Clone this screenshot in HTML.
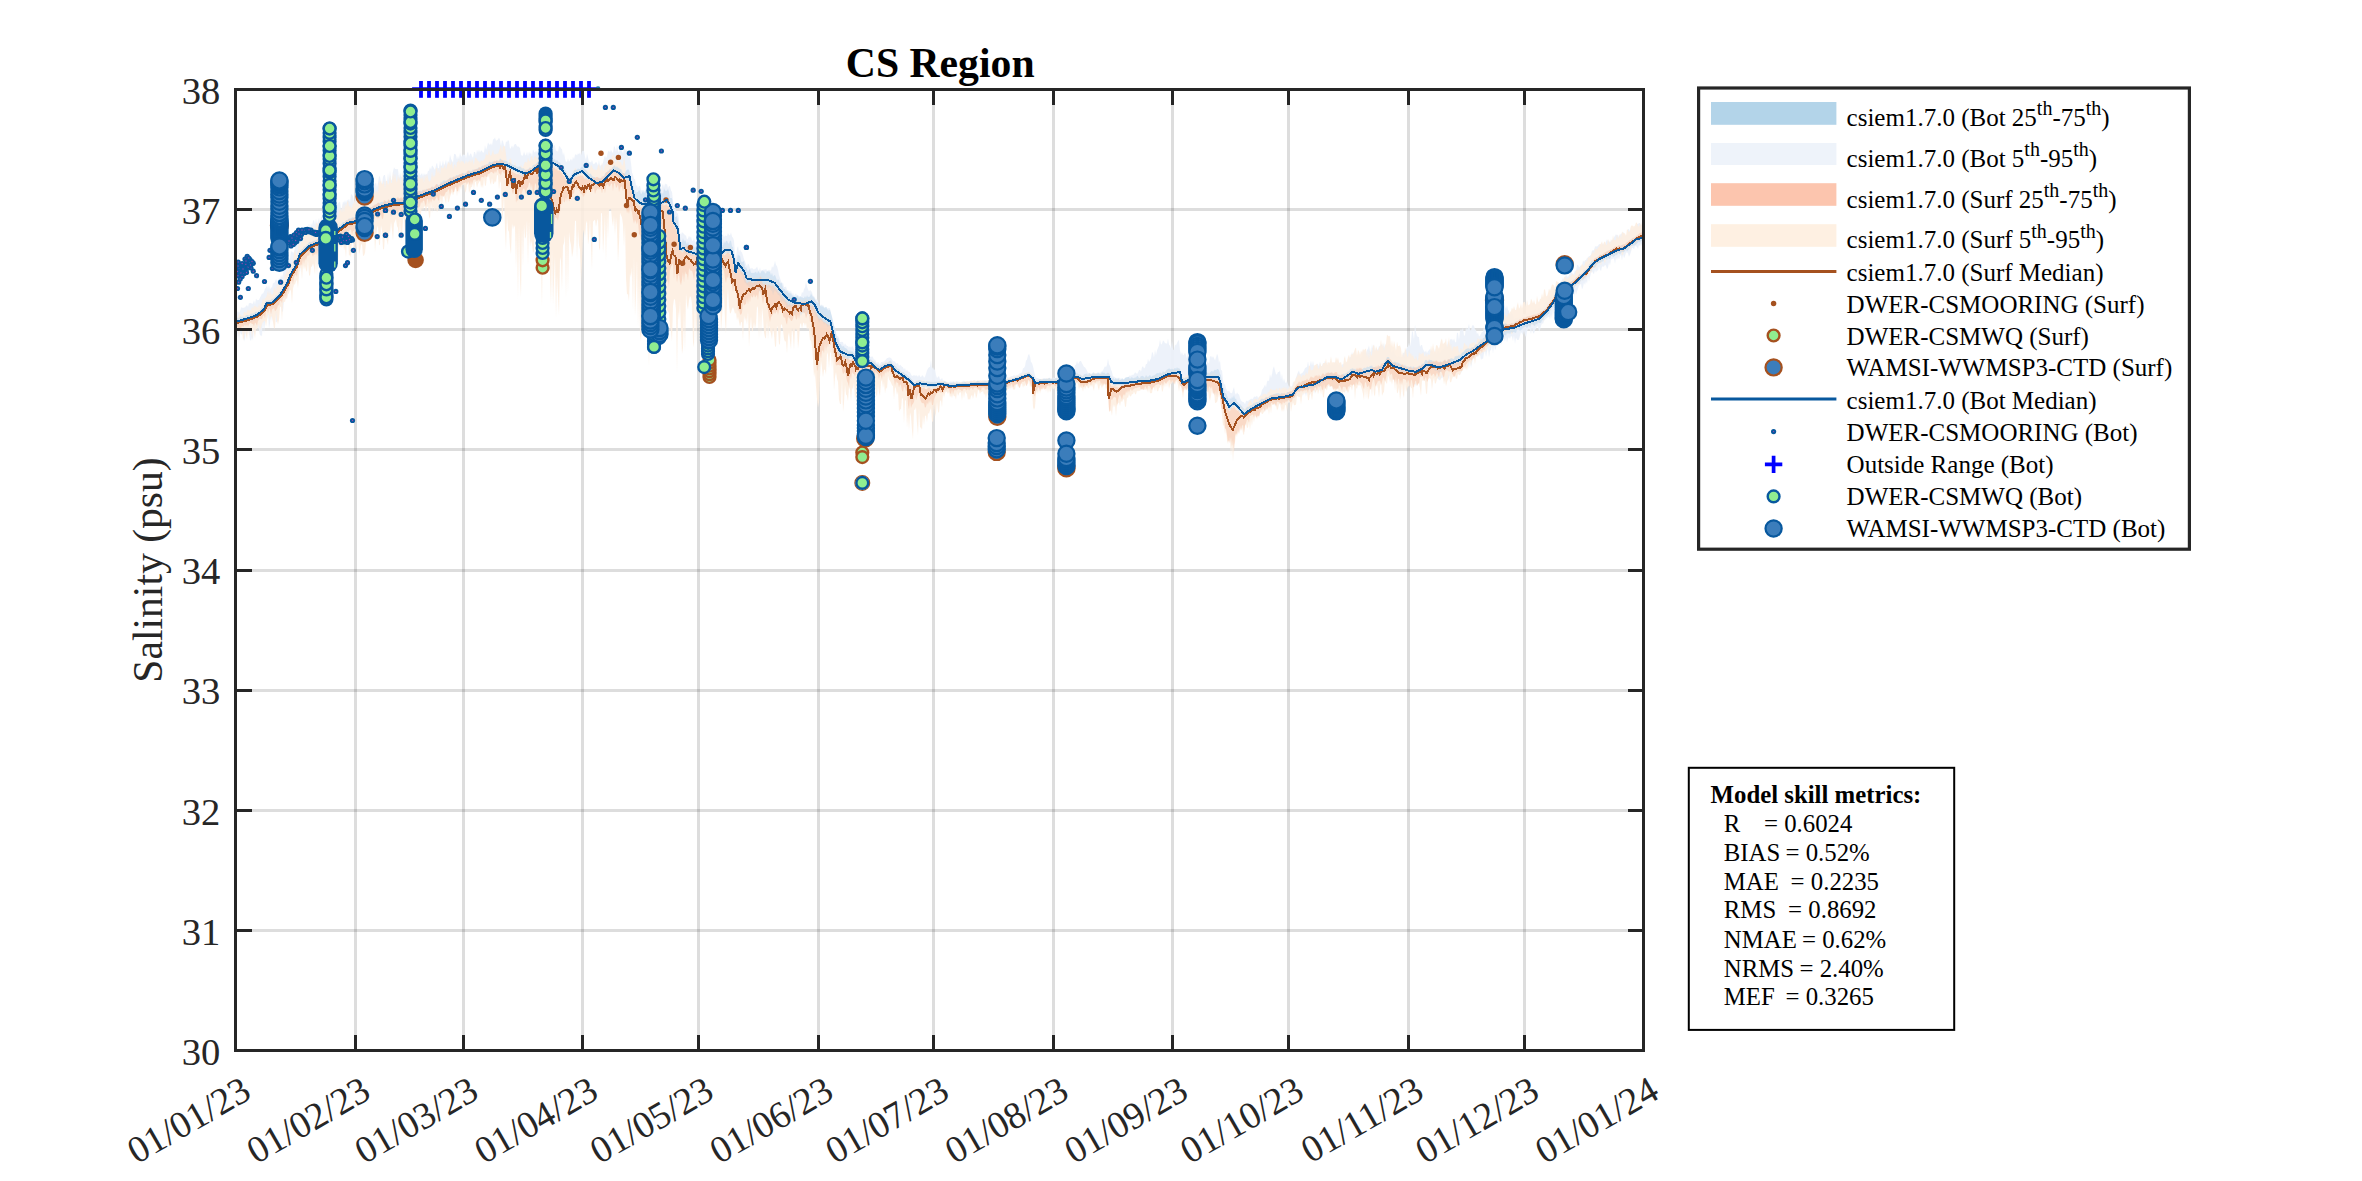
<!DOCTYPE html>
<html><head><meta charset="utf-8"><title>CS Region Salinity</title>
<style>html,body{margin:0;padding:0;background:#fff;}body{width:2362px;height:1181px;overflow:hidden;position:relative;font-family:"Liberation Serif",serif;}</style></head>
<body>
<svg width="2362" height="1181" viewBox="0 0 2362 1181" style="position:absolute;left:0;top:0">
<rect width="2362" height="1181" fill="#ffffff"/>
<g stroke="#262626" stroke-opacity="0.155" stroke-width="3" fill="none" shape-rendering="crispEdges">
<line x1="355.18" y1="89.5" x2="355.18" y2="1050.5"/>
<line x1="463.19" y1="89.5" x2="463.19" y2="1050.5"/>
<line x1="582.78" y1="89.5" x2="582.78" y2="1050.5"/>
<line x1="698.50" y1="89.5" x2="698.50" y2="1050.5"/>
<line x1="818.09" y1="89.5" x2="818.09" y2="1050.5"/>
<line x1="933.81" y1="89.5" x2="933.81" y2="1050.5"/>
<line x1="1053.40" y1="89.5" x2="1053.40" y2="1050.5"/>
<line x1="1172.98" y1="89.5" x2="1172.98" y2="1050.5"/>
<line x1="1288.71" y1="89.5" x2="1288.71" y2="1050.5"/>
<line x1="1408.29" y1="89.5" x2="1408.29" y2="1050.5"/>
<line x1="1524.02" y1="89.5" x2="1524.02" y2="1050.5"/>
<line x1="235.6" y1="930.38" x2="1643.6" y2="930.38"/>
<line x1="235.6" y1="810.25" x2="1643.6" y2="810.25"/>
<line x1="235.6" y1="690.12" x2="1643.6" y2="690.12"/>
<line x1="235.6" y1="570.00" x2="1643.6" y2="570.00"/>
<line x1="235.6" y1="449.88" x2="1643.6" y2="449.88"/>
<line x1="235.6" y1="329.75" x2="1643.6" y2="329.75"/>
<line x1="235.6" y1="209.62" x2="1643.6" y2="209.62"/>
</g>
<g stroke="none">
<path d="M236.0,313.5 L237.0,312.5 L238.0,310.9 L239.0,313.0 L240.0,311.4 L241.0,307.5 L242.0,307.6 L243.0,308.0 L244.0,307.4 L245.0,307.4 L246.0,306.1 L247.0,305.1 L248.0,306.9 L249.0,303.1 L250.0,303.3 L251.0,302.8 L252.0,304.1 L253.0,303.3 L254.0,300.2 L255.0,304.2 L256.0,298.6 L257.0,300.2 L258.0,299.9 L259.0,299.9 L260.0,297.4 L261.0,295.7 L262.0,293.6 L263.0,293.8 L264.0,291.5 L265.0,288.7 L266.0,287.5 L267.0,285.5 L268.0,288.9 L269.0,284.7 L270.0,289.7 L271.0,287.2 L272.0,287.7 L273.0,282.7 L274.0,283.4 L275.0,281.4 L276.0,279.1 L277.0,280.7 L278.0,281.0 L279.0,277.7 L280.0,279.6 L281.0,275.1 L282.0,277.7 L283.0,273.7 L284.0,267.2 L285.0,268.8 L286.0,265.4 L287.0,264.2 L288.0,258.7 L289.0,260.0 L290.0,258.6 L291.0,250.6 L292.0,252.5 L293.0,251.8 L294.0,253.4 L295.0,246.5 L296.0,244.8 L297.0,241.2 L298.0,237.9 L299.0,240.7 L300.0,233.1 L301.0,235.8 L302.0,231.8 L303.0,232.7 L304.0,231.8 L305.0,231.4 L306.0,226.3 L307.0,227.2 L308.0,228.5 L309.0,223.2 L310.0,228.0 L311.0,222.9 L312.0,225.8 L313.0,220.7 L314.0,220.0 L315.0,224.2 L316.0,218.7 L317.0,224.3 L318.0,221.0 L319.0,217.9 L320.0,223.2 L321.0,216.9 L322.0,216.4 L323.0,222.2 L324.0,215.4 L325.0,219.2 L326.0,217.9 L327.0,212.6 L328.0,220.9 L329.0,211.6 L330.0,215.0 L331.0,209.4 L332.0,210.2 L333.0,210.1 L334.0,212.9 L335.0,212.6 L336.0,208.2 L337.0,205.1 L338.0,203.3 L339.0,202.2 L340.0,201.6 L341.0,209.6 L342.0,207.1 L343.0,201.3 L344.0,203.0 L345.0,200.1 L346.0,202.9 L347.0,199.8 L348.0,200.8 L349.0,198.7 L350.0,202.2 L351.0,194.1 L352.0,194.8 L353.0,196.6 L354.0,202.4 L355.0,199.8 L356.0,197.6 L357.0,193.1 L358.0,200.1 L359.0,198.6 L360.0,188.8 L361.0,197.6 L362.0,194.4 L363.0,193.3 L364.0,190.0 L365.0,193.6 L366.0,193.6 L367.0,186.4 L368.0,192.7 L369.0,188.8 L370.0,183.5 L371.0,182.6 L372.0,186.0 L373.0,184.6 L374.0,184.7 L375.0,183.8 L376.0,182.5 L377.0,187.3 L378.0,182.8 L379.0,176.5 L380.0,176.4 L381.0,183.0 L382.0,184.0 L383.0,177.0 L384.0,174.9 L385.0,175.1 L386.0,182.2 L387.0,182.9 L388.0,172.8 L389.0,180.9 L390.0,170.3 L391.0,180.8 L392.0,179.0 L393.0,171.4 L394.0,167.3 L395.0,168.9 L396.0,168.9 L397.0,169.2 L398.0,169.1 L399.0,178.6 L400.0,172.3 L401.0,176.8 L402.0,177.0 L403.0,170.9 L404.0,176.1 L405.0,176.3 L406.0,179.5 L407.0,168.7 L408.0,171.4 L409.0,172.0 L410.0,172.2 L411.0,174.3 L412.0,169.6 L413.0,178.3 L414.0,169.5 L415.0,174.4 L416.0,177.0 L417.0,176.8 L418.0,175.5 L419.0,171.8 L420.0,175.6 L421.0,174.5 L422.0,173.0 L423.0,175.9 L424.0,173.0 L425.0,175.4 L426.0,173.6 L427.0,174.8 L428.0,171.1 L429.0,170.8 L430.0,166.9 L431.0,169.7 L432.0,165.5 L433.0,166.3 L434.0,168.3 L435.0,170.0 L436.0,165.0 L437.0,162.5 L438.0,168.6 L439.0,168.0 L440.0,160.6 L441.0,166.1 L442.0,164.9 L443.0,160.0 L444.0,166.0 L445.0,163.3 L446.0,159.7 L447.0,165.3 L448.0,160.5 L449.0,162.6 L450.0,154.6 L451.0,158.6 L452.0,161.1 L453.0,162.5 L454.0,154.2 L455.0,153.7 L456.0,155.1 L457.0,159.5 L458.0,155.8 L459.0,159.3 L460.0,152.4 L461.0,156.3 L462.0,156.4 L463.0,154.1 L464.0,155.3 L465.0,154.3 L466.0,158.3 L467.0,153.8 L468.0,151.2 L469.0,156.4 L470.0,153.9 L471.0,153.3 L472.0,156.1 L473.0,158.0 L474.0,152.1 L475.0,152.1 L476.0,155.5 L477.0,149.8 L478.0,152.4 L479.0,149.5 L480.0,152.8 L481.0,150.3 L482.0,151.3 L483.0,152.8 L484.0,152.2 L485.0,145.1 L486.0,150.0 L487.0,147.1 L488.0,142.5 L489.0,143.9 L490.0,145.1 L491.0,143.1 L492.0,145.6 L493.0,139.4 L494.0,139.0 L495.0,137.4 L496.0,141.1 L497.0,140.1 L498.0,139.4 L499.0,137.5 L500.0,139.8 L501.0,146.1 L502.0,139.8 L503.0,141.5 L504.0,145.1 L505.0,146.9 L506.0,141.2 L507.0,142.3 L508.0,139.7 L509.0,141.2 L510.0,149.0 L511.0,147.7 L512.0,145.3 L513.0,148.0 L514.0,144.9 L515.0,143.9 L516.0,144.0 L517.0,146.5 L518.0,146.6 L519.0,146.7 L520.0,148.3 L521.0,154.8 L522.0,155.7 L523.0,155.6 L524.0,151.4 L525.0,154.5 L526.0,155.6 L527.0,151.6 L528.0,156.2 L529.0,151.6 L530.0,154.2 L531.0,152.2 L532.0,156.5 L533.0,149.6 L534.0,151.4 L535.0,152.7 L536.0,150.4 L537.0,152.7 L538.0,150.9 L539.0,151.3 L540.0,147.9 L541.0,145.6 L542.0,147.6 L543.0,150.1 L544.0,148.3 L545.0,146.0 L546.0,144.5 L547.0,148.4 L548.0,143.8 L549.0,143.5 L550.0,142.4 L551.0,147.8 L552.0,143.5 L553.0,147.2 L554.0,144.7 L555.0,146.0 L556.0,150.9 L557.0,150.5 L558.0,152.0 L559.0,146.3 L560.0,146.4 L561.0,148.4 L562.0,149.0 L563.0,155.4 L564.0,152.2 L565.0,158.7 L566.0,161.7 L567.0,161.6 L568.0,158.6 L569.0,161.6 L570.0,160.6 L571.0,158.5 L572.0,161.0 L573.0,156.7 L574.0,159.3 L575.0,154.8 L576.0,154.3 L577.0,155.5 L578.0,153.2 L579.0,154.6 L580.0,152.4 L581.0,155.4 L582.0,151.6 L583.0,150.5 L584.0,151.2 L585.0,156.7 L586.0,159.8 L587.0,153.4 L588.0,157.5 L589.0,162.2 L590.0,161.5 L591.0,162.8 L592.0,159.8 L593.0,163.5 L594.0,164.2 L595.0,163.1 L596.0,162.1 L597.0,162.9 L598.0,165.7 L599.0,159.8 L600.0,166.6 L601.0,164.7 L602.0,165.1 L603.0,162.7 L604.0,158.0 L605.0,155.5 L606.0,158.2 L607.0,156.1 L608.0,151.5 L609.0,150.7 L610.0,152.3 L611.0,149.4 L612.0,151.9 L613.0,153.0 L614.0,146.1 L615.0,147.2 L616.0,151.9 L617.0,144.4 L618.0,150.4 L619.0,153.1 L620.0,146.7 L621.0,148.1 L622.0,151.6 L623.0,153.2 L624.0,149.2 L625.0,148.7 L626.0,151.1 L627.0,149.3 L628.0,156.6 L629.0,158.0 L630.0,155.9 L631.0,163.1 L632.0,172.6 L633.0,175.1 L634.0,179.1 L635.0,179.3 L636.0,185.7 L637.0,184.9 L638.0,188.1 L639.0,186.0 L640.0,185.9 L641.0,190.1 L642.0,190.7 L643.0,189.5 L644.0,190.7 L645.0,191.1 L646.0,187.2 L647.0,190.9 L648.0,187.6 L649.0,191.8 L650.0,189.1 L651.0,192.2 L652.0,187.5 L653.0,186.0 L654.0,185.7 L655.0,190.7 L656.0,188.9 L657.0,191.2 L658.0,190.7 L659.0,189.4 L660.0,188.0 L661.0,190.3 L662.0,186.1 L663.0,183.7 L664.0,187.6 L665.0,183.5 L666.0,184.5 L667.0,184.1 L668.0,188.0 L669.0,186.0 L670.0,186.2 L671.0,190.5 L672.0,192.1 L673.0,200.5 L674.0,209.5 L675.0,207.7 L676.0,210.3 L677.0,213.4 L678.0,213.3 L679.0,219.8 L680.0,232.7 L681.0,234.8 L682.0,232.1 L683.0,233.3 L684.0,233.8 L685.0,235.5 L686.0,235.3 L687.0,239.6 L688.0,238.5 L689.0,235.8 L690.0,237.8 L691.0,236.7 L692.0,240.2 L693.0,241.0 L694.0,237.8 L695.0,241.8 L696.0,242.4 L697.0,243.0 L698.0,244.1 L699.0,243.6 L700.0,241.9 L701.0,240.2 L702.0,240.1 L703.0,242.9 L704.0,244.0 L705.0,241.6 L706.0,241.1 L707.0,242.7 L708.0,243.1 L709.0,242.8 L710.0,239.8 L711.0,242.7 L712.0,238.9 L713.0,242.1 L714.0,237.8 L715.0,237.1 L716.0,240.4 L717.0,240.1 L718.0,240.6 L719.0,241.3 L720.0,239.8 L721.0,241.4 L722.0,235.7 L723.0,234.3 L724.0,237.2 L725.0,235.2 L726.0,236.0 L727.0,235.8 L728.0,232.9 L729.0,235.1 L730.0,235.3 L731.0,232.6 L732.0,236.5 L733.0,237.8 L734.0,240.6 L735.0,254.0 L736.0,257.3 L737.0,248.6 L738.0,245.9 L739.0,252.6 L740.0,249.1 L741.0,251.4 L742.0,252.4 L743.0,255.4 L744.0,259.3 L745.0,261.4 L746.0,264.3 L747.0,266.5 L748.0,263.5 L749.0,264.7 L750.0,268.3 L751.0,268.7 L752.0,267.8 L753.0,269.0 L754.0,269.6 L755.0,268.8 L756.0,268.5 L757.0,266.4 L758.0,269.2 L759.0,271.1 L760.0,267.4 L761.0,271.3 L762.0,269.9 L763.0,270.0 L764.0,269.3 L765.0,269.9 L766.0,268.7 L767.0,270.7 L768.0,270.5 L769.0,269.8 L770.0,270.6 L771.0,270.4 L772.0,266.1 L773.0,268.0 L774.0,264.7 L775.0,260.9 L776.0,264.7 L777.0,266.2 L778.0,269.8 L779.0,275.2 L780.0,278.2 L781.0,281.3 L782.0,283.4 L783.0,282.4 L784.0,286.9 L785.0,287.1 L786.0,286.4 L787.0,290.0 L788.0,290.4 L789.0,290.5 L790.0,291.9 L791.0,290.3 L792.0,294.4 L793.0,292.4 L794.0,295.6 L795.0,294.6 L796.0,293.2 L797.0,295.5 L798.0,294.8 L799.0,296.3 L800.0,296.9 L801.0,295.8 L802.0,292.1 L803.0,293.0 L804.0,289.3 L805.0,287.2 L806.0,281.6 L807.0,286.5 L808.0,289.3 L809.0,291.4 L810.0,290.0 L811.0,290.8 L812.0,292.4 L813.0,295.8 L814.0,295.9 L815.0,297.9 L816.0,299.7 L817.0,298.9 L818.0,301.0 L819.0,305.2 L820.0,306.5 L821.0,305.7 L822.0,304.3 L823.0,306.8 L824.0,308.4 L825.0,308.4 L826.0,308.5 L827.0,309.5 L828.0,308.2 L829.0,307.9 L830.0,308.4 L831.0,313.9 L832.0,317.0 L833.0,320.2 L834.0,325.3 L835.0,327.9 L836.0,332.4 L837.0,335.8 L838.0,336.3 L839.0,338.1 L840.0,342.0 L841.0,342.1 L842.0,341.7 L843.0,342.3 L844.0,345.5 L845.0,343.2 L846.0,345.1 L847.0,346.1 L848.0,346.0 L849.0,347.7 L850.0,346.1 L851.0,347.9 L852.0,346.1 L853.0,346.9 L854.0,349.3 L855.0,353.4 L856.0,352.2 L857.0,353.3 L858.0,354.3 L859.0,353.6 L860.0,355.3 L861.0,354.9 L862.0,355.6 L863.0,355.8 L864.0,354.8 L865.0,356.6 L866.0,356.4 L867.0,356.6 L868.0,355.7 L869.0,354.9 L870.0,356.5 L871.0,357.0 L872.0,356.2 L873.0,357.3 L874.0,359.8 L875.0,359.5 L876.0,361.6 L877.0,363.2 L878.0,361.7 L879.0,362.9 L880.0,364.5 L881.0,362.0 L882.0,362.1 L883.0,361.8 L884.0,361.5 L885.0,360.5 L886.0,359.5 L887.0,358.0 L888.0,357.9 L889.0,357.3 L890.0,357.8 L891.0,358.0 L892.0,359.6 L893.0,360.9 L894.0,361.3 L895.0,361.4 L896.0,363.5 L897.0,363.5 L898.0,362.9 L899.0,366.1 L900.0,364.7 L901.0,365.4 L902.0,366.8 L903.0,367.3 L904.0,369.7 L905.0,367.8 L906.0,371.6 L907.0,369.6 L908.0,371.5 L909.0,371.7 L910.0,372.2 L911.0,374.6 L912.0,376.0 L913.0,375.8 L914.0,375.1 L915.0,375.7 L916.0,375.4 L917.0,375.6 L918.0,376.9 L919.0,374.6 L920.0,376.4 L921.0,377.0 L922.0,375.5 L923.0,375.5 L924.0,377.7 L925.0,376.8 L926.0,373.7 L927.0,370.4 L928.0,368.6 L929.0,367.3 L930.0,367.0 L931.0,360.1 L932.0,368.7 L933.0,366.9 L934.0,370.1 L935.0,369.2 L936.0,374.9 L937.0,377.9 L938.0,377.0 L939.0,376.1 L940.0,379.2 L941.0,379.6 L942.0,377.8 L943.0,380.4 L944.0,380.5 L945.0,381.1 L946.0,381.7 L947.0,381.9 L948.0,382.2 L949.0,382.2 L950.0,381.5 L951.0,381.5 L952.0,381.7 L953.0,381.6 L954.0,381.1 L955.0,382.5 L956.0,381.0 L957.0,381.3 L958.0,381.8 L959.0,381.4 L960.0,381.9 L961.0,381.9 L962.0,381.8 L963.0,381.2 L964.0,380.6 L965.0,381.8 L966.0,381.9 L967.0,381.0 L968.0,381.5 L969.0,381.7 L970.0,381.0 L971.0,380.3 L972.0,381.1 L973.0,381.5 L974.0,380.3 L975.0,380.3 L976.0,381.0 L977.0,381.0 L978.0,380.3 L979.0,381.1 L980.0,380.6 L981.0,380.6 L982.0,381.0 L983.0,380.4 L984.0,380.0 L985.0,380.1 L986.0,380.3 L987.0,381.2 L988.0,380.1 L989.0,380.4 L990.0,380.7 L991.0,379.8 L992.0,380.8 L993.0,379.7 L994.0,380.3 L995.0,379.4 L996.0,380.5 L997.0,380.0 L998.0,379.0 L999.0,380.1 L1000.0,379.8 L1001.0,378.7 L1002.0,378.5 L1003.0,379.1 L1004.0,378.6 L1005.0,378.6 L1006.0,378.5 L1007.0,377.3 L1008.0,377.2 L1009.0,377.8 L1010.0,377.6 L1011.0,376.0 L1012.0,376.2 L1013.0,376.1 L1014.0,374.9 L1015.0,375.7 L1016.0,375.5 L1017.0,375.0 L1018.0,375.0 L1019.0,373.9 L1020.0,372.9 L1021.0,373.3 L1022.0,372.2 L1023.0,368.3 L1024.0,368.1 L1025.0,366.0 L1026.0,360.8 L1027.0,359.5 L1028.0,355.6 L1029.0,353.7 L1030.0,356.5 L1031.0,362.1 L1032.0,363.0 L1033.0,366.2 L1034.0,371.1 L1035.0,375.3 L1036.0,377.7 L1037.0,377.9 L1038.0,378.1 L1039.0,378.8 L1040.0,379.0 L1041.0,379.0 L1042.0,378.9 L1043.0,378.6 L1044.0,378.3 L1045.0,378.3 L1046.0,379.0 L1047.0,378.3 L1048.0,378.3 L1049.0,377.8 L1050.0,377.8 L1051.0,378.9 L1052.0,378.8 L1053.0,377.6 L1054.0,377.7 L1055.0,378.4 L1056.0,378.6 L1057.0,377.0 L1058.0,377.1 L1059.0,376.9 L1060.0,376.4 L1061.0,377.0 L1062.0,375.2 L1063.0,375.6 L1064.0,374.7 L1065.0,375.0 L1066.0,375.4 L1067.0,373.8 L1068.0,374.5 L1069.0,374.4 L1070.0,373.5 L1071.0,373.0 L1072.0,373.1 L1073.0,370.1 L1074.0,369.7 L1075.0,365.2 L1076.0,364.7 L1077.0,360.8 L1078.0,364.2 L1079.0,362.3 L1080.0,361.1 L1081.0,361.1 L1082.0,363.2 L1083.0,365.0 L1084.0,367.0 L1085.0,367.2 L1086.0,369.0 L1087.0,370.5 L1088.0,373.0 L1089.0,372.7 L1090.0,373.7 L1091.0,373.2 L1092.0,374.3 L1093.0,374.2 L1094.0,374.0 L1095.0,374.5 L1096.0,373.4 L1097.0,374.4 L1098.0,373.3 L1099.0,372.4 L1100.0,373.0 L1101.0,372.1 L1102.0,371.2 L1103.0,370.6 L1104.0,368.1 L1105.0,366.2 L1106.0,367.2 L1107.0,364.8 L1108.0,358.4 L1109.0,364.3 L1110.0,366.0 L1111.0,369.6 L1112.0,371.9 L1113.0,376.3 L1114.0,376.8 L1115.0,377.6 L1116.0,378.1 L1117.0,379.0 L1118.0,377.6 L1119.0,378.1 L1120.0,377.7 L1121.0,379.2 L1122.0,379.6 L1123.0,379.8 L1124.0,379.2 L1125.0,378.5 L1126.0,377.8 L1127.0,378.4 L1128.0,377.6 L1129.0,376.0 L1130.0,375.2 L1131.0,376.2 L1132.0,374.6 L1133.0,375.2 L1134.0,373.9 L1135.0,372.4 L1136.0,372.7 L1137.0,373.9 L1138.0,372.4 L1139.0,370.2 L1140.0,369.7 L1141.0,371.8 L1142.0,367.2 L1143.0,366.3 L1144.0,368.5 L1145.0,367.5 L1146.0,363.8 L1147.0,364.3 L1148.0,358.7 L1149.0,361.9 L1150.0,360.2 L1151.0,358.2 L1152.0,352.1 L1153.0,353.0 L1154.0,357.8 L1155.0,349.4 L1156.0,355.3 L1157.0,350.2 L1158.0,348.1 L1159.0,345.6 L1160.0,339.3 L1161.0,344.8 L1162.0,343.4 L1163.0,340.4 L1164.0,341.0 L1165.0,343.6 L1166.0,342.9 L1167.0,344.0 L1168.0,338.6 L1169.0,344.6 L1170.0,345.7 L1171.0,348.5 L1172.0,340.7 L1173.0,349.3 L1174.0,350.3 L1175.0,344.4 L1176.0,345.4 L1177.0,343.1 L1178.0,340.9 L1179.0,340.1 L1180.0,350.2 L1181.0,355.0 L1182.0,352.0 L1183.0,355.2 L1184.0,354.6 L1185.0,352.7 L1186.0,355.1 L1187.0,358.2 L1188.0,351.5 L1189.0,362.0 L1190.0,360.2 L1191.0,360.9 L1192.0,356.3 L1193.0,355.2 L1194.0,356.6 L1195.0,362.8 L1196.0,361.7 L1197.0,364.9 L1198.0,361.9 L1199.0,360.9 L1200.0,364.1 L1201.0,364.3 L1202.0,362.9 L1203.0,364.2 L1204.0,363.4 L1205.0,364.5 L1206.0,360.1 L1207.0,361.6 L1208.0,362.5 L1209.0,363.3 L1210.0,356.9 L1211.0,355.8 L1212.0,357.8 L1213.0,356.2 L1214.0,358.0 L1215.0,360.6 L1216.0,357.6 L1217.0,353.7 L1218.0,356.0 L1219.0,362.7 L1220.0,359.9 L1221.0,370.2 L1222.0,370.2 L1223.0,379.6 L1224.0,384.4 L1225.0,384.1 L1226.0,388.2 L1227.0,390.6 L1228.0,391.6 L1229.0,390.2 L1230.0,392.5 L1231.0,392.9 L1232.0,393.3 L1233.0,389.8 L1234.0,387.1 L1235.0,393.1 L1236.0,394.7 L1237.0,392.2 L1238.0,394.1 L1239.0,394.4 L1240.0,398.1 L1241.0,400.5 L1242.0,401.5 L1243.0,402.1 L1244.0,402.3 L1245.0,404.2 L1246.0,401.1 L1247.0,400.7 L1248.0,401.5 L1249.0,399.9 L1250.0,399.8 L1251.0,398.6 L1252.0,398.9 L1253.0,398.8 L1254.0,396.6 L1255.0,396.7 L1256.0,396.8 L1257.0,395.5 L1258.0,398.0 L1259.0,396.9 L1260.0,395.8 L1261.0,394.3 L1262.0,389.7 L1263.0,388.5 L1264.0,386.9 L1265.0,384.6 L1266.0,387.3 L1267.0,381.4 L1268.0,380.6 L1269.0,380.9 L1270.0,374.3 L1271.0,378.0 L1272.0,373.9 L1273.0,368.4 L1274.0,366.3 L1275.0,370.5 L1276.0,374.5 L1277.0,374.2 L1278.0,372.1 L1279.0,372.1 L1280.0,370.4 L1281.0,379.2 L1282.0,373.4 L1283.0,381.8 L1284.0,378.4 L1285.0,382.0 L1286.0,383.2 L1287.0,381.1 L1288.0,384.2 L1289.0,386.8 L1290.0,386.7 L1291.0,386.3 L1292.0,386.5 L1293.0,381.7 L1294.0,383.0 L1295.0,381.9 L1296.0,377.3 L1297.0,375.0 L1298.0,372.0 L1299.0,370.5 L1300.0,374.6 L1301.0,373.6 L1302.0,373.2 L1303.0,372.2 L1304.0,370.4 L1305.0,367.9 L1306.0,367.4 L1307.0,367.1 L1308.0,361.6 L1309.0,367.1 L1310.0,364.9 L1311.0,360.4 L1312.0,365.4 L1313.0,360.8 L1314.0,365.9 L1315.0,367.0 L1316.0,367.6 L1317.0,363.4 L1318.0,364.3 L1319.0,366.6 L1320.0,361.2 L1321.0,365.9 L1322.0,366.1 L1323.0,363.1 L1324.0,363.4 L1325.0,360.7 L1326.0,364.6 L1327.0,361.9 L1328.0,365.9 L1329.0,364.6 L1330.0,363.1 L1331.0,366.8 L1332.0,362.0 L1333.0,365.1 L1334.0,364.1 L1335.0,361.6 L1336.0,362.6 L1337.0,362.8 L1338.0,364.2 L1339.0,365.5 L1340.0,361.8 L1341.0,367.1 L1342.0,364.2 L1343.0,364.5 L1344.0,363.6 L1345.0,363.2 L1346.0,362.1 L1347.0,362.1 L1348.0,361.6 L1349.0,357.8 L1350.0,356.7 L1351.0,357.3 L1352.0,351.9 L1353.0,355.0 L1354.0,353.9 L1355.0,350.6 L1356.0,357.6 L1357.0,355.3 L1358.0,356.7 L1359.0,352.2 L1360.0,358.2 L1361.0,357.1 L1362.0,356.1 L1363.0,349.4 L1364.0,354.0 L1365.0,349.6 L1366.0,353.2 L1367.0,350.3 L1368.0,348.4 L1369.0,345.6 L1370.0,351.6 L1371.0,352.0 L1372.0,344.2 L1373.0,348.7 L1374.0,343.8 L1375.0,351.3 L1376.0,348.4 L1377.0,349.5 L1378.0,350.1 L1379.0,345.8 L1380.0,346.6 L1381.0,344.9 L1382.0,343.7 L1383.0,347.8 L1384.0,342.7 L1385.0,348.2 L1386.0,343.6 L1387.0,346.1 L1388.0,344.4 L1389.0,343.8 L1390.0,343.5 L1391.0,350.8 L1392.0,352.8 L1393.0,348.4 L1394.0,351.1 L1395.0,354.6 L1396.0,354.8 L1397.0,357.6 L1398.0,356.4 L1399.0,355.5 L1400.0,357.6 L1401.0,356.6 L1402.0,357.4 L1403.0,353.0 L1404.0,353.3 L1405.0,350.9 L1406.0,350.0 L1407.0,347.3 L1408.0,346.5 L1409.0,342.8 L1410.0,346.4 L1411.0,341.8 L1412.0,330.7 L1413.0,332.2 L1414.0,340.0 L1415.0,324.4 L1416.0,332.3 L1417.0,336.0 L1418.0,337.0 L1419.0,336.9 L1420.0,347.1 L1421.0,345.1 L1422.0,345.1 L1423.0,349.0 L1424.0,350.9 L1425.0,352.3 L1426.0,350.3 L1427.0,353.2 L1428.0,351.1 L1429.0,350.2 L1430.0,348.8 L1431.0,351.2 L1432.0,350.1 L1433.0,352.1 L1434.0,353.9 L1435.0,348.6 L1436.0,353.7 L1437.0,351.7 L1438.0,350.2 L1439.0,351.6 L1440.0,353.5 L1441.0,350.6 L1442.0,350.0 L1443.0,348.9 L1444.0,348.7 L1445.0,344.3 L1446.0,343.7 L1447.0,347.5 L1448.0,340.6 L1449.0,347.1 L1450.0,339.0 L1451.0,339.7 L1452.0,338.8 L1453.0,341.1 L1454.0,338.5 L1455.0,341.4 L1456.0,342.7 L1457.0,332.7 L1458.0,332.9 L1459.0,340.1 L1460.0,330.7 L1461.0,328.9 L1462.0,330.7 L1463.0,327.2 L1464.0,335.9 L1465.0,335.0 L1466.0,327.1 L1467.0,330.0 L1468.0,327.8 L1469.0,324.1 L1470.0,329.7 L1471.0,330.6 L1472.0,325.6 L1473.0,325.2 L1474.0,325.8 L1475.0,329.5 L1476.0,329.7 L1477.0,334.2 L1478.0,332.4 L1479.0,336.5 L1480.0,335.5 L1481.0,333.7 L1482.0,331.7 L1483.0,331.9 L1484.0,326.4 L1485.0,330.6 L1486.0,323.9 L1487.0,322.3 L1488.0,322.0 L1489.0,319.8 L1490.0,321.5 L1491.0,313.9 L1492.0,316.9 L1493.0,311.4 L1494.0,308.0 L1495.0,307.7 L1496.0,310.1 L1497.0,308.4 L1498.0,311.5 L1499.0,300.5 L1500.0,307.9 L1501.0,306.6 L1502.0,307.4 L1503.0,303.9 L1504.0,301.6 L1505.0,306.5 L1506.0,308.8 L1507.0,305.3 L1508.0,310.1 L1509.0,310.9 L1510.0,316.0 L1511.0,311.9 L1512.0,313.1 L1513.0,314.6 L1514.0,319.2 L1515.0,318.0 L1516.0,317.8 L1517.0,318.2 L1518.0,316.7 L1519.0,318.2 L1520.0,315.2 L1521.0,318.2 L1522.0,315.3 L1523.0,313.8 L1524.0,314.1 L1525.0,314.3 L1526.0,312.4 L1527.0,314.6 L1528.0,311.3 L1529.0,314.6 L1530.0,311.5 L1531.0,311.2 L1532.0,310.4 L1533.0,310.5 L1534.0,310.0 L1535.0,309.0 L1536.0,308.4 L1537.0,311.2 L1538.0,307.1 L1539.0,308.7 L1540.0,307.3 L1541.0,307.2 L1542.0,307.9 L1543.0,306.5 L1544.0,303.7 L1545.0,302.1 L1546.0,302.2 L1547.0,300.5 L1548.0,296.8 L1549.0,295.8 L1550.0,296.7 L1551.0,295.5 L1552.0,292.2 L1553.0,290.3 L1554.0,290.0 L1555.0,286.3 L1556.0,288.5 L1557.0,284.2 L1558.0,282.5 L1559.0,282.6 L1560.0,283.9 L1561.0,280.9 L1562.0,280.5 L1563.0,277.2 L1564.0,280.5 L1565.0,277.2 L1566.0,274.8 L1567.0,276.2 L1568.0,277.1 L1569.0,275.0 L1570.0,272.4 L1571.0,270.6 L1572.0,273.1 L1573.0,274.0 L1574.0,273.3 L1575.0,269.9 L1576.0,271.3 L1577.0,265.3 L1578.0,264.8 L1579.0,267.3 L1580.0,266.5 L1581.0,265.1 L1582.0,265.9 L1583.0,260.2 L1584.0,262.1 L1585.0,259.9 L1586.0,260.2 L1587.0,257.8 L1588.0,257.7 L1589.0,256.0 L1590.0,255.9 L1591.0,254.8 L1592.0,250.5 L1593.0,250.5 L1594.0,250.1 L1595.0,246.5 L1596.0,246.2 L1597.0,246.4 L1598.0,245.8 L1599.0,244.3 L1600.0,243.9 L1601.0,244.6 L1602.0,245.0 L1603.0,242.9 L1604.0,244.8 L1605.0,244.7 L1606.0,242.1 L1607.0,239.1 L1608.0,242.5 L1609.0,240.5 L1610.0,242.6 L1611.0,241.0 L1612.0,240.0 L1613.0,239.6 L1614.0,237.6 L1615.0,235.8 L1616.0,234.2 L1617.0,235.4 L1618.0,234.8 L1619.0,237.8 L1620.0,234.6 L1621.0,234.3 L1622.0,233.2 L1623.0,231.8 L1624.0,233.2 L1625.0,236.0 L1626.0,235.0 L1627.0,235.3 L1628.0,229.5 L1629.0,229.1 L1630.0,232.3 L1631.0,227.0 L1632.0,229.7 L1633.0,228.3 L1634.0,228.6 L1635.0,225.5 L1636.0,227.6 L1637.0,223.9 L1638.0,224.1 L1639.0,223.1 L1640.0,222.9 L1641.0,225.2 L1642.0,224.7 L1643.0,222.0 L1643.0,242.8 L1642.0,246.0 L1641.0,243.2 L1640.0,246.2 L1639.0,244.8 L1638.0,249.1 L1637.0,247.0 L1636.0,246.3 L1635.0,245.9 L1634.0,249.3 L1633.0,247.9 L1632.0,248.0 L1631.0,251.5 L1630.0,254.4 L1629.0,256.7 L1628.0,253.3 L1627.0,252.2 L1626.0,252.8 L1625.0,255.9 L1624.0,258.2 L1623.0,254.2 L1622.0,260.4 L1621.0,254.9 L1620.0,256.1 L1619.0,259.8 L1618.0,257.1 L1617.0,260.3 L1616.0,257.7 L1615.0,263.8 L1614.0,258.6 L1613.0,258.8 L1612.0,259.1 L1611.0,259.8 L1610.0,265.6 L1609.0,262.3 L1608.0,267.5 L1607.0,269.2 L1606.0,265.8 L1605.0,264.8 L1604.0,266.7 L1603.0,266.5 L1602.0,266.6 L1601.0,271.3 L1600.0,269.4 L1599.0,266.3 L1598.0,271.0 L1597.0,270.1 L1596.0,272.7 L1595.0,269.3 L1594.0,274.2 L1593.0,273.1 L1592.0,271.2 L1591.0,273.1 L1590.0,277.1 L1589.0,281.7 L1588.0,276.5 L1587.0,283.7 L1586.0,280.9 L1585.0,284.9 L1584.0,282.4 L1583.0,287.3 L1582.0,289.5 L1581.0,283.7 L1580.0,284.8 L1579.0,285.8 L1578.0,289.1 L1577.0,291.2 L1576.0,294.7 L1575.0,290.6 L1574.0,297.6 L1573.0,290.7 L1572.0,298.9 L1571.0,292.4 L1570.0,300.9 L1569.0,294.7 L1568.0,295.9 L1567.0,296.8 L1566.0,295.9 L1565.0,298.3 L1564.0,299.4 L1563.0,298.8 L1562.0,302.4 L1561.0,300.6 L1560.0,303.1 L1559.0,305.8 L1558.0,303.3 L1557.0,303.9 L1556.0,305.1 L1555.0,307.2 L1554.0,315.1 L1553.0,309.0 L1552.0,318.8 L1551.0,314.1 L1550.0,319.2 L1549.0,316.4 L1548.0,317.3 L1547.0,317.8 L1546.0,318.7 L1545.0,319.8 L1544.0,320.8 L1543.0,324.1 L1542.0,323.1 L1541.0,325.9 L1540.0,330.0 L1539.0,331.6 L1538.0,326.5 L1537.0,326.6 L1536.0,328.8 L1535.0,329.9 L1534.0,333.6 L1533.0,333.0 L1532.0,327.8 L1531.0,334.2 L1530.0,329.4 L1529.0,329.1 L1528.0,329.3 L1527.0,331.8 L1526.0,337.3 L1525.0,334.9 L1524.0,330.8 L1523.0,334.9 L1522.0,333.2 L1521.0,332.3 L1520.0,335.6 L1519.0,339.4 L1518.0,340.0 L1517.0,339.7 L1516.0,337.6 L1515.0,344.0 L1514.0,335.5 L1513.0,341.1 L1512.0,336.9 L1511.0,335.8 L1510.0,338.9 L1509.0,337.0 L1508.0,338.8 L1507.0,342.3 L1506.0,337.1 L1505.0,341.5 L1504.0,339.2 L1503.0,339.2 L1502.0,342.1 L1501.0,344.9 L1500.0,341.0 L1499.0,340.6 L1498.0,346.7 L1497.0,342.3 L1496.0,348.5 L1495.0,350.0 L1494.0,345.5 L1493.0,353.4 L1492.0,345.8 L1491.0,350.3 L1490.0,350.4 L1489.0,357.6 L1488.0,348.2 L1487.0,351.4 L1486.0,357.1 L1485.0,350.2 L1484.0,353.6 L1483.0,359.1 L1482.0,358.5 L1481.0,359.9 L1480.0,354.8 L1479.0,355.4 L1478.0,356.9 L1477.0,356.2 L1476.0,357.2 L1475.0,358.7 L1474.0,358.9 L1473.0,358.4 L1472.0,363.1 L1471.0,367.9 L1470.0,360.5 L1469.0,369.1 L1468.0,363.4 L1467.0,361.4 L1466.0,362.8 L1465.0,363.7 L1464.0,364.7 L1463.0,366.5 L1462.0,371.2 L1461.0,372.9 L1460.0,374.2 L1459.0,369.0 L1458.0,373.4 L1457.0,373.7 L1456.0,369.4 L1455.0,369.1 L1454.0,374.2 L1453.0,370.0 L1452.0,372.7 L1451.0,371.5 L1450.0,371.7 L1449.0,377.0 L1448.0,380.4 L1447.0,372.4 L1446.0,380.7 L1445.0,373.1 L1444.0,379.5 L1443.0,376.6 L1442.0,378.7 L1441.0,377.4 L1440.0,380.6 L1439.0,379.7 L1438.0,379.1 L1437.0,376.6 L1436.0,380.2 L1435.0,373.4 L1434.0,373.4 L1433.0,374.4 L1432.0,373.9 L1431.0,376.7 L1430.0,373.4 L1429.0,371.7 L1428.0,373.4 L1427.0,371.7 L1426.0,375.0 L1425.0,372.8 L1424.0,374.0 L1423.0,377.3 L1422.0,381.8 L1421.0,377.0 L1420.0,379.0 L1419.0,377.7 L1418.0,383.8 L1417.0,381.8 L1416.0,386.6 L1415.0,383.5 L1414.0,384.7 L1413.0,378.9 L1412.0,377.9 L1411.0,385.9 L1410.0,380.5 L1409.0,380.4 L1408.0,377.4 L1407.0,377.7 L1406.0,378.6 L1405.0,376.3 L1404.0,381.4 L1403.0,375.6 L1402.0,377.2 L1401.0,378.1 L1400.0,375.0 L1399.0,375.4 L1398.0,377.4 L1397.0,375.4 L1396.0,376.5 L1395.0,373.2 L1394.0,372.7 L1393.0,379.5 L1392.0,373.0 L1391.0,371.0 L1390.0,370.8 L1389.0,368.6 L1388.0,371.7 L1387.0,370.7 L1386.0,370.1 L1385.0,372.1 L1384.0,373.4 L1383.0,381.6 L1382.0,377.5 L1381.0,376.1 L1380.0,379.4 L1379.0,378.2 L1378.0,381.4 L1377.0,377.5 L1376.0,378.0 L1375.0,378.3 L1374.0,381.5 L1373.0,383.6 L1372.0,377.2 L1371.0,376.5 L1370.0,376.4 L1369.0,377.6 L1368.0,377.3 L1367.0,377.6 L1366.0,378.4 L1365.0,377.6 L1364.0,380.8 L1363.0,379.7 L1362.0,381.2 L1361.0,380.8 L1360.0,382.4 L1359.0,379.4 L1358.0,379.9 L1357.0,384.4 L1356.0,378.5 L1355.0,378.3 L1354.0,378.3 L1353.0,382.8 L1352.0,377.8 L1351.0,379.3 L1350.0,379.6 L1349.0,381.0 L1348.0,381.0 L1347.0,382.9 L1346.0,387.9 L1345.0,388.7 L1344.0,388.3 L1343.0,384.1 L1342.0,387.8 L1341.0,391.4 L1340.0,385.1 L1339.0,384.0 L1338.0,385.6 L1337.0,385.3 L1336.0,382.8 L1335.0,387.4 L1334.0,389.0 L1333.0,386.2 L1332.0,382.7 L1331.0,383.3 L1330.0,387.8 L1329.0,381.7 L1328.0,386.7 L1327.0,386.2 L1326.0,389.5 L1325.0,383.6 L1324.0,384.1 L1323.0,389.2 L1322.0,385.3 L1321.0,391.3 L1320.0,388.4 L1319.0,391.3 L1318.0,388.4 L1317.0,389.8 L1316.0,390.6 L1315.0,394.1 L1314.0,389.7 L1313.0,390.9 L1312.0,389.8 L1311.0,390.8 L1310.0,395.2 L1309.0,394.7 L1308.0,390.7 L1307.0,392.0 L1306.0,396.4 L1305.0,392.8 L1304.0,391.6 L1303.0,395.9 L1302.0,391.5 L1301.0,395.3 L1300.0,393.0 L1299.0,397.2 L1298.0,393.0 L1297.0,393.3 L1296.0,394.6 L1295.0,400.1 L1294.0,403.2 L1293.0,398.6 L1292.0,402.5 L1291.0,403.0 L1290.0,401.9 L1289.0,402.5 L1288.0,402.6 L1287.0,404.3 L1286.0,403.3 L1285.0,403.7 L1284.0,401.4 L1283.0,401.6 L1282.0,402.6 L1281.0,401.7 L1280.0,405.3 L1279.0,402.6 L1278.0,403.5 L1277.0,402.0 L1276.0,404.1 L1275.0,405.7 L1274.0,404.1 L1273.0,402.8 L1272.0,403.8 L1271.0,402.9 L1270.0,407.6 L1269.0,407.8 L1268.0,404.3 L1267.0,405.1 L1266.0,410.5 L1265.0,410.0 L1264.0,408.2 L1263.0,407.2 L1262.0,408.7 L1261.0,409.4 L1260.0,409.1 L1259.0,411.5 L1258.0,414.5 L1257.0,409.8 L1256.0,412.5 L1255.0,411.0 L1254.0,414.8 L1253.0,414.3 L1252.0,414.3 L1251.0,413.4 L1250.0,416.9 L1249.0,419.2 L1248.0,420.1 L1247.0,420.8 L1246.0,416.9 L1245.0,417.7 L1244.0,419.6 L1243.0,418.2 L1242.0,418.2 L1241.0,415.8 L1240.0,413.6 L1239.0,414.7 L1238.0,414.6 L1237.0,414.6 L1236.0,408.9 L1235.0,407.7 L1234.0,407.1 L1233.0,407.4 L1232.0,412.1 L1231.0,412.5 L1230.0,412.3 L1229.0,414.6 L1228.0,411.5 L1227.0,410.8 L1226.0,408.7 L1225.0,405.7 L1224.0,401.8 L1223.0,400.9 L1222.0,396.8 L1221.0,391.4 L1220.0,385.3 L1219.0,386.0 L1218.0,383.9 L1217.0,381.8 L1216.0,380.4 L1215.0,380.6 L1214.0,380.4 L1213.0,381.8 L1212.0,383.8 L1211.0,383.6 L1210.0,383.9 L1209.0,380.6 L1208.0,382.3 L1207.0,380.6 L1206.0,383.6 L1205.0,383.9 L1204.0,384.1 L1203.0,382.6 L1202.0,380.9 L1201.0,384.2 L1200.0,381.0 L1199.0,381.2 L1198.0,381.5 L1197.0,383.2 L1196.0,381.6 L1195.0,384.2 L1194.0,384.6 L1193.0,382.9 L1192.0,382.4 L1191.0,382.6 L1190.0,385.3 L1189.0,383.1 L1188.0,387.2 L1187.0,384.5 L1186.0,385.9 L1185.0,387.6 L1184.0,385.5 L1183.0,388.3 L1182.0,385.0 L1181.0,380.2 L1180.0,379.3 L1179.0,376.1 L1178.0,376.0 L1177.0,376.0 L1176.0,378.9 L1175.0,375.8 L1174.0,377.1 L1173.0,378.7 L1172.0,378.6 L1171.0,379.5 L1170.0,377.9 L1169.0,379.4 L1168.0,380.0 L1167.0,378.0 L1166.0,378.1 L1165.0,379.0 L1164.0,380.6 L1163.0,379.6 L1162.0,381.4 L1161.0,384.1 L1160.0,381.1 L1159.0,383.8 L1158.0,382.8 L1157.0,382.8 L1156.0,384.5 L1155.0,384.3 L1154.0,384.9 L1153.0,383.3 L1152.0,386.3 L1151.0,383.7 L1150.0,385.2 L1149.0,384.9 L1148.0,385.5 L1147.0,384.2 L1146.0,386.6 L1145.0,386.2 L1144.0,385.7 L1143.0,384.7 L1142.0,388.0 L1141.0,386.9 L1140.0,387.3 L1139.0,385.7 L1138.0,388.0 L1137.0,385.7 L1136.0,385.4 L1135.0,384.6 L1134.0,385.0 L1133.0,385.4 L1132.0,387.6 L1131.0,386.1 L1130.0,387.1 L1129.0,387.5 L1128.0,387.2 L1127.0,386.1 L1126.0,385.7 L1125.0,387.6 L1124.0,388.9 L1123.0,388.2 L1122.0,388.5 L1121.0,386.1 L1120.0,386.2 L1119.0,387.3 L1118.0,389.0 L1117.0,388.9 L1116.0,387.4 L1115.0,385.6 L1114.0,387.9 L1113.0,385.6 L1112.0,385.3 L1111.0,384.3 L1110.0,381.9 L1109.0,381.5 L1108.0,380.9 L1107.0,379.7 L1106.0,379.7 L1105.0,380.1 L1104.0,380.2 L1103.0,379.8 L1102.0,380.8 L1101.0,380.7 L1100.0,381.3 L1099.0,380.2 L1098.0,379.9 L1097.0,380.6 L1096.0,381.6 L1095.0,381.5 L1094.0,381.1 L1093.0,383.3 L1092.0,380.1 L1091.0,381.4 L1090.0,380.4 L1089.0,380.7 L1088.0,381.4 L1087.0,380.9 L1086.0,381.3 L1085.0,381.3 L1084.0,382.2 L1083.0,382.4 L1082.0,383.0 L1081.0,382.0 L1080.0,384.0 L1079.0,381.5 L1078.0,379.8 L1077.0,379.9 L1076.0,380.0 L1075.0,381.5 L1074.0,379.9 L1073.0,382.3 L1072.0,380.8 L1071.0,382.3 L1070.0,381.4 L1069.0,384.0 L1068.0,381.6 L1067.0,384.2 L1066.0,383.8 L1065.0,383.7 L1064.0,383.1 L1063.0,382.7 L1062.0,383.1 L1061.0,384.2 L1060.0,383.5 L1059.0,385.8 L1058.0,385.9 L1057.0,384.4 L1056.0,385.1 L1055.0,386.0 L1054.0,384.3 L1053.0,384.6 L1052.0,384.3 L1051.0,387.0 L1050.0,385.4 L1049.0,385.9 L1048.0,386.5 L1047.0,385.1 L1046.0,384.5 L1045.0,384.4 L1044.0,387.1 L1043.0,387.0 L1042.0,384.7 L1041.0,386.9 L1040.0,387.4 L1039.0,388.3 L1038.0,386.8 L1037.0,385.9 L1036.0,386.1 L1035.0,384.8 L1034.0,383.4 L1033.0,383.5 L1032.0,380.5 L1031.0,381.6 L1030.0,378.5 L1029.0,379.6 L1028.0,379.5 L1027.0,378.2 L1026.0,378.8 L1025.0,379.0 L1024.0,379.4 L1023.0,379.8 L1022.0,379.8 L1021.0,380.2 L1020.0,381.7 L1019.0,381.3 L1018.0,383.9 L1017.0,383.0 L1016.0,384.6 L1015.0,385.0 L1014.0,382.6 L1013.0,382.6 L1012.0,382.9 L1011.0,385.8 L1010.0,386.4 L1009.0,383.7 L1008.0,383.9 L1007.0,385.9 L1006.0,386.4 L1005.0,385.1 L1004.0,385.4 L1003.0,384.6 L1002.0,385.0 L1001.0,384.9 L1000.0,385.0 L999.0,387.4 L998.0,385.3 L997.0,385.7 L996.0,388.2 L995.0,385.6 L994.0,386.2 L993.0,386.3 L992.0,386.0 L991.0,386.5 L990.0,388.4 L989.0,389.0 L988.0,386.3 L987.0,388.3 L986.0,389.4 L985.0,388.4 L984.0,386.5 L983.0,388.0 L982.0,386.8 L981.0,387.0 L980.0,386.8 L979.0,388.3 L978.0,388.1 L977.0,387.6 L976.0,386.7 L975.0,386.8 L974.0,387.1 L973.0,388.5 L972.0,387.4 L971.0,388.0 L970.0,387.2 L969.0,387.2 L968.0,387.3 L967.0,388.5 L966.0,387.5 L965.0,387.8 L964.0,388.3 L963.0,389.4 L962.0,388.1 L961.0,388.5 L960.0,389.6 L959.0,387.9 L958.0,388.7 L957.0,389.1 L956.0,388.7 L955.0,389.7 L954.0,388.2 L953.0,389.2 L952.0,388.4 L951.0,389.3 L950.0,389.3 L949.0,388.2 L948.0,391.1 L947.0,391.0 L946.0,388.9 L945.0,387.7 L944.0,388.0 L943.0,388.6 L942.0,389.6 L941.0,388.6 L940.0,387.7 L939.0,387.6 L938.0,387.3 L937.0,388.0 L936.0,390.7 L935.0,387.4 L934.0,387.4 L933.0,388.8 L932.0,390.5 L931.0,388.5 L930.0,387.6 L929.0,388.1 L928.0,389.2 L927.0,388.4 L926.0,387.3 L925.0,387.0 L924.0,386.7 L923.0,386.8 L922.0,387.5 L921.0,386.6 L920.0,386.7 L919.0,386.8 L918.0,387.4 L917.0,387.3 L916.0,387.9 L915.0,388.0 L914.0,387.6 L913.0,386.9 L912.0,385.6 L911.0,386.4 L910.0,383.6 L909.0,383.1 L908.0,385.7 L907.0,381.9 L906.0,380.6 L905.0,379.9 L904.0,380.6 L903.0,378.5 L902.0,379.3 L901.0,377.1 L900.0,377.2 L899.0,379.1 L898.0,375.0 L897.0,376.2 L896.0,373.5 L895.0,374.8 L894.0,374.9 L893.0,372.2 L892.0,370.1 L891.0,367.6 L890.0,369.0 L889.0,368.2 L888.0,368.8 L887.0,369.2 L886.0,371.4 L885.0,370.1 L884.0,371.5 L883.0,372.6 L882.0,374.6 L881.0,371.8 L880.0,374.1 L879.0,375.5 L878.0,374.3 L877.0,371.6 L876.0,372.0 L875.0,370.1 L874.0,369.2 L873.0,368.8 L872.0,366.9 L871.0,366.3 L870.0,365.8 L869.0,366.7 L868.0,368.8 L867.0,365.4 L866.0,366.3 L865.0,366.1 L864.0,365.1 L863.0,365.6 L862.0,365.3 L861.0,366.5 L860.0,365.5 L859.0,364.7 L858.0,365.8 L857.0,365.0 L856.0,364.0 L855.0,364.2 L854.0,361.2 L853.0,362.0 L852.0,359.4 L851.0,361.3 L850.0,359.2 L849.0,357.9 L848.0,360.4 L847.0,358.4 L846.0,359.9 L845.0,357.5 L844.0,357.2 L843.0,357.0 L842.0,355.7 L841.0,354.9 L840.0,358.3 L839.0,356.6 L838.0,350.7 L837.0,351.6 L836.0,347.6 L835.0,346.3 L834.0,339.2 L833.0,336.7 L832.0,332.3 L831.0,329.3 L830.0,325.9 L829.0,323.9 L828.0,323.4 L827.0,323.3 L826.0,321.9 L825.0,323.2 L824.0,320.9 L823.0,320.5 L822.0,319.1 L821.0,321.2 L820.0,318.4 L819.0,316.7 L818.0,315.7 L817.0,312.9 L816.0,313.4 L815.0,311.6 L814.0,307.6 L813.0,306.0 L812.0,307.0 L811.0,308.1 L810.0,305.6 L809.0,306.6 L808.0,309.2 L807.0,306.4 L806.0,308.4 L805.0,307.3 L804.0,309.9 L803.0,307.0 L802.0,308.1 L801.0,310.3 L800.0,308.3 L799.0,307.2 L798.0,309.8 L797.0,307.1 L796.0,309.2 L795.0,307.0 L794.0,305.9 L793.0,309.6 L792.0,305.7 L791.0,306.5 L790.0,304.0 L789.0,305.4 L788.0,303.8 L787.0,302.4 L786.0,300.7 L785.0,299.4 L784.0,298.2 L783.0,298.6 L782.0,295.9 L781.0,298.2 L780.0,294.0 L779.0,292.2 L778.0,291.7 L777.0,292.7 L776.0,290.7 L775.0,290.8 L774.0,286.0 L773.0,286.1 L772.0,285.4 L771.0,285.6 L770.0,284.7 L769.0,287.9 L768.0,284.6 L767.0,285.0 L766.0,284.4 L765.0,287.5 L764.0,287.7 L763.0,284.1 L762.0,288.7 L761.0,287.5 L760.0,286.9 L759.0,284.8 L758.0,285.9 L757.0,285.4 L756.0,287.9 L755.0,285.1 L754.0,288.8 L753.0,285.9 L752.0,286.3 L751.0,283.4 L750.0,288.1 L749.0,286.6 L748.0,287.3 L747.0,284.4 L746.0,281.2 L745.0,279.1 L744.0,276.8 L743.0,274.6 L742.0,272.3 L741.0,272.5 L740.0,275.1 L739.0,272.6 L738.0,267.8 L737.0,272.4 L736.0,275.2 L735.0,272.3 L734.0,267.8 L733.0,260.4 L732.0,261.9 L731.0,254.9 L730.0,256.2 L729.0,256.1 L728.0,256.1 L727.0,257.4 L726.0,254.0 L725.0,257.2 L724.0,260.6 L723.0,256.7 L722.0,263.2 L721.0,257.7 L720.0,262.5 L719.0,257.8 L718.0,257.9 L717.0,263.7 L716.0,258.1 L715.0,259.8 L714.0,258.2 L713.0,262.4 L712.0,258.6 L711.0,258.5 L710.0,261.1 L709.0,264.6 L708.0,263.7 L707.0,264.3 L706.0,258.7 L705.0,259.1 L704.0,259.2 L703.0,264.5 L702.0,258.8 L701.0,261.3 L700.0,262.3 L699.0,258.8 L698.0,259.1 L697.0,264.7 L696.0,258.5 L695.0,259.1 L694.0,263.3 L693.0,258.0 L692.0,261.4 L691.0,257.1 L690.0,256.8 L689.0,261.8 L688.0,257.5 L687.0,258.2 L686.0,260.0 L685.0,254.4 L684.0,254.7 L683.0,252.8 L682.0,258.1 L681.0,257.5 L680.0,252.2 L679.0,242.1 L678.0,235.8 L677.0,233.0 L676.0,231.2 L675.0,234.3 L674.0,227.2 L673.0,221.4 L672.0,216.3 L671.0,216.7 L670.0,210.5 L669.0,211.7 L668.0,205.8 L667.0,204.9 L666.0,208.4 L665.0,208.6 L664.0,205.8 L663.0,209.9 L662.0,209.1 L661.0,207.8 L660.0,207.3 L659.0,210.6 L658.0,207.8 L657.0,209.0 L656.0,208.2 L655.0,207.7 L654.0,207.9 L653.0,211.3 L652.0,209.1 L651.0,208.2 L650.0,208.1 L649.0,209.5 L648.0,208.0 L647.0,208.3 L646.0,211.3 L645.0,209.1 L644.0,211.7 L643.0,209.2 L642.0,208.6 L641.0,207.4 L640.0,210.5 L639.0,210.6 L638.0,207.8 L637.0,204.0 L636.0,203.6 L635.0,202.7 L634.0,202.2 L633.0,196.5 L632.0,194.4 L631.0,188.9 L630.0,182.6 L629.0,180.0 L628.0,184.4 L627.0,184.5 L626.0,181.6 L625.0,182.2 L624.0,185.2 L623.0,181.6 L622.0,183.9 L621.0,183.3 L620.0,180.2 L619.0,176.9 L618.0,176.0 L617.0,176.0 L616.0,175.5 L615.0,176.1 L614.0,174.8 L613.0,175.6 L612.0,176.8 L611.0,176.7 L610.0,178.5 L609.0,178.6 L608.0,180.7 L607.0,180.1 L606.0,182.5 L605.0,185.2 L604.0,184.7 L603.0,186.8 L602.0,185.8 L601.0,188.7 L600.0,189.5 L599.0,185.8 L598.0,185.9 L597.0,186.2 L596.0,188.4 L595.0,187.7 L594.0,185.7 L593.0,187.6 L592.0,183.0 L591.0,184.0 L590.0,181.6 L589.0,182.6 L588.0,180.2 L587.0,179.2 L586.0,178.8 L585.0,177.7 L584.0,178.4 L583.0,176.0 L582.0,177.5 L581.0,177.7 L580.0,175.2 L579.0,178.1 L578.0,176.1 L577.0,176.6 L576.0,177.6 L575.0,179.0 L574.0,178.4 L573.0,180.6 L572.0,181.2 L571.0,182.9 L570.0,184.9 L569.0,186.1 L568.0,182.3 L567.0,182.5 L566.0,179.6 L565.0,180.4 L564.0,175.8 L563.0,175.7 L562.0,172.6 L561.0,174.6 L560.0,171.3 L559.0,169.8 L558.0,170.8 L557.0,168.4 L556.0,167.8 L555.0,167.2 L554.0,170.6 L553.0,166.6 L552.0,168.2 L551.0,166.8 L550.0,166.8 L549.0,167.3 L548.0,166.6 L547.0,166.2 L546.0,166.7 L545.0,166.7 L544.0,167.0 L543.0,171.2 L542.0,168.3 L541.0,168.1 L540.0,169.1 L539.0,168.8 L538.0,170.2 L537.0,170.0 L536.0,170.9 L535.0,171.6 L534.0,172.4 L533.0,173.1 L532.0,173.9 L531.0,174.6 L530.0,176.0 L529.0,175.8 L528.0,179.1 L527.0,176.8 L526.0,177.4 L525.0,178.4 L524.0,177.4 L523.0,176.9 L522.0,175.6 L521.0,175.1 L520.0,175.7 L519.0,175.1 L518.0,177.5 L517.0,174.0 L516.0,175.2 L515.0,174.0 L514.0,172.1 L513.0,174.7 L512.0,174.6 L511.0,170.5 L510.0,170.5 L509.0,171.1 L508.0,169.0 L507.0,172.3 L506.0,169.0 L505.0,169.0 L504.0,168.8 L503.0,168.3 L502.0,168.2 L501.0,169.4 L500.0,168.9 L499.0,167.9 L498.0,167.5 L497.0,171.4 L496.0,169.1 L495.0,168.5 L494.0,171.5 L493.0,168.4 L492.0,169.0 L491.0,170.6 L490.0,169.9 L489.0,170.4 L488.0,173.1 L487.0,173.6 L486.0,171.9 L485.0,174.5 L484.0,172.8 L483.0,173.6 L482.0,176.8 L481.0,176.8 L480.0,175.3 L479.0,175.5 L478.0,175.5 L477.0,175.6 L476.0,176.5 L475.0,176.8 L474.0,177.8 L473.0,179.0 L472.0,177.3 L471.0,178.4 L470.0,179.1 L469.0,180.3 L468.0,178.5 L467.0,178.8 L466.0,182.5 L465.0,181.3 L464.0,180.1 L463.0,182.4 L462.0,181.4 L461.0,181.3 L460.0,183.6 L459.0,184.5 L458.0,185.2 L457.0,184.8 L456.0,185.8 L455.0,184.4 L454.0,184.2 L453.0,187.9 L452.0,186.9 L451.0,185.5 L450.0,186.6 L449.0,187.8 L448.0,187.8 L447.0,187.7 L446.0,189.5 L445.0,188.6 L444.0,191.5 L443.0,189.1 L442.0,190.3 L441.0,193.2 L440.0,194.0 L439.0,193.1 L438.0,191.8 L437.0,192.3 L436.0,196.4 L435.0,195.2 L434.0,193.8 L433.0,197.9 L432.0,195.1 L431.0,196.9 L430.0,196.4 L429.0,198.4 L428.0,197.3 L427.0,200.3 L426.0,199.0 L425.0,197.4 L424.0,197.8 L423.0,197.6 L422.0,198.2 L421.0,201.3 L420.0,200.7 L419.0,202.8 L418.0,199.7 L417.0,201.3 L416.0,200.6 L415.0,203.0 L414.0,202.4 L413.0,204.1 L412.0,202.3 L411.0,204.4 L410.0,204.2 L409.0,206.0 L408.0,204.2 L407.0,205.2 L406.0,206.1 L405.0,206.2 L404.0,206.5 L403.0,206.5 L402.0,207.5 L401.0,206.2 L400.0,209.0 L399.0,206.7 L398.0,210.1 L397.0,206.5 L396.0,207.7 L395.0,206.7 L394.0,208.4 L393.0,210.2 L392.0,210.5 L391.0,210.8 L390.0,207.9 L389.0,208.1 L388.0,208.4 L387.0,208.7 L386.0,210.7 L385.0,210.9 L384.0,211.8 L383.0,214.0 L382.0,213.7 L381.0,211.8 L380.0,214.5 L379.0,212.3 L378.0,216.3 L377.0,213.4 L376.0,215.6 L375.0,213.7 L374.0,216.6 L373.0,217.3 L372.0,215.9 L371.0,218.1 L370.0,217.3 L369.0,219.4 L368.0,218.0 L367.0,219.4 L366.0,221.1 L365.0,220.5 L364.0,221.4 L363.0,223.9 L362.0,222.6 L361.0,224.3 L360.0,228.2 L359.0,224.0 L358.0,224.8 L357.0,225.4 L356.0,227.7 L355.0,228.6 L354.0,227.4 L353.0,232.5 L352.0,227.4 L351.0,232.4 L350.0,232.5 L349.0,233.1 L348.0,228.7 L347.0,233.2 L346.0,235.0 L345.0,231.1 L344.0,237.8 L343.0,234.0 L342.0,233.4 L341.0,237.9 L340.0,237.0 L339.0,241.7 L338.0,239.9 L337.0,236.9 L336.0,238.4 L335.0,238.6 L334.0,240.4 L333.0,242.6 L332.0,247.1 L331.0,242.4 L330.0,250.6 L329.0,252.2 L328.0,252.3 L327.0,245.3 L326.0,247.0 L325.0,247.6 L324.0,247.2 L323.0,247.8 L322.0,248.6 L321.0,251.8 L320.0,249.2 L319.0,255.5 L318.0,249.8 L317.0,250.0 L316.0,252.3 L315.0,254.8 L314.0,251.5 L313.0,253.6 L312.0,253.2 L311.0,252.7 L310.0,254.9 L309.0,254.4 L308.0,255.2 L307.0,261.1 L306.0,256.5 L305.0,258.9 L304.0,262.0 L303.0,260.3 L302.0,261.3 L301.0,263.5 L300.0,272.1 L299.0,264.3 L298.0,273.2 L297.0,271.8 L296.0,276.0 L295.0,275.5 L294.0,281.5 L293.0,282.8 L292.0,280.8 L291.0,285.8 L290.0,285.4 L289.0,293.5 L288.0,293.4 L287.0,297.2 L286.0,298.8 L285.0,299.6 L284.0,299.9 L283.0,311.7 L282.0,311.5 L281.0,303.9 L280.0,307.0 L279.0,305.9 L278.0,307.1 L277.0,321.8 L276.0,322.6 L275.0,311.9 L274.0,311.5 L273.0,312.6 L272.0,321.9 L271.0,314.0 L270.0,323.3 L269.0,328.5 L268.0,314.3 L267.0,319.2 L266.0,316.0 L265.0,322.5 L264.0,333.7 L263.0,321.3 L262.0,336.2 L261.0,335.3 L260.0,335.5 L259.0,329.4 L258.0,327.4 L257.0,327.4 L256.0,329.2 L255.0,327.5 L254.0,327.3 L253.0,340.4 L252.0,337.3 L251.0,340.7 L250.0,339.9 L249.0,332.2 L248.0,329.3 L247.0,334.8 L246.0,330.0 L245.0,338.3 L244.0,341.5 L243.0,331.1 L242.0,334.3 L241.0,334.5 L240.0,332.3 L239.0,342.1 L238.0,332.1 L237.0,337.7 L236.0,336.9Z" fill="#ebf1fa" fill-opacity="0.92"/>
<path d="M236.0,318.1 L237.0,317.2 L238.0,318.0 L239.0,314.2 L240.0,314.3 L241.0,314.8 L242.0,315.9 L243.0,315.3 L244.0,312.0 L245.0,311.6 L246.0,313.5 L247.0,310.9 L248.0,309.6 L249.0,310.4 L250.0,310.4 L251.0,310.0 L252.0,307.0 L253.0,308.6 L254.0,306.0 L255.0,305.6 L256.0,307.3 L257.0,306.2 L258.0,308.3 L259.0,303.3 L260.0,307.1 L261.0,304.6 L262.0,302.4 L263.0,297.9 L264.0,300.8 L265.0,298.0 L266.0,297.4 L267.0,295.2 L268.0,290.3 L269.0,296.0 L270.0,290.7 L271.0,294.2 L272.0,294.3 L273.0,295.1 L274.0,287.6 L275.0,287.7 L276.0,292.0 L277.0,283.5 L278.0,286.7 L279.0,283.9 L280.0,285.4 L281.0,283.0 L282.0,282.1 L283.0,280.6 L284.0,281.2 L285.0,273.0 L286.0,275.4 L287.0,267.5 L288.0,272.4 L289.0,271.2 L290.0,262.7 L291.0,265.7 L292.0,262.1 L293.0,261.5 L294.0,253.8 L295.0,250.1 L296.0,255.2 L297.0,255.1 L298.0,250.0 L299.0,241.4 L300.0,245.9 L301.0,242.4 L302.0,241.5 L303.0,241.3 L304.0,232.8 L305.0,231.2 L306.0,231.1 L307.0,231.2 L308.0,233.2 L309.0,235.0 L310.0,227.3 L311.0,232.2 L312.0,227.1 L313.0,226.5 L314.0,227.6 L315.0,231.0 L316.0,223.5 L317.0,222.9 L318.0,225.5 L319.0,222.6 L320.0,221.4 L321.0,230.3 L322.0,223.8 L323.0,222.1 L324.0,227.1 L325.0,219.2 L326.0,219.1 L327.0,219.3 L328.0,218.1 L329.0,217.4 L330.0,218.8 L331.0,215.5 L332.0,219.2 L333.0,223.2 L334.0,216.1 L335.0,212.2 L336.0,219.3 L337.0,211.5 L338.0,219.0 L339.0,209.0 L340.0,211.3 L341.0,207.7 L342.0,213.1 L343.0,203.9 L344.0,212.7 L345.0,203.0 L346.0,207.3 L347.0,202.5 L348.0,200.6 L349.0,207.1 L350.0,205.4 L351.0,208.2 L352.0,207.8 L353.0,203.7 L354.0,202.9 L355.0,200.6 L356.0,205.1 L357.0,202.3 L358.0,201.6 L359.0,203.8 L360.0,201.7 L361.0,193.3 L362.0,196.3 L363.0,200.1 L364.0,197.5 L365.0,198.7 L366.0,192.0 L367.0,195.6 L368.0,190.8 L369.0,191.4 L370.0,198.1 L371.0,188.1 L372.0,186.2 L373.0,189.7 L374.0,188.4 L375.0,190.5 L376.0,193.0 L377.0,190.6 L378.0,194.1 L379.0,181.4 L380.0,182.9 L381.0,180.1 L382.0,184.4 L383.0,183.8 L384.0,180.6 L385.0,189.1 L386.0,180.6 L387.0,180.9 L388.0,184.9 L389.0,182.9 L390.0,175.0 L391.0,183.3 L392.0,182.5 L393.0,171.7 L394.0,180.5 L395.0,173.5 L396.0,179.6 L397.0,182.9 L398.0,175.1 L399.0,180.6 L400.0,176.9 L401.0,185.7 L402.0,172.1 L403.0,178.2 L404.0,186.0 L405.0,184.4 L406.0,174.9 L407.0,185.2 L408.0,183.0 L409.0,184.7 L410.0,177.8 L411.0,174.2 L412.0,179.7 L413.0,184.9 L414.0,182.1 L415.0,185.0 L416.0,182.2 L417.0,177.4 L418.0,177.9 L419.0,175.4 L420.0,178.9 L421.0,177.3 L422.0,179.6 L423.0,175.7 L424.0,183.2 L425.0,174.5 L426.0,179.0 L427.0,173.7 L428.0,178.2 L429.0,181.6 L430.0,181.3 L431.0,179.4 L432.0,171.6 L433.0,177.7 L434.0,174.7 L435.0,177.3 L436.0,167.9 L437.0,168.1 L438.0,173.4 L439.0,167.9 L440.0,175.3 L441.0,165.8 L442.0,168.2 L443.0,168.1 L444.0,167.2 L445.0,164.0 L446.0,169.7 L447.0,165.6 L448.0,163.0 L449.0,162.1 L450.0,164.5 L451.0,164.8 L452.0,160.4 L453.0,170.0 L454.0,165.3 L455.0,164.0 L456.0,167.9 L457.0,161.6 L458.0,162.2 L459.0,159.2 L460.0,163.7 L461.0,160.1 L462.0,162.1 L463.0,160.8 L464.0,163.0 L465.0,163.9 L466.0,160.0 L467.0,164.0 L468.0,160.9 L469.0,162.5 L470.0,159.3 L471.0,163.3 L472.0,158.8 L473.0,161.7 L474.0,165.2 L475.0,157.3 L476.0,158.3 L477.0,159.0 L478.0,161.2 L479.0,161.3 L480.0,162.9 L481.0,160.2 L482.0,161.0 L483.0,160.9 L484.0,159.6 L485.0,158.5 L486.0,153.8 L487.0,154.7 L488.0,155.6 L489.0,148.8 L490.0,155.3 L491.0,155.9 L492.0,153.6 L493.0,149.6 L494.0,154.9 L495.0,153.6 L496.0,154.8 L497.0,153.1 L498.0,154.2 L499.0,151.1 L500.0,148.2 L501.0,144.8 L502.0,152.6 L503.0,145.9 L504.0,146.0 L505.0,147.0 L506.0,154.8 L507.0,163.0 L508.0,163.5 L509.0,160.3 L510.0,158.8 L511.0,158.4 L512.0,165.7 L513.0,165.8 L514.0,165.7 L515.0,161.5 L516.0,167.1 L517.0,166.5 L518.0,168.0 L519.0,167.2 L520.0,168.3 L521.0,164.4 L522.0,167.4 L523.0,167.0 L524.0,164.1 L525.0,162.2 L526.0,161.5 L527.0,163.2 L528.0,157.8 L529.0,160.7 L530.0,161.6 L531.0,156.8 L532.0,156.2 L533.0,161.6 L534.0,157.5 L535.0,155.7 L536.0,157.1 L537.0,158.5 L538.0,157.3 L539.0,156.3 L540.0,155.7 L541.0,158.9 L542.0,158.3 L543.0,156.3 L544.0,161.1 L545.0,160.3 L546.0,159.3 L547.0,160.1 L548.0,159.4 L549.0,159.3 L550.0,159.9 L551.0,161.1 L552.0,159.7 L553.0,159.6 L554.0,160.3 L555.0,161.4 L556.0,161.7 L557.0,162.8 L558.0,163.3 L559.0,162.7 L560.0,164.5 L561.0,165.8 L562.0,165.8 L563.0,168.8 L564.0,170.4 L565.0,170.4 L566.0,172.2 L567.0,173.3 L568.0,173.5 L569.0,175.4 L570.0,178.4 L571.0,176.1 L572.0,175.6 L573.0,170.3 L574.0,170.4 L575.0,167.9 L576.0,168.8 L577.0,171.1 L578.0,170.3 L579.0,169.9 L580.0,169.7 L581.0,169.4 L582.0,168.8 L583.0,168.9 L584.0,170.4 L585.0,169.3 L586.0,170.7 L587.0,169.4 L588.0,170.2 L589.0,169.3 L590.0,168.7 L591.0,164.8 L592.0,166.6 L593.0,168.7 L594.0,169.7 L595.0,169.5 L596.0,170.3 L597.0,169.6 L598.0,166.1 L599.0,164.1 L600.0,169.3 L601.0,170.7 L602.0,162.3 L603.0,171.1 L604.0,170.3 L605.0,163.8 L606.0,166.0 L607.0,163.6 L608.0,162.2 L609.0,163.2 L610.0,157.5 L611.0,164.9 L612.0,154.4 L613.0,156.8 L614.0,153.7 L615.0,160.2 L616.0,164.5 L617.0,156.5 L618.0,160.0 L619.0,161.2 L620.0,162.2 L621.0,162.1 L622.0,166.0 L623.0,164.5 L624.0,156.8 L625.0,162.3 L626.0,173.9 L627.0,174.1 L628.0,174.3 L629.0,172.7 L630.0,175.0 L631.0,180.4 L632.0,184.3 L633.0,188.7 L634.0,193.2 L635.0,196.4 L636.0,196.2 L637.0,197.7 L638.0,198.2 L639.0,199.3 L640.0,200.0 L641.0,201.1 L642.0,201.5 L643.0,200.4 L644.0,200.7 L645.0,201.7 L646.0,201.5 L647.0,201.0 L648.0,200.2 L649.0,200.5 L650.0,200.3 L651.0,201.3 L652.0,200.6 L653.0,200.3 L654.0,200.5 L655.0,200.4 L656.0,200.2 L657.0,201.2 L658.0,199.5 L659.0,200.8 L660.0,199.3 L661.0,199.1 L662.0,199.4 L663.0,199.9 L664.0,198.6 L665.0,197.7 L666.0,196.8 L667.0,197.1 L668.0,199.5 L669.0,199.4 L670.0,202.9 L671.0,204.8 L672.0,206.8 L673.0,211.8 L674.0,219.4 L675.0,221.7 L676.0,222.2 L677.0,224.1 L678.0,227.4 L679.0,235.0 L680.0,243.4 L681.0,245.2 L682.0,244.9 L683.0,244.9 L684.0,245.0 L685.0,245.9 L686.0,248.2 L687.0,248.6 L688.0,247.6 L689.0,248.0 L690.0,248.8 L691.0,249.0 L692.0,250.5 L693.0,249.8 L694.0,250.6 L695.0,249.9 L696.0,250.3 L697.0,247.7 L698.0,250.0 L699.0,248.8 L700.0,251.0 L701.0,249.4 L702.0,250.6 L703.0,250.0 L704.0,249.7 L705.0,248.4 L706.0,251.5 L707.0,249.7 L708.0,248.3 L709.0,250.7 L710.0,251.6 L711.0,248.7 L712.0,249.6 L713.0,248.5 L714.0,251.3 L715.0,250.9 L716.0,251.0 L717.0,250.5 L718.0,251.0 L719.0,250.5 L720.0,249.6 L721.0,250.4 L722.0,249.7 L723.0,248.4 L724.0,248.4 L725.0,246.7 L726.0,246.0 L727.0,246.8 L728.0,246.2 L729.0,247.4 L730.0,247.1 L731.0,248.1 L732.0,250.3 L733.0,253.6 L734.0,256.5 L735.0,265.3 L736.0,267.7 L737.0,264.7 L738.0,260.2 L739.0,261.0 L740.0,261.9 L741.0,263.4 L742.0,265.2 L743.0,266.0 L744.0,268.5 L745.0,270.3 L746.0,273.9 L747.0,275.7 L748.0,275.9 L749.0,276.0 L750.0,275.7 L751.0,275.6 L752.0,276.9 L753.0,277.5 L754.0,277.7 L755.0,277.1 L756.0,277.9 L757.0,276.5 L758.0,276.8 L759.0,276.7 L760.0,278.0 L761.0,277.1 L762.0,276.3 L763.0,277.8 L764.0,276.6 L765.0,277.0 L766.0,276.5 L767.0,276.9 L768.0,276.8 L769.0,276.8 L770.0,278.8 L771.0,278.8 L772.0,279.5 L773.0,279.2 L774.0,280.1 L775.0,281.0 L776.0,282.0 L777.0,283.6 L778.0,283.8 L779.0,285.7 L780.0,287.5 L781.0,288.1 L782.0,289.6 L783.0,290.3 L784.0,291.7 L785.0,292.3 L786.0,294.5 L787.0,295.0 L788.0,296.8 L789.0,296.6 L790.0,297.9 L791.0,298.3 L792.0,298.9 L793.0,298.9 L794.0,298.7 L795.0,300.2 L796.0,299.8 L797.0,300.0 L798.0,299.6 L799.0,299.8 L800.0,299.7 L801.0,298.5 L802.0,300.5 L803.0,300.3 L804.0,298.9 L805.0,299.6 L806.0,297.8 L807.0,299.2 L808.0,300.3 L809.0,299.6 L810.0,298.8 L811.0,298.6 L812.0,298.5 L813.0,300.6 L814.0,301.3 L815.0,303.0 L816.0,304.9 L817.0,306.2 L818.0,308.9 L819.0,311.0 L820.0,311.4 L821.0,312.8 L822.0,313.6 L823.0,314.3 L824.0,315.2 L825.0,314.5 L826.0,315.1 L827.0,315.8 L828.0,317.1 L829.0,317.8 L830.0,317.9 L831.0,321.6 L832.0,324.6 L833.0,329.8 L834.0,333.8 L835.0,338.0 L836.0,339.5 L837.0,342.0 L838.0,344.3 L839.0,347.3 L840.0,348.3 L841.0,348.6 L842.0,349.0 L843.0,350.6 L844.0,349.8 L845.0,350.0 L846.0,350.6 L847.0,352.3 L848.0,350.9 L849.0,351.4 L850.0,352.2 L851.0,352.1 L852.0,352.4 L853.0,353.3 L854.0,354.7 L855.0,356.8 L856.0,357.8 L857.0,358.2 L858.0,358.5 L859.0,358.4 L860.0,358.0 L861.0,359.1 L862.0,358.9 L863.0,359.7 L864.0,358.8 L865.0,360.0 L866.0,360.0 L867.0,360.0 L868.0,359.5 L869.0,359.2 L870.0,360.3 L871.0,360.4 L872.0,360.2 L873.0,360.7 L874.0,360.7 L875.0,363.0 L876.0,364.0 L877.0,364.4 L878.0,366.0 L879.0,365.0 L880.0,365.4 L881.0,365.3 L882.0,365.0 L883.0,363.6 L884.0,363.8 L885.0,362.5 L886.0,361.7 L887.0,362.3 L888.0,362.7 L889.0,360.9 L890.0,361.1 L891.0,361.4 L892.0,362.9 L893.0,363.9 L894.0,365.3 L895.0,366.1 L896.0,367.8 L897.0,369.0 L898.0,368.6 L899.0,369.3 L900.0,369.7 L901.0,371.7 L902.0,371.8 L903.0,372.1 L904.0,372.8 L905.0,374.3 L906.0,374.3 L907.0,376.3 L908.0,376.8 L909.0,377.3 L910.0,378.4 L911.0,379.7 L912.0,379.4 L913.0,380.6 L914.0,382.6 L915.0,381.5 L916.0,380.6 L917.0,380.4 L918.0,380.6 L919.0,380.8 L920.0,380.5 L921.0,380.0 L922.0,380.2 L923.0,380.4 L924.0,380.4 L925.0,381.5 L926.0,381.1 L927.0,381.7 L928.0,382.2 L929.0,382.6 L930.0,381.4 L931.0,382.4 L932.0,381.7 L933.0,382.4 L934.0,382.6 L935.0,382.4 L936.0,382.4 L937.0,382.1 L938.0,382.2 L939.0,381.6 L940.0,381.0 L941.0,381.3 L942.0,381.1 L943.0,381.9 L944.0,380.7 L945.0,381.6 L946.0,382.9 L947.0,381.6 L948.0,382.2 L949.0,383.2 L950.0,383.6 L951.0,383.3 L952.0,382.7 L953.0,383.4 L954.0,382.2 L955.0,382.7 L956.0,382.0 L957.0,382.4 L958.0,383.1 L959.0,382.0 L960.0,381.9 L961.0,382.4 L962.0,381.7 L963.0,382.5 L964.0,382.2 L965.0,381.0 L966.0,382.1 L967.0,381.1 L968.0,381.8 L969.0,381.2 L970.0,381.0 L971.0,381.1 L972.0,381.3 L973.0,380.5 L974.0,380.5 L975.0,381.1 L976.0,381.2 L977.0,380.6 L978.0,380.6 L979.0,381.0 L980.0,380.1 L981.0,381.1 L982.0,380.2 L983.0,380.5 L984.0,381.0 L985.0,381.4 L986.0,380.3 L987.0,380.8 L988.0,380.0 L989.0,380.1 L990.0,381.3 L991.0,381.3 L992.0,380.8 L993.0,380.0 L994.0,380.2 L995.0,379.2 L996.0,379.1 L997.0,380.7 L998.0,380.0 L999.0,380.3 L1000.0,378.8 L1001.0,379.7 L1002.0,380.0 L1003.0,379.0 L1004.0,378.9 L1005.0,378.5 L1006.0,379.3 L1007.0,378.3 L1008.0,378.7 L1009.0,378.4 L1010.0,377.1 L1011.0,377.8 L1012.0,377.4 L1013.0,378.0 L1014.0,376.9 L1015.0,376.9 L1016.0,375.9 L1017.0,375.7 L1018.0,375.6 L1019.0,375.1 L1020.0,375.4 L1021.0,374.0 L1022.0,373.8 L1023.0,374.1 L1024.0,372.8 L1025.0,372.9 L1026.0,373.1 L1027.0,371.9 L1028.0,371.6 L1029.0,372.3 L1030.0,372.4 L1031.0,373.7 L1032.0,373.9 L1033.0,376.1 L1034.0,377.5 L1035.0,380.2 L1036.0,380.2 L1037.0,380.6 L1038.0,379.6 L1039.0,380.1 L1040.0,378.7 L1041.0,379.3 L1042.0,378.5 L1043.0,379.2 L1044.0,379.4 L1045.0,379.1 L1046.0,378.9 L1047.0,378.2 L1048.0,379.1 L1049.0,378.0 L1050.0,379.4 L1051.0,379.1 L1052.0,377.9 L1053.0,379.1 L1054.0,379.4 L1055.0,378.5 L1056.0,378.2 L1057.0,378.5 L1058.0,379.1 L1059.0,378.5 L1060.0,377.1 L1061.0,376.9 L1062.0,376.7 L1063.0,376.6 L1064.0,376.5 L1065.0,376.8 L1066.0,376.2 L1067.0,375.2 L1068.0,374.9 L1069.0,375.0 L1070.0,375.1 L1071.0,375.8 L1072.0,374.4 L1073.0,375.2 L1074.0,374.6 L1075.0,374.4 L1076.0,373.8 L1077.0,374.3 L1078.0,373.9 L1079.0,375.1 L1080.0,375.0 L1081.0,374.7 L1082.0,376.6 L1083.0,376.2 L1084.0,375.1 L1085.0,376.1 L1086.0,375.3 L1087.0,375.2 L1088.0,375.0 L1089.0,374.0 L1090.0,374.5 L1091.0,374.5 L1092.0,374.0 L1093.0,373.5 L1094.0,373.8 L1095.0,373.3 L1096.0,373.3 L1097.0,374.0 L1098.0,374.9 L1099.0,374.3 L1100.0,373.1 L1101.0,373.9 L1102.0,373.9 L1103.0,372.8 L1104.0,374.1 L1105.0,374.7 L1106.0,374.5 L1107.0,374.4 L1108.0,372.6 L1109.0,372.9 L1110.0,376.3 L1111.0,378.9 L1112.0,378.9 L1113.0,380.0 L1114.0,380.4 L1115.0,379.6 L1116.0,380.5 L1117.0,380.3 L1118.0,379.4 L1119.0,379.6 L1120.0,379.4 L1121.0,380.5 L1122.0,379.7 L1123.0,380.1 L1124.0,380.7 L1125.0,380.4 L1126.0,379.3 L1127.0,380.1 L1128.0,378.8 L1129.0,379.3 L1130.0,378.9 L1131.0,379.7 L1132.0,379.7 L1133.0,379.2 L1134.0,379.2 L1135.0,378.1 L1136.0,378.8 L1137.0,379.3 L1138.0,378.7 L1139.0,377.7 L1140.0,378.5 L1141.0,377.6 L1142.0,377.7 L1143.0,379.0 L1144.0,378.9 L1145.0,378.5 L1146.0,376.8 L1147.0,376.7 L1148.0,378.3 L1149.0,376.9 L1150.0,377.4 L1151.0,378.1 L1152.0,377.7 L1153.0,376.1 L1154.0,376.7 L1155.0,375.4 L1156.0,374.4 L1157.0,375.0 L1158.0,376.1 L1159.0,375.4 L1160.0,374.0 L1161.0,372.3 L1162.0,373.8 L1163.0,372.0 L1164.0,372.9 L1165.0,371.1 L1166.0,370.8 L1167.0,370.7 L1168.0,369.0 L1169.0,370.6 L1170.0,369.2 L1171.0,371.1 L1172.0,370.1 L1173.0,369.7 L1174.0,368.5 L1175.0,370.2 L1176.0,369.9 L1177.0,369.4 L1178.0,368.6 L1179.0,369.8 L1180.0,369.2 L1181.0,373.4 L1182.0,377.2 L1183.0,377.2 L1184.0,376.9 L1185.0,377.1 L1186.0,375.6 L1187.0,375.0 L1188.0,375.0 L1189.0,376.5 L1190.0,372.5 L1191.0,372.3 L1192.0,373.3 L1193.0,373.8 L1194.0,373.7 L1195.0,372.6 L1196.0,373.4 L1197.0,374.1 L1198.0,370.6 L1199.0,372.0 L1200.0,372.6 L1201.0,371.7 L1202.0,373.3 L1203.0,373.8 L1204.0,372.8 L1205.0,372.0 L1206.0,371.5 L1207.0,374.7 L1208.0,374.8 L1209.0,371.0 L1210.0,373.8 L1211.0,374.4 L1212.0,371.9 L1213.0,374.2 L1214.0,371.1 L1215.0,373.9 L1216.0,374.5 L1217.0,373.4 L1218.0,374.1 L1219.0,376.5 L1220.0,377.9 L1221.0,381.8 L1222.0,386.8 L1223.0,393.4 L1224.0,394.7 L1225.0,397.3 L1226.0,397.6 L1227.0,400.4 L1228.0,402.1 L1229.0,403.5 L1230.0,403.4 L1231.0,402.4 L1232.0,401.5 L1233.0,400.4 L1234.0,400.4 L1235.0,399.9 L1236.0,402.3 L1237.0,402.6 L1238.0,404.9 L1239.0,405.7 L1240.0,406.6 L1241.0,408.0 L1242.0,406.1 L1243.0,408.0 L1244.0,408.8 L1245.0,410.0 L1246.0,406.1 L1247.0,407.7 L1248.0,404.2 L1249.0,402.1 L1250.0,401.2 L1251.0,400.3 L1252.0,404.1 L1253.0,402.9 L1254.0,399.5 L1255.0,399.3 L1256.0,398.7 L1257.0,399.5 L1258.0,399.9 L1259.0,397.1 L1260.0,396.8 L1261.0,395.6 L1262.0,396.4 L1263.0,393.5 L1264.0,394.4 L1265.0,393.4 L1266.0,394.1 L1267.0,395.0 L1268.0,391.4 L1269.0,392.8 L1270.0,389.3 L1271.0,388.8 L1272.0,389.7 L1273.0,390.4 L1274.0,389.8 L1275.0,390.6 L1276.0,389.0 L1277.0,388.0 L1278.0,391.5 L1279.0,388.3 L1280.0,387.7 L1281.0,390.3 L1282.0,387.6 L1283.0,388.7 L1284.0,386.4 L1285.0,389.4 L1286.0,386.8 L1287.0,390.2 L1288.0,388.3 L1289.0,388.4 L1290.0,385.0 L1291.0,389.5 L1292.0,387.3 L1293.0,385.8 L1294.0,380.5 L1295.0,382.0 L1296.0,377.4 L1297.0,377.6 L1298.0,373.1 L1299.0,376.2 L1300.0,373.5 L1301.0,377.4 L1302.0,376.2 L1303.0,374.8 L1304.0,375.1 L1305.0,375.9 L1306.0,371.5 L1307.0,374.5 L1308.0,372.4 L1309.0,365.9 L1310.0,365.4 L1311.0,370.4 L1312.0,370.1 L1313.0,369.8 L1314.0,366.1 L1315.0,364.7 L1316.0,364.7 L1317.0,363.6 L1318.0,368.3 L1319.0,369.1 L1320.0,363.1 L1321.0,365.6 L1322.0,367.0 L1323.0,363.5 L1324.0,363.0 L1325.0,362.9 L1326.0,358.3 L1327.0,365.2 L1328.0,361.7 L1329.0,363.0 L1330.0,361.9 L1331.0,356.3 L1332.0,362.8 L1333.0,361.9 L1334.0,362.4 L1335.0,362.5 L1336.0,356.8 L1337.0,360.8 L1338.0,357.2 L1339.0,362.5 L1340.0,362.9 L1341.0,361.7 L1342.0,366.7 L1343.0,367.5 L1344.0,358.7 L1345.0,355.9 L1346.0,362.7 L1347.0,360.9 L1348.0,357.1 L1349.0,354.7 L1350.0,359.4 L1351.0,353.6 L1352.0,355.0 L1353.0,353.8 L1354.0,352.1 L1355.0,348.8 L1356.0,347.6 L1357.0,355.5 L1358.0,350.0 L1359.0,351.5 L1360.0,355.0 L1361.0,350.5 L1362.0,352.7 L1363.0,348.6 L1364.0,350.4 L1365.0,349.0 L1366.0,348.6 L1367.0,358.1 L1368.0,350.0 L1369.0,360.0 L1370.0,347.8 L1371.0,355.9 L1372.0,354.6 L1373.0,345.7 L1374.0,344.9 L1375.0,351.7 L1376.0,346.0 L1377.0,348.8 L1378.0,351.5 L1379.0,347.6 L1380.0,346.8 L1381.0,339.2 L1382.0,348.0 L1383.0,342.1 L1384.0,350.9 L1385.0,346.1 L1386.0,343.4 L1387.0,334.4 L1388.0,335.7 L1389.0,336.4 L1390.0,335.4 L1391.0,346.3 L1392.0,339.9 L1393.0,347.4 L1394.0,340.8 L1395.0,345.2 L1396.0,350.8 L1397.0,341.4 L1398.0,346.1 L1399.0,346.1 L1400.0,345.2 L1401.0,348.4 L1402.0,357.2 L1403.0,351.2 L1404.0,358.0 L1405.0,347.5 L1406.0,350.2 L1407.0,355.7 L1408.0,357.5 L1409.0,349.4 L1410.0,354.6 L1411.0,352.9 L1412.0,356.7 L1413.0,354.6 L1414.0,358.5 L1415.0,359.3 L1416.0,356.0 L1417.0,359.5 L1418.0,361.0 L1419.0,352.1 L1420.0,355.0 L1421.0,353.2 L1422.0,354.2 L1423.0,351.9 L1424.0,354.9 L1425.0,357.1 L1426.0,353.0 L1427.0,357.5 L1428.0,353.5 L1429.0,355.2 L1430.0,354.2 L1431.0,345.4 L1432.0,350.7 L1433.0,343.0 L1434.0,350.1 L1435.0,352.3 L1436.0,345.4 L1437.0,344.9 L1438.0,346.7 L1439.0,348.9 L1440.0,344.6 L1441.0,339.9 L1442.0,338.4 L1443.0,344.6 L1444.0,342.7 L1445.0,342.5 L1446.0,338.1 L1447.0,347.7 L1448.0,343.5 L1449.0,337.1 L1450.0,347.4 L1451.0,343.3 L1452.0,351.4 L1453.0,347.1 L1454.0,346.3 L1455.0,346.9 L1456.0,346.4 L1457.0,346.2 L1458.0,346.0 L1459.0,353.8 L1460.0,350.7 L1461.0,348.0 L1462.0,350.2 L1463.0,349.0 L1464.0,343.1 L1465.0,343.4 L1466.0,346.2 L1467.0,344.5 L1468.0,348.7 L1469.0,346.0 L1470.0,343.4 L1471.0,344.1 L1472.0,342.5 L1473.0,343.2 L1474.0,341.5 L1475.0,343.1 L1476.0,344.5 L1477.0,340.3 L1478.0,338.0 L1479.0,340.0 L1480.0,338.8 L1481.0,338.3 L1482.0,339.8 L1483.0,339.5 L1484.0,337.7 L1485.0,335.1 L1486.0,336.2 L1487.0,333.2 L1488.0,335.4 L1489.0,333.1 L1490.0,332.2 L1491.0,327.9 L1492.0,330.7 L1493.0,325.5 L1494.0,328.3 L1495.0,326.4 L1496.0,324.5 L1497.0,325.3 L1498.0,320.6 L1499.0,322.3 L1500.0,319.1 L1501.0,322.0 L1502.0,317.7 L1503.0,319.4 L1504.0,312.6 L1505.0,314.9 L1506.0,315.5 L1507.0,318.0 L1508.0,313.3 L1509.0,313.9 L1510.0,312.3 L1511.0,310.8 L1512.0,307.5 L1513.0,309.8 L1514.0,306.0 L1515.0,309.6 L1516.0,310.3 L1517.0,305.3 L1518.0,302.2 L1519.0,308.7 L1520.0,307.2 L1521.0,303.2 L1522.0,308.7 L1523.0,303.1 L1524.0,301.8 L1525.0,301.9 L1526.0,307.1 L1527.0,299.6 L1528.0,305.5 L1529.0,304.4 L1530.0,304.2 L1531.0,298.6 L1532.0,300.5 L1533.0,303.5 L1534.0,299.4 L1535.0,303.5 L1536.0,304.6 L1537.0,295.7 L1538.0,301.1 L1539.0,302.4 L1540.0,298.6 L1541.0,298.9 L1542.0,292.9 L1543.0,297.9 L1544.0,289.8 L1545.0,289.2 L1546.0,295.6 L1547.0,296.6 L1548.0,293.2 L1549.0,288.6 L1550.0,291.1 L1551.0,287.6 L1552.0,284.4 L1553.0,284.5 L1554.0,285.7 L1555.0,289.3 L1556.0,281.3 L1557.0,281.2 L1558.0,282.2 L1559.0,283.7 L1560.0,282.9 L1561.0,285.1 L1562.0,280.3 L1563.0,281.6 L1564.0,277.4 L1565.0,276.2 L1566.0,278.3 L1567.0,278.9 L1568.0,278.0 L1569.0,277.8 L1570.0,275.4 L1571.0,276.0 L1572.0,273.6 L1573.0,274.5 L1574.0,274.9 L1575.0,274.5 L1576.0,270.2 L1577.0,270.3 L1578.0,269.8 L1579.0,270.6 L1580.0,268.1 L1581.0,266.6 L1582.0,263.8 L1583.0,265.1 L1584.0,266.7 L1585.0,263.5 L1586.0,260.3 L1587.0,262.3 L1588.0,257.2 L1589.0,257.4 L1590.0,257.5 L1591.0,255.2 L1592.0,253.3 L1593.0,250.9 L1594.0,254.3 L1595.0,248.5 L1596.0,249.0 L1597.0,249.7 L1598.0,247.3 L1599.0,247.3 L1600.0,244.6 L1601.0,243.4 L1602.0,241.3 L1603.0,245.8 L1604.0,242.1 L1605.0,241.4 L1606.0,244.6 L1607.0,245.0 L1608.0,238.7 L1609.0,242.3 L1610.0,243.9 L1611.0,238.7 L1612.0,241.9 L1613.0,235.2 L1614.0,240.3 L1615.0,239.8 L1616.0,239.9 L1617.0,234.3 L1618.0,239.0 L1619.0,236.5 L1620.0,234.1 L1621.0,238.8 L1622.0,231.2 L1623.0,233.1 L1624.0,233.2 L1625.0,233.3 L1626.0,235.9 L1627.0,229.3 L1628.0,230.1 L1629.0,232.6 L1630.0,230.2 L1631.0,225.8 L1632.0,225.6 L1633.0,225.8 L1634.0,226.8 L1635.0,225.6 L1636.0,222.6 L1637.0,222.7 L1638.0,226.5 L1639.0,226.2 L1640.0,223.5 L1641.0,225.9 L1642.0,222.0 L1643.0,219.2 L1643.0,242.5 L1642.0,241.0 L1641.0,239.1 L1640.0,239.6 L1639.0,240.4 L1638.0,240.7 L1637.0,242.0 L1636.0,245.3 L1635.0,243.0 L1634.0,243.4 L1633.0,246.0 L1632.0,246.0 L1631.0,247.5 L1630.0,250.8 L1629.0,247.0 L1628.0,248.0 L1627.0,249.8 L1626.0,249.3 L1625.0,250.9 L1624.0,251.0 L1623.0,254.5 L1622.0,255.3 L1621.0,251.0 L1620.0,252.1 L1619.0,252.1 L1618.0,253.9 L1617.0,253.7 L1616.0,254.9 L1615.0,252.9 L1614.0,253.3 L1613.0,255.1 L1612.0,255.9 L1611.0,255.1 L1610.0,257.8 L1609.0,257.9 L1608.0,257.1 L1607.0,257.5 L1606.0,258.0 L1605.0,263.4 L1604.0,260.9 L1603.0,259.4 L1602.0,261.0 L1601.0,265.2 L1600.0,262.6 L1599.0,261.4 L1598.0,263.4 L1597.0,266.6 L1596.0,269.0 L1595.0,266.8 L1594.0,267.8 L1593.0,268.8 L1592.0,269.8 L1591.0,273.3 L1590.0,271.2 L1589.0,272.6 L1588.0,274.8 L1587.0,275.4 L1586.0,275.9 L1585.0,276.9 L1584.0,280.7 L1583.0,278.1 L1582.0,280.8 L1581.0,279.8 L1580.0,282.2 L1579.0,283.9 L1578.0,284.0 L1577.0,286.3 L1576.0,286.3 L1575.0,285.3 L1574.0,287.5 L1573.0,289.9 L1572.0,289.9 L1571.0,287.9 L1570.0,288.5 L1569.0,293.8 L1568.0,292.7 L1567.0,291.7 L1566.0,292.0 L1565.0,296.8 L1564.0,296.7 L1563.0,293.7 L1562.0,294.7 L1561.0,295.5 L1560.0,299.5 L1559.0,301.3 L1558.0,302.7 L1557.0,302.8 L1556.0,300.4 L1555.0,302.2 L1554.0,303.6 L1553.0,307.4 L1552.0,306.3 L1551.0,311.1 L1550.0,309.4 L1549.0,310.2 L1548.0,311.3 L1547.0,314.5 L1546.0,314.2 L1545.0,314.7 L1544.0,320.4 L1543.0,320.2 L1542.0,317.0 L1541.0,319.2 L1540.0,322.3 L1539.0,321.5 L1538.0,320.0 L1537.0,325.1 L1536.0,320.6 L1535.0,322.1 L1534.0,327.1 L1533.0,321.9 L1532.0,326.0 L1531.0,322.6 L1530.0,326.9 L1529.0,325.1 L1528.0,323.0 L1527.0,326.7 L1526.0,323.1 L1525.0,326.8 L1524.0,328.7 L1523.0,324.2 L1522.0,325.4 L1521.0,326.1 L1520.0,325.9 L1519.0,326.7 L1518.0,327.1 L1517.0,329.6 L1516.0,327.8 L1515.0,329.1 L1514.0,330.4 L1513.0,331.7 L1512.0,334.3 L1511.0,333.2 L1510.0,330.2 L1509.0,330.0 L1508.0,330.5 L1507.0,330.6 L1506.0,332.3 L1505.0,331.5 L1504.0,332.0 L1503.0,332.6 L1502.0,332.9 L1501.0,337.1 L1500.0,338.0 L1499.0,341.8 L1498.0,340.4 L1497.0,336.9 L1496.0,342.9 L1495.0,340.1 L1494.0,341.4 L1493.0,346.2 L1492.0,343.9 L1491.0,346.2 L1490.0,347.7 L1489.0,347.3 L1488.0,345.5 L1487.0,349.1 L1486.0,350.4 L1485.0,351.4 L1484.0,351.7 L1483.0,352.4 L1482.0,351.7 L1481.0,354.7 L1480.0,353.1 L1479.0,355.3 L1478.0,355.4 L1477.0,355.9 L1476.0,357.0 L1475.0,364.3 L1474.0,357.9 L1473.0,359.1 L1472.0,359.6 L1471.0,365.8 L1470.0,361.7 L1469.0,362.5 L1468.0,365.7 L1467.0,370.4 L1466.0,367.6 L1465.0,369.8 L1464.0,366.9 L1463.0,370.6 L1462.0,370.4 L1461.0,372.3 L1460.0,375.2 L1459.0,374.9 L1458.0,373.7 L1457.0,378.9 L1456.0,378.6 L1455.0,375.6 L1454.0,376.7 L1453.0,376.5 L1452.0,379.2 L1451.0,382.4 L1450.0,382.1 L1449.0,372.4 L1448.0,379.3 L1447.0,382.0 L1446.0,386.2 L1445.0,379.7 L1444.0,384.6 L1443.0,377.7 L1442.0,374.6 L1441.0,377.5 L1440.0,379.9 L1439.0,375.5 L1438.0,377.7 L1437.0,379.0 L1436.0,382.8 L1435.0,384.0 L1434.0,377.7 L1433.0,381.3 L1432.0,389.9 L1431.0,379.7 L1430.0,378.0 L1429.0,378.5 L1428.0,379.6 L1427.0,394.2 L1426.0,393.3 L1425.0,381.6 L1424.0,380.2 L1423.0,380.4 L1422.0,380.6 L1421.0,396.0 L1420.0,388.6 L1419.0,382.7 L1418.0,384.5 L1417.0,385.9 L1416.0,383.2 L1415.0,384.5 L1414.0,384.3 L1413.0,398.8 L1412.0,388.4 L1411.0,387.8 L1410.0,385.1 L1409.0,386.2 L1408.0,386.4 L1407.0,388.9 L1406.0,392.3 L1405.0,383.0 L1404.0,397.7 L1403.0,394.4 L1402.0,383.5 L1401.0,393.0 L1400.0,400.2 L1399.0,387.0 L1398.0,392.3 L1397.0,393.6 L1396.0,380.1 L1395.0,390.5 L1394.0,378.5 L1393.0,378.5 L1392.0,384.7 L1391.0,379.2 L1390.0,382.5 L1389.0,377.6 L1388.0,375.5 L1387.0,384.1 L1386.0,382.6 L1385.0,380.8 L1384.0,391.7 L1383.0,393.4 L1382.0,395.7 L1381.0,381.3 L1380.0,387.3 L1379.0,397.7 L1378.0,388.9 L1377.0,384.2 L1376.0,382.4 L1375.0,396.6 L1374.0,394.4 L1373.0,384.6 L1372.0,397.0 L1371.0,386.5 L1370.0,389.9 L1369.0,397.0 L1368.0,400.0 L1367.0,387.7 L1366.0,399.2 L1365.0,386.2 L1364.0,400.2 L1363.0,394.2 L1362.0,389.7 L1361.0,386.6 L1360.0,384.4 L1359.0,386.0 L1358.0,384.7 L1357.0,389.1 L1356.0,387.6 L1355.0,400.0 L1354.0,384.1 L1353.0,384.3 L1352.0,390.8 L1351.0,387.1 L1350.0,387.3 L1349.0,391.1 L1348.0,393.3 L1347.0,391.0 L1346.0,388.8 L1345.0,392.4 L1344.0,392.5 L1343.0,391.4 L1342.0,394.7 L1341.0,389.5 L1340.0,402.7 L1339.0,393.0 L1338.0,388.1 L1337.0,388.3 L1336.0,391.0 L1335.0,396.7 L1334.0,386.5 L1333.0,387.7 L1332.0,385.8 L1331.0,385.7 L1330.0,387.1 L1329.0,385.8 L1328.0,385.4 L1327.0,390.4 L1326.0,388.9 L1325.0,386.6 L1324.0,397.2 L1323.0,397.5 L1322.0,388.8 L1321.0,394.7 L1320.0,388.2 L1319.0,390.3 L1318.0,394.6 L1317.0,388.6 L1316.0,392.5 L1315.0,391.8 L1314.0,389.0 L1313.0,393.5 L1312.0,400.4 L1311.0,394.5 L1310.0,392.7 L1309.0,400.2 L1308.0,400.1 L1307.0,392.3 L1306.0,393.6 L1305.0,392.1 L1304.0,394.4 L1303.0,392.5 L1302.0,396.8 L1301.0,404.8 L1300.0,396.2 L1299.0,397.6 L1298.0,395.7 L1297.0,396.3 L1296.0,404.6 L1295.0,405.3 L1294.0,405.2 L1293.0,402.1 L1292.0,406.0 L1291.0,411.9 L1290.0,402.3 L1289.0,402.2 L1288.0,402.7 L1287.0,411.2 L1286.0,405.5 L1285.0,404.9 L1284.0,411.8 L1283.0,408.5 L1282.0,412.1 L1281.0,408.0 L1280.0,403.4 L1279.0,404.2 L1278.0,408.8 L1277.0,410.4 L1276.0,405.1 L1275.0,404.2 L1274.0,404.3 L1273.0,404.5 L1272.0,404.9 L1271.0,413.5 L1270.0,405.7 L1269.0,414.9 L1268.0,406.6 L1267.0,409.1 L1266.0,409.6 L1265.0,408.7 L1264.0,411.8 L1263.0,413.6 L1262.0,414.3 L1261.0,411.7 L1260.0,412.9 L1259.0,418.1 L1258.0,415.3 L1257.0,419.8 L1256.0,415.6 L1255.0,415.5 L1254.0,422.4 L1253.0,416.9 L1252.0,426.0 L1251.0,419.8 L1250.0,430.0 L1249.0,421.7 L1248.0,427.4 L1247.0,428.0 L1246.0,423.5 L1245.0,425.7 L1244.0,435.3 L1243.0,433.6 L1242.0,427.6 L1241.0,431.3 L1240.0,428.1 L1239.0,433.6 L1238.0,429.6 L1237.0,437.2 L1236.0,433.8 L1235.0,441.9 L1234.0,444.8 L1233.0,460.9 L1232.0,444.1 L1231.0,455.5 L1230.0,438.5 L1229.0,437.4 L1228.0,444.2 L1227.0,440.3 L1226.0,428.1 L1225.0,434.2 L1224.0,424.2 L1223.0,426.5 L1222.0,414.7 L1221.0,402.4 L1220.0,397.8 L1219.0,394.3 L1218.0,398.6 L1217.0,402.3 L1216.0,402.4 L1215.0,403.2 L1214.0,389.8 L1213.0,393.5 L1212.0,388.7 L1211.0,395.7 L1210.0,400.7 L1209.0,397.4 L1208.0,390.9 L1207.0,392.6 L1206.0,393.7 L1205.0,388.5 L1204.0,389.9 L1203.0,394.1 L1202.0,386.0 L1201.0,388.5 L1200.0,385.5 L1199.0,394.7 L1198.0,385.3 L1197.0,395.4 L1196.0,389.7 L1195.0,393.3 L1194.0,386.0 L1193.0,392.8 L1192.0,389.8 L1191.0,386.6 L1190.0,392.5 L1189.0,391.4 L1188.0,389.0 L1187.0,387.7 L1186.0,390.3 L1185.0,389.4 L1184.0,390.4 L1183.0,398.8 L1182.0,391.4 L1181.0,386.7 L1180.0,385.1 L1179.0,391.7 L1178.0,384.9 L1177.0,381.6 L1176.0,381.5 L1175.0,384.9 L1174.0,382.9 L1173.0,381.0 L1172.0,383.4 L1171.0,383.4 L1170.0,384.8 L1169.0,389.1 L1168.0,381.5 L1167.0,387.0 L1166.0,381.8 L1165.0,387.8 L1164.0,383.7 L1163.0,390.6 L1162.0,392.1 L1161.0,384.3 L1160.0,387.2 L1159.0,388.2 L1158.0,391.4 L1157.0,391.0 L1156.0,386.3 L1155.0,391.5 L1154.0,387.6 L1153.0,386.6 L1152.0,393.2 L1151.0,393.0 L1150.0,393.6 L1149.0,387.5 L1148.0,392.9 L1147.0,388.1 L1146.0,389.1 L1145.0,390.2 L1144.0,388.9 L1143.0,387.8 L1142.0,389.0 L1141.0,388.8 L1140.0,391.1 L1139.0,390.4 L1138.0,391.4 L1137.0,390.6 L1136.0,394.6 L1135.0,394.1 L1134.0,391.6 L1133.0,394.3 L1132.0,394.1 L1131.0,396.2 L1130.0,396.5 L1129.0,394.1 L1128.0,398.2 L1127.0,397.2 L1126.0,406.8 L1125.0,406.8 L1124.0,398.9 L1123.0,399.7 L1122.0,402.2 L1121.0,400.7 L1120.0,406.0 L1119.0,402.3 L1118.0,403.6 L1117.0,404.7 L1116.0,416.3 L1115.0,404.7 L1114.0,407.4 L1113.0,404.3 L1112.0,416.0 L1111.0,410.7 L1110.0,410.7 L1109.0,411.9 L1108.0,390.1 L1107.0,387.7 L1106.0,389.4 L1105.0,383.7 L1104.0,384.8 L1103.0,384.1 L1102.0,388.7 L1101.0,385.7 L1100.0,384.9 L1099.0,390.4 L1098.0,387.7 L1097.0,382.6 L1096.0,384.9 L1095.0,382.9 L1094.0,390.9 L1093.0,387.6 L1092.0,384.8 L1091.0,386.9 L1090.0,384.8 L1089.0,388.2 L1088.0,388.2 L1087.0,386.1 L1086.0,386.8 L1085.0,389.7 L1084.0,386.0 L1083.0,391.8 L1082.0,387.8 L1081.0,388.3 L1080.0,386.0 L1079.0,389.4 L1078.0,384.3 L1077.0,382.5 L1076.0,383.3 L1075.0,385.0 L1074.0,382.8 L1073.0,385.8 L1072.0,383.7 L1071.0,386.1 L1070.0,386.7 L1069.0,384.7 L1068.0,384.3 L1067.0,384.9 L1066.0,387.2 L1065.0,385.4 L1064.0,385.1 L1063.0,391.1 L1062.0,392.6 L1061.0,387.0 L1060.0,391.8 L1059.0,386.4 L1058.0,386.7 L1057.0,392.0 L1056.0,390.2 L1055.0,388.1 L1054.0,388.7 L1053.0,389.3 L1052.0,387.2 L1051.0,390.2 L1050.0,392.5 L1049.0,387.6 L1048.0,392.9 L1047.0,387.0 L1046.0,391.8 L1045.0,386.9 L1044.0,387.5 L1043.0,388.5 L1042.0,388.8 L1041.0,389.3 L1040.0,394.1 L1039.0,387.4 L1038.0,394.6 L1037.0,390.4 L1036.0,393.8 L1035.0,407.3 L1034.0,409.9 L1033.0,406.9 L1032.0,388.0 L1031.0,385.4 L1030.0,387.0 L1029.0,380.1 L1028.0,383.9 L1027.0,383.7 L1026.0,381.3 L1025.0,386.7 L1024.0,385.1 L1023.0,387.8 L1022.0,383.4 L1021.0,384.4 L1020.0,382.6 L1019.0,383.3 L1018.0,387.4 L1017.0,383.5 L1016.0,384.2 L1015.0,389.6 L1014.0,389.5 L1013.0,389.5 L1012.0,386.0 L1011.0,388.9 L1010.0,387.3 L1009.0,389.3 L1008.0,388.7 L1007.0,390.7 L1006.0,392.4 L1005.0,387.1 L1004.0,388.8 L1003.0,387.4 L1002.0,389.8 L1001.0,387.7 L1000.0,388.2 L999.0,389.8 L998.0,395.8 L997.0,388.2 L996.0,388.2 L995.0,390.8 L994.0,389.1 L993.0,390.8 L992.0,394.3 L991.0,393.3 L990.0,395.0 L989.0,391.6 L988.0,394.9 L987.0,392.7 L986.0,398.3 L985.0,393.6 L984.0,394.9 L983.0,390.7 L982.0,392.1 L981.0,392.0 L980.0,394.1 L979.0,390.8 L978.0,389.7 L977.0,395.8 L976.0,398.5 L975.0,391.6 L974.0,394.4 L973.0,398.9 L972.0,394.7 L971.0,396.3 L970.0,399.9 L969.0,398.5 L968.0,400.0 L967.0,394.0 L966.0,393.1 L965.0,391.0 L964.0,398.6 L963.0,391.2 L962.0,400.7 L961.0,392.8 L960.0,391.9 L959.0,393.5 L958.0,396.1 L957.0,391.8 L956.0,399.7 L955.0,396.1 L954.0,396.5 L953.0,393.9 L952.0,398.2 L951.0,394.9 L950.0,397.5 L949.0,391.8 L948.0,394.1 L947.0,392.0 L946.0,391.5 L945.0,393.4 L944.0,397.7 L943.0,393.5 L942.0,407.6 L941.0,400.0 L940.0,401.5 L939.0,413.1 L938.0,411.4 L937.0,401.8 L936.0,412.9 L935.0,416.8 L934.0,404.2 L933.0,422.2 L932.0,420.9 L931.0,408.0 L930.0,410.5 L929.0,413.7 L928.0,412.9 L927.0,422.3 L926.0,415.6 L925.0,416.0 L924.0,425.6 L923.0,415.5 L922.0,429.7 L921.0,427.4 L920.0,427.4 L919.0,408.0 L918.0,435.5 L917.0,423.6 L916.0,406.9 L915.0,410.0 L914.0,409.5 L913.0,439.5 L912.0,430.1 L911.0,416.6 L910.0,412.3 L909.0,430.2 L908.0,414.0 L907.0,428.1 L906.0,401.0 L905.0,399.8 L904.0,423.7 L903.0,399.5 L902.0,397.2 L901.0,409.3 L900.0,409.3 L899.0,411.4 L898.0,391.2 L897.0,395.0 L896.0,388.7 L895.0,386.8 L894.0,399.8 L893.0,385.9 L892.0,385.3 L891.0,382.7 L890.0,380.8 L889.0,379.5 L888.0,375.6 L887.0,389.1 L886.0,387.2 L885.0,393.6 L884.0,381.7 L883.0,387.9 L882.0,379.6 L881.0,382.1 L880.0,395.8 L879.0,392.6 L878.0,384.1 L877.0,396.7 L876.0,394.2 L875.0,382.8 L874.0,378.3 L873.0,393.5 L872.0,384.2 L871.0,379.0 L870.0,389.6 L869.0,378.2 L868.0,378.5 L867.0,379.4 L866.0,386.0 L865.0,384.2 L864.0,394.8 L863.0,392.1 L862.0,380.3 L861.0,393.8 L860.0,381.6 L859.0,400.3 L858.0,384.9 L857.0,406.9 L856.0,394.6 L855.0,400.3 L854.0,382.0 L853.0,389.6 L852.0,387.6 L851.0,401.3 L850.0,389.4 L849.0,387.1 L848.0,401.6 L847.0,395.6 L846.0,394.4 L845.0,384.6 L844.0,403.0 L843.0,412.0 L842.0,377.7 L841.0,404.0 L840.0,404.1 L839.0,399.6 L838.0,381.8 L837.0,378.7 L836.0,371.9 L835.0,377.0 L834.0,391.1 L833.0,355.2 L832.0,368.3 L831.0,351.2 L830.0,353.9 L829.0,368.5 L828.0,355.0 L827.0,352.1 L826.0,374.7 L825.0,369.8 L824.0,369.8 L823.0,377.5 L822.0,368.3 L821.0,360.6 L820.0,377.0 L819.0,402.5 L818.0,407.7 L817.0,398.9 L816.0,387.1 L815.0,371.8 L814.0,377.2 L813.0,359.8 L812.0,346.3 L811.0,340.2 L810.0,340.4 L809.0,330.2 L808.0,327.1 L807.0,330.0 L806.0,322.6 L805.0,326.5 L804.0,322.5 L803.0,323.6 L802.0,328.8 L801.0,322.9 L800.0,324.6 L799.0,340.8 L798.0,348.8 L797.0,328.8 L796.0,330.8 L795.0,328.2 L794.0,350.2 L793.0,335.4 L792.0,327.4 L791.0,349.5 L790.0,340.7 L789.0,332.2 L788.0,337.0 L787.0,353.5 L786.0,340.9 L785.0,341.8 L784.0,338.7 L783.0,330.2 L782.0,325.2 L781.0,324.1 L780.0,343.6 L779.0,345.1 L778.0,329.0 L777.0,325.4 L776.0,347.2 L775.0,345.9 L774.0,334.3 L773.0,327.5 L772.0,339.6 L771.0,333.6 L770.0,330.3 L769.0,325.3 L768.0,339.7 L767.0,319.9 L766.0,338.6 L765.0,337.6 L764.0,332.4 L763.0,316.0 L762.0,306.7 L761.0,337.6 L760.0,309.5 L759.0,339.1 L758.0,308.0 L757.0,306.0 L756.0,323.4 L755.0,329.3 L754.0,322.1 L753.0,330.0 L752.0,332.1 L751.0,316.2 L750.0,328.8 L749.0,347.1 L748.0,311.3 L747.0,324.7 L746.0,317.6 L745.0,320.9 L744.0,315.2 L743.0,340.3 L742.0,322.1 L741.0,322.3 L740.0,326.6 L739.0,321.8 L738.0,316.7 L737.0,320.7 L736.0,312.4 L735.0,314.0 L734.0,309.9 L733.0,307.1 L732.0,308.8 L731.0,312.5 L730.0,313.7 L729.0,306.0 L728.0,287.7 L727.0,300.9 L726.0,333.7 L725.0,320.7 L724.0,291.3 L723.0,301.3 L722.0,317.6 L721.0,332.3 L720.0,298.9 L719.0,302.4 L718.0,289.7 L717.0,303.5 L716.0,317.3 L715.0,288.3 L714.0,320.6 L713.0,340.0 L712.0,290.4 L711.0,295.0 L710.0,302.0 L709.0,308.7 L708.0,288.6 L707.0,292.8 L706.0,326.3 L705.0,322.7 L704.0,293.3 L703.0,289.5 L702.0,289.4 L701.0,289.4 L700.0,334.9 L699.0,311.3 L698.0,306.7 L697.0,318.1 L696.0,343.9 L695.0,295.5 L694.0,347.6 L693.0,342.2 L692.0,303.9 L691.0,297.6 L690.0,296.1 L689.0,300.4 L688.0,309.4 L687.0,305.0 L686.0,293.3 L685.0,351.5 L684.0,310.0 L683.0,347.8 L682.0,354.0 L681.0,331.5 L680.0,300.8 L679.0,320.0 L678.0,310.7 L677.0,373.1 L676.0,309.4 L675.0,299.8 L674.0,298.9 L673.0,306.1 L672.0,341.4 L671.0,330.9 L670.0,326.6 L669.0,312.9 L668.0,311.3 L667.0,310.1 L666.0,297.8 L665.0,290.2 L664.0,325.7 L663.0,266.5 L662.0,269.4 L661.0,333.9 L660.0,267.7 L659.0,333.6 L658.0,276.1 L657.0,358.9 L656.0,271.2 L655.0,272.3 L654.0,276.1 L653.0,325.0 L652.0,332.3 L651.0,297.5 L650.0,326.8 L649.0,365.5 L648.0,332.7 L647.0,317.7 L646.0,325.8 L645.0,289.5 L644.0,282.9 L643.0,294.8 L642.0,318.7 L641.0,341.6 L640.0,334.5 L639.0,277.3 L638.0,327.5 L637.0,259.5 L636.0,293.5 L635.0,315.9 L634.0,255.7 L633.0,310.8 L632.0,266.6 L631.0,277.2 L630.0,273.1 L629.0,301.5 L628.0,293.7 L627.0,294.8 L626.0,277.8 L625.0,223.9 L624.0,247.1 L623.0,225.0 L622.0,217.4 L621.0,215.2 L620.0,212.8 L619.0,243.2 L618.0,262.4 L617.0,229.2 L616.0,216.8 L615.0,235.4 L614.0,215.3 L613.0,226.5 L612.0,219.5 L611.0,208.8 L610.0,209.5 L609.0,209.5 L608.0,239.4 L607.0,213.2 L606.0,262.6 L605.0,213.9 L604.0,235.4 L603.0,253.6 L602.0,213.0 L601.0,213.6 L600.0,250.4 L599.0,247.8 L598.0,218.8 L597.0,221.2 L596.0,227.1 L595.0,219.8 L594.0,220.4 L593.0,221.7 L592.0,270.0 L591.0,244.5 L590.0,219.3 L589.0,238.3 L588.0,244.5 L587.0,220.8 L586.0,223.6 L585.0,238.1 L584.0,229.6 L583.0,233.8 L582.0,261.7 L581.0,284.0 L580.0,249.9 L579.0,244.9 L578.0,228.5 L577.0,260.2 L576.0,220.7 L575.0,221.1 L574.0,243.7 L573.0,252.2 L572.0,257.2 L571.0,245.0 L570.0,240.5 L569.0,231.9 L568.0,294.1 L567.0,232.1 L566.0,299.1 L565.0,235.1 L564.0,242.9 L563.0,245.6 L562.0,291.5 L561.0,261.0 L560.0,256.9 L559.0,315.8 L558.0,295.7 L557.0,274.5 L556.0,318.9 L555.0,255.5 L554.0,279.8 L553.0,304.8 L552.0,248.3 L551.0,303.9 L550.0,272.4 L549.0,238.5 L548.0,265.5 L547.0,230.6 L546.0,229.2 L545.0,237.8 L544.0,251.1 L543.0,229.0 L542.0,306.9 L541.0,262.5 L540.0,221.8 L539.0,227.0 L538.0,224.2 L537.0,217.5 L536.0,275.3 L535.0,218.6 L534.0,250.9 L533.0,253.0 L532.0,244.4 L531.0,240.3 L530.0,247.0 L529.0,221.2 L528.0,265.7 L527.0,220.0 L526.0,236.7 L525.0,238.7 L524.0,224.2 L523.0,267.3 L522.0,226.6 L521.0,297.3 L520.0,279.6 L519.0,223.0 L518.0,300.2 L517.0,231.6 L516.0,268.7 L515.0,227.6 L514.0,224.9 L513.0,229.5 L512.0,223.3 L511.0,254.5 L510.0,247.3 L509.0,231.8 L508.0,229.9 L507.0,214.8 L506.0,250.2 L505.0,229.9 L504.0,195.6 L503.0,212.5 L502.0,221.9 L501.0,183.2 L500.0,181.1 L499.0,189.9 L498.0,175.8 L497.0,174.7 L496.0,182.5 L495.0,181.1 L494.0,183.4 L493.0,184.3 L492.0,178.0 L491.0,185.0 L490.0,182.1 L489.0,175.2 L488.0,177.7 L487.0,176.1 L486.0,185.0 L485.0,186.3 L484.0,177.5 L483.0,188.4 L482.0,184.6 L481.0,187.9 L480.0,179.9 L479.0,182.3 L478.0,184.0 L477.0,187.8 L476.0,182.2 L475.0,181.6 L474.0,189.6 L473.0,181.7 L472.0,187.1 L471.0,187.2 L470.0,190.4 L469.0,192.9 L468.0,183.0 L467.0,185.0 L466.0,191.0 L465.0,192.8 L464.0,184.8 L463.0,185.0 L462.0,185.5 L461.0,190.1 L460.0,186.3 L459.0,194.1 L458.0,187.3 L457.0,196.5 L456.0,188.0 L455.0,189.2 L454.0,192.4 L453.0,195.5 L452.0,191.7 L451.0,194.1 L450.0,197.3 L449.0,201.6 L448.0,202.5 L447.0,194.5 L446.0,204.1 L445.0,200.0 L444.0,195.7 L443.0,195.4 L442.0,207.4 L441.0,198.0 L440.0,202.9 L439.0,203.1 L438.0,209.4 L437.0,212.6 L436.0,207.6 L435.0,211.2 L434.0,209.4 L433.0,206.5 L432.0,213.2 L431.0,202.9 L430.0,218.7 L429.0,216.7 L428.0,207.1 L427.0,206.4 L426.0,213.3 L425.0,206.6 L424.0,206.4 L423.0,210.8 L422.0,207.3 L421.0,213.2 L420.0,217.2 L419.0,218.6 L418.0,227.1 L417.0,220.4 L416.0,226.4 L415.0,231.2 L414.0,211.7 L413.0,212.0 L412.0,213.1 L411.0,214.7 L410.0,220.4 L409.0,228.3 L408.0,235.3 L407.0,216.9 L406.0,230.2 L405.0,236.9 L404.0,218.6 L403.0,219.5 L402.0,237.8 L401.0,240.7 L400.0,218.5 L399.0,240.5 L398.0,227.8 L397.0,225.9 L396.0,218.7 L395.0,221.0 L394.0,223.4 L393.0,240.7 L392.0,230.3 L391.0,221.6 L390.0,234.0 L389.0,230.8 L388.0,245.2 L387.0,241.0 L386.0,237.8 L385.0,234.6 L384.0,249.8 L383.0,248.8 L382.0,231.0 L381.0,225.1 L380.0,244.3 L379.0,245.6 L378.0,225.6 L377.0,228.6 L376.0,238.7 L375.0,252.0 L374.0,227.3 L373.0,231.2 L372.0,232.1 L371.0,229.6 L370.0,229.9 L369.0,230.3 L368.0,234.1 L367.0,231.5 L366.0,242.0 L365.0,252.9 L364.0,255.5 L363.0,256.1 L362.0,243.9 L361.0,245.0 L360.0,250.8 L359.0,254.8 L358.0,236.3 L357.0,250.3 L356.0,245.1 L355.0,237.4 L354.0,258.9 L353.0,240.6 L352.0,238.3 L351.0,257.6 L350.0,254.3 L349.0,256.0 L348.0,239.2 L347.0,238.8 L346.0,257.9 L345.0,246.7 L344.0,250.4 L343.0,241.8 L342.0,248.1 L341.0,245.4 L340.0,247.3 L339.0,244.6 L338.0,262.0 L337.0,252.4 L336.0,249.8 L335.0,256.1 L334.0,253.7 L333.0,248.9 L332.0,256.0 L331.0,264.1 L330.0,253.6 L329.0,252.7 L328.0,259.1 L327.0,266.4 L326.0,253.3 L325.0,253.3 L324.0,253.7 L323.0,273.0 L322.0,261.5 L321.0,255.4 L320.0,264.8 L319.0,255.9 L318.0,255.9 L317.0,275.8 L316.0,256.6 L315.0,274.7 L314.0,267.0 L313.0,263.3 L312.0,266.3 L311.0,267.0 L310.0,276.0 L309.0,274.9 L308.0,260.5 L307.0,272.1 L306.0,270.3 L305.0,265.8 L304.0,269.7 L303.0,264.4 L302.0,279.7 L301.0,266.9 L300.0,268.6 L299.0,275.1 L298.0,288.3 L297.0,279.8 L296.0,281.5 L295.0,284.3 L294.0,284.8 L293.0,288.5 L292.0,303.3 L291.0,291.1 L290.0,289.6 L289.0,292.5 L288.0,294.4 L287.0,299.3 L286.0,297.9 L285.0,301.9 L284.0,301.7 L283.0,302.9 L282.0,321.2 L281.0,306.2 L280.0,307.5 L279.0,319.7 L278.0,324.5 L277.0,320.4 L276.0,312.2 L275.0,327.9 L274.0,328.6 L273.0,322.0 L272.0,317.3 L271.0,315.7 L270.0,320.5 L269.0,314.9 L268.0,314.3 L267.0,320.1 L266.0,326.5 L265.0,320.6 L264.0,321.2 L263.0,321.9 L262.0,324.1 L261.0,327.7 L260.0,330.3 L259.0,324.6 L258.0,327.0 L257.0,328.9 L256.0,329.0 L255.0,338.4 L254.0,332.2 L253.0,328.7 L252.0,339.7 L251.0,328.0 L250.0,328.7 L249.0,335.5 L248.0,328.6 L247.0,339.5 L246.0,334.4 L245.0,329.2 L244.0,337.8 L243.0,340.4 L242.0,329.0 L241.0,329.9 L240.0,329.6 L239.0,336.7 L238.0,330.9 L237.0,329.4 L236.0,329.1Z" fill="#fdeee0" fill-opacity="0.88"/>
<path d="M236.0,318.3 L237.0,317.7 L238.0,317.5 L239.0,318.6 L240.0,316.6 L241.0,316.4 L242.0,316.9 L243.0,316.5 L244.0,317.2 L245.0,316.5 L246.0,315.3 L247.0,315.0 L248.0,315.0 L249.0,315.7 L250.0,315.0 L251.0,313.2 L252.0,314.1 L253.0,313.3 L254.0,313.5 L255.0,312.2 L256.0,311.5 L257.0,312.1 L258.0,311.7 L259.0,310.5 L260.0,310.2 L261.0,308.7 L262.0,307.0 L263.0,307.0 L264.0,305.4 L265.0,302.6 L266.0,300.7 L267.0,301.0 L268.0,300.2 L269.0,300.7 L270.0,300.3 L271.0,300.1 L272.0,298.5 L273.0,298.9 L274.0,297.5 L275.0,297.3 L276.0,295.0 L277.0,295.5 L278.0,294.3 L279.0,292.3 L280.0,291.8 L281.0,290.3 L282.0,289.0 L283.0,287.7 L284.0,284.8 L285.0,284.1 L286.0,280.7 L287.0,280.1 L288.0,277.6 L289.0,275.0 L290.0,273.0 L291.0,271.3 L292.0,268.0 L293.0,266.5 L294.0,265.1 L295.0,264.4 L296.0,262.6 L297.0,259.3 L298.0,254.9 L299.0,251.9 L300.0,251.1 L301.0,250.1 L302.0,249.3 L303.0,248.4 L304.0,246.3 L305.0,246.4 L306.0,246.3 L307.0,244.0 L308.0,244.0 L309.0,242.3 L310.0,241.8 L311.0,242.1 L312.0,241.8 L313.0,240.4 L314.0,241.0 L315.0,239.8 L316.0,240.7 L317.0,239.8 L318.0,239.0 L319.0,238.1 L320.0,238.3 L321.0,237.1 L322.0,237.4 L323.0,235.9 L324.0,235.2 L325.0,235.7 L326.0,236.0 L327.0,234.0 L328.0,234.0 L329.0,233.1 L330.0,232.2 L331.0,231.6 L332.0,230.9 L333.0,230.1 L334.0,230.6 L335.0,228.9 L336.0,228.6 L337.0,226.8 L338.0,226.4 L339.0,226.5 L340.0,225.1 L341.0,224.6 L342.0,223.2 L343.0,222.1 L344.0,222.1 L345.0,221.9 L346.0,220.4 L347.0,220.1 L348.0,219.4 L349.0,218.6 L350.0,218.6 L351.0,218.3 L352.0,217.5 L353.0,217.3 L354.0,218.1 L355.0,217.4 L356.0,216.1 L357.0,216.2 L358.0,214.9 L359.0,216.0 L360.0,214.2 L361.0,213.5 L362.0,213.5 L363.0,213.1 L364.0,210.8 L365.0,210.2 L366.0,210.4 L367.0,208.8 L368.0,209.5 L369.0,207.6 L370.0,208.5 L371.0,208.3 L372.0,206.9 L373.0,205.5 L374.0,206.6 L375.0,205.6 L376.0,204.1 L377.0,204.8 L378.0,202.8 L379.0,203.2 L380.0,202.7 L381.0,202.1 L382.0,201.7 L383.0,201.9 L384.0,202.2 L385.0,201.5 L386.0,200.6 L387.0,202.0 L388.0,200.8 L389.0,199.5 L390.0,201.3 L391.0,200.1 L392.0,199.2 L393.0,199.5 L394.0,199.7 L395.0,198.5 L396.0,199.7 L397.0,200.2 L398.0,198.6 L399.0,199.5 L400.0,197.9 L401.0,198.9 L402.0,198.8 L403.0,199.5 L404.0,197.9 L405.0,199.0 L406.0,197.1 L407.0,198.5 L408.0,195.7 L409.0,195.9 L410.0,195.1 L411.0,195.1 L412.0,194.5 L413.0,195.0 L414.0,194.9 L415.0,193.8 L416.0,192.9 L417.0,193.7 L418.0,193.3 L419.0,191.6 L420.0,190.6 L421.0,191.3 L422.0,190.5 L423.0,189.4 L424.0,191.1 L425.0,190.5 L426.0,189.3 L427.0,188.9 L428.0,189.2 L429.0,188.9 L430.0,187.9 L431.0,188.2 L432.0,186.7 L433.0,186.4 L434.0,187.4 L435.0,186.9 L436.0,185.2 L437.0,184.0 L438.0,184.8 L439.0,185.0 L440.0,184.5 L441.0,181.8 L442.0,183.1 L443.0,180.8 L444.0,180.6 L445.0,180.6 L446.0,181.1 L447.0,179.8 L448.0,179.9 L449.0,178.4 L450.0,178.0 L451.0,177.5 L452.0,177.7 L453.0,176.9 L454.0,178.0 L455.0,177.3 L456.0,175.3 L457.0,175.1 L458.0,175.4 L459.0,174.6 L460.0,174.6 L461.0,174.9 L462.0,174.0 L463.0,172.4 L464.0,173.4 L465.0,173.2 L466.0,172.7 L467.0,172.7 L468.0,171.6 L469.0,170.5 L470.0,170.7 L471.0,171.3 L472.0,170.5 L473.0,169.2 L474.0,170.1 L475.0,169.7 L476.0,169.0 L477.0,168.8 L478.0,168.2 L479.0,167.2 L480.0,168.3 L481.0,166.7 L482.0,166.2 L483.0,165.0 L484.0,166.7 L485.0,165.3 L486.0,164.5 L487.0,164.1 L488.0,164.6 L489.0,162.1 L490.0,161.6 L491.0,162.7 L492.0,161.8 L493.0,161.8 L494.0,161.5 L495.0,161.9 L496.0,161.3 L497.0,160.5 L498.0,161.0 L499.0,160.7 L500.0,158.5 L501.0,158.9 L502.0,161.2 L503.0,160.3 L504.0,160.8 L505.0,160.2 L506.0,161.5 L507.0,160.5 L508.0,162.7 L509.0,163.3 L510.0,162.0 L511.0,164.2 L512.0,164.4 L513.0,164.5 L514.0,165.4 L515.0,164.9 L516.0,166.6 L517.0,166.6 L518.0,166.9 L519.0,166.5 L520.0,166.6 L521.0,167.3 L522.0,168.4 L523.0,168.3 L524.0,168.5 L525.0,170.0 L526.0,169.6 L527.0,170.0 L528.0,169.1 L529.0,168.6 L530.0,167.0 L531.0,168.4 L532.0,167.5 L533.0,165.0 L534.0,164.8 L535.0,164.5 L536.0,164.0 L537.0,162.6 L538.0,161.5 L539.0,161.6 L540.0,160.8 L541.0,159.8 L542.0,161.4 L543.0,159.1 L544.0,159.9 L545.0,158.7 L546.0,158.9 L547.0,158.8 L548.0,158.4 L549.0,160.3 L550.0,160.4 L551.0,159.3 L552.0,159.6 L553.0,160.0 L554.0,159.3 L555.0,159.4 L556.0,161.0 L557.0,160.1 L558.0,161.0 L559.0,162.7 L560.0,162.3 L561.0,165.0 L562.0,166.4 L563.0,166.1 L564.0,167.9 L565.0,169.7 L566.0,171.5 L567.0,173.7 L568.0,175.0 L569.0,177.4 L570.0,176.9 L571.0,175.6 L572.0,173.9 L573.0,172.7 L574.0,170.4 L575.0,169.8 L576.0,169.7 L577.0,169.7 L578.0,168.5 L579.0,169.0 L580.0,169.0 L581.0,167.4 L582.0,166.6 L583.0,167.0 L584.0,168.5 L585.0,169.4 L586.0,169.9 L587.0,171.5 L588.0,172.4 L589.0,174.4 L590.0,173.5 L591.0,174.0 L592.0,176.1 L593.0,176.8 L594.0,176.9 L595.0,177.0 L596.0,178.9 L597.0,178.5 L598.0,178.2 L599.0,177.6 L600.0,178.8 L601.0,177.8 L602.0,178.4 L603.0,175.8 L604.0,176.6 L605.0,173.5 L606.0,172.7 L607.0,172.5 L608.0,170.3 L609.0,171.1 L610.0,168.3 L611.0,170.0 L612.0,167.4 L613.0,166.9 L614.0,165.4 L615.0,165.5 L616.0,167.8 L617.0,165.9 L618.0,167.9 L619.0,167.6 L620.0,169.8 L621.0,168.8 L622.0,172.1 L623.0,172.9 L624.0,173.4 L625.0,173.2 L626.0,170.7 L627.0,170.1 L628.0,169.3 L629.0,170.0 L630.0,174.0 L631.0,178.6 L632.0,181.7 L633.0,183.9 L634.0,190.1 L635.0,190.3 L636.0,192.9 L637.0,192.1 L638.0,192.0 L639.0,189.8 L640.0,191.3 L641.0,194.3 L642.0,193.0 L643.0,191.1 L644.0,193.3 L645.0,192.1 L646.0,190.1 L647.0,193.7 L648.0,189.8 L649.0,195.5 L650.0,194.3 L651.0,195.5 L652.0,195.3 L653.0,189.3 L654.0,193.3 L655.0,195.2 L656.0,190.3 L657.0,190.5 L658.0,195.4 L659.0,192.4 L660.0,191.9 L661.0,193.7 L662.0,192.2 L663.0,194.2 L664.0,188.2 L665.0,190.5 L666.0,190.7 L667.0,190.5 L668.0,189.0 L669.0,192.0 L670.0,197.9 L671.0,198.1 L672.0,198.3 L673.0,206.6 L674.0,211.8 L675.0,216.9 L676.0,217.1 L677.0,215.7 L678.0,221.7 L679.0,228.9 L680.0,236.6 L681.0,242.0 L682.0,242.3 L683.0,238.0 L684.0,241.8 L685.0,239.9 L686.0,242.2 L687.0,244.5 L688.0,241.7 L689.0,245.6 L690.0,245.7 L691.0,245.6 L692.0,247.0 L693.0,244.0 L694.0,248.1 L695.0,246.2 L696.0,247.7 L697.0,247.3 L698.0,248.8 L699.0,248.8 L700.0,247.2 L701.0,248.1 L702.0,249.8 L703.0,248.2 L704.0,247.4 L705.0,249.4 L706.0,249.4 L707.0,248.2 L708.0,248.3 L709.0,246.9 L710.0,247.9 L711.0,246.4 L712.0,245.3 L713.0,247.8 L714.0,245.1 L715.0,246.9 L716.0,246.5 L717.0,244.7 L718.0,246.1 L719.0,247.7 L720.0,246.0 L721.0,247.1 L722.0,247.7 L723.0,245.4 L724.0,241.6 L725.0,243.6 L726.0,241.1 L727.0,240.8 L728.0,242.9 L729.0,243.7 L730.0,240.8 L731.0,240.8 L732.0,246.6 L733.0,247.0 L734.0,254.1 L735.0,258.1 L736.0,261.2 L737.0,258.9 L738.0,254.5 L739.0,255.8 L740.0,255.5 L741.0,261.0 L742.0,262.2 L743.0,261.7 L744.0,260.9 L745.0,267.8 L746.0,267.0 L747.0,269.3 L748.0,271.7 L749.0,269.7 L750.0,269.2 L751.0,273.0 L752.0,272.7 L753.0,273.2 L754.0,272.8 L755.0,272.5 L756.0,271.4 L757.0,273.8 L758.0,271.2 L759.0,271.7 L760.0,273.8 L761.0,272.2 L762.0,270.3 L763.0,271.5 L764.0,271.0 L765.0,273.3 L766.0,273.5 L767.0,270.7 L768.0,272.0 L769.0,271.0 L770.0,272.2 L771.0,275.6 L772.0,272.8 L773.0,276.7 L774.0,275.6 L775.0,275.0 L776.0,277.8 L777.0,280.5 L778.0,279.2 L779.0,280.0 L780.0,283.7 L781.0,282.3 L782.0,283.8 L783.0,288.3 L784.0,289.1 L785.0,288.9 L786.0,292.0 L787.0,290.0 L788.0,293.1 L789.0,292.5 L790.0,294.0 L791.0,292.8 L792.0,295.4 L793.0,295.6 L794.0,296.6 L795.0,296.7 L796.0,297.3 L797.0,295.5 L798.0,296.0 L799.0,298.6 L800.0,295.8 L801.0,297.6 L802.0,297.0 L803.0,298.1 L804.0,298.1 L805.0,296.1 L806.0,298.1 L807.0,295.3 L808.0,297.3 L809.0,296.7 L810.0,296.4 L811.0,293.6 L812.0,295.6 L813.0,297.0 L814.0,297.4 L815.0,299.5 L816.0,301.2 L817.0,302.3 L818.0,302.9 L819.0,303.1 L820.0,306.8 L821.0,304.4 L822.0,307.5 L823.0,305.1 L824.0,307.5 L825.0,307.6 L826.0,306.8 L827.0,307.8 L828.0,310.8 L829.0,309.8 L830.0,310.0 L831.0,313.1 L832.0,317.0 L833.0,323.0 L834.0,325.9 L835.0,330.0 L836.0,334.8 L837.0,339.3 L838.0,337.8 L839.0,343.5 L840.0,343.7 L841.0,344.5 L842.0,346.7 L843.0,346.0 L844.0,346.5 L845.0,348.3 L846.0,348.1 L847.0,349.3 L848.0,350.3 L849.0,351.7 L850.0,350.2 L851.0,352.3 L852.0,350.7 L853.0,352.5 L854.0,353.2 L855.0,355.4 L856.0,355.9 L857.0,356.6 L858.0,356.8 L859.0,356.5 L860.0,358.6 L861.0,356.6 L862.0,359.0 L863.0,359.1 L864.0,359.3 L865.0,359.6 L866.0,359.0 L867.0,359.0 L868.0,357.8 L869.0,358.6 L870.0,359.4 L871.0,359.5 L872.0,360.4 L873.0,360.9 L874.0,362.0 L875.0,362.6 L876.0,363.8 L877.0,364.6 L878.0,364.6 L879.0,366.1 L880.0,366.2 L881.0,364.8 L882.0,365.3 L883.0,363.3 L884.0,364.3 L885.0,363.1 L886.0,362.7 L887.0,362.7 L888.0,362.6 L889.0,361.5 L890.0,360.8 L891.0,360.4 L892.0,363.0 L893.0,364.7 L894.0,364.8 L895.0,366.0 L896.0,366.5 L897.0,368.0 L898.0,368.9 L899.0,368.8 L900.0,370.6 L901.0,371.8 L902.0,372.2 L903.0,372.1 L904.0,372.6 L905.0,374.2 L906.0,374.1 L907.0,375.0 L908.0,376.1 L909.0,376.6 L910.0,377.4 L911.0,378.7 L912.0,379.8 L913.0,381.1 L914.0,382.5 L915.0,382.1 L916.0,382.1 L917.0,380.3 L918.0,381.6 L919.0,379.8 L920.0,380.6 L921.0,380.2 L922.0,381.4 L923.0,381.2 L924.0,381.1 L925.0,382.0 L926.0,381.7 L927.0,381.0 L928.0,382.0 L929.0,381.3 L930.0,382.1 L931.0,381.8 L932.0,382.1 L933.0,382.0 L934.0,382.2 L935.0,381.6 L936.0,382.3 L937.0,381.3 L938.0,382.3 L939.0,380.9 L940.0,382.2 L941.0,381.8 L942.0,382.2 L943.0,382.2 L944.0,381.5 L945.0,381.5 L946.0,382.1 L947.0,383.0 L948.0,383.0 L949.0,383.5 L950.0,383.3 L951.0,382.5 L952.0,383.3 L953.0,382.3 L954.0,382.7 L955.0,383.1 L956.0,383.5 L957.0,382.2 L958.0,383.2 L959.0,382.9 L960.0,382.8 L961.0,383.4 L962.0,382.4 L963.0,382.6 L964.0,382.5 L965.0,382.0 L966.0,382.6 L967.0,382.8 L968.0,382.9 L969.0,382.5 L970.0,382.8 L971.0,381.4 L972.0,382.4 L973.0,382.6 L974.0,382.3 L975.0,382.0 L976.0,382.3 L977.0,381.0 L978.0,381.0 L979.0,381.2 L980.0,382.1 L981.0,382.2 L982.0,381.4 L983.0,382.3 L984.0,381.2 L985.0,381.4 L986.0,381.2 L987.0,381.9 L988.0,382.0 L989.0,381.9 L990.0,382.0 L991.0,381.7 L992.0,380.7 L993.0,380.8 L994.0,381.0 L995.0,381.1 L996.0,380.7 L997.0,380.4 L998.0,381.1 L999.0,380.5 L1000.0,381.1 L1001.0,380.7 L1002.0,380.0 L1003.0,380.3 L1004.0,380.3 L1005.0,380.3 L1006.0,379.4 L1007.0,379.5 L1008.0,379.1 L1009.0,379.6 L1010.0,378.8 L1011.0,379.0 L1012.0,378.4 L1013.0,377.9 L1014.0,377.9 L1015.0,377.2 L1016.0,377.4 L1017.0,376.9 L1018.0,376.3 L1019.0,376.2 L1020.0,376.1 L1021.0,374.7 L1022.0,374.9 L1023.0,375.2 L1024.0,374.6 L1025.0,373.1 L1026.0,373.5 L1027.0,372.7 L1028.0,372.9 L1029.0,372.0 L1030.0,373.7 L1031.0,374.2 L1032.0,374.7 L1033.0,376.0 L1034.0,377.4 L1035.0,379.5 L1036.0,380.1 L1037.0,380.3 L1038.0,380.1 L1039.0,379.6 L1040.0,378.9 L1041.0,379.2 L1042.0,379.8 L1043.0,379.1 L1044.0,378.7 L1045.0,379.1 L1046.0,378.6 L1047.0,379.0 L1048.0,379.0 L1049.0,378.0 L1050.0,378.5 L1051.0,379.5 L1052.0,378.5 L1053.0,378.2 L1054.0,379.3 L1055.0,378.4 L1056.0,377.7 L1057.0,377.9 L1058.0,378.5 L1059.0,377.2 L1060.0,378.1 L1061.0,377.4 L1062.0,376.9 L1063.0,376.5 L1064.0,376.6 L1065.0,376.0 L1066.0,376.9 L1067.0,376.1 L1068.0,376.4 L1069.0,374.3 L1070.0,375.3 L1071.0,375.2 L1072.0,374.2 L1073.0,374.1 L1074.0,374.3 L1075.0,374.6 L1076.0,374.0 L1077.0,372.6 L1078.0,373.9 L1079.0,374.5 L1080.0,374.6 L1081.0,375.0 L1082.0,376.2 L1083.0,376.1 L1084.0,374.5 L1085.0,374.1 L1086.0,373.7 L1087.0,373.6 L1088.0,375.4 L1089.0,373.1 L1090.0,373.4 L1091.0,374.9 L1092.0,373.7 L1093.0,372.6 L1094.0,372.4 L1095.0,373.9 L1096.0,373.5 L1097.0,373.4 L1098.0,372.3 L1099.0,373.7 L1100.0,373.8 L1101.0,374.1 L1102.0,371.9 L1103.0,373.0 L1104.0,372.6 L1105.0,373.3 L1106.0,374.0 L1107.0,373.1 L1108.0,372.4 L1109.0,373.4 L1110.0,375.0 L1111.0,376.3 L1112.0,379.4 L1113.0,377.4 L1114.0,379.0 L1115.0,379.7 L1116.0,377.5 L1117.0,379.8 L1118.0,377.9 L1119.0,379.5 L1120.0,380.0 L1121.0,379.7 L1122.0,378.0 L1123.0,379.0 L1124.0,379.7 L1125.0,377.7 L1126.0,377.5 L1127.0,377.1 L1128.0,377.1 L1129.0,376.9 L1130.0,379.1 L1131.0,377.4 L1132.0,377.2 L1133.0,377.9 L1134.0,378.2 L1135.0,377.2 L1136.0,377.7 L1137.0,375.7 L1138.0,376.2 L1139.0,378.1 L1140.0,377.8 L1141.0,376.0 L1142.0,376.2 L1143.0,375.8 L1144.0,377.2 L1145.0,377.4 L1146.0,374.9 L1147.0,376.5 L1148.0,376.7 L1149.0,376.0 L1150.0,374.7 L1151.0,376.9 L1152.0,376.2 L1153.0,375.6 L1154.0,375.5 L1155.0,374.7 L1156.0,374.0 L1157.0,373.0 L1158.0,373.2 L1159.0,373.2 L1160.0,372.2 L1161.0,373.5 L1162.0,373.2 L1163.0,371.2 L1164.0,372.0 L1165.0,372.2 L1166.0,370.8 L1167.0,369.5 L1168.0,369.2 L1169.0,368.2 L1170.0,369.1 L1171.0,369.6 L1172.0,368.5 L1173.0,369.5 L1174.0,369.0 L1175.0,367.8 L1176.0,369.0 L1177.0,367.2 L1178.0,368.4 L1179.0,368.0 L1180.0,369.3 L1181.0,372.7 L1182.0,376.9 L1183.0,377.5 L1184.0,378.1 L1185.0,378.0 L1186.0,376.9 L1187.0,377.8 L1188.0,376.5 L1189.0,376.1 L1190.0,375.9 L1191.0,376.7 L1192.0,376.0 L1193.0,374.9 L1194.0,374.8 L1195.0,375.9 L1196.0,375.6 L1197.0,374.5 L1198.0,375.8 L1199.0,374.3 L1200.0,373.9 L1201.0,374.1 L1202.0,374.1 L1203.0,374.6 L1204.0,373.5 L1205.0,373.2 L1206.0,372.8 L1207.0,373.2 L1208.0,372.2 L1209.0,373.8 L1210.0,372.6 L1211.0,371.4 L1212.0,370.7 L1213.0,371.9 L1214.0,370.6 L1215.0,369.5 L1216.0,370.6 L1217.0,369.0 L1218.0,369.0 L1219.0,370.3 L1220.0,373.8 L1221.0,375.6 L1222.0,383.4 L1223.0,387.3 L1224.0,388.6 L1225.0,393.0 L1226.0,393.2 L1227.0,395.8 L1228.0,397.8 L1229.0,400.7 L1230.0,397.7 L1231.0,399.6 L1232.0,396.4 L1233.0,398.4 L1234.0,395.0 L1235.0,398.9 L1236.0,398.6 L1237.0,402.1 L1238.0,402.6 L1239.0,404.5 L1240.0,403.9 L1241.0,405.5 L1242.0,406.2 L1243.0,407.9 L1244.0,408.7 L1245.0,410.4 L1246.0,408.0 L1247.0,407.2 L1248.0,406.6 L1249.0,407.0 L1250.0,405.4 L1251.0,405.4 L1252.0,405.0 L1253.0,404.2 L1254.0,402.5 L1255.0,403.8 L1256.0,402.0 L1257.0,402.1 L1258.0,402.0 L1259.0,401.6 L1260.0,400.3 L1261.0,399.0 L1262.0,398.4 L1263.0,399.2 L1264.0,398.8 L1265.0,398.2 L1266.0,396.4 L1267.0,397.6 L1268.0,397.2 L1269.0,396.4 L1270.0,395.2 L1271.0,395.5 L1272.0,395.3 L1273.0,394.6 L1274.0,394.3 L1275.0,393.7 L1276.0,393.5 L1277.0,393.3 L1278.0,393.2 L1279.0,393.2 L1280.0,393.9 L1281.0,393.4 L1282.0,393.0 L1283.0,393.8 L1284.0,393.8 L1285.0,393.4 L1286.0,393.9 L1287.0,391.9 L1288.0,392.1 L1289.0,392.1 L1290.0,391.5 L1291.0,391.8 L1292.0,391.5 L1293.0,391.2 L1294.0,389.5 L1295.0,387.2 L1296.0,386.0 L1297.0,386.3 L1298.0,384.1 L1299.0,384.9 L1300.0,384.6 L1301.0,384.6 L1302.0,384.2 L1303.0,383.2 L1304.0,382.5 L1305.0,382.2 L1306.0,382.3 L1307.0,382.7 L1308.0,382.6 L1309.0,382.3 L1310.0,381.8 L1311.0,382.4 L1312.0,381.2 L1313.0,382.0 L1314.0,381.4 L1315.0,380.2 L1316.0,380.8 L1317.0,379.8 L1318.0,379.4 L1319.0,378.3 L1320.0,377.2 L1321.0,377.6 L1322.0,376.7 L1323.0,376.1 L1324.0,376.2 L1325.0,374.4 L1326.0,374.8 L1327.0,373.6 L1328.0,373.6 L1329.0,373.4 L1330.0,372.5 L1331.0,373.2 L1332.0,373.0 L1333.0,373.9 L1334.0,374.1 L1335.0,374.0 L1336.0,374.0 L1337.0,374.9 L1338.0,375.6 L1339.0,374.5 L1340.0,376.0 L1341.0,374.8 L1342.0,375.3 L1343.0,374.0 L1344.0,373.6 L1345.0,374.5 L1346.0,372.7 L1347.0,373.3 L1348.0,370.9 L1349.0,372.0 L1350.0,369.2 L1351.0,369.0 L1352.0,368.4 L1353.0,368.3 L1354.0,369.4 L1355.0,368.6 L1356.0,370.1 L1357.0,369.3 L1358.0,370.1 L1359.0,369.5 L1360.0,369.2 L1361.0,369.4 L1362.0,369.2 L1363.0,368.8 L1364.0,367.8 L1365.0,367.8 L1366.0,368.2 L1367.0,366.6 L1368.0,367.1 L1369.0,367.1 L1370.0,366.0 L1371.0,365.7 L1372.0,365.6 L1373.0,367.5 L1374.0,367.1 L1375.0,366.9 L1376.0,367.4 L1377.0,367.9 L1378.0,367.1 L1379.0,366.8 L1380.0,366.1 L1381.0,365.8 L1382.0,366.2 L1383.0,364.6 L1384.0,362.7 L1385.0,361.0 L1386.0,359.4 L1387.0,357.1 L1388.0,357.1 L1389.0,357.0 L1390.0,359.7 L1391.0,360.2 L1392.0,362.1 L1393.0,362.9 L1394.0,362.1 L1395.0,361.6 L1396.0,362.5 L1397.0,362.6 L1398.0,362.6 L1399.0,363.3 L1400.0,363.6 L1401.0,364.7 L1402.0,365.0 L1403.0,366.1 L1404.0,365.7 L1405.0,364.6 L1406.0,366.8 L1407.0,366.5 L1408.0,366.5 L1409.0,366.7 L1410.0,367.1 L1411.0,365.9 L1412.0,368.1 L1413.0,366.5 L1414.0,366.7 L1415.0,368.3 L1416.0,368.3 L1417.0,366.5 L1418.0,367.1 L1419.0,365.4 L1420.0,365.7 L1421.0,365.9 L1422.0,363.5 L1423.0,364.5 L1424.0,362.9 L1425.0,360.6 L1426.0,359.7 L1427.0,360.4 L1428.0,361.4 L1429.0,359.6 L1430.0,359.9 L1431.0,360.0 L1432.0,360.3 L1433.0,362.0 L1434.0,360.5 L1435.0,363.2 L1436.0,361.1 L1437.0,362.7 L1438.0,362.7 L1439.0,362.9 L1440.0,361.6 L1441.0,361.8 L1442.0,362.9 L1443.0,362.4 L1444.0,360.4 L1445.0,360.4 L1446.0,361.2 L1447.0,361.4 L1448.0,359.6 L1449.0,359.5 L1450.0,359.0 L1451.0,358.2 L1452.0,358.4 L1453.0,358.8 L1454.0,359.0 L1455.0,356.1 L1456.0,356.8 L1457.0,355.6 L1458.0,356.4 L1459.0,354.5 L1460.0,356.3 L1461.0,354.1 L1462.0,353.1 L1463.0,352.0 L1464.0,351.6 L1465.0,349.8 L1466.0,349.3 L1467.0,348.6 L1468.0,348.6 L1469.0,348.3 L1470.0,348.9 L1471.0,347.9 L1472.0,347.2 L1473.0,347.5 L1474.0,346.8 L1475.0,345.0 L1476.0,344.2 L1477.0,344.6 L1478.0,343.9 L1479.0,341.2 L1480.0,341.9 L1481.0,339.0 L1482.0,340.7 L1483.0,337.9 L1484.0,337.8 L1485.0,337.2 L1486.0,336.9 L1487.0,336.2 L1488.0,334.0 L1489.0,334.7 L1490.0,333.9 L1491.0,332.7 L1492.0,333.4 L1493.0,331.8 L1494.0,331.5 L1495.0,330.4 L1496.0,329.9 L1497.0,329.1 L1498.0,328.2 L1499.0,327.2 L1500.0,326.5 L1501.0,326.0 L1502.0,325.8 L1503.0,326.6 L1504.0,324.6 L1505.0,323.4 L1506.0,323.3 L1507.0,324.9 L1508.0,324.9 L1509.0,324.6 L1510.0,324.6 L1511.0,324.2 L1512.0,323.0 L1513.0,324.4 L1514.0,322.9 L1515.0,322.6 L1516.0,321.3 L1517.0,322.3 L1518.0,321.5 L1519.0,320.6 L1520.0,319.9 L1521.0,319.6 L1522.0,320.3 L1523.0,319.0 L1524.0,318.0 L1525.0,318.6 L1526.0,317.5 L1527.0,317.4 L1528.0,317.7 L1529.0,317.6 L1530.0,316.4 L1531.0,318.2 L1532.0,316.7 L1533.0,316.5 L1534.0,316.7 L1535.0,315.4 L1536.0,316.1 L1537.0,314.7 L1538.0,314.8 L1539.0,314.6 L1540.0,312.7 L1541.0,312.1 L1542.0,312.2 L1543.0,310.1 L1544.0,310.3 L1545.0,308.4 L1546.0,308.7 L1547.0,306.4 L1548.0,304.4 L1549.0,304.2 L1550.0,303.6 L1551.0,300.0 L1552.0,300.8 L1553.0,299.6 L1554.0,297.2 L1555.0,294.6 L1556.0,294.5 L1557.0,293.7 L1558.0,292.8 L1559.0,291.4 L1560.0,289.2 L1561.0,290.4 L1562.0,289.1 L1563.0,288.2 L1564.0,285.7 L1565.0,286.9 L1566.0,284.7 L1567.0,285.0 L1568.0,284.9 L1569.0,282.3 L1570.0,282.5 L1571.0,281.2 L1572.0,281.3 L1573.0,280.8 L1574.0,279.2 L1575.0,279.8 L1576.0,277.0 L1577.0,277.2 L1578.0,276.7 L1579.0,274.3 L1580.0,273.4 L1581.0,274.5 L1582.0,272.9 L1583.0,272.5 L1584.0,269.7 L1585.0,270.5 L1586.0,269.4 L1587.0,268.2 L1588.0,267.5 L1589.0,264.5 L1590.0,263.8 L1591.0,261.8 L1592.0,260.3 L1593.0,260.9 L1594.0,260.4 L1595.0,259.1 L1596.0,258.4 L1597.0,257.2 L1598.0,256.5 L1599.0,256.5 L1600.0,255.2 L1601.0,255.1 L1602.0,254.9 L1603.0,254.3 L1604.0,253.9 L1605.0,253.7 L1606.0,252.2 L1607.0,252.6 L1608.0,251.7 L1609.0,251.0 L1610.0,249.8 L1611.0,249.8 L1612.0,249.4 L1613.0,248.5 L1614.0,247.6 L1615.0,247.7 L1616.0,247.9 L1617.0,247.8 L1618.0,246.8 L1619.0,245.6 L1620.0,246.8 L1621.0,245.7 L1622.0,244.9 L1623.0,245.8 L1624.0,245.7 L1625.0,244.6 L1626.0,244.6 L1627.0,243.0 L1628.0,241.8 L1629.0,241.6 L1630.0,241.3 L1631.0,239.5 L1632.0,239.3 L1633.0,239.6 L1634.0,237.5 L1635.0,237.4 L1636.0,237.4 L1637.0,235.7 L1638.0,235.9 L1639.0,235.0 L1640.0,236.0 L1641.0,234.5 L1642.0,234.8 L1643.0,234.8 L1643.0,241.9 L1642.0,241.1 L1641.0,240.8 L1640.0,242.5 L1639.0,241.3 L1638.0,242.4 L1637.0,243.5 L1636.0,244.4 L1635.0,245.1 L1634.0,245.8 L1633.0,245.3 L1632.0,246.1 L1631.0,246.1 L1630.0,247.1 L1629.0,249.2 L1628.0,250.2 L1627.0,251.3 L1626.0,249.7 L1625.0,250.5 L1624.0,252.3 L1623.0,252.2 L1622.0,251.8 L1621.0,253.0 L1620.0,254.2 L1619.0,253.6 L1618.0,252.9 L1617.0,255.6 L1616.0,254.4 L1615.0,255.8 L1614.0,256.5 L1613.0,257.0 L1612.0,255.5 L1611.0,256.3 L1610.0,258.8 L1609.0,259.0 L1608.0,257.6 L1607.0,260.3 L1606.0,258.6 L1605.0,259.3 L1604.0,259.8 L1603.0,261.8 L1602.0,261.3 L1601.0,262.2 L1600.0,263.0 L1599.0,263.0 L1598.0,263.4 L1597.0,263.8 L1596.0,266.0 L1595.0,267.5 L1594.0,267.7 L1593.0,268.1 L1592.0,268.4 L1591.0,271.4 L1590.0,270.3 L1589.0,271.6 L1588.0,273.6 L1587.0,274.3 L1586.0,275.5 L1585.0,279.1 L1584.0,277.3 L1583.0,280.8 L1582.0,279.2 L1581.0,280.6 L1580.0,281.7 L1579.0,283.4 L1578.0,284.0 L1577.0,283.8 L1576.0,285.5 L1575.0,285.9 L1574.0,288.1 L1573.0,287.2 L1572.0,289.8 L1571.0,289.1 L1570.0,289.4 L1569.0,290.5 L1568.0,291.3 L1567.0,292.0 L1566.0,293.2 L1565.0,293.3 L1564.0,294.9 L1563.0,297.3 L1562.0,296.6 L1561.0,299.2 L1560.0,297.5 L1559.0,299.3 L1558.0,299.7 L1557.0,300.2 L1556.0,301.4 L1555.0,302.7 L1554.0,306.4 L1553.0,307.4 L1552.0,307.2 L1551.0,308.9 L1550.0,311.1 L1549.0,314.0 L1548.0,314.0 L1547.0,315.7 L1546.0,315.6 L1545.0,316.7 L1544.0,317.5 L1543.0,320.2 L1542.0,320.3 L1541.0,322.8 L1540.0,322.9 L1539.0,322.9 L1538.0,322.3 L1537.0,324.5 L1536.0,323.4 L1535.0,326.1 L1534.0,325.6 L1533.0,324.4 L1532.0,324.3 L1531.0,324.6 L1530.0,327.8 L1529.0,325.4 L1528.0,326.7 L1527.0,328.3 L1526.0,326.9 L1525.0,326.6 L1524.0,327.6 L1523.0,327.4 L1522.0,329.5 L1521.0,329.7 L1520.0,330.9 L1519.0,329.7 L1518.0,329.3 L1517.0,329.8 L1516.0,332.8 L1515.0,332.8 L1514.0,332.0 L1513.0,332.3 L1512.0,333.0 L1511.0,331.7 L1510.0,334.6 L1509.0,332.2 L1508.0,334.2 L1507.0,332.2 L1506.0,335.7 L1505.0,335.0 L1504.0,334.8 L1503.0,333.4 L1502.0,334.9 L1501.0,334.8 L1500.0,335.8 L1499.0,336.7 L1498.0,336.9 L1497.0,337.9 L1496.0,339.7 L1495.0,339.1 L1494.0,342.6 L1493.0,340.0 L1492.0,341.2 L1491.0,341.7 L1490.0,342.2 L1489.0,345.2 L1488.0,345.2 L1487.0,345.6 L1486.0,345.3 L1485.0,345.8 L1484.0,349.4 L1483.0,347.4 L1482.0,347.9 L1481.0,348.7 L1480.0,349.6 L1479.0,352.2 L1478.0,350.8 L1477.0,352.3 L1476.0,352.9 L1475.0,352.8 L1474.0,356.3 L1473.0,357.4 L1472.0,354.6 L1471.0,355.2 L1470.0,356.2 L1469.0,356.3 L1468.0,357.0 L1467.0,357.1 L1466.0,358.1 L1465.0,361.9 L1464.0,359.6 L1463.0,361.5 L1462.0,361.6 L1461.0,362.6 L1460.0,365.3 L1459.0,366.6 L1458.0,364.4 L1457.0,365.6 L1456.0,366.3 L1455.0,366.6 L1454.0,365.4 L1453.0,366.4 L1452.0,366.2 L1451.0,367.7 L1450.0,369.0 L1449.0,367.4 L1448.0,368.1 L1447.0,369.5 L1446.0,368.4 L1445.0,371.1 L1444.0,369.2 L1443.0,369.4 L1442.0,370.4 L1441.0,371.5 L1440.0,372.1 L1439.0,373.0 L1438.0,371.7 L1437.0,370.8 L1436.0,371.0 L1435.0,370.7 L1434.0,369.9 L1433.0,369.0 L1432.0,369.2 L1431.0,369.2 L1430.0,371.1 L1429.0,368.9 L1428.0,367.9 L1427.0,370.6 L1426.0,368.6 L1425.0,369.9 L1424.0,370.1 L1423.0,371.2 L1422.0,374.9 L1421.0,375.1 L1420.0,375.9 L1419.0,373.5 L1418.0,374.2 L1417.0,376.3 L1416.0,374.7 L1415.0,376.7 L1414.0,376.2 L1413.0,375.1 L1412.0,374.3 L1411.0,375.7 L1410.0,373.9 L1409.0,374.1 L1408.0,374.7 L1407.0,374.8 L1406.0,372.8 L1405.0,372.6 L1404.0,372.8 L1403.0,372.1 L1402.0,374.4 L1401.0,371.3 L1400.0,372.7 L1399.0,372.4 L1398.0,370.9 L1397.0,370.4 L1396.0,370.0 L1395.0,372.3 L1394.0,369.4 L1393.0,368.9 L1392.0,368.7 L1391.0,367.0 L1390.0,366.1 L1389.0,366.8 L1388.0,363.8 L1387.0,367.7 L1386.0,365.7 L1385.0,367.3 L1384.0,371.2 L1383.0,372.9 L1382.0,373.9 L1381.0,374.0 L1380.0,373.4 L1379.0,376.3 L1378.0,374.0 L1377.0,374.9 L1376.0,377.2 L1375.0,375.0 L1374.0,373.9 L1373.0,375.2 L1372.0,373.2 L1371.0,373.2 L1370.0,374.5 L1369.0,374.4 L1368.0,374.2 L1367.0,374.0 L1366.0,376.6 L1365.0,376.5 L1364.0,374.9 L1363.0,377.9 L1362.0,375.7 L1361.0,376.2 L1360.0,376.6 L1359.0,378.2 L1358.0,376.5 L1357.0,376.5 L1356.0,375.6 L1355.0,377.8 L1354.0,377.5 L1353.0,374.5 L1352.0,377.4 L1351.0,376.2 L1350.0,378.2 L1349.0,378.6 L1348.0,379.2 L1347.0,381.4 L1346.0,379.3 L1345.0,380.4 L1344.0,381.8 L1343.0,382.2 L1342.0,382.2 L1341.0,381.9 L1340.0,383.1 L1339.0,381.4 L1338.0,380.7 L1337.0,382.9 L1336.0,380.0 L1335.0,380.2 L1334.0,380.7 L1333.0,381.7 L1332.0,379.4 L1331.0,380.1 L1330.0,379.6 L1329.0,380.2 L1328.0,379.7 L1327.0,380.5 L1326.0,380.4 L1325.0,382.0 L1324.0,382.0 L1323.0,382.7 L1322.0,382.7 L1321.0,384.0 L1320.0,384.7 L1319.0,386.4 L1318.0,384.9 L1317.0,385.5 L1316.0,386.4 L1315.0,387.7 L1314.0,387.5 L1313.0,387.6 L1312.0,387.5 L1311.0,388.4 L1310.0,387.7 L1309.0,389.6 L1308.0,390.3 L1307.0,388.5 L1306.0,388.5 L1305.0,389.9 L1304.0,389.8 L1303.0,388.9 L1302.0,389.2 L1301.0,390.9 L1300.0,389.7 L1299.0,389.9 L1298.0,391.0 L1297.0,391.4 L1296.0,392.4 L1295.0,396.4 L1294.0,397.4 L1293.0,397.5 L1292.0,398.1 L1291.0,399.7 L1290.0,398.2 L1289.0,400.5 L1288.0,399.4 L1287.0,400.8 L1286.0,399.2 L1285.0,399.7 L1284.0,399.5 L1283.0,399.3 L1282.0,400.8 L1281.0,400.0 L1280.0,399.9 L1279.0,400.3 L1278.0,400.4 L1277.0,400.1 L1276.0,402.3 L1275.0,400.3 L1274.0,400.4 L1273.0,400.3 L1272.0,400.5 L1271.0,401.1 L1270.0,402.1 L1269.0,402.0 L1268.0,402.5 L1267.0,403.3 L1266.0,404.6 L1265.0,405.6 L1264.0,406.8 L1263.0,404.8 L1262.0,405.5 L1261.0,405.9 L1260.0,406.9 L1259.0,407.1 L1258.0,408.4 L1257.0,409.2 L1256.0,409.0 L1255.0,409.3 L1254.0,412.1 L1253.0,410.4 L1252.0,413.0 L1251.0,411.7 L1250.0,413.4 L1249.0,412.9 L1248.0,414.8 L1247.0,415.2 L1246.0,415.0 L1245.0,417.6 L1244.0,415.9 L1243.0,415.6 L1242.0,414.6 L1241.0,413.4 L1240.0,411.9 L1239.0,411.3 L1238.0,410.0 L1237.0,408.5 L1236.0,407.0 L1235.0,405.9 L1234.0,405.9 L1233.0,406.8 L1232.0,407.6 L1231.0,408.9 L1230.0,409.6 L1229.0,410.7 L1228.0,409.1 L1227.0,405.0 L1226.0,404.5 L1225.0,403.8 L1224.0,400.2 L1223.0,397.9 L1222.0,392.5 L1221.0,387.3 L1220.0,384.6 L1219.0,381.3 L1218.0,379.6 L1217.0,379.1 L1216.0,380.7 L1215.0,379.1 L1214.0,379.5 L1213.0,380.4 L1212.0,379.4 L1211.0,379.8 L1210.0,380.3 L1209.0,379.4 L1208.0,379.7 L1207.0,379.6 L1206.0,380.4 L1205.0,380.1 L1204.0,381.5 L1203.0,380.3 L1202.0,379.9 L1201.0,380.2 L1200.0,380.0 L1199.0,380.7 L1198.0,380.8 L1197.0,380.2 L1196.0,381.3 L1195.0,381.8 L1194.0,381.0 L1193.0,382.2 L1192.0,381.2 L1191.0,382.5 L1190.0,381.6 L1189.0,382.6 L1188.0,383.4 L1187.0,384.7 L1186.0,383.9 L1185.0,383.9 L1184.0,384.3 L1183.0,386.3 L1182.0,384.7 L1181.0,379.6 L1180.0,374.3 L1179.0,374.5 L1178.0,375.1 L1177.0,375.4 L1176.0,374.8 L1175.0,374.8 L1174.0,375.5 L1173.0,376.3 L1172.0,376.2 L1171.0,377.1 L1170.0,376.6 L1169.0,376.1 L1168.0,376.4 L1167.0,378.3 L1166.0,377.4 L1165.0,378.4 L1164.0,378.0 L1163.0,378.7 L1162.0,378.9 L1161.0,379.8 L1160.0,381.0 L1159.0,381.1 L1158.0,382.7 L1157.0,381.5 L1156.0,381.7 L1155.0,382.0 L1154.0,382.4 L1153.0,382.1 L1152.0,382.9 L1151.0,382.7 L1150.0,384.2 L1149.0,382.6 L1148.0,383.9 L1147.0,383.0 L1146.0,384.6 L1145.0,382.8 L1144.0,383.0 L1143.0,383.3 L1142.0,383.5 L1141.0,384.2 L1140.0,383.2 L1139.0,384.7 L1138.0,385.0 L1137.0,384.0 L1136.0,383.7 L1135.0,383.8 L1134.0,383.7 L1133.0,384.0 L1132.0,383.9 L1131.0,385.6 L1130.0,384.3 L1129.0,385.3 L1128.0,385.7 L1127.0,384.7 L1126.0,384.8 L1125.0,385.2 L1124.0,386.6 L1123.0,386.1 L1122.0,386.5 L1121.0,385.3 L1120.0,385.3 L1119.0,384.8 L1118.0,385.3 L1117.0,384.9 L1116.0,385.3 L1115.0,385.9 L1114.0,385.2 L1113.0,384.8 L1112.0,384.1 L1111.0,383.4 L1110.0,380.8 L1109.0,378.7 L1108.0,378.7 L1107.0,378.5 L1106.0,378.6 L1105.0,378.6 L1104.0,379.1 L1103.0,379.5 L1102.0,379.4 L1101.0,378.8 L1100.0,379.0 L1099.0,379.8 L1098.0,379.2 L1097.0,379.0 L1096.0,379.3 L1095.0,378.8 L1094.0,379.4 L1093.0,378.9 L1092.0,380.4 L1091.0,379.2 L1090.0,380.4 L1089.0,380.3 L1088.0,379.7 L1087.0,380.0 L1086.0,379.9 L1085.0,380.2 L1084.0,380.7 L1083.0,380.7 L1082.0,381.6 L1081.0,380.2 L1080.0,379.7 L1079.0,379.8 L1078.0,378.7 L1077.0,379.6 L1076.0,378.4 L1075.0,378.5 L1074.0,379.0 L1073.0,379.2 L1072.0,380.6 L1071.0,380.2 L1070.0,380.8 L1069.0,380.1 L1068.0,380.3 L1067.0,380.9 L1066.0,382.3 L1065.0,381.6 L1064.0,381.7 L1063.0,383.1 L1062.0,383.0 L1061.0,382.8 L1060.0,383.3 L1059.0,383.5 L1058.0,384.2 L1057.0,383.1 L1056.0,384.1 L1055.0,383.9 L1054.0,383.5 L1053.0,384.3 L1052.0,383.6 L1051.0,384.1 L1050.0,384.6 L1049.0,383.4 L1048.0,383.7 L1047.0,384.6 L1046.0,384.2 L1045.0,383.7 L1044.0,383.5 L1043.0,383.5 L1042.0,384.2 L1041.0,384.4 L1040.0,384.6 L1039.0,384.6 L1038.0,384.6 L1037.0,384.8 L1036.0,384.9 L1035.0,383.7 L1034.0,383.2 L1033.0,380.4 L1032.0,379.7 L1031.0,378.1 L1030.0,377.6 L1029.0,376.8 L1028.0,376.5 L1027.0,376.8 L1026.0,377.8 L1025.0,377.5 L1024.0,378.1 L1023.0,378.4 L1022.0,378.8 L1021.0,379.0 L1020.0,379.4 L1019.0,380.2 L1018.0,380.2 L1017.0,381.0 L1016.0,380.8 L1015.0,381.6 L1014.0,381.6 L1013.0,382.4 L1012.0,382.0 L1011.0,382.7 L1010.0,382.6 L1009.0,382.5 L1008.0,383.4 L1007.0,384.0 L1006.0,383.8 L1005.0,383.6 L1004.0,384.4 L1003.0,384.1 L1002.0,383.9 L1001.0,383.6 L1000.0,383.8 L999.0,383.9 L998.0,384.0 L997.0,384.2 L996.0,385.2 L995.0,384.5 L994.0,384.6 L993.0,385.4 L992.0,385.0 L991.0,385.0 L990.0,385.0 L989.0,385.4 L988.0,385.2 L987.0,385.7 L986.0,385.7 L985.0,386.1 L984.0,386.4 L983.0,385.4 L982.0,385.7 L981.0,385.3 L980.0,385.4 L979.0,385.4 L978.0,386.4 L977.0,386.2 L976.0,385.5 L975.0,385.7 L974.0,387.2 L973.0,385.8 L972.0,386.2 L971.0,386.9 L970.0,386.1 L969.0,386.6 L968.0,386.6 L967.0,387.7 L966.0,387.0 L965.0,386.6 L964.0,387.9 L963.0,387.2 L962.0,386.8 L961.0,387.9 L960.0,387.0 L959.0,387.6 L958.0,387.7 L957.0,387.4 L956.0,387.5 L955.0,387.4 L954.0,388.3 L953.0,387.4 L952.0,388.8 L951.0,389.1 L950.0,388.6 L949.0,388.7 L948.0,387.8 L947.0,387.3 L946.0,388.0 L945.0,387.8 L944.0,386.8 L943.0,386.3 L942.0,386.3 L941.0,386.8 L940.0,386.8 L939.0,386.2 L938.0,387.4 L937.0,386.3 L936.0,386.8 L935.0,387.2 L934.0,386.8 L933.0,388.2 L932.0,386.7 L931.0,387.1 L930.0,387.7 L929.0,387.3 L928.0,387.0 L927.0,386.9 L926.0,386.4 L925.0,386.2 L924.0,387.5 L923.0,386.8 L922.0,387.2 L921.0,385.9 L920.0,385.4 L919.0,385.6 L918.0,386.2 L917.0,386.4 L916.0,386.7 L915.0,386.9 L914.0,387.8 L913.0,386.3 L912.0,384.9 L911.0,384.4 L910.0,382.9 L909.0,384.0 L908.0,381.4 L907.0,380.7 L906.0,380.1 L905.0,380.9 L904.0,378.8 L903.0,377.7 L902.0,378.0 L901.0,377.0 L900.0,377.2 L899.0,375.1 L898.0,374.7 L897.0,373.6 L896.0,373.7 L895.0,372.6 L894.0,371.5 L893.0,370.3 L892.0,367.9 L891.0,367.0 L890.0,367.4 L889.0,369.5 L888.0,367.5 L887.0,368.1 L886.0,368.0 L885.0,368.6 L884.0,370.1 L883.0,370.2 L882.0,371.2 L881.0,372.6 L880.0,371.9 L879.0,372.0 L878.0,372.7 L877.0,372.0 L876.0,370.9 L875.0,371.6 L874.0,369.9 L873.0,369.3 L872.0,367.9 L871.0,365.4 L870.0,365.8 L869.0,365.3 L868.0,367.1 L867.0,365.0 L866.0,366.2 L865.0,365.2 L864.0,364.7 L863.0,364.8 L862.0,364.5 L861.0,364.1 L860.0,366.0 L859.0,364.7 L858.0,365.0 L857.0,365.4 L856.0,365.0 L855.0,362.2 L854.0,361.4 L853.0,359.8 L852.0,358.3 L851.0,358.1 L850.0,358.1 L849.0,358.2 L848.0,359.4 L847.0,359.6 L846.0,357.7 L845.0,357.2 L844.0,357.4 L843.0,357.3 L842.0,355.7 L841.0,355.5 L840.0,355.5 L839.0,356.0 L838.0,354.1 L837.0,349.2 L836.0,347.9 L835.0,344.1 L834.0,342.6 L833.0,336.0 L832.0,332.2 L831.0,329.7 L830.0,326.6 L829.0,325.4 L828.0,327.6 L827.0,325.9 L826.0,323.7 L825.0,322.7 L824.0,325.0 L823.0,321.6 L822.0,321.6 L821.0,320.1 L820.0,319.9 L819.0,323.2 L818.0,318.4 L817.0,316.9 L816.0,316.1 L815.0,313.7 L814.0,310.3 L813.0,310.4 L812.0,310.2 L811.0,311.8 L810.0,308.9 L809.0,308.3 L808.0,315.0 L807.0,312.5 L806.0,309.8 L805.0,312.4 L804.0,311.5 L803.0,313.8 L802.0,311.7 L801.0,316.0 L800.0,311.5 L799.0,309.9 L798.0,311.8 L797.0,310.5 L796.0,312.5 L795.0,315.6 L794.0,309.5 L793.0,315.5 L792.0,308.7 L791.0,309.8 L790.0,307.2 L789.0,306.8 L788.0,306.2 L787.0,311.4 L786.0,305.6 L785.0,303.1 L784.0,301.3 L783.0,301.3 L782.0,300.7 L781.0,302.2 L780.0,296.7 L779.0,295.2 L778.0,295.0 L777.0,292.5 L776.0,291.9 L775.0,290.3 L774.0,291.9 L773.0,295.4 L772.0,290.7 L771.0,290.7 L770.0,288.3 L769.0,287.2 L768.0,289.7 L767.0,287.2 L766.0,287.6 L765.0,286.7 L764.0,291.7 L763.0,287.9 L762.0,288.9 L761.0,288.7 L760.0,287.2 L759.0,292.7 L758.0,288.1 L757.0,288.4 L756.0,286.9 L755.0,289.4 L754.0,286.7 L753.0,286.4 L752.0,292.6 L751.0,286.3 L750.0,287.3 L749.0,287.4 L748.0,285.3 L747.0,285.5 L746.0,283.3 L745.0,283.3 L744.0,280.7 L743.0,278.3 L742.0,274.0 L741.0,275.2 L740.0,270.9 L739.0,269.5 L738.0,270.1 L737.0,271.7 L736.0,275.1 L735.0,272.6 L734.0,263.3 L733.0,260.4 L732.0,255.8 L731.0,253.3 L730.0,253.3 L729.0,252.8 L728.0,253.5 L727.0,253.3 L726.0,252.3 L725.0,254.1 L724.0,253.6 L723.0,254.5 L722.0,255.4 L721.0,256.0 L720.0,256.4 L719.0,256.0 L718.0,257.5 L717.0,256.0 L716.0,256.3 L715.0,257.4 L714.0,256.0 L713.0,256.2 L712.0,258.7 L711.0,258.5 L710.0,257.1 L709.0,258.5 L708.0,256.9 L707.0,256.3 L706.0,256.7 L705.0,257.0 L704.0,257.9 L703.0,257.0 L702.0,257.8 L701.0,257.6 L700.0,256.4 L699.0,257.1 L698.0,257.2 L697.0,258.6 L696.0,256.6 L695.0,256.1 L694.0,255.4 L693.0,256.3 L692.0,255.5 L691.0,256.0 L690.0,255.6 L689.0,254.3 L688.0,253.5 L687.0,255.2 L686.0,252.7 L685.0,253.8 L684.0,250.6 L683.0,252.3 L682.0,251.1 L681.0,251.5 L680.0,248.3 L679.0,239.9 L678.0,232.5 L677.0,229.7 L676.0,230.2 L675.0,227.8 L674.0,226.6 L673.0,219.9 L672.0,214.0 L671.0,211.3 L670.0,208.5 L669.0,205.0 L668.0,204.6 L667.0,203.2 L666.0,203.7 L665.0,203.0 L664.0,204.6 L663.0,204.3 L662.0,205.0 L661.0,206.8 L660.0,204.8 L659.0,205.3 L658.0,205.3 L657.0,205.6 L656.0,205.5 L655.0,205.9 L654.0,207.7 L653.0,206.6 L652.0,206.5 L651.0,206.1 L650.0,206.9 L649.0,206.4 L648.0,206.6 L647.0,206.2 L646.0,206.7 L645.0,207.0 L644.0,206.2 L643.0,207.6 L642.0,205.8 L641.0,205.3 L640.0,205.8 L639.0,203.9 L638.0,204.9 L637.0,203.1 L636.0,202.0 L635.0,200.7 L634.0,198.0 L633.0,194.9 L632.0,190.3 L631.0,185.2 L630.0,180.4 L629.0,180.0 L628.0,180.3 L627.0,179.7 L626.0,180.3 L625.0,180.4 L624.0,180.3 L623.0,179.1 L622.0,178.2 L621.0,177.5 L620.0,177.0 L619.0,176.7 L618.0,175.7 L617.0,175.6 L616.0,173.8 L615.0,173.8 L614.0,173.1 L613.0,172.7 L612.0,174.8 L611.0,175.1 L610.0,176.0 L609.0,177.4 L608.0,177.8 L607.0,178.9 L606.0,179.7 L605.0,181.8 L604.0,182.0 L603.0,182.5 L602.0,184.1 L601.0,185.3 L600.0,184.2 L599.0,184.3 L598.0,184.6 L597.0,185.1 L596.0,184.3 L595.0,184.3 L594.0,184.4 L593.0,182.2 L592.0,181.5 L591.0,181.3 L590.0,180.2 L589.0,179.9 L588.0,179.4 L587.0,179.0 L586.0,178.1 L585.0,176.5 L584.0,174.7 L583.0,173.8 L582.0,173.0 L581.0,174.3 L580.0,174.0 L579.0,174.2 L578.0,175.1 L577.0,175.7 L576.0,176.7 L575.0,176.8 L574.0,178.5 L573.0,180.0 L572.0,180.5 L571.0,181.1 L570.0,182.2 L569.0,182.6 L568.0,181.4 L567.0,179.1 L566.0,178.7 L565.0,177.3 L564.0,174.5 L563.0,172.8 L562.0,172.1 L561.0,169.6 L560.0,169.3 L559.0,168.3 L558.0,168.3 L557.0,168.3 L556.0,166.5 L555.0,165.9 L554.0,165.5 L553.0,165.3 L552.0,165.2 L551.0,166.5 L550.0,165.6 L549.0,166.8 L548.0,165.2 L547.0,164.8 L546.0,166.6 L545.0,166.8 L544.0,165.9 L543.0,166.3 L542.0,166.5 L541.0,167.9 L540.0,167.4 L539.0,167.5 L538.0,167.9 L537.0,169.9 L536.0,169.4 L535.0,170.4 L534.0,171.0 L533.0,173.4 L532.0,172.6 L531.0,173.0 L530.0,174.1 L529.0,173.9 L528.0,175.2 L527.0,174.8 L526.0,175.2 L525.0,176.6 L524.0,175.8 L523.0,176.3 L522.0,175.4 L521.0,174.4 L520.0,174.2 L519.0,173.6 L518.0,172.7 L517.0,172.2 L516.0,171.8 L515.0,171.2 L514.0,170.7 L513.0,170.8 L512.0,169.7 L511.0,169.2 L510.0,168.9 L509.0,169.4 L508.0,167.9 L507.0,167.3 L506.0,167.3 L505.0,168.3 L504.0,167.2 L503.0,166.8 L502.0,166.5 L501.0,165.7 L500.0,166.1 L499.0,166.2 L498.0,166.1 L497.0,166.7 L496.0,166.9 L495.0,168.6 L494.0,166.9 L493.0,167.5 L492.0,167.5 L491.0,168.0 L490.0,168.5 L489.0,169.5 L488.0,169.5 L487.0,170.2 L486.0,172.5 L485.0,171.0 L484.0,172.8 L483.0,172.0 L482.0,172.9 L481.0,174.9 L480.0,173.5 L479.0,174.8 L478.0,174.2 L477.0,174.6 L476.0,176.7 L475.0,175.0 L474.0,175.3 L473.0,175.7 L472.0,176.9 L471.0,177.2 L470.0,178.5 L469.0,177.9 L468.0,179.1 L467.0,179.4 L466.0,178.5 L465.0,178.6 L464.0,179.0 L463.0,179.3 L462.0,179.9 L461.0,180.1 L460.0,180.5 L459.0,181.3 L458.0,183.0 L457.0,181.7 L456.0,182.6 L455.0,182.6 L454.0,183.0 L453.0,183.8 L452.0,184.6 L451.0,184.9 L450.0,185.1 L449.0,186.1 L448.0,185.6 L447.0,186.3 L446.0,186.7 L445.0,187.2 L444.0,187.4 L443.0,188.9 L442.0,188.4 L441.0,189.9 L440.0,189.5 L439.0,191.1 L438.0,191.8 L437.0,191.4 L436.0,191.5 L435.0,191.9 L434.0,193.4 L433.0,193.8 L432.0,193.3 L431.0,193.9 L430.0,194.0 L429.0,195.6 L428.0,195.3 L427.0,195.9 L426.0,197.2 L425.0,196.6 L424.0,197.2 L423.0,196.8 L422.0,197.3 L421.0,197.4 L420.0,197.6 L419.0,199.1 L418.0,198.3 L417.0,199.1 L416.0,199.2 L415.0,199.7 L414.0,201.0 L413.0,202.5 L412.0,201.1 L411.0,203.6 L410.0,202.1 L409.0,202.5 L408.0,205.2 L407.0,204.6 L406.0,204.9 L405.0,205.9 L404.0,204.7 L403.0,205.6 L402.0,205.1 L401.0,205.6 L400.0,205.1 L399.0,206.5 L398.0,205.6 L397.0,206.9 L396.0,206.9 L395.0,205.5 L394.0,205.8 L393.0,207.5 L392.0,206.7 L391.0,206.7 L390.0,207.6 L389.0,207.2 L388.0,208.7 L387.0,207.1 L386.0,208.0 L385.0,207.8 L384.0,208.4 L383.0,208.2 L382.0,208.5 L381.0,208.7 L380.0,210.0 L379.0,210.0 L378.0,210.1 L377.0,210.4 L376.0,210.8 L375.0,213.2 L374.0,212.2 L373.0,213.7 L372.0,213.0 L371.0,214.3 L370.0,214.6 L369.0,215.2 L368.0,215.5 L367.0,216.5 L366.0,216.7 L365.0,219.2 L364.0,218.2 L363.0,218.7 L362.0,219.6 L361.0,221.7 L360.0,220.5 L359.0,221.8 L358.0,221.7 L357.0,222.7 L356.0,225.3 L355.0,224.3 L354.0,223.8 L353.0,225.0 L352.0,224.6 L351.0,226.6 L350.0,224.8 L349.0,224.8 L348.0,225.0 L347.0,226.8 L346.0,226.3 L345.0,227.0 L344.0,229.4 L343.0,229.1 L342.0,229.4 L341.0,229.8 L340.0,230.7 L339.0,231.4 L338.0,232.3 L337.0,233.0 L336.0,234.9 L335.0,235.6 L334.0,235.5 L333.0,237.5 L332.0,238.5 L331.0,238.3 L330.0,239.5 L329.0,239.5 L328.0,241.5 L327.0,241.3 L326.0,242.9 L325.0,242.3 L324.0,244.3 L323.0,243.6 L322.0,244.7 L321.0,245.1 L320.0,244.8 L319.0,245.8 L318.0,246.3 L317.0,246.2 L316.0,246.2 L315.0,246.7 L314.0,248.5 L313.0,247.9 L312.0,247.7 L311.0,248.8 L310.0,249.4 L309.0,249.8 L308.0,251.0 L307.0,252.3 L306.0,251.4 L305.0,252.4 L304.0,254.0 L303.0,256.3 L302.0,254.8 L301.0,256.0 L300.0,258.1 L299.0,259.1 L298.0,263.4 L297.0,265.1 L296.0,269.4 L295.0,269.8 L294.0,272.6 L293.0,275.0 L292.0,274.4 L291.0,276.7 L290.0,279.9 L289.0,281.0 L288.0,285.2 L287.0,285.7 L286.0,288.1 L285.0,289.1 L284.0,293.4 L283.0,292.6 L282.0,294.4 L281.0,296.3 L280.0,299.4 L279.0,300.3 L278.0,299.5 L277.0,302.5 L276.0,303.1 L275.0,303.6 L274.0,304.7 L273.0,304.5 L272.0,307.2 L271.0,306.6 L270.0,307.6 L269.0,305.4 L268.0,306.4 L267.0,307.3 L266.0,308.6 L265.0,309.1 L264.0,311.4 L263.0,312.9 L262.0,313.7 L261.0,314.2 L260.0,316.0 L259.0,316.7 L258.0,316.6 L257.0,317.5 L256.0,318.0 L255.0,320.6 L254.0,320.9 L253.0,320.1 L252.0,321.7 L251.0,321.6 L250.0,320.1 L249.0,322.3 L248.0,320.7 L247.0,321.1 L246.0,321.4 L245.0,323.8 L244.0,322.0 L243.0,323.0 L242.0,322.5 L241.0,322.7 L240.0,324.0 L239.0,323.8 L238.0,325.7 L237.0,326.1 L236.0,325.4Z" fill="#c3dbee" fill-opacity="0.6"/>
<path d="M236.0,320.7 L237.0,321.0 L238.0,321.4 L239.0,320.5 L240.0,320.3 L241.0,320.1 L242.0,319.3 L243.0,319.2 L244.0,319.4 L245.0,318.2 L246.0,317.9 L247.0,317.6 L248.0,318.3 L249.0,316.9 L250.0,317.6 L251.0,316.4 L252.0,315.5 L253.0,316.3 L254.0,315.6 L255.0,314.4 L256.0,314.4 L257.0,313.7 L258.0,314.5 L259.0,312.7 L260.0,311.8 L261.0,310.4 L262.0,310.8 L263.0,309.6 L264.0,308.4 L265.0,307.7 L266.0,304.5 L267.0,302.0 L268.0,302.2 L269.0,301.5 L270.0,301.7 L271.0,302.0 L272.0,302.0 L273.0,300.5 L274.0,299.1 L275.0,298.1 L276.0,297.6 L277.0,297.0 L278.0,295.3 L279.0,294.9 L280.0,294.0 L281.0,292.3 L282.0,291.5 L283.0,290.4 L284.0,288.7 L285.0,286.5 L286.0,284.5 L287.0,283.2 L288.0,280.0 L289.0,279.0 L290.0,275.6 L291.0,273.2 L292.0,270.5 L293.0,269.2 L294.0,266.8 L295.0,265.8 L296.0,264.6 L297.0,261.7 L298.0,259.8 L299.0,256.4 L300.0,254.3 L301.0,252.7 L302.0,251.1 L303.0,249.0 L304.0,249.6 L305.0,247.7 L306.0,246.4 L307.0,246.2 L308.0,246.3 L309.0,245.3 L310.0,243.3 L311.0,242.6 L312.0,243.5 L313.0,242.2 L314.0,241.3 L315.0,242.2 L316.0,241.9 L317.0,239.3 L318.0,238.9 L319.0,239.0 L320.0,240.0 L321.0,237.5 L322.0,237.4 L323.0,238.3 L324.0,238.4 L325.0,235.5 L326.0,235.1 L327.0,234.9 L328.0,234.1 L329.0,233.7 L330.0,235.2 L331.0,232.8 L332.0,233.7 L333.0,231.9 L334.0,229.3 L335.0,228.6 L336.0,229.5 L337.0,227.6 L338.0,227.3 L339.0,226.6 L340.0,227.0 L341.0,226.3 L342.0,225.2 L343.0,224.4 L344.0,222.9 L345.0,222.6 L346.0,219.7 L347.0,221.1 L348.0,220.3 L349.0,218.5 L350.0,220.1 L351.0,219.3 L352.0,219.0 L353.0,218.3 L354.0,217.6 L355.0,217.1 L356.0,217.3 L357.0,218.2 L358.0,216.9 L359.0,217.3 L360.0,216.4 L361.0,215.7 L362.0,215.3 L363.0,212.3 L364.0,212.3 L365.0,212.5 L366.0,210.4 L367.0,211.6 L368.0,211.1 L369.0,207.6 L370.0,207.2 L371.0,207.3 L372.0,206.8 L373.0,206.8 L374.0,204.8 L375.0,204.4 L376.0,204.7 L377.0,203.6 L378.0,202.5 L379.0,203.1 L380.0,204.6 L381.0,204.4 L382.0,203.7 L383.0,203.6 L384.0,200.2 L385.0,200.3 L386.0,202.4 L387.0,202.4 L388.0,199.5 L389.0,200.1 L390.0,201.4 L391.0,201.0 L392.0,200.0 L393.0,199.1 L394.0,199.2 L395.0,200.4 L396.0,200.1 L397.0,197.8 L398.0,197.2 L399.0,198.6 L400.0,198.3 L401.0,197.2 L402.0,197.8 L403.0,198.5 L404.0,196.9 L405.0,196.8 L406.0,196.6 L407.0,198.3 L408.0,197.4 L409.0,197.0 L410.0,196.7 L411.0,195.1 L412.0,193.6 L413.0,195.1 L414.0,192.7 L415.0,193.7 L416.0,193.2 L417.0,192.9 L418.0,190.7 L419.0,191.6 L420.0,191.0 L421.0,192.7 L422.0,192.2 L423.0,189.8 L424.0,190.2 L425.0,189.2 L426.0,190.9 L427.0,188.6 L428.0,189.3 L429.0,187.7 L430.0,189.2 L431.0,187.3 L432.0,186.6 L433.0,188.4 L434.0,186.9 L435.0,186.0 L436.0,184.2 L437.0,183.9 L438.0,186.5 L439.0,185.9 L440.0,183.9 L441.0,184.1 L442.0,183.2 L443.0,183.7 L444.0,182.3 L445.0,182.5 L446.0,181.0 L447.0,182.1 L448.0,178.9 L449.0,179.8 L450.0,177.6 L451.0,178.2 L452.0,179.8 L453.0,177.3 L454.0,175.9 L455.0,177.3 L456.0,176.6 L457.0,176.1 L458.0,176.0 L459.0,174.7 L460.0,174.2 L461.0,174.2 L462.0,173.0 L463.0,173.7 L464.0,174.9 L465.0,173.9 L466.0,173.7 L467.0,171.5 L468.0,170.6 L469.0,170.8 L470.0,172.5 L471.0,171.4 L472.0,171.6 L473.0,171.2 L474.0,169.8 L475.0,169.2 L476.0,169.6 L477.0,168.7 L478.0,169.5 L479.0,167.0 L480.0,167.7 L481.0,168.6 L482.0,166.0 L483.0,167.2 L484.0,164.9 L485.0,164.7 L486.0,166.1 L487.0,165.5 L488.0,164.5 L489.0,165.2 L490.0,163.4 L491.0,163.7 L492.0,163.2 L493.0,162.4 L494.0,160.7 L495.0,160.7 L496.0,161.2 L497.0,159.8 L498.0,162.2 L499.0,160.4 L500.0,161.2 L501.0,160.1 L502.0,159.7 L503.0,160.4 L504.0,162.8 L505.0,162.0 L506.0,168.2 L507.0,168.4 L508.0,168.7 L509.0,169.9 L510.0,168.1 L511.0,171.3 L512.0,172.1 L513.0,171.6 L514.0,173.2 L515.0,172.7 L516.0,174.0 L517.0,174.6 L518.0,174.0 L519.0,174.5 L520.0,175.3 L521.0,175.0 L522.0,176.3 L523.0,175.3 L524.0,171.9 L525.0,171.2 L526.0,170.1 L527.0,169.8 L528.0,169.8 L529.0,169.2 L530.0,167.8 L531.0,168.4 L532.0,168.5 L533.0,167.8 L534.0,168.1 L535.0,165.6 L536.0,164.7 L537.0,163.3 L538.0,163.3 L539.0,164.6 L540.0,165.2 L541.0,165.9 L542.0,167.4 L543.0,167.7 L544.0,168.1 L545.0,168.5 L546.0,166.4 L547.0,166.7 L548.0,167.4 L549.0,166.4 L550.0,166.9 L551.0,168.0 L552.0,166.3 L553.0,167.8 L554.0,167.4 L555.0,167.9 L556.0,169.8 L557.0,168.2 L558.0,171.0 L559.0,170.2 L560.0,170.8 L561.0,172.2 L562.0,172.7 L563.0,175.2 L564.0,175.9 L565.0,178.3 L566.0,180.2 L567.0,180.3 L568.0,183.4 L569.0,183.6 L570.0,184.9 L571.0,184.3 L572.0,182.0 L573.0,180.1 L574.0,178.9 L575.0,176.9 L576.0,177.2 L577.0,176.9 L578.0,175.8 L579.0,176.5 L580.0,175.3 L581.0,175.8 L582.0,175.4 L583.0,175.8 L584.0,177.9 L585.0,179.1 L586.0,178.3 L587.0,179.5 L588.0,179.5 L589.0,179.1 L590.0,179.5 L591.0,177.5 L592.0,178.7 L593.0,178.1 L594.0,177.8 L595.0,178.5 L596.0,177.0 L597.0,177.0 L598.0,177.0 L599.0,179.1 L600.0,177.7 L601.0,178.7 L602.0,175.6 L603.0,178.2 L604.0,176.2 L605.0,175.6 L606.0,172.3 L607.0,172.0 L608.0,171.8 L609.0,171.2 L610.0,169.5 L611.0,169.4 L612.0,170.3 L613.0,172.3 L614.0,172.2 L615.0,170.6 L616.0,168.8 L617.0,171.4 L618.0,170.0 L619.0,171.4 L620.0,172.2 L621.0,173.7 L622.0,173.8 L623.0,173.0 L624.0,173.4 L625.0,175.5 L626.0,180.3 L627.0,179.8 L628.0,180.4 L629.0,179.7 L630.0,182.8 L631.0,187.6 L632.0,192.1 L633.0,195.3 L634.0,198.9 L635.0,202.3 L636.0,202.5 L637.0,203.9 L638.0,205.5 L639.0,205.0 L640.0,206.2 L641.0,208.0 L642.0,206.5 L643.0,208.7 L644.0,206.9 L645.0,208.6 L646.0,208.7 L647.0,207.3 L648.0,206.9 L649.0,208.4 L650.0,207.4 L651.0,207.7 L652.0,207.4 L653.0,208.3 L654.0,206.9 L655.0,207.4 L656.0,206.4 L657.0,207.5 L658.0,207.3 L659.0,206.4 L660.0,206.4 L661.0,205.3 L662.0,202.6 L663.0,205.7 L664.0,204.8 L665.0,205.8 L666.0,203.7 L667.0,205.1 L668.0,206.5 L669.0,205.9 L670.0,208.2 L671.0,211.5 L672.0,212.9 L673.0,220.7 L674.0,227.5 L675.0,227.6 L676.0,229.2 L677.0,231.9 L678.0,234.8 L679.0,240.4 L680.0,250.3 L681.0,250.8 L682.0,252.7 L683.0,252.1 L684.0,250.9 L685.0,247.8 L686.0,246.6 L687.0,245.2 L688.0,248.4 L689.0,247.5 L690.0,248.6 L691.0,254.5 L692.0,255.2 L693.0,253.2 L694.0,256.3 L695.0,255.0 L696.0,252.0 L697.0,248.5 L698.0,247.8 L699.0,249.8 L700.0,247.5 L701.0,250.1 L702.0,251.6 L703.0,249.1 L704.0,251.0 L705.0,248.8 L706.0,251.4 L707.0,251.7 L708.0,250.6 L709.0,252.3 L710.0,249.0 L711.0,252.3 L712.0,251.3 L713.0,249.8 L714.0,253.2 L715.0,253.3 L716.0,253.2 L717.0,250.5 L718.0,252.0 L719.0,252.8 L720.0,253.5 L721.0,254.1 L722.0,254.2 L723.0,253.3 L724.0,255.4 L725.0,254.9 L726.0,254.1 L727.0,252.7 L728.0,253.1 L729.0,253.0 L730.0,254.4 L731.0,255.2 L732.0,257.7 L733.0,261.1 L734.0,262.5 L735.0,270.8 L736.0,274.2 L737.0,271.3 L738.0,267.0 L739.0,268.6 L740.0,270.4 L741.0,271.8 L742.0,271.9 L743.0,273.8 L744.0,274.4 L745.0,278.2 L746.0,281.3 L747.0,283.2 L748.0,282.2 L749.0,281.6 L750.0,282.0 L751.0,280.9 L752.0,282.5 L753.0,282.8 L754.0,282.7 L755.0,279.8 L756.0,282.4 L757.0,280.9 L758.0,278.6 L759.0,280.5 L760.0,276.6 L761.0,276.8 L762.0,281.3 L763.0,283.9 L764.0,284.3 L765.0,283.5 L766.0,283.8 L767.0,285.2 L768.0,285.2 L769.0,284.3 L770.0,285.4 L771.0,285.6 L772.0,286.4 L773.0,284.9 L774.0,287.5 L775.0,288.1 L776.0,289.0 L777.0,289.2 L778.0,292.5 L779.0,292.4 L780.0,293.7 L781.0,294.8 L782.0,297.3 L783.0,296.7 L784.0,299.6 L785.0,299.1 L786.0,302.3 L787.0,301.7 L788.0,304.8 L789.0,304.9 L790.0,303.5 L791.0,305.8 L792.0,304.8 L793.0,304.8 L794.0,303.0 L795.0,302.3 L796.0,303.2 L797.0,304.5 L798.0,305.5 L799.0,304.6 L800.0,303.8 L801.0,302.1 L802.0,302.1 L803.0,302.3 L804.0,301.7 L805.0,301.7 L806.0,301.2 L807.0,301.8 L808.0,302.1 L809.0,304.2 L810.0,305.5 L811.0,305.7 L812.0,305.9 L813.0,306.3 L814.0,307.7 L815.0,310.4 L816.0,312.3 L817.0,314.6 L818.0,316.7 L819.0,318.6 L820.0,319.3 L821.0,318.2 L822.0,319.2 L823.0,321.3 L824.0,321.9 L825.0,322.6 L826.0,323.0 L827.0,324.2 L828.0,324.2 L829.0,325.4 L830.0,324.8 L831.0,326.9 L832.0,328.8 L833.0,335.4 L834.0,340.1 L835.0,344.2 L836.0,346.4 L837.0,349.6 L838.0,351.5 L839.0,353.8 L840.0,354.4 L841.0,354.8 L842.0,356.9 L843.0,356.8 L844.0,357.1 L845.0,356.5 L846.0,359.2 L847.0,357.5 L848.0,358.7 L849.0,359.3 L850.0,360.2 L851.0,360.1 L852.0,358.9 L853.0,358.8 L854.0,359.1 L855.0,362.0 L856.0,363.3 L857.0,363.3 L858.0,362.7 L859.0,362.9 L860.0,364.1 L861.0,363.7 L862.0,363.3 L863.0,363.7 L864.0,364.1 L865.0,364.1 L866.0,363.6 L867.0,363.7 L868.0,362.9 L869.0,362.9 L870.0,363.8 L871.0,362.7 L872.0,363.2 L873.0,364.1 L874.0,364.6 L875.0,365.3 L876.0,366.7 L877.0,366.5 L878.0,368.2 L879.0,368.5 L880.0,367.8 L881.0,367.7 L882.0,367.1 L883.0,365.8 L884.0,365.9 L885.0,364.4 L886.0,364.8 L887.0,364.3 L888.0,363.8 L889.0,364.5 L890.0,363.6 L891.0,363.9 L892.0,367.2 L893.0,371.1 L894.0,371.9 L895.0,372.5 L896.0,373.5 L897.0,373.8 L898.0,375.1 L899.0,374.7 L900.0,375.6 L901.0,376.1 L902.0,375.5 L903.0,375.9 L904.0,377.3 L905.0,378.6 L906.0,378.6 L907.0,379.8 L908.0,382.5 L909.0,383.3 L910.0,384.9 L911.0,385.5 L912.0,386.4 L913.0,388.7 L914.0,386.2 L915.0,384.7 L916.0,384.5 L917.0,384.2 L918.0,383.9 L919.0,383.1 L920.0,386.3 L921.0,387.9 L922.0,387.6 L923.0,388.4 L924.0,387.1 L925.0,388.9 L926.0,389.0 L927.0,389.6 L928.0,387.5 L929.0,388.1 L930.0,388.0 L931.0,389.8 L932.0,388.5 L933.0,389.2 L934.0,388.1 L935.0,387.5 L936.0,387.7 L937.0,387.3 L938.0,386.1 L939.0,385.9 L940.0,385.2 L941.0,384.4 L942.0,384.0 L943.0,384.6 L944.0,384.0 L945.0,383.2 L946.0,382.9 L947.0,383.7 L948.0,384.3 L949.0,384.8 L950.0,384.9 L951.0,384.9 L952.0,384.7 L953.0,385.1 L954.0,384.9 L955.0,384.3 L956.0,384.8 L957.0,384.4 L958.0,384.6 L959.0,384.3 L960.0,384.0 L961.0,384.2 L962.0,383.8 L963.0,383.5 L964.0,384.0 L965.0,383.8 L966.0,383.3 L967.0,383.7 L968.0,383.4 L969.0,383.3 L970.0,383.6 L971.0,383.2 L972.0,383.1 L973.0,383.4 L974.0,383.5 L975.0,383.1 L976.0,382.6 L977.0,382.6 L978.0,382.6 L979.0,382.6 L980.0,382.5 L981.0,382.8 L982.0,383.2 L983.0,382.6 L984.0,382.8 L985.0,383.2 L986.0,383.2 L987.0,382.5 L988.0,383.3 L989.0,382.4 L990.0,382.8 L991.0,382.2 L992.0,382.1 L993.0,382.1 L994.0,381.9 L995.0,381.9 L996.0,381.6 L997.0,382.1 L998.0,381.9 L999.0,381.7 L1000.0,381.5 L1001.0,381.5 L1002.0,381.1 L1003.0,381.5 L1004.0,381.1 L1005.0,381.0 L1006.0,380.9 L1007.0,380.4 L1008.0,380.2 L1009.0,380.3 L1010.0,379.8 L1011.0,380.2 L1012.0,379.1 L1013.0,379.7 L1014.0,378.6 L1015.0,378.5 L1016.0,378.6 L1017.0,378.6 L1018.0,377.8 L1019.0,377.4 L1020.0,376.7 L1021.0,376.9 L1022.0,376.5 L1023.0,376.4 L1024.0,375.4 L1025.0,375.3 L1026.0,375.1 L1027.0,374.2 L1028.0,374.0 L1029.0,374.1 L1030.0,375.1 L1031.0,375.6 L1032.0,376.8 L1033.0,383.4 L1034.0,383.4 L1035.0,383.2 L1036.0,381.9 L1037.0,381.9 L1038.0,381.6 L1039.0,381.4 L1040.0,381.1 L1041.0,381.4 L1042.0,381.1 L1043.0,381.4 L1044.0,381.3 L1045.0,381.1 L1046.0,380.5 L1047.0,380.9 L1048.0,381.0 L1049.0,380.4 L1050.0,380.3 L1051.0,381.1 L1052.0,380.5 L1053.0,381.1 L1054.0,380.7 L1055.0,380.5 L1056.0,380.2 L1057.0,380.3 L1058.0,380.2 L1059.0,380.4 L1060.0,379.5 L1061.0,380.1 L1062.0,379.8 L1063.0,379.3 L1064.0,379.0 L1065.0,378.8 L1066.0,378.3 L1067.0,378.3 L1068.0,378.4 L1069.0,377.6 L1070.0,377.1 L1071.0,377.1 L1072.0,377.4 L1073.0,376.6 L1074.0,376.7 L1075.0,376.1 L1076.0,375.6 L1077.0,375.9 L1078.0,376.5 L1079.0,377.9 L1080.0,378.9 L1081.0,380.4 L1082.0,380.4 L1083.0,380.1 L1084.0,380.1 L1085.0,379.8 L1086.0,380.0 L1087.0,379.6 L1088.0,379.9 L1089.0,379.5 L1090.0,378.5 L1091.0,378.5 L1092.0,378.3 L1093.0,377.6 L1094.0,376.8 L1095.0,376.9 L1096.0,376.4 L1097.0,375.9 L1098.0,376.5 L1099.0,376.6 L1100.0,376.6 L1101.0,376.2 L1102.0,376.5 L1103.0,376.3 L1104.0,376.0 L1105.0,376.0 L1106.0,376.7 L1107.0,376.7 L1108.0,376.4 L1109.0,380.1 L1110.0,383.2 L1111.0,385.5 L1112.0,386.5 L1113.0,385.4 L1114.0,387.0 L1115.0,385.8 L1116.0,387.5 L1117.0,386.3 L1118.0,387.9 L1119.0,387.0 L1120.0,386.9 L1121.0,385.7 L1122.0,385.2 L1123.0,384.7 L1124.0,384.8 L1125.0,384.2 L1126.0,383.7 L1127.0,384.4 L1128.0,383.5 L1129.0,383.8 L1130.0,382.9 L1131.0,383.4 L1132.0,383.3 L1133.0,382.5 L1134.0,382.9 L1135.0,382.7 L1136.0,382.8 L1137.0,382.0 L1138.0,381.6 L1139.0,382.6 L1140.0,381.6 L1141.0,382.1 L1142.0,381.9 L1143.0,381.7 L1144.0,381.4 L1145.0,381.1 L1146.0,381.2 L1147.0,380.8 L1148.0,381.3 L1149.0,380.6 L1150.0,380.7 L1151.0,380.6 L1152.0,379.7 L1153.0,379.5 L1154.0,380.1 L1155.0,379.6 L1156.0,378.9 L1157.0,378.9 L1158.0,379.4 L1159.0,378.7 L1160.0,378.2 L1161.0,377.4 L1162.0,377.1 L1163.0,376.5 L1164.0,376.0 L1165.0,375.0 L1166.0,375.3 L1167.0,374.9 L1168.0,374.9 L1169.0,374.6 L1170.0,374.4 L1171.0,374.0 L1172.0,373.4 L1173.0,374.3 L1174.0,373.6 L1175.0,373.6 L1176.0,374.6 L1177.0,374.1 L1178.0,374.9 L1179.0,375.2 L1180.0,375.9 L1181.0,379.4 L1182.0,380.5 L1183.0,382.2 L1184.0,382.9 L1185.0,382.0 L1186.0,381.2 L1187.0,380.3 L1188.0,379.8 L1189.0,378.7 L1190.0,378.7 L1191.0,378.3 L1192.0,379.2 L1193.0,378.5 L1194.0,377.7 L1195.0,378.4 L1196.0,377.6 L1197.0,377.5 L1198.0,377.0 L1199.0,377.7 L1200.0,378.2 L1201.0,377.8 L1202.0,377.6 L1203.0,377.1 L1204.0,377.8 L1205.0,377.6 L1206.0,377.4 L1207.0,377.9 L1208.0,377.4 L1209.0,378.2 L1210.0,378.5 L1211.0,378.0 L1212.0,378.4 L1213.0,378.4 L1214.0,377.9 L1215.0,378.5 L1216.0,379.1 L1217.0,380.0 L1218.0,379.8 L1219.0,381.0 L1220.0,384.7 L1221.0,388.3 L1222.0,394.0 L1223.0,398.5 L1224.0,402.0 L1225.0,402.9 L1226.0,406.0 L1227.0,407.3 L1228.0,408.8 L1229.0,411.1 L1230.0,411.2 L1231.0,408.5 L1232.0,407.8 L1233.0,408.1 L1234.0,406.2 L1235.0,408.1 L1236.0,409.7 L1237.0,410.5 L1238.0,410.8 L1239.0,411.8 L1240.0,413.5 L1241.0,412.9 L1242.0,413.6 L1243.0,412.9 L1244.0,413.5 L1245.0,413.0 L1246.0,411.3 L1247.0,411.4 L1248.0,409.9 L1249.0,409.2 L1250.0,409.0 L1251.0,408.3 L1252.0,407.1 L1253.0,407.4 L1254.0,405.5 L1255.0,404.5 L1256.0,404.7 L1257.0,404.2 L1258.0,403.5 L1259.0,403.4 L1260.0,403.8 L1261.0,401.6 L1262.0,401.2 L1263.0,400.4 L1264.0,399.2 L1265.0,399.3 L1266.0,397.8 L1267.0,397.4 L1268.0,398.0 L1269.0,397.5 L1270.0,396.6 L1271.0,395.3 L1272.0,394.6 L1273.0,395.5 L1274.0,394.1 L1275.0,395.8 L1276.0,393.9 L1277.0,394.6 L1278.0,394.9 L1279.0,395.1 L1280.0,395.4 L1281.0,394.1 L1282.0,393.5 L1283.0,394.0 L1284.0,392.8 L1285.0,393.7 L1286.0,394.0 L1287.0,394.1 L1288.0,392.2 L1289.0,392.2 L1290.0,391.2 L1291.0,390.9 L1292.0,390.8 L1293.0,389.7 L1294.0,387.9 L1295.0,387.2 L1296.0,385.3 L1297.0,384.2 L1298.0,383.3 L1299.0,381.3 L1300.0,382.7 L1301.0,382.4 L1302.0,381.2 L1303.0,380.7 L1304.0,380.9 L1305.0,379.9 L1306.0,380.6 L1307.0,378.5 L1308.0,380.2 L1309.0,379.7 L1310.0,378.0 L1311.0,376.2 L1312.0,377.6 L1313.0,377.3 L1314.0,378.1 L1315.0,375.6 L1316.0,375.9 L1317.0,375.0 L1318.0,377.0 L1319.0,374.6 L1320.0,376.6 L1321.0,376.2 L1322.0,374.4 L1323.0,372.9 L1324.0,374.5 L1325.0,375.1 L1326.0,372.5 L1327.0,373.6 L1328.0,372.0 L1329.0,373.1 L1330.0,373.3 L1331.0,372.6 L1332.0,371.9 L1333.0,373.7 L1334.0,373.1 L1335.0,372.4 L1336.0,372.1 L1337.0,372.5 L1338.0,375.0 L1339.0,374.4 L1340.0,375.9 L1341.0,375.1 L1342.0,374.1 L1343.0,374.8 L1344.0,375.3 L1345.0,376.3 L1346.0,375.6 L1347.0,373.1 L1348.0,372.5 L1349.0,374.5 L1350.0,371.3 L1351.0,371.8 L1352.0,369.7 L1353.0,369.4 L1354.0,370.1 L1355.0,370.5 L1356.0,370.2 L1357.0,367.4 L1358.0,369.7 L1359.0,367.6 L1360.0,368.4 L1361.0,367.6 L1362.0,369.6 L1363.0,370.1 L1364.0,371.3 L1365.0,370.7 L1366.0,369.0 L1367.0,372.4 L1368.0,370.2 L1369.0,371.3 L1370.0,370.9 L1371.0,369.4 L1372.0,367.3 L1373.0,368.0 L1374.0,366.7 L1375.0,368.3 L1376.0,365.4 L1377.0,367.5 L1378.0,365.0 L1379.0,365.9 L1380.0,366.8 L1381.0,363.8 L1382.0,363.7 L1383.0,363.4 L1384.0,362.8 L1385.0,363.8 L1386.0,359.4 L1387.0,359.3 L1388.0,357.8 L1389.0,359.6 L1390.0,359.3 L1391.0,359.6 L1392.0,362.2 L1393.0,362.6 L1394.0,363.5 L1395.0,362.8 L1396.0,363.1 L1397.0,366.0 L1398.0,363.9 L1399.0,364.2 L1400.0,366.9 L1401.0,364.7 L1402.0,364.6 L1403.0,364.6 L1404.0,366.2 L1405.0,367.7 L1406.0,365.4 L1407.0,368.2 L1408.0,368.8 L1409.0,367.3 L1410.0,367.4 L1411.0,366.9 L1412.0,368.7 L1413.0,368.6 L1414.0,368.1 L1415.0,367.3 L1416.0,367.4 L1417.0,367.8 L1418.0,368.1 L1419.0,365.9 L1420.0,366.5 L1421.0,366.3 L1422.0,364.4 L1423.0,365.7 L1424.0,363.7 L1425.0,365.0 L1426.0,367.4 L1427.0,364.9 L1428.0,362.1 L1429.0,361.0 L1430.0,361.8 L1431.0,362.6 L1432.0,361.2 L1433.0,361.9 L1434.0,361.3 L1435.0,361.7 L1436.0,360.6 L1437.0,360.8 L1438.0,362.1 L1439.0,361.7 L1440.0,362.7 L1441.0,361.6 L1442.0,362.2 L1443.0,361.5 L1444.0,360.8 L1445.0,359.4 L1446.0,361.3 L1447.0,361.7 L1448.0,358.9 L1449.0,359.8 L1450.0,359.2 L1451.0,363.2 L1452.0,364.0 L1453.0,363.6 L1454.0,362.8 L1455.0,362.5 L1456.0,362.1 L1457.0,361.4 L1458.0,363.4 L1459.0,361.3 L1460.0,362.3 L1461.0,360.8 L1462.0,360.0 L1463.0,358.4 L1464.0,356.0 L1465.0,355.6 L1466.0,352.8 L1467.0,351.8 L1468.0,350.9 L1469.0,350.5 L1470.0,351.6 L1471.0,349.9 L1472.0,348.8 L1473.0,347.9 L1474.0,348.5 L1475.0,348.0 L1476.0,346.3 L1477.0,345.6 L1478.0,345.7 L1479.0,345.3 L1480.0,345.3 L1481.0,342.5 L1482.0,341.5 L1483.0,342.2 L1484.0,341.9 L1485.0,339.2 L1486.0,339.2 L1487.0,338.9 L1488.0,338.1 L1489.0,336.9 L1490.0,335.6 L1491.0,334.2 L1492.0,333.1 L1493.0,333.7 L1494.0,332.7 L1495.0,331.3 L1496.0,330.7 L1497.0,329.3 L1498.0,329.9 L1499.0,328.2 L1500.0,327.6 L1501.0,326.9 L1502.0,326.2 L1503.0,326.1 L1504.0,324.6 L1505.0,325.3 L1506.0,324.1 L1507.0,323.9 L1508.0,324.8 L1509.0,324.1 L1510.0,324.0 L1511.0,323.4 L1512.0,323.2 L1513.0,323.7 L1514.0,323.3 L1515.0,322.4 L1516.0,322.4 L1517.0,320.8 L1518.0,320.9 L1519.0,319.9 L1520.0,319.1 L1521.0,319.9 L1522.0,319.2 L1523.0,317.9 L1524.0,317.5 L1525.0,317.8 L1526.0,317.6 L1527.0,316.6 L1528.0,316.5 L1529.0,316.2 L1530.0,315.8 L1531.0,316.1 L1532.0,315.3 L1533.0,315.1 L1534.0,314.6 L1535.0,314.7 L1536.0,314.4 L1537.0,314.6 L1538.0,312.9 L1539.0,314.0 L1540.0,312.6 L1541.0,311.3 L1542.0,311.3 L1543.0,311.1 L1544.0,310.2 L1545.0,309.0 L1546.0,308.6 L1547.0,306.7 L1548.0,305.9 L1549.0,304.6 L1550.0,301.8 L1551.0,300.5 L1552.0,300.1 L1553.0,298.1 L1554.0,296.3 L1555.0,295.1 L1556.0,294.2 L1557.0,293.0 L1558.0,292.7 L1559.0,292.4 L1560.0,291.5 L1561.0,290.5 L1562.0,289.3 L1563.0,287.3 L1564.0,287.7 L1565.0,286.0 L1566.0,285.6 L1567.0,285.0 L1568.0,284.2 L1569.0,282.8 L1570.0,282.1 L1571.0,282.2 L1572.0,281.0 L1573.0,280.2 L1574.0,280.8 L1575.0,279.3 L1576.0,277.9 L1577.0,277.6 L1578.0,276.1 L1579.0,275.5 L1580.0,274.0 L1581.0,274.2 L1582.0,273.9 L1583.0,273.2 L1584.0,271.2 L1585.0,271.1 L1586.0,270.8 L1587.0,268.8 L1588.0,268.0 L1589.0,266.5 L1590.0,264.8 L1591.0,263.8 L1592.0,263.1 L1593.0,262.0 L1594.0,259.0 L1595.0,258.3 L1596.0,257.5 L1597.0,257.8 L1598.0,257.2 L1599.0,256.0 L1600.0,254.6 L1601.0,255.1 L1602.0,254.8 L1603.0,253.7 L1604.0,253.3 L1605.0,252.2 L1606.0,252.1 L1607.0,250.9 L1608.0,250.7 L1609.0,250.3 L1610.0,250.4 L1611.0,248.9 L1612.0,249.4 L1613.0,247.8 L1614.0,248.2 L1615.0,246.3 L1616.0,246.8 L1617.0,246.2 L1618.0,246.3 L1619.0,244.8 L1620.0,246.0 L1621.0,245.4 L1622.0,245.5 L1623.0,244.3 L1624.0,244.4 L1625.0,243.9 L1626.0,243.3 L1627.0,241.8 L1628.0,241.9 L1629.0,240.4 L1630.0,239.9 L1631.0,239.7 L1632.0,238.4 L1633.0,237.6 L1634.0,238.2 L1635.0,237.4 L1636.0,236.0 L1637.0,235.5 L1638.0,234.8 L1639.0,233.8 L1640.0,233.0 L1641.0,232.7 L1642.0,232.2 L1643.0,233.2 L1643.0,237.3 L1642.0,239.1 L1641.0,238.7 L1640.0,238.3 L1639.0,239.6 L1638.0,241.3 L1637.0,239.9 L1636.0,242.7 L1635.0,242.3 L1634.0,242.3 L1633.0,243.0 L1632.0,244.8 L1631.0,244.2 L1630.0,245.5 L1629.0,246.8 L1628.0,246.6 L1627.0,247.1 L1626.0,248.3 L1625.0,249.8 L1624.0,249.7 L1623.0,251.4 L1622.0,249.9 L1621.0,250.9 L1620.0,250.0 L1619.0,250.1 L1618.0,252.7 L1617.0,251.3 L1616.0,252.5 L1615.0,252.1 L1614.0,253.8 L1613.0,253.3 L1612.0,255.0 L1611.0,254.0 L1610.0,254.4 L1609.0,256.0 L1608.0,255.7 L1607.0,256.1 L1606.0,257.1 L1605.0,257.3 L1604.0,259.3 L1603.0,258.1 L1602.0,259.6 L1601.0,259.3 L1600.0,259.6 L1599.0,260.3 L1598.0,262.4 L1597.0,262.4 L1596.0,264.0 L1595.0,263.7 L1594.0,264.3 L1593.0,265.7 L1592.0,267.4 L1591.0,269.2 L1590.0,269.9 L1589.0,271.8 L1588.0,272.7 L1587.0,275.8 L1586.0,277.0 L1585.0,275.4 L1584.0,278.0 L1583.0,278.9 L1582.0,277.6 L1581.0,278.9 L1580.0,279.1 L1579.0,280.0 L1578.0,282.6 L1577.0,283.3 L1576.0,283.7 L1575.0,284.3 L1574.0,284.6 L1573.0,286.5 L1572.0,286.4 L1571.0,286.9 L1570.0,287.5 L1569.0,288.1 L1568.0,290.7 L1567.0,290.4 L1566.0,291.4 L1565.0,291.6 L1564.0,291.8 L1563.0,292.7 L1562.0,295.9 L1561.0,295.0 L1560.0,295.4 L1559.0,296.6 L1558.0,297.5 L1557.0,298.6 L1556.0,299.4 L1555.0,300.7 L1554.0,303.8 L1553.0,305.2 L1552.0,304.6 L1551.0,307.2 L1550.0,307.4 L1549.0,308.9 L1548.0,310.0 L1547.0,311.8 L1546.0,312.5 L1545.0,314.4 L1544.0,316.4 L1543.0,316.8 L1542.0,315.8 L1541.0,316.7 L1540.0,318.4 L1539.0,320.5 L1538.0,318.4 L1537.0,318.9 L1536.0,320.7 L1535.0,319.5 L1534.0,320.0 L1533.0,320.2 L1532.0,320.9 L1531.0,323.4 L1530.0,320.9 L1529.0,321.4 L1528.0,321.2 L1527.0,321.8 L1526.0,322.3 L1525.0,323.5 L1524.0,323.7 L1523.0,323.4 L1522.0,323.8 L1521.0,325.3 L1520.0,324.9 L1519.0,324.8 L1518.0,325.7 L1517.0,328.2 L1516.0,328.4 L1515.0,326.7 L1514.0,327.4 L1513.0,328.6 L1512.0,329.4 L1511.0,328.9 L1510.0,328.5 L1509.0,330.8 L1508.0,329.9 L1507.0,330.6 L1506.0,331.1 L1505.0,331.1 L1504.0,332.3 L1503.0,330.6 L1502.0,331.4 L1501.0,333.3 L1500.0,332.8 L1499.0,333.8 L1498.0,335.0 L1497.0,335.8 L1496.0,336.5 L1495.0,336.7 L1494.0,337.7 L1493.0,339.4 L1492.0,342.7 L1491.0,342.0 L1490.0,344.0 L1489.0,342.8 L1488.0,344.2 L1487.0,346.5 L1486.0,346.3 L1485.0,347.5 L1484.0,350.5 L1483.0,348.8 L1482.0,353.2 L1481.0,350.4 L1480.0,351.2 L1479.0,353.3 L1478.0,354.3 L1477.0,355.7 L1476.0,354.8 L1475.0,355.2 L1474.0,358.3 L1473.0,356.9 L1472.0,360.4 L1471.0,360.1 L1470.0,359.0 L1469.0,361.5 L1468.0,361.2 L1467.0,363.3 L1466.0,364.2 L1465.0,367.2 L1464.0,364.4 L1463.0,368.4 L1462.0,371.0 L1461.0,370.8 L1460.0,371.1 L1459.0,371.3 L1458.0,371.5 L1457.0,372.1 L1456.0,372.7 L1455.0,375.5 L1454.0,377.4 L1453.0,374.7 L1452.0,373.7 L1451.0,371.3 L1450.0,371.6 L1449.0,371.4 L1448.0,371.0 L1447.0,369.9 L1446.0,370.7 L1445.0,372.0 L1444.0,377.3 L1443.0,376.2 L1442.0,372.9 L1441.0,371.5 L1440.0,371.7 L1439.0,377.4 L1438.0,375.1 L1437.0,372.5 L1436.0,375.1 L1435.0,377.3 L1434.0,373.7 L1433.0,374.0 L1432.0,375.8 L1431.0,375.4 L1430.0,372.5 L1429.0,374.5 L1428.0,379.9 L1427.0,381.9 L1426.0,376.8 L1425.0,378.5 L1424.0,381.3 L1423.0,377.0 L1422.0,377.0 L1421.0,376.7 L1420.0,377.2 L1419.0,383.3 L1418.0,383.6 L1417.0,385.8 L1416.0,380.6 L1415.0,381.6 L1414.0,387.5 L1413.0,386.3 L1412.0,380.8 L1411.0,379.4 L1410.0,387.9 L1409.0,381.8 L1408.0,379.6 L1407.0,383.2 L1406.0,379.8 L1405.0,379.5 L1404.0,378.9 L1403.0,379.1 L1402.0,384.8 L1401.0,379.9 L1400.0,385.2 L1399.0,378.7 L1398.0,378.7 L1397.0,385.5 L1396.0,376.2 L1395.0,382.8 L1394.0,378.9 L1393.0,380.2 L1392.0,373.5 L1391.0,374.3 L1390.0,374.7 L1389.0,371.0 L1388.0,370.6 L1387.0,372.4 L1386.0,377.7 L1385.0,381.6 L1384.0,378.6 L1383.0,376.9 L1382.0,382.3 L1381.0,384.9 L1380.0,380.6 L1379.0,381.3 L1378.0,380.8 L1377.0,383.3 L1376.0,386.7 L1375.0,385.0 L1374.0,379.0 L1373.0,379.8 L1372.0,383.5 L1371.0,388.8 L1370.0,389.7 L1369.0,385.0 L1368.0,386.8 L1367.0,386.8 L1366.0,382.5 L1365.0,382.3 L1364.0,389.1 L1363.0,386.9 L1362.0,383.9 L1361.0,382.8 L1360.0,382.0 L1359.0,380.3 L1358.0,383.6 L1357.0,385.3 L1356.0,381.5 L1355.0,386.8 L1354.0,384.0 L1353.0,385.2 L1352.0,385.5 L1351.0,384.3 L1350.0,385.0 L1349.0,386.9 L1348.0,385.9 L1347.0,391.6 L1346.0,388.0 L1345.0,386.6 L1344.0,387.1 L1343.0,386.6 L1342.0,390.8 L1341.0,387.9 L1340.0,385.9 L1339.0,385.1 L1338.0,389.7 L1337.0,388.3 L1336.0,389.7 L1335.0,387.9 L1334.0,389.4 L1333.0,389.5 L1332.0,385.7 L1331.0,386.8 L1330.0,385.8 L1329.0,383.8 L1328.0,384.5 L1327.0,385.2 L1326.0,387.6 L1325.0,389.2 L1324.0,384.0 L1323.0,390.2 L1322.0,389.3 L1321.0,385.7 L1320.0,386.6 L1319.0,387.6 L1318.0,385.3 L1317.0,390.6 L1316.0,387.9 L1315.0,386.8 L1314.0,390.4 L1313.0,389.9 L1312.0,392.3 L1311.0,391.8 L1310.0,388.3 L1309.0,387.5 L1308.0,393.1 L1307.0,389.7 L1306.0,390.4 L1305.0,390.3 L1304.0,390.4 L1303.0,391.2 L1302.0,391.6 L1301.0,390.2 L1300.0,391.7 L1299.0,391.9 L1298.0,391.1 L1297.0,392.2 L1296.0,394.0 L1295.0,396.5 L1294.0,398.0 L1293.0,398.3 L1292.0,401.0 L1291.0,402.3 L1290.0,402.0 L1289.0,399.8 L1288.0,400.2 L1287.0,402.0 L1286.0,401.1 L1285.0,402.6 L1284.0,403.4 L1283.0,401.6 L1282.0,404.9 L1281.0,403.2 L1280.0,402.9 L1279.0,402.2 L1278.0,401.7 L1277.0,401.9 L1276.0,406.8 L1275.0,403.5 L1274.0,403.4 L1273.0,405.1 L1272.0,402.6 L1271.0,403.3 L1270.0,407.7 L1269.0,404.2 L1268.0,407.7 L1267.0,410.5 L1266.0,406.0 L1265.0,411.9 L1264.0,409.6 L1263.0,407.5 L1262.0,410.7 L1261.0,409.5 L1260.0,413.1 L1259.0,416.3 L1258.0,415.2 L1257.0,416.6 L1256.0,417.7 L1255.0,413.8 L1254.0,417.6 L1253.0,414.4 L1252.0,414.8 L1251.0,415.4 L1250.0,416.1 L1249.0,422.6 L1248.0,419.8 L1247.0,419.5 L1246.0,422.9 L1245.0,425.7 L1244.0,432.6 L1243.0,424.8 L1242.0,425.8 L1241.0,430.0 L1240.0,425.2 L1239.0,434.2 L1238.0,429.3 L1237.0,434.7 L1236.0,432.8 L1235.0,436.2 L1234.0,452.3 L1233.0,439.6 L1232.0,446.6 L1231.0,436.8 L1230.0,443.3 L1229.0,440.0 L1228.0,442.1 L1227.0,435.2 L1226.0,429.0 L1225.0,428.2 L1224.0,413.4 L1223.0,409.2 L1222.0,409.2 L1221.0,406.8 L1220.0,394.6 L1219.0,391.5 L1218.0,389.3 L1217.0,397.2 L1216.0,389.9 L1215.0,395.7 L1214.0,392.6 L1213.0,394.4 L1212.0,386.2 L1211.0,388.7 L1210.0,387.2 L1209.0,385.9 L1208.0,392.6 L1207.0,385.8 L1206.0,387.7 L1205.0,388.9 L1204.0,384.3 L1203.0,384.8 L1202.0,385.3 L1201.0,387.2 L1200.0,388.6 L1199.0,384.3 L1198.0,384.4 L1197.0,383.5 L1196.0,384.4 L1195.0,383.8 L1194.0,386.3 L1193.0,385.6 L1192.0,386.0 L1191.0,384.6 L1190.0,386.8 L1189.0,386.6 L1188.0,385.3 L1187.0,390.5 L1186.0,389.1 L1185.0,387.8 L1184.0,388.6 L1183.0,392.7 L1182.0,388.3 L1181.0,385.7 L1180.0,385.8 L1179.0,382.8 L1178.0,380.0 L1177.0,379.8 L1176.0,379.9 L1175.0,381.4 L1174.0,383.9 L1173.0,381.6 L1172.0,380.1 L1171.0,383.1 L1170.0,379.5 L1169.0,380.2 L1168.0,380.9 L1167.0,382.0 L1166.0,384.0 L1165.0,382.5 L1164.0,381.2 L1163.0,386.2 L1162.0,382.7 L1161.0,385.0 L1160.0,384.9 L1159.0,384.2 L1158.0,384.0 L1157.0,384.5 L1156.0,385.1 L1155.0,385.4 L1154.0,387.0 L1153.0,387.7 L1152.0,389.9 L1151.0,388.7 L1150.0,386.3 L1149.0,385.9 L1148.0,385.8 L1147.0,390.7 L1146.0,387.0 L1145.0,386.2 L1144.0,389.6 L1143.0,390.1 L1142.0,388.8 L1141.0,390.1 L1140.0,386.8 L1139.0,387.2 L1138.0,387.3 L1137.0,387.9 L1136.0,388.3 L1135.0,388.1 L1134.0,389.0 L1133.0,389.5 L1132.0,390.9 L1131.0,389.3 L1130.0,389.6 L1129.0,392.6 L1128.0,389.9 L1127.0,393.3 L1126.0,390.9 L1125.0,395.7 L1124.0,394.0 L1123.0,395.8 L1122.0,399.8 L1121.0,397.0 L1120.0,394.4 L1119.0,395.9 L1118.0,399.6 L1117.0,406.1 L1116.0,397.7 L1115.0,397.3 L1114.0,396.8 L1113.0,398.2 L1112.0,400.2 L1111.0,399.0 L1110.0,412.0 L1109.0,409.0 L1108.0,389.1 L1107.0,384.8 L1106.0,384.0 L1105.0,384.8 L1104.0,382.5 L1103.0,386.7 L1102.0,382.2 L1101.0,384.8 L1100.0,380.8 L1099.0,380.4 L1098.0,381.7 L1097.0,380.7 L1096.0,381.8 L1095.0,383.2 L1094.0,381.4 L1093.0,382.6 L1092.0,382.2 L1091.0,385.5 L1090.0,382.8 L1089.0,383.1 L1088.0,384.3 L1087.0,385.7 L1086.0,384.8 L1085.0,384.5 L1084.0,387.2 L1083.0,386.6 L1082.0,384.0 L1081.0,387.3 L1080.0,383.3 L1079.0,382.0 L1078.0,381.8 L1077.0,382.5 L1076.0,382.1 L1075.0,380.9 L1074.0,380.6 L1073.0,381.1 L1072.0,382.3 L1071.0,381.6 L1070.0,381.5 L1069.0,381.9 L1068.0,382.1 L1067.0,382.5 L1066.0,382.7 L1065.0,386.0 L1064.0,385.4 L1063.0,383.4 L1062.0,384.7 L1061.0,383.9 L1060.0,383.9 L1059.0,384.1 L1058.0,385.2 L1057.0,384.5 L1056.0,386.1 L1055.0,386.2 L1054.0,384.9 L1053.0,385.0 L1052.0,384.7 L1051.0,384.8 L1050.0,387.2 L1049.0,385.1 L1048.0,385.9 L1047.0,385.7 L1046.0,389.0 L1045.0,388.6 L1044.0,389.9 L1043.0,386.2 L1042.0,390.5 L1041.0,387.2 L1040.0,391.2 L1039.0,387.3 L1038.0,387.5 L1037.0,389.9 L1036.0,390.6 L1035.0,396.2 L1034.0,395.2 L1033.0,392.6 L1032.0,387.4 L1031.0,385.3 L1030.0,381.5 L1029.0,380.3 L1028.0,380.0 L1027.0,386.0 L1026.0,385.3 L1025.0,380.8 L1024.0,381.6 L1023.0,382.1 L1022.0,381.8 L1021.0,383.7 L1020.0,387.6 L1019.0,387.7 L1018.0,383.7 L1017.0,383.6 L1016.0,385.0 L1015.0,384.0 L1014.0,386.0 L1013.0,387.6 L1012.0,384.5 L1011.0,384.3 L1010.0,386.5 L1009.0,385.0 L1008.0,387.2 L1007.0,386.9 L1006.0,386.1 L1005.0,385.8 L1004.0,385.5 L1003.0,386.4 L1002.0,385.7 L1001.0,387.7 L1000.0,388.8 L999.0,386.1 L998.0,387.1 L997.0,386.7 L996.0,386.3 L995.0,386.4 L994.0,386.2 L993.0,389.7 L992.0,388.7 L991.0,386.6 L990.0,386.7 L989.0,386.8 L988.0,388.7 L987.0,389.2 L986.0,389.8 L985.0,389.4 L984.0,387.0 L983.0,388.2 L982.0,387.1 L981.0,390.3 L980.0,390.4 L979.0,389.3 L978.0,389.6 L977.0,387.8 L976.0,387.5 L975.0,387.6 L974.0,387.4 L973.0,390.1 L972.0,388.2 L971.0,387.7 L970.0,389.2 L969.0,390.4 L968.0,388.4 L967.0,390.3 L966.0,389.9 L965.0,388.7 L964.0,388.9 L963.0,389.6 L962.0,391.6 L961.0,389.8 L960.0,390.1 L959.0,389.1 L958.0,389.0 L957.0,389.9 L956.0,390.4 L955.0,389.6 L954.0,390.7 L953.0,393.9 L952.0,389.5 L951.0,393.9 L950.0,393.1 L949.0,389.3 L948.0,388.8 L947.0,388.8 L946.0,390.5 L945.0,388.5 L944.0,392.1 L943.0,392.9 L942.0,391.7 L941.0,393.2 L940.0,391.8 L939.0,392.1 L938.0,392.8 L937.0,393.5 L936.0,394.7 L935.0,396.4 L934.0,399.3 L933.0,405.0 L932.0,404.9 L931.0,398.4 L930.0,403.2 L929.0,400.0 L928.0,404.7 L927.0,402.3 L926.0,406.7 L925.0,407.7 L924.0,403.6 L923.0,402.9 L922.0,403.3 L921.0,401.5 L920.0,398.4 L919.0,392.7 L918.0,394.2 L917.0,397.6 L916.0,400.3 L915.0,394.3 L914.0,402.0 L913.0,403.7 L912.0,405.1 L911.0,408.1 L910.0,398.9 L909.0,409.2 L908.0,404.6 L907.0,390.8 L906.0,390.7 L905.0,387.8 L904.0,386.5 L903.0,391.7 L902.0,390.5 L901.0,385.7 L900.0,383.9 L899.0,387.5 L898.0,382.5 L897.0,383.1 L896.0,380.9 L895.0,386.0 L894.0,379.8 L893.0,377.8 L892.0,373.1 L891.0,374.8 L890.0,370.2 L889.0,371.0 L888.0,372.8 L887.0,370.5 L886.0,373.8 L885.0,371.3 L884.0,377.3 L883.0,372.5 L882.0,379.1 L881.0,376.3 L880.0,374.5 L879.0,379.1 L878.0,374.6 L877.0,373.5 L876.0,372.8 L875.0,372.2 L874.0,376.5 L873.0,374.1 L872.0,374.7 L871.0,370.9 L870.0,370.7 L869.0,377.0 L868.0,373.0 L867.0,377.6 L866.0,374.7 L865.0,371.1 L864.0,377.8 L863.0,372.4 L862.0,373.5 L861.0,371.7 L860.0,378.0 L859.0,373.4 L858.0,371.7 L857.0,372.4 L856.0,372.2 L855.0,376.6 L854.0,373.9 L853.0,373.7 L852.0,371.7 L851.0,379.6 L850.0,375.5 L849.0,386.9 L848.0,383.0 L847.0,380.9 L846.0,375.7 L845.0,371.4 L844.0,373.0 L843.0,374.1 L842.0,369.5 L841.0,364.9 L840.0,365.7 L839.0,365.0 L838.0,365.0 L837.0,365.2 L836.0,365.5 L835.0,361.7 L834.0,351.6 L833.0,354.2 L832.0,338.7 L831.0,345.2 L830.0,344.2 L829.0,342.3 L828.0,347.5 L827.0,343.5 L826.0,351.6 L825.0,343.3 L824.0,353.6 L823.0,349.9 L822.0,351.3 L821.0,358.4 L820.0,353.6 L819.0,356.9 L818.0,369.2 L817.0,371.1 L816.0,360.4 L815.0,359.2 L814.0,343.4 L813.0,337.4 L812.0,336.5 L811.0,321.4 L810.0,322.1 L809.0,314.6 L808.0,311.6 L807.0,315.6 L806.0,318.4 L805.0,313.7 L804.0,312.6 L803.0,312.3 L802.0,312.5 L801.0,311.4 L800.0,313.5 L799.0,319.7 L798.0,314.1 L797.0,319.2 L796.0,319.4 L795.0,314.7 L794.0,315.8 L793.0,318.8 L792.0,321.1 L791.0,320.7 L790.0,318.9 L789.0,317.8 L788.0,317.0 L787.0,324.7 L786.0,322.3 L785.0,317.1 L784.0,318.1 L783.0,315.8 L782.0,311.1 L781.0,310.2 L780.0,309.7 L779.0,309.9 L778.0,314.8 L777.0,310.7 L776.0,312.3 L775.0,314.1 L774.0,311.3 L773.0,314.2 L772.0,315.6 L771.0,317.3 L770.0,322.1 L769.0,317.4 L768.0,310.5 L767.0,306.1 L766.0,302.4 L765.0,297.1 L764.0,298.6 L763.0,304.3 L762.0,297.7 L761.0,294.2 L760.0,290.6 L759.0,291.2 L758.0,299.9 L757.0,294.6 L756.0,296.2 L755.0,297.5 L754.0,294.0 L753.0,296.9 L752.0,297.5 L751.0,295.2 L750.0,302.6 L749.0,295.9 L748.0,304.6 L747.0,298.1 L746.0,304.0 L745.0,304.6 L744.0,305.4 L743.0,301.8 L742.0,312.8 L741.0,314.7 L740.0,314.2 L739.0,309.1 L738.0,311.6 L737.0,299.2 L736.0,292.6 L735.0,287.8 L734.0,285.9 L733.0,292.0 L732.0,284.4 L731.0,282.5 L730.0,280.3 L729.0,274.2 L728.0,278.6 L727.0,276.5 L726.0,283.2 L725.0,278.8 L724.0,270.4 L723.0,269.2 L722.0,266.9 L721.0,266.7 L720.0,272.9 L719.0,274.3 L718.0,272.4 L717.0,268.1 L716.0,275.6 L715.0,267.0 L714.0,275.2 L713.0,268.1 L712.0,269.8 L711.0,266.3 L710.0,274.5 L709.0,266.1 L708.0,267.1 L707.0,266.9 L706.0,273.2 L705.0,266.2 L704.0,268.7 L703.0,275.0 L702.0,266.1 L701.0,267.1 L700.0,266.9 L699.0,267.6 L698.0,269.0 L697.0,267.1 L696.0,270.1 L695.0,272.3 L694.0,280.1 L693.0,274.0 L692.0,270.8 L691.0,270.8 L690.0,269.9 L689.0,267.7 L688.0,280.4 L687.0,273.6 L686.0,274.6 L685.0,271.1 L684.0,282.8 L683.0,272.0 L682.0,280.0 L681.0,285.3 L680.0,281.9 L679.0,273.4 L678.0,276.2 L677.0,282.7 L676.0,274.5 L675.0,266.1 L674.0,279.1 L673.0,263.4 L672.0,264.4 L671.0,266.8 L670.0,269.9 L669.0,286.7 L668.0,279.5 L667.0,282.2 L666.0,263.4 L665.0,247.3 L664.0,242.1 L663.0,243.3 L662.0,228.4 L661.0,223.5 L660.0,241.0 L659.0,231.2 L658.0,224.5 L657.0,226.5 L656.0,227.6 L655.0,237.0 L654.0,239.7 L653.0,239.5 L652.0,243.7 L651.0,246.5 L650.0,231.8 L649.0,249.9 L648.0,241.0 L647.0,234.6 L646.0,241.6 L645.0,244.7 L644.0,248.0 L643.0,233.0 L642.0,238.4 L641.0,240.3 L640.0,234.4 L639.0,234.4 L638.0,219.8 L637.0,224.6 L636.0,221.9 L635.0,219.6 L634.0,223.7 L633.0,219.6 L632.0,212.7 L631.0,208.6 L630.0,206.7 L629.0,214.0 L628.0,210.0 L627.0,213.2 L626.0,207.0 L625.0,193.0 L624.0,185.8 L623.0,191.5 L622.0,187.1 L621.0,186.3 L620.0,188.5 L619.0,191.9 L618.0,184.6 L617.0,186.7 L616.0,188.1 L615.0,182.8 L614.0,183.8 L613.0,191.0 L612.0,183.4 L611.0,183.7 L610.0,186.2 L609.0,186.5 L608.0,184.0 L607.0,184.8 L606.0,185.9 L605.0,193.6 L604.0,186.9 L603.0,188.6 L602.0,193.4 L601.0,189.0 L600.0,188.2 L599.0,190.1 L598.0,187.9 L597.0,189.6 L596.0,190.8 L595.0,194.3 L594.0,188.3 L593.0,188.9 L592.0,192.0 L591.0,191.5 L590.0,190.0 L589.0,189.2 L588.0,189.2 L587.0,190.2 L586.0,193.5 L585.0,193.6 L584.0,196.5 L583.0,196.5 L582.0,193.3 L581.0,194.5 L580.0,191.5 L579.0,189.6 L578.0,188.3 L577.0,189.9 L576.0,188.8 L575.0,187.6 L574.0,193.6 L573.0,193.5 L572.0,195.3 L571.0,197.6 L570.0,200.1 L569.0,201.4 L568.0,194.8 L567.0,201.7 L566.0,197.4 L565.0,201.5 L564.0,202.5 L563.0,197.1 L562.0,205.1 L561.0,202.6 L560.0,212.0 L559.0,215.5 L558.0,220.6 L557.0,218.6 L556.0,217.6 L555.0,217.3 L554.0,226.7 L553.0,216.2 L552.0,208.5 L551.0,204.5 L550.0,200.5 L549.0,206.9 L548.0,195.2 L547.0,202.0 L546.0,194.0 L545.0,194.2 L544.0,188.7 L543.0,186.5 L542.0,187.5 L541.0,180.3 L540.0,179.2 L539.0,190.6 L538.0,179.0 L537.0,192.1 L536.0,184.8 L535.0,183.0 L534.0,191.8 L533.0,195.7 L532.0,183.5 L531.0,188.7 L530.0,182.7 L529.0,182.7 L528.0,187.5 L527.0,187.7 L526.0,194.4 L525.0,191.0 L524.0,188.2 L523.0,189.3 L522.0,192.4 L521.0,195.3 L520.0,193.4 L519.0,190.2 L518.0,201.1 L517.0,199.5 L516.0,202.8 L515.0,187.8 L514.0,190.4 L513.0,194.2 L512.0,191.3 L511.0,185.8 L510.0,184.3 L509.0,185.3 L508.0,187.0 L507.0,184.5 L506.0,179.0 L505.0,173.0 L504.0,173.7 L503.0,171.7 L502.0,170.9 L501.0,175.5 L500.0,173.4 L499.0,173.8 L498.0,169.6 L497.0,170.2 L496.0,173.3 L495.0,170.8 L494.0,173.7 L493.0,173.1 L492.0,172.0 L491.0,172.0 L490.0,172.7 L489.0,174.2 L488.0,173.5 L487.0,176.7 L486.0,177.1 L485.0,175.2 L484.0,177.4 L483.0,176.9 L482.0,177.1 L481.0,177.4 L480.0,181.7 L479.0,179.1 L478.0,180.5 L477.0,180.6 L476.0,180.7 L475.0,179.0 L474.0,180.0 L473.0,180.5 L472.0,185.3 L471.0,180.4 L470.0,185.4 L469.0,183.1 L468.0,181.5 L467.0,184.7 L466.0,182.0 L465.0,183.0 L464.0,182.9 L463.0,183.5 L462.0,185.3 L461.0,184.1 L460.0,187.4 L459.0,185.0 L458.0,191.6 L457.0,190.9 L456.0,187.0 L455.0,187.1 L454.0,192.0 L453.0,191.7 L452.0,188.1 L451.0,190.0 L450.0,195.1 L449.0,189.3 L448.0,189.8 L447.0,192.1 L446.0,191.7 L445.0,194.1 L444.0,196.2 L443.0,196.8 L442.0,195.2 L441.0,196.6 L440.0,193.7 L439.0,200.8 L438.0,199.9 L437.0,195.7 L436.0,198.3 L435.0,199.8 L434.0,201.1 L433.0,199.6 L432.0,198.9 L431.0,202.8 L430.0,198.4 L429.0,204.3 L428.0,199.0 L427.0,199.3 L426.0,206.2 L425.0,204.1 L424.0,200.4 L423.0,200.8 L422.0,203.6 L421.0,201.5 L420.0,206.2 L419.0,207.4 L418.0,207.6 L417.0,204.0 L416.0,207.8 L415.0,210.4 L414.0,209.4 L413.0,205.1 L412.0,205.5 L411.0,210.1 L410.0,206.5 L409.0,206.9 L408.0,212.6 L407.0,208.0 L406.0,209.1 L405.0,214.1 L404.0,209.0 L403.0,214.0 L402.0,213.7 L401.0,211.1 L400.0,210.8 L399.0,209.3 L398.0,214.0 L397.0,211.8 L396.0,210.9 L395.0,215.2 L394.0,210.1 L393.0,212.6 L392.0,212.5 L391.0,217.1 L390.0,211.7 L389.0,211.3 L388.0,211.0 L387.0,211.2 L386.0,211.5 L385.0,211.7 L384.0,213.3 L383.0,218.4 L382.0,219.1 L381.0,214.0 L380.0,216.0 L379.0,218.2 L378.0,217.9 L377.0,218.6 L376.0,215.5 L375.0,215.8 L374.0,220.4 L373.0,216.9 L372.0,217.9 L371.0,221.7 L370.0,222.6 L369.0,219.2 L368.0,219.9 L367.0,223.6 L366.0,226.4 L365.0,223.3 L364.0,228.5 L363.0,223.3 L362.0,225.7 L361.0,225.3 L360.0,228.6 L359.0,229.7 L358.0,226.3 L357.0,229.7 L356.0,234.3 L355.0,228.7 L354.0,230.9 L353.0,231.2 L352.0,235.4 L351.0,229.9 L350.0,229.4 L349.0,231.2 L348.0,231.4 L347.0,230.4 L346.0,231.7 L345.0,233.5 L344.0,232.4 L343.0,235.1 L342.0,234.1 L341.0,236.4 L340.0,237.1 L339.0,236.0 L338.0,238.3 L337.0,237.6 L336.0,238.4 L335.0,242.7 L334.0,244.2 L333.0,240.8 L332.0,241.8 L331.0,244.5 L330.0,248.0 L329.0,244.0 L328.0,245.8 L327.0,245.5 L326.0,245.4 L325.0,246.4 L324.0,250.9 L323.0,250.4 L322.0,248.6 L321.0,249.0 L320.0,254.4 L319.0,253.0 L318.0,250.4 L317.0,255.2 L316.0,252.4 L315.0,255.1 L314.0,254.0 L313.0,256.7 L312.0,254.3 L311.0,251.8 L310.0,252.5 L309.0,256.0 L308.0,255.0 L307.0,256.5 L306.0,260.5 L305.0,257.9 L304.0,264.0 L303.0,258.5 L302.0,265.8 L301.0,264.1 L300.0,266.1 L299.0,264.8 L298.0,267.8 L297.0,277.0 L296.0,274.4 L295.0,275.1 L294.0,277.0 L293.0,284.2 L292.0,280.1 L291.0,281.7 L290.0,283.7 L289.0,287.9 L288.0,291.3 L287.0,291.6 L286.0,297.9 L285.0,294.3 L284.0,297.9 L283.0,297.3 L282.0,303.0 L281.0,300.8 L280.0,301.3 L279.0,305.5 L278.0,304.9 L277.0,308.6 L276.0,310.2 L275.0,311.2 L274.0,307.5 L273.0,309.0 L272.0,309.3 L271.0,314.4 L270.0,309.3 L269.0,309.1 L268.0,313.6 L267.0,309.2 L266.0,311.6 L265.0,318.3 L264.0,315.1 L263.0,316.0 L262.0,319.2 L261.0,319.1 L260.0,318.4 L259.0,319.7 L258.0,320.7 L257.0,325.8 L256.0,323.5 L255.0,322.6 L254.0,326.2 L253.0,324.1 L252.0,324.0 L251.0,322.9 L250.0,323.0 L249.0,324.2 L248.0,326.8 L247.0,324.3 L246.0,326.4 L245.0,324.6 L244.0,326.0 L243.0,327.0 L242.0,325.8 L241.0,328.4 L240.0,328.3 L239.0,328.5 L238.0,328.0 L237.0,326.4 L236.0,329.4Z" fill="#f9cdb4" fill-opacity="0.62"/>
</g>
<polyline points="236.8,323.1 238.1,322.8 238.4,322.7 239.4,322.4 240.7,322.1 242.0,321.7 243.3,321.4 244.6,321.1 245.9,320.7 247.2,320.4 247.8,320.2 248.5,319.9 249.8,319.5 251.1,319.0 252.4,318.5 253.7,318.1 255.0,317.6 256.3,317.1 257.6,316.7 257.8,316.6 258.9,315.7 260.2,314.5 261.5,313.4 262.8,312.3 264.1,311.2 264.8,310.6 265.4,309.2 266.7,306.2 267.2,305.0 268.0,304.9 269.3,304.7 270.6,304.5 271.9,304.3 273.1,304.1 273.2,304.0 274.5,302.7 275.8,301.4 277.1,300.1 278.4,298.8 279.7,297.5 281.0,296.2 281.6,295.6 282.3,294.4 283.6,292.1 284.9,289.9 286.2,287.6 287.5,285.4 288.4,283.8 288.8,282.7 290.1,279.0 290.8,277.0 291.4,276.0 292.7,273.8 294.0,271.6 295.3,269.4 296.6,267.2 296.8,266.9 297.9,263.6 299.2,259.6 300.2,256.6 300.5,256.3 301.8,255.0 303.1,253.8 303.6,253.3 304.4,252.6 305.7,251.5 307.0,250.3 308.3,249.2 309.6,248.1 310.4,247.4 310.9,247.2 312.2,246.7 313.5,246.1 314.8,245.6 316.1,245.1 317.4,244.6 318.7,244.0 318.8,244.0 320.0,243.5 321.3,242.9 322.6,242.3 323.9,241.8 325.2,241.2 326.5,240.6 327.8,240.0 328.8,239.6 329.1,239.4 330.4,238.3 331.7,237.3 333.0,236.2 334.3,235.2 335.6,234.1 336.9,233.1 338.2,232.0 339.1,231.3 339.5,231.0 340.8,230.0 342.1,228.9 343.4,227.9 344.7,226.9 346.0,225.9 347.3,224.8 347.6,224.6 348.6,224.4 349.9,224.1 351.2,223.9 352.5,223.6 353.8,223.4 355.1,223.1 356.1,222.9 356.4,222.7 357.7,221.9 359.0,221.0 360.3,220.2 361.6,219.3 362.9,218.5 364.2,217.6 365.5,216.8 365.8,216.6 366.8,216.0 368.1,215.2 369.4,214.3 370.7,213.5 372.0,212.7 373.3,211.9 374.6,211.1 374.7,211.0 375.9,210.5 377.2,210.0 378.5,209.5 379.8,209.0 381.1,208.4 382.4,207.9 383.2,207.6 383.7,207.5 385.0,207.2 386.3,206.8 387.6,206.5 388.9,206.2 390.2,205.9 391.5,205.5 392.8,205.2 393.3,205.1 394.1,205.0 395.4,204.9 396.7,204.8 398.0,204.7 399.3,204.6 400.6,204.5 401.9,204.4 403.2,204.4 404.5,204.3 405.2,204.2 405.8,203.9 407.1,203.3 408.4,202.7 409.7,202.1 411.0,201.5 412.3,200.8 412.8,200.6 413.6,200.2 414.9,199.6 416.2,199.0 417.5,198.5 418.8,197.9 419.6,197.5 420.1,197.3 421.4,196.9 422.7,196.4 424.0,195.9 425.3,195.5 426.6,195.0 427.9,194.6 429.2,194.1 430.5,193.6 431.8,193.2 433.1,192.7 434.0,192.4 434.4,192.2 435.7,191.5 437.0,190.9 438.3,190.2 439.6,189.6 440.9,188.9 442.2,188.3 443.5,187.6 444.8,187.0 445.8,186.5 446.1,186.4 447.4,185.8 448.7,185.3 450.0,184.7 451.3,184.1 452.6,183.6 453.9,183.0 455.2,182.5 456.5,181.9 457.7,181.4 457.8,181.4 459.1,180.8 460.4,180.3 461.7,179.7 463.0,179.2 464.3,178.7 465.6,178.1 466.9,177.6 467.8,177.2 468.2,177.1 469.5,176.7 470.8,176.3 472.1,175.8 473.4,175.4 474.7,175.0 476.0,174.6 477.3,174.2 478.6,173.8 479.9,173.4 481.2,173.0 481.4,172.9 482.5,172.3 483.8,171.7 485.1,171.0 486.4,170.4 487.7,169.7 489.0,169.1 490.3,168.4 491.6,167.8 492.9,167.1 493.2,167.0 494.2,166.7 495.5,166.4 496.8,166.0 498.1,165.7 499.4,165.6 500.0,168.3 500.7,165.8 502.0,166.1 503.3,168.7 504.6,166.6 505.0,167.6 505.9,172.0 507.2,185.5 507.6,183.1 508.5,177.7 509.8,173.5 510.2,172.5 511.1,178.4 512.4,187.0 512.7,188.4 513.7,184.4 515.0,178.5 515.2,184.5 516.1,193.5 516.3,190.1 517.6,183.7 518.6,180.8 518.9,181.0 520.2,186.4 521.5,181.4 522.0,185.2 522.8,182.9 524.1,177.8 525.4,175.3 525.4,174.4 526.7,179.2 528.0,173.6 529.3,172.9 530.6,173.7 531.9,174.2 532.2,173.4 533.2,172.4 534.5,170.8 535.8,169.4 537.1,173.8 538.0,168.6 538.4,168.1 539.7,173.5 541.0,171.5 542.3,171.4 543.6,173.8 544.9,173.4 546.0,175.3 546.2,176.2 547.5,181.3 548.8,189.9 550.1,194.7 551.4,197.1 552.0,205.4 552.7,202.3 554.0,210.4 554.2,209.3 555.3,213.2 556.6,209.7 557.9,212.3 558.4,212.2 559.2,206.1 560.1,199.0 560.5,197.3 561.8,192.0 563.1,189.9 563.5,187.0 564.4,187.8 565.7,187.0 567.0,187.2 567.7,188.0 568.3,189.9 569.6,193.7 570.3,198.6 570.9,193.9 572.2,186.5 572.8,185.4 573.5,186.4 574.8,183.0 576.1,181.9 576.2,182.2 577.4,182.9 578.7,186.5 580.0,187.5 581.3,189.6 582.6,187.1 583.9,191.2 585.2,186.3 586.5,188.5 587.8,185.7 588.0,186.2 589.1,184.7 590.4,189.1 591.7,184.7 593.0,184.9 594.3,183.8 594.8,183.5 595.6,183.4 596.9,183.0 598.2,184.7 599.5,185.9 600.8,183.1 601.6,184.2 602.1,183.1 603.4,186.2 604.7,182.2 606.0,180.9 607.3,179.5 608.3,181.1 608.6,180.8 609.9,179.1 611.2,178.1 612.5,179.9 613.8,179.8 615.1,176.6 615.1,176.8 616.4,177.9 617.7,180.0 619.0,180.3 620.2,183.0 620.3,179.8 621.6,180.4 622.9,181.4 624.2,180.2 624.4,179.2 625.5,188.8 626.1,195.4 626.8,202.2 627.0,206.2 628.1,201.2 628.7,199.0 629.4,197.7 630.7,198.2 632.0,200.0 633.3,201.7 633.7,201.5 634.6,206.5 635.4,210.3 635.9,209.2 637.2,209.7 638.5,214.0 638.8,210.1 639.8,217.4 640.5,218.8 641.1,223.9 642.4,223.9 643.7,223.7 645.0,227.1 645.0,226.9 646.3,224.5 647.6,228.0 648.9,221.7 650.2,220.6 651.5,220.5 652.8,217.3 654.1,217.9 655.0,214.4 655.4,214.8 656.7,213.9 658.0,212.9 659.3,210.8 660.6,210.5 661.9,210.6 662.5,211.1 663.2,216.1 664.5,229.3 665.1,235.9 665.8,245.8 666.8,258.9 667.1,257.8 668.4,261.9 669.3,261.5 669.7,262.6 671.0,256.3 672.3,252.0 672.7,250.8 673.6,255.4 674.9,255.7 676.1,258.7 676.2,259.3 676.9,271.0 677.5,273.4 678.8,262.1 679.4,259.2 680.1,262.8 681.4,262.9 682.0,264.5 682.7,263.5 684.0,260.2 685.3,257.3 686.2,256.5 686.6,256.4 687.9,257.9 689.2,258.9 690.5,259.7 691.3,260.9 691.8,261.5 693.1,262.9 693.8,264.6 694.4,264.4 695.7,263.9 697.0,259.1 697.2,259.5 698.3,259.3 699.6,258.3 700.9,258.5 702.2,258.4 703.5,258.2 704.8,257.3 706.1,258.9 707.4,258.2 708.7,258.4 710.0,257.7 710.0,260.4 711.3,258.8 712.6,258.8 713.9,258.8 715.2,257.9 716.5,258.0 717.8,260.0 719.1,259.1 720.4,258.6 721.7,261.5 722.0,259.5 723.0,261.8 724.3,264.1 725.4,265.8 725.6,265.3 726.9,262.7 727.9,262.8 728.2,262.1 729.5,269.2 730.8,274.0 731.3,276.1 732.1,281.9 733.4,280.5 734.7,280.4 734.7,280.6 736.0,289.7 737.3,291.7 738.1,296.5 738.6,298.3 739.8,308.8 739.9,305.5 741.2,300.9 742.5,296.6 743.2,294.6 743.8,293.8 745.1,294.0 746.4,292.0 747.7,290.7 749.0,290.0 749.1,288.6 750.3,291.4 751.6,289.7 752.9,287.8 754.2,289.0 755.5,287.0 755.9,286.6 756.8,285.9 758.1,286.1 759.4,285.6 760.7,286.4 760.9,286.6 762.0,287.6 763.3,293.8 763.5,293.5 764.6,290.2 765.2,288.7 765.9,292.8 767.2,302.2 767.7,303.3 768.5,304.6 769.8,308.9 771.1,311.0 771.1,310.1 772.4,307.8 773.7,306.4 775.0,304.2 775.3,303.1 776.3,307.4 777.6,303.2 778.9,302.3 779.6,303.3 780.2,303.6 781.5,305.7 782.8,310.4 784.1,308.5 784.6,309.9 785.4,309.0 786.7,309.9 788.0,311.5 789.3,311.9 789.7,313.2 790.6,312.3 791.9,314.0 793.2,308.2 794.5,306.6 794.8,306.9 795.8,306.3 797.1,309.0 798.2,310.3 798.4,309.1 799.7,307.8 801.0,309.6 801.6,304.2 802.3,304.6 803.6,304.8 804.9,304.2 806.2,305.0 807.5,306.0 808.3,304.7 808.8,306.3 810.1,312.7 811.4,315.1 811.7,317.9 812.7,322.8 814.0,329.8 814.3,332.5 815.3,345.8 816.0,352.2 816.6,361.0 817.1,364.7 817.9,358.3 819.2,345.8 819.3,346.4 820.5,343.6 821.8,340.5 822.7,338.8 823.1,338.1 824.4,338.7 825.7,335.8 827.0,335.5 827.0,334.7 828.3,337.0 829.6,340.9 830.4,338.9 830.9,335.9 832.0,331.7 832.2,337.3 833.5,341.5 834.6,348.7 834.8,349.5 836.1,355.0 837.1,360.0 837.4,359.8 838.7,358.1 840.0,358.0 840.5,356.5 841.3,358.7 842.6,365.2 843.9,365.7 843.9,366.1 845.2,362.0 845.6,363.4 846.5,366.9 847.8,374.4 848.1,376.2 849.1,370.2 849.8,366.1 850.4,364.6 851.7,366.0 853.0,361.0 853.2,362.1 854.3,364.7 855.6,366.9 855.7,369.5 856.9,367.6 858.2,368.8 859.5,366.2 860.8,366.8 862.1,365.6 863.0,368.2 863.4,365.7 864.7,365.9 866.0,366.6 867.3,365.7 868.6,366.0 869.9,366.0 871.0,365.7 871.2,367.7 872.5,366.0 873.8,366.8 874.4,367.7 875.1,368.3 876.4,368.5 877.7,370.0 879.0,370.6 879.4,371.8 880.3,370.8 881.6,371.0 882.9,369.2 884.2,367.4 885.5,367.6 886.2,367.2 886.8,366.5 888.1,366.9 889.4,366.4 890.7,365.8 891.3,366.1 892.0,370.1 893.0,372.9 893.3,373.2 894.6,376.8 895.9,377.4 897.2,376.2 898.0,377.1 898.5,377.3 899.8,379.0 901.1,377.5 902.4,378.3 903.1,378.4 903.7,381.7 905.0,381.6 906.3,382.3 907.4,382.9 907.6,386.3 908.2,396.2 908.9,393.8 909.9,389.2 910.2,390.8 911.5,398.5 911.6,399.0 912.8,393.1 914.1,388.0 914.2,388.2 915.4,386.3 916.7,386.4 918.0,386.4 919.2,385.8 919.3,386.0 920.6,393.4 920.9,394.6 921.9,395.1 923.2,396.4 924.3,396.6 924.5,397.5 925.8,398.5 927.1,395.6 927.7,394.6 928.4,393.6 929.7,394.8 931.0,392.5 932.3,393.1 933.6,390.8 933.6,390.6 934.9,389.8 936.2,391.5 937.5,388.9 938.8,389.6 940.1,386.9 940.4,386.3 941.4,386.8 942.7,389.8 944.0,386.9 945.3,385.0 945.5,385.3 946.6,385.3 947.9,386.2 949.2,387.4 950.5,386.6 950.6,387.1 951.8,386.5 953.1,386.4 954.4,386.8 955.7,386.6 957.0,386.2 958.3,386.1 959.6,385.9 960.9,386.2 962.2,385.9 963.5,385.7 964.1,385.8 964.8,385.7 966.1,385.5 967.4,385.5 968.7,386.3 970.0,385.4 971.3,385.1 972.6,385.1 973.9,384.9 975.2,384.8 976.5,384.5 977.6,384.4 977.8,385.5 979.1,384.7 980.4,384.9 981.7,384.6 983.0,384.5 984.3,384.5 985.6,384.5 986.9,384.6 987.8,384.5 988.2,384.6 989.5,384.3 990.8,384.2 992.1,384.7 993.4,383.8 994.7,384.0 996.0,383.9 997.3,383.6 998.6,383.7 999.9,383.1 1001.2,383.4 1002.5,382.8 1003.8,382.8 1005.1,382.4 1006.4,382.8 1007.4,382.5 1007.7,382.3 1009.0,381.8 1010.3,381.5 1011.6,381.1 1012.9,380.9 1014.2,380.4 1015.5,380.1 1016.8,379.7 1017.6,380.7 1018.1,379.8 1019.4,379.0 1020.7,378.5 1022.0,378.4 1023.3,377.5 1024.6,377.0 1025.9,376.4 1027.2,375.9 1028.5,375.3 1028.6,376.3 1029.8,376.4 1031.1,377.4 1032.4,378.6 1032.8,378.8 1033.1,393.7 1033.7,390.0 1035.0,384.6 1035.3,383.4 1036.3,383.3 1037.6,383.0 1038.9,384.0 1040.2,382.9 1041.5,382.9 1042.8,382.5 1044.1,382.7 1044.6,383.5 1045.4,382.5 1046.7,382.9 1048.0,382.3 1049.3,382.4 1050.6,382.5 1051.9,382.3 1053.2,382.7 1054.5,382.3 1055.8,382.9 1057.1,382.2 1057.3,382.9 1058.4,382.0 1059.7,381.8 1061.0,381.4 1062.3,381.0 1063.6,380.9 1064.9,380.6 1066.2,380.1 1067.0,380.1 1067.5,379.9 1068.8,379.7 1070.1,379.2 1071.4,379.0 1072.7,378.7 1074.0,378.1 1075.3,378.2 1076.6,377.6 1076.8,377.8 1077.9,378.7 1079.2,380.1 1080.5,381.3 1081.0,381.7 1081.8,381.7 1083.1,381.7 1084.4,382.0 1085.7,381.6 1087.0,381.7 1087.0,381.5 1088.3,381.4 1089.6,381.0 1090.9,379.9 1092.2,379.5 1093.5,379.0 1094.8,378.6 1095.4,378.4 1096.1,378.5 1097.4,378.3 1098.7,378.1 1100.0,378.1 1101.3,378.4 1102.6,378.1 1103.9,378.2 1105.2,378.0 1106.5,378.1 1107.8,378.4 1108.0,378.0 1108.6,399.2 1109.1,397.4 1110.4,392.6 1111.5,388.5 1111.7,388.5 1113.0,389.3 1114.3,390.3 1115.6,391.0 1116.6,391.6 1116.9,391.6 1118.2,390.7 1119.5,389.2 1120.8,388.3 1122.1,387.2 1122.5,386.7 1123.4,387.2 1124.7,386.3 1126.0,386.0 1127.3,385.8 1128.6,386.1 1129.9,385.7 1131.0,385.1 1131.2,385.1 1132.5,384.8 1133.8,384.7 1135.1,384.4 1136.4,384.3 1137.7,384.1 1139.0,384.6 1140.3,383.9 1141.6,383.4 1142.9,383.5 1144.2,383.0 1145.5,382.9 1146.8,382.9 1148.1,382.7 1149.4,382.4 1149.6,382.8 1150.7,382.5 1152.0,381.9 1153.3,381.7 1154.6,381.5 1155.9,381.3 1157.2,380.8 1158.1,380.7 1158.5,380.4 1159.8,379.9 1161.1,379.2 1162.4,378.5 1163.7,378.0 1165.0,377.6 1166.3,376.5 1166.5,376.6 1167.6,376.4 1168.9,376.5 1170.2,376.0 1171.5,375.8 1172.8,375.8 1173.3,376.1 1174.1,376.2 1175.4,376.5 1176.7,376.3 1178.0,376.9 1178.4,376.8 1179.3,378.3 1180.1,379.9 1180.6,380.6 1181.9,382.6 1183.2,384.5 1183.5,385.0 1184.5,384.3 1185.8,383.0 1187.1,382.1 1187.7,381.7 1188.4,381.7 1189.7,381.2 1191.0,380.8 1192.3,380.6 1193.6,380.3 1194.9,380.2 1196.2,379.6 1197.0,379.5 1197.5,380.1 1198.8,379.7 1200.1,379.6 1201.4,380.1 1202.7,379.8 1204.0,380.6 1205.3,380.1 1206.6,379.9 1207.2,380.0 1207.9,380.4 1209.2,380.2 1210.5,380.3 1211.8,380.4 1213.1,380.8 1213.9,380.6 1214.4,381.1 1215.7,381.7 1217.0,382.2 1218.3,383.0 1219.0,383.4 1219.6,386.4 1220.9,392.2 1222.2,397.8 1222.4,398.6 1223.5,403.8 1224.8,410.1 1225.8,413.8 1226.1,414.6 1227.4,418.5 1228.7,422.7 1229.2,423.9 1230.0,425.3 1231.3,427.8 1232.6,430.2 1232.6,430.4 1233.9,427.3 1235.2,424.5 1236.5,421.3 1236.8,420.6 1237.8,419.3 1239.1,417.9 1240.4,416.3 1241.0,415.6 1241.7,415.7 1243.0,416.5 1244.3,416.7 1244.3,416.8 1245.6,415.6 1246.9,413.8 1247.8,413.0 1248.2,412.5 1249.5,412.3 1250.8,411.2 1252.1,410.5 1253.4,409.6 1254.6,409.8 1254.7,408.8 1256.0,408.2 1257.3,407.9 1258.6,407.6 1259.9,406.9 1260.0,407.0 1261.2,405.2 1262.0,404.4 1262.5,403.8 1263.8,403.5 1265.1,402.9 1266.4,402.1 1267.7,401.3 1269.0,400.5 1270.3,400.2 1271.6,399.2 1272.2,398.9 1272.9,399.0 1274.2,399.0 1275.5,398.7 1276.8,398.5 1278.1,398.4 1279.4,398.7 1280.7,398.2 1282.0,398.3 1282.3,398.2 1283.3,397.9 1284.6,397.7 1285.9,397.3 1287.2,397.2 1288.5,396.7 1289.8,397.4 1291.1,396.1 1292.4,395.7 1292.5,395.5 1293.7,393.4 1295.0,391.4 1296.3,389.1 1297.6,386.7 1297.6,386.8 1298.9,386.7 1300.2,387.2 1301.5,386.3 1302.8,386.7 1304.1,385.8 1304.3,386.6 1305.4,385.3 1306.7,384.4 1308.0,384.0 1309.3,383.0 1310.6,383.4 1311.0,382.4 1311.9,381.9 1313.2,382.6 1314.5,381.5 1315.8,381.5 1317.1,381.6 1318.4,380.9 1319.7,380.3 1321.0,380.2 1321.0,380.3 1322.3,379.6 1323.6,379.6 1324.9,379.0 1326.2,378.4 1327.5,378.1 1328.0,377.9 1328.8,377.5 1330.1,377.8 1331.4,377.8 1332.7,378.6 1334.0,377.7 1334.8,378.2 1335.3,378.6 1336.6,379.2 1337.9,380.8 1339.2,382.2 1340.0,381.1 1340.5,381.3 1341.8,381.4 1343.1,381.2 1344.4,380.4 1345.0,381.2 1345.7,380.0 1347.0,380.2 1348.3,379.9 1349.6,379.1 1350.0,378.9 1350.9,377.3 1352.0,376.2 1352.2,375.3 1353.5,375.4 1354.8,374.9 1356.1,375.8 1357.4,377.2 1358.5,375.6 1358.7,375.2 1360.0,377.3 1361.3,376.0 1362.6,376.2 1363.9,376.9 1365.2,376.9 1365.3,376.9 1366.5,377.6 1367.8,377.6 1369.1,379.6 1369.5,378.1 1370.4,377.0 1371.7,375.2 1373.0,374.1 1373.7,375.6 1374.3,373.1 1375.6,373.3 1376.9,373.8 1378.2,372.8 1379.5,372.3 1380.0,373.9 1380.8,372.0 1382.1,371.1 1383.4,371.0 1383.9,371.2 1384.7,370.5 1386.0,367.6 1387.3,366.4 1388.1,364.4 1388.6,366.5 1389.9,365.6 1391.2,368.4 1392.5,367.8 1393.8,368.2 1394.0,368.5 1395.1,369.5 1396.4,370.4 1397.7,371.8 1399.0,372.7 1399.1,372.7 1400.3,373.0 1401.6,373.1 1402.9,373.4 1404.2,374.0 1405.5,373.8 1406.8,373.0 1408.1,373.2 1409.3,373.8 1409.4,373.6 1410.7,373.9 1412.0,373.7 1413.3,374.8 1414.4,374.3 1414.6,375.2 1415.9,374.3 1417.2,373.4 1418.5,372.4 1419.8,372.1 1421.1,371.7 1422.0,373.4 1422.4,371.1 1423.7,371.2 1425.0,371.4 1426.2,372.4 1426.3,374.2 1427.6,371.1 1428.9,369.3 1430.2,368.2 1430.5,366.7 1431.5,367.0 1432.8,367.4 1434.1,367.1 1435.4,367.2 1436.7,367.5 1438.0,367.7 1438.1,368.4 1439.3,367.5 1440.6,367.9 1441.9,366.8 1443.2,366.8 1444.5,368.5 1445.8,365.8 1447.1,365.7 1448.4,365.6 1449.7,365.1 1450.0,365.1 1451.0,366.8 1452.3,369.5 1452.5,370.3 1453.6,369.3 1454.9,369.0 1456.2,368.9 1457.5,368.1 1458.8,367.7 1460.1,368.1 1460.1,366.9 1461.4,367.3 1462.7,362.5 1464.0,361.1 1465.2,359.9 1465.3,359.0 1466.6,357.8 1467.9,357.5 1469.2,357.2 1470.5,355.3 1471.8,354.3 1473.1,353.8 1473.6,353.2 1474.4,353.6 1475.7,353.0 1477.0,350.9 1478.3,349.5 1479.6,348.9 1480.4,348.0 1480.9,347.6 1482.2,346.5 1483.5,345.5 1484.8,344.3 1486.1,343.2 1486.3,342.9 1487.4,341.8 1488.7,340.5 1490.0,339.4 1491.3,337.8 1492.6,336.5 1493.9,335.5 1494.0,335.0 1495.2,334.1 1496.5,333.4 1497.8,332.3 1499.1,331.4 1500.4,330.3 1501.7,329.4 1503.0,328.7 1504.1,328.1 1504.3,327.7 1505.6,327.5 1506.9,327.1 1508.2,326.8 1509.5,326.6 1510.8,326.1 1512.1,325.8 1513.4,325.8 1514.3,325.2 1514.7,325.7 1516.0,324.3 1517.3,323.9 1518.6,323.4 1519.9,322.4 1521.2,321.9 1522.5,321.2 1523.8,320.4 1524.4,320.1 1525.1,320.0 1526.4,319.8 1527.7,319.7 1529.0,319.1 1530.3,319.1 1531.6,319.0 1532.9,318.4 1532.9,318.5 1534.2,318.0 1535.5,317.2 1536.8,316.8 1538.1,316.6 1539.4,315.8 1540.0,315.6 1540.7,315.0 1542.0,313.9 1543.3,312.8 1544.6,311.7 1545.9,310.9 1546.7,310.0 1547.2,309.4 1548.5,307.6 1549.8,305.9 1551.1,303.8 1552.4,302.0 1552.6,301.7 1553.7,300.2 1555.0,298.4 1556.0,297.1 1556.3,297.1 1557.6,296.0 1558.9,294.4 1560.2,293.3 1561.5,292.2 1562.8,291.0 1564.1,290.0 1565.0,288.9 1565.4,289.4 1566.7,287.9 1568.0,287.0 1569.3,286.1 1570.6,285.2 1571.9,284.5 1573.2,284.2 1573.7,283.1 1574.5,282.9 1575.8,281.3 1577.1,280.1 1578.4,278.8 1579.7,277.7 1580.5,277.0 1581.0,276.7 1582.3,275.6 1583.6,274.7 1584.9,273.9 1586.2,273.6 1587.3,272.2 1587.5,271.9 1588.8,270.3 1590.1,268.2 1591.4,266.4 1592.7,264.5 1594.0,262.6 1594.0,262.7 1595.3,262.0 1596.6,260.6 1597.9,259.5 1599.1,258.5 1599.2,258.4 1600.5,257.8 1601.8,257.1 1603.1,256.7 1604.4,255.8 1605.7,255.2 1607.0,254.5 1607.6,254.8 1608.3,254.5 1609.6,252.9 1610.9,252.2 1612.2,251.4 1613.5,250.6 1614.8,250.0 1616.1,249.0 1616.1,249.1 1617.4,249.3 1618.7,248.5 1620.0,248.4 1621.3,248.9 1622.6,248.6 1623.9,248.3 1624.5,247.4 1625.2,247.1 1626.5,246.1 1627.8,245.0 1629.1,244.1 1630.4,242.9 1631.3,243.1 1631.7,241.9 1633.0,241.3 1634.3,240.2 1635.6,239.5 1636.4,238.5 1636.9,238.7 1638.2,237.8 1639.5,236.9 1640.8,236.4 1641.5,235.9 1642.1,235.7 1643.0,235.7" fill="none" stroke="#a5511f" stroke-width="2.0" stroke-linejoin="miter" shape-rendering="crispEdges"/>
<circle cx="601.0" cy="153.2" r="2.7" fill="#a5511f"/>
<circle cx="610.6" cy="162.3" r="2.7" fill="#a5511f"/>
<circle cx="618.4" cy="157.4" r="2.7" fill="#a5511f"/>
<circle cx="626.5" cy="205.5" r="2.7" fill="#a5511f"/>
<circle cx="634.3" cy="234.7" r="2.7" fill="#a5511f"/>
<circle cx="674.1" cy="244.2" r="2.7" fill="#a5511f"/>
<circle cx="690.4" cy="247.4" r="2.7" fill="#a5511f"/>
<circle cx="682.6" cy="263.3" r="2.7" fill="#a5511f"/>
<circle cx="666.0" cy="200.0" r="2.7" fill="#a5511f"/>
<polyline points="236.0,321.5 237.6,321.1 247.0,318.6 257.0,315.0 264.0,309.0 266.4,303.4 272.3,302.5 280.8,294.0 287.6,282.2 290.0,275.4 296.0,265.3 299.4,255.0 302.8,251.7 309.6,245.8 318.0,242.4 328.0,238.0 338.3,229.7 346.8,223.0 355.3,221.3 365.0,215.0 373.9,209.4 382.4,206.0 392.5,203.5 404.4,202.6 412.0,199.0 418.8,195.9 433.2,190.8 445.0,184.9 456.9,179.8 467.0,175.6 480.6,171.3 492.4,165.4 499.2,163.7 500.0,163.5 506.8,165.2 516.9,170.3 525.4,173.6 531.3,171.1 538.1,166.0 546.0,163.0 554.2,163.5 560.9,167.7 565.2,174.5 569.4,181.3 574.5,174.5 582.1,171.1 588.0,177.0 596.5,183.0 601.6,182.1 606.7,177.0 611.7,172.8 613.4,170.3 618.5,172.8 623.6,177.9 629.5,176.2 632.0,188.0 634.6,198.2 640.5,203.3 643.9,204.1 653.0,204.0 662.5,202.4 666.7,199.9 669.3,203.3 672.7,211.7 673.5,221.9 677.8,228.7 679.4,240.5 680.3,249.0 683.7,248.1 686.2,250.7 691.3,252.4 697.2,254.1 710.0,254.0 722.0,253.0 725.4,249.6 731.3,250.5 733.9,258.9 735.6,272.5 738.1,263.2 744.0,270.8 746.6,278.4 754.2,280.1 767.7,280.1 774.5,282.6 779.6,289.4 788.0,299.6 794.8,303.0 805.0,303.8 811.7,301.3 815.1,305.5 818.5,313.1 823.6,317.3 830.4,321.6 832.9,331.7 835.4,341.9 839.7,351.2 847.3,354.6 852.4,355.4 855.7,360.5 863.0,362.0 871.0,363.0 876.0,368.1 879.4,369.8 886.2,365.6 891.3,364.7 894.7,369.8 903.1,375.7 909.9,380.8 914.2,385.0 920.0,383.4 930.2,385.0 942.0,384.2 950.6,385.9 964.1,385.0 977.6,383.9 987.8,383.9 1007.4,381.6 1017.6,379.0 1028.6,374.8 1032.8,378.2 1035.3,382.9 1044.6,381.9 1057.3,381.6 1067.0,379.0 1076.8,376.5 1081.9,379.0 1092.0,377.3 1109.0,376.8 1111.5,382.4 1122.5,383.3 1136.1,381.6 1149.6,380.7 1158.1,379.0 1166.5,374.8 1173.3,372.8 1180.1,372.3 1182.1,382.4 1185.2,381.6 1188.5,379.9 1197.0,378.0 1207.2,377.3 1218.2,376.8 1220.7,383.3 1223.2,396.8 1226.6,401.9 1229.2,407.0 1234.2,402.7 1239.3,408.7 1244.3,414.0 1251.6,408.8 1262.0,403.0 1272.2,398.0 1282.3,397.1 1292.5,394.6 1297.6,387.8 1304.3,386.1 1314.5,384.4 1324.6,378.5 1328.0,376.5 1334.8,376.8 1341.6,379.4 1348.3,375.1 1352.6,371.7 1358.5,373.8 1365.3,371.7 1372.0,370.0 1375.4,371.7 1382.2,369.7 1385.6,363.3 1388.1,360.7 1392.4,365.8 1400.8,368.3 1409.3,370.9 1416.1,371.7 1422.8,368.3 1426.2,364.6 1431.3,365.0 1438.1,367.5 1444.8,365.8 1451.6,363.3 1460.1,359.9 1466.8,354.0 1473.6,350.6 1480.4,345.5 1485.5,342.1 1494.0,336.0 1504.1,329.4 1514.3,327.7 1524.4,323.5 1532.9,320.9 1540.0,318.4 1546.7,311.7 1552.6,303.3 1556.0,298.2 1565.0,290.0 1573.7,283.8 1580.5,277.9 1587.3,271.1 1592.4,264.3 1599.1,259.3 1607.6,255.0 1616.1,250.8 1624.5,248.2 1631.3,243.2 1636.4,239.3 1641.5,238.1 1643.0,237.5" fill="none" stroke="#08589e" stroke-width="2.0" stroke-linejoin="miter" shape-rendering="crispEdges"/>
<circle cx="239.3" cy="264.2" r="2.6" fill="#08589e"/><circle cx="239.3" cy="264.2" r="0.7" fill="#9a45b0"/>
<circle cx="247.2" cy="256.3" r="2.6" fill="#08589e"/><circle cx="247.2" cy="256.3" r="0.7" fill="#9a45b0"/>
<circle cx="250.0" cy="259.6" r="2.6" fill="#08589e"/><circle cx="250.0" cy="259.6" r="0.7" fill="#9a45b0"/>
<circle cx="247.2" cy="262.8" r="2.6" fill="#08589e"/><circle cx="247.2" cy="262.8" r="0.7" fill="#9a45b0"/>
<circle cx="253.3" cy="263.3" r="2.6" fill="#08589e"/><circle cx="253.3" cy="263.3" r="0.7" fill="#9a45b0"/>
<circle cx="239.3" cy="270.3" r="2.6" fill="#08589e"/><circle cx="239.3" cy="270.3" r="0.7" fill="#9a45b0"/>
<circle cx="246.3" cy="269.4" r="2.6" fill="#08589e"/><circle cx="246.3" cy="269.4" r="0.7" fill="#9a45b0"/>
<circle cx="253.3" cy="271.2" r="2.6" fill="#08589e"/><circle cx="253.3" cy="271.2" r="0.7" fill="#9a45b0"/>
<circle cx="256.5" cy="275.7" r="2.6" fill="#08589e"/><circle cx="256.5" cy="275.7" r="0.7" fill="#9a45b0"/>
<circle cx="242.1" cy="276.4" r="2.6" fill="#08589e"/><circle cx="242.1" cy="276.4" r="0.7" fill="#9a45b0"/>
<circle cx="237.9" cy="275.7" r="2.6" fill="#08589e"/><circle cx="237.9" cy="275.7" r="0.7" fill="#9a45b0"/>
<circle cx="238.6" cy="282.2" r="2.6" fill="#08589e"/><circle cx="238.6" cy="282.2" r="0.7" fill="#9a45b0"/>
<circle cx="264.5" cy="281.5" r="2.6" fill="#08589e"/><circle cx="264.5" cy="281.5" r="0.7" fill="#9a45b0"/>
<circle cx="280.6" cy="282.2" r="2.6" fill="#08589e"/><circle cx="280.6" cy="282.2" r="0.7" fill="#9a45b0"/>
<circle cx="248.3" cy="288.5" r="2.6" fill="#08589e"/><circle cx="248.3" cy="288.5" r="0.7" fill="#9a45b0"/>
<circle cx="237.5" cy="288.5" r="2.6" fill="#08589e"/><circle cx="237.5" cy="288.5" r="0.7" fill="#9a45b0"/>
<circle cx="240.4" cy="297.3" r="2.6" fill="#08589e"/><circle cx="240.4" cy="297.3" r="0.7" fill="#9a45b0"/>
<circle cx="243.0" cy="266.0" r="2.6" fill="#08589e"/><circle cx="243.0" cy="266.0" r="0.7" fill="#9a45b0"/>
<circle cx="244.5" cy="270.0" r="2.6" fill="#08589e"/><circle cx="244.5" cy="270.0" r="0.7" fill="#9a45b0"/>
<circle cx="241.0" cy="273.0" r="2.6" fill="#08589e"/><circle cx="241.0" cy="273.0" r="0.7" fill="#9a45b0"/>
<circle cx="249.5" cy="266.5" r="2.6" fill="#08589e"/><circle cx="249.5" cy="266.5" r="0.7" fill="#9a45b0"/>
<circle cx="251.0" cy="268.0" r="2.6" fill="#08589e"/><circle cx="251.0" cy="268.0" r="0.7" fill="#9a45b0"/>
<circle cx="245.0" cy="259.0" r="2.6" fill="#08589e"/><circle cx="245.0" cy="259.0" r="0.7" fill="#9a45b0"/>
<circle cx="238.2" cy="262.0" r="2.6" fill="#08589e"/><circle cx="238.2" cy="262.0" r="0.7" fill="#9a45b0"/>
<circle cx="240.5" cy="266.8" r="2.6" fill="#08589e"/><circle cx="240.5" cy="266.8" r="0.7" fill="#9a45b0"/>
<circle cx="242.2" cy="263.5" r="2.6" fill="#08589e"/><circle cx="242.2" cy="263.5" r="0.7" fill="#9a45b0"/>
<circle cx="244.0" cy="267.5" r="2.6" fill="#08589e"/><circle cx="244.0" cy="267.5" r="0.7" fill="#9a45b0"/>
<circle cx="245.8" cy="264.2" r="2.6" fill="#08589e"/><circle cx="245.8" cy="264.2" r="0.7" fill="#9a45b0"/>
<circle cx="248.2" cy="267.0" r="2.6" fill="#08589e"/><circle cx="248.2" cy="267.0" r="0.7" fill="#9a45b0"/>
<circle cx="250.5" cy="265.0" r="2.6" fill="#08589e"/><circle cx="250.5" cy="265.0" r="0.7" fill="#9a45b0"/>
<circle cx="252.0" cy="261.5" r="2.6" fill="#08589e"/><circle cx="252.0" cy="261.5" r="0.7" fill="#9a45b0"/>
<circle cx="248.8" cy="258.0" r="2.6" fill="#08589e"/><circle cx="248.8" cy="258.0" r="0.7" fill="#9a45b0"/>
<circle cx="246.0" cy="261.0" r="2.6" fill="#08589e"/><circle cx="246.0" cy="261.0" r="0.7" fill="#9a45b0"/>
<circle cx="244.2" cy="273.5" r="2.6" fill="#08589e"/><circle cx="244.2" cy="273.5" r="0.7" fill="#9a45b0"/>
<circle cx="240.2" cy="279.0" r="2.6" fill="#08589e"/><circle cx="240.2" cy="279.0" r="0.7" fill="#9a45b0"/>
<circle cx="239.0" cy="268.0" r="2.6" fill="#08589e"/><circle cx="239.0" cy="268.0" r="0.7" fill="#9a45b0"/>
<circle cx="237.5" cy="271.5" r="2.6" fill="#08589e"/><circle cx="237.5" cy="271.5" r="0.7" fill="#9a45b0"/>
<circle cx="243.0" cy="269.0" r="2.6" fill="#08589e"/><circle cx="243.0" cy="269.0" r="0.7" fill="#9a45b0"/>
<circle cx="246.5" cy="272.5" r="2.6" fill="#08589e"/><circle cx="246.5" cy="272.5" r="0.7" fill="#9a45b0"/>
<circle cx="238.0" cy="266.0" r="2.6" fill="#08589e"/><circle cx="238.0" cy="266.0" r="0.7" fill="#9a45b0"/>
<circle cx="288.5" cy="243.0" r="2.6" fill="#08589e"/><circle cx="288.5" cy="243.0" r="0.7" fill="#9a45b0"/>
<circle cx="290.0" cy="239.5" r="2.6" fill="#08589e"/><circle cx="290.0" cy="239.5" r="0.7" fill="#9a45b0"/>
<circle cx="291.5" cy="242.0" r="2.6" fill="#08589e"/><circle cx="291.5" cy="242.0" r="0.7" fill="#9a45b0"/>
<circle cx="293.0" cy="240.5" r="2.6" fill="#08589e"/><circle cx="293.0" cy="240.5" r="0.7" fill="#9a45b0"/>
<circle cx="294.5" cy="237.5" r="2.6" fill="#08589e"/><circle cx="294.5" cy="237.5" r="0.7" fill="#9a45b0"/>
<circle cx="295.5" cy="234.5" r="2.6" fill="#08589e"/><circle cx="295.5" cy="234.5" r="0.7" fill="#9a45b0"/>
<circle cx="297.5" cy="233.5" r="2.6" fill="#08589e"/><circle cx="297.5" cy="233.5" r="0.7" fill="#9a45b0"/>
<circle cx="296.5" cy="238.5" r="2.6" fill="#08589e"/><circle cx="296.5" cy="238.5" r="0.7" fill="#9a45b0"/>
<circle cx="298.8" cy="236.5" r="2.6" fill="#08589e"/><circle cx="298.8" cy="236.5" r="0.7" fill="#9a45b0"/>
<circle cx="300.0" cy="232.0" r="2.6" fill="#08589e"/><circle cx="300.0" cy="232.0" r="0.7" fill="#9a45b0"/>
<circle cx="301.5" cy="234.5" r="2.6" fill="#08589e"/><circle cx="301.5" cy="234.5" r="0.7" fill="#9a45b0"/>
<circle cx="303.0" cy="231.5" r="2.6" fill="#08589e"/><circle cx="303.0" cy="231.5" r="0.7" fill="#9a45b0"/>
<circle cx="305.5" cy="232.5" r="2.6" fill="#08589e"/><circle cx="305.5" cy="232.5" r="0.7" fill="#9a45b0"/>
<circle cx="306.0" cy="229.5" r="2.6" fill="#08589e"/><circle cx="306.0" cy="229.5" r="0.7" fill="#9a45b0"/>
<circle cx="308.2" cy="231.5" r="2.6" fill="#08589e"/><circle cx="308.2" cy="231.5" r="0.7" fill="#9a45b0"/>
<circle cx="310.0" cy="232.0" r="2.6" fill="#08589e"/><circle cx="310.0" cy="232.0" r="0.7" fill="#9a45b0"/>
<circle cx="312.2" cy="232.8" r="2.6" fill="#08589e"/><circle cx="312.2" cy="232.8" r="0.7" fill="#9a45b0"/>
<circle cx="314.5" cy="233.8" r="2.6" fill="#08589e"/><circle cx="314.5" cy="233.8" r="0.7" fill="#9a45b0"/>
<circle cx="316.5" cy="234.5" r="2.6" fill="#08589e"/><circle cx="316.5" cy="234.5" r="0.7" fill="#9a45b0"/>
<circle cx="318.5" cy="234.0" r="2.6" fill="#08589e"/><circle cx="318.5" cy="234.0" r="0.7" fill="#9a45b0"/>
<circle cx="291.0" cy="246.0" r="2.6" fill="#08589e"/><circle cx="291.0" cy="246.0" r="0.7" fill="#9a45b0"/>
<circle cx="294.8" cy="243.0" r="2.6" fill="#08589e"/><circle cx="294.8" cy="243.0" r="0.7" fill="#9a45b0"/>
<circle cx="296.8" cy="241.5" r="2.6" fill="#08589e"/><circle cx="296.8" cy="241.5" r="0.7" fill="#9a45b0"/>
<circle cx="337.0" cy="238.5" r="2.6" fill="#08589e"/><circle cx="337.0" cy="238.5" r="0.7" fill="#9a45b0"/>
<circle cx="339.0" cy="240.0" r="2.6" fill="#08589e"/><circle cx="339.0" cy="240.0" r="0.7" fill="#9a45b0"/>
<circle cx="340.5" cy="236.0" r="2.6" fill="#08589e"/><circle cx="340.5" cy="236.0" r="0.7" fill="#9a45b0"/>
<circle cx="343.0" cy="238.5" r="2.6" fill="#08589e"/><circle cx="343.0" cy="238.5" r="0.7" fill="#9a45b0"/>
<circle cx="345.5" cy="238.5" r="2.6" fill="#08589e"/><circle cx="345.5" cy="238.5" r="0.7" fill="#9a45b0"/>
<circle cx="347.5" cy="238.0" r="2.6" fill="#08589e"/><circle cx="347.5" cy="238.0" r="0.7" fill="#9a45b0"/>
<circle cx="349.0" cy="237.0" r="2.6" fill="#08589e"/><circle cx="349.0" cy="237.0" r="0.7" fill="#9a45b0"/>
<circle cx="350.5" cy="240.5" r="2.6" fill="#08589e"/><circle cx="350.5" cy="240.5" r="0.7" fill="#9a45b0"/>
<circle cx="344.5" cy="242.0" r="2.6" fill="#08589e"/><circle cx="344.5" cy="242.0" r="0.7" fill="#9a45b0"/>
<circle cx="347.5" cy="242.5" r="2.6" fill="#08589e"/><circle cx="347.5" cy="242.5" r="0.7" fill="#9a45b0"/>
<circle cx="352.5" cy="240.0" r="2.6" fill="#08589e"/><circle cx="352.5" cy="240.0" r="0.7" fill="#9a45b0"/>
<circle cx="342.0" cy="240.0" r="2.6" fill="#08589e"/><circle cx="342.0" cy="240.0" r="0.7" fill="#9a45b0"/>
<circle cx="290.5" cy="236.6" r="2.6" fill="#08589e"/><circle cx="290.5" cy="236.6" r="0.7" fill="#9a45b0"/>
<circle cx="295.7" cy="240.5" r="2.6" fill="#08589e"/><circle cx="295.7" cy="240.5" r="0.7" fill="#9a45b0"/>
<circle cx="293.3" cy="244.4" r="2.6" fill="#08589e"/><circle cx="293.3" cy="244.4" r="0.7" fill="#9a45b0"/>
<circle cx="298.5" cy="230.2" r="2.6" fill="#08589e"/><circle cx="298.5" cy="230.2" r="0.7" fill="#9a45b0"/>
<circle cx="300.5" cy="238.6" r="2.6" fill="#08589e"/><circle cx="300.5" cy="238.6" r="0.7" fill="#9a45b0"/>
<circle cx="304.5" cy="230.2" r="2.6" fill="#08589e"/><circle cx="304.5" cy="230.2" r="0.7" fill="#9a45b0"/>
<circle cx="307.3" cy="229.3" r="2.6" fill="#08589e"/><circle cx="307.3" cy="229.3" r="0.7" fill="#9a45b0"/>
<circle cx="311.0" cy="230.2" r="2.6" fill="#08589e"/><circle cx="311.0" cy="230.2" r="0.7" fill="#9a45b0"/>
<circle cx="313.8" cy="232.1" r="2.6" fill="#08589e"/><circle cx="313.8" cy="232.1" r="0.7" fill="#9a45b0"/>
<circle cx="317.6" cy="232.6" r="2.6" fill="#08589e"/><circle cx="317.6" cy="232.6" r="0.7" fill="#9a45b0"/>
<circle cx="289.0" cy="241.0" r="2.6" fill="#08589e"/><circle cx="289.0" cy="241.0" r="0.7" fill="#9a45b0"/>
<circle cx="292.0" cy="238.0" r="2.6" fill="#08589e"/><circle cx="292.0" cy="238.0" r="0.7" fill="#9a45b0"/>
<circle cx="294.0" cy="235.0" r="2.6" fill="#08589e"/><circle cx="294.0" cy="235.0" r="0.7" fill="#9a45b0"/>
<circle cx="296.5" cy="232.5" r="2.6" fill="#08589e"/><circle cx="296.5" cy="232.5" r="0.7" fill="#9a45b0"/>
<circle cx="302.0" cy="230.0" r="2.6" fill="#08589e"/><circle cx="302.0" cy="230.0" r="0.7" fill="#9a45b0"/>
<circle cx="309.0" cy="229.8" r="2.6" fill="#08589e"/><circle cx="309.0" cy="229.8" r="0.7" fill="#9a45b0"/>
<circle cx="315.5" cy="232.4" r="2.6" fill="#08589e"/><circle cx="315.5" cy="232.4" r="0.7" fill="#9a45b0"/>
<circle cx="320.0" cy="233.0" r="2.6" fill="#08589e"/><circle cx="320.0" cy="233.0" r="0.7" fill="#9a45b0"/>
<circle cx="297.0" cy="236.0" r="2.6" fill="#08589e"/><circle cx="297.0" cy="236.0" r="0.7" fill="#9a45b0"/>
<circle cx="299.0" cy="234.0" r="2.6" fill="#08589e"/><circle cx="299.0" cy="234.0" r="0.7" fill="#9a45b0"/>
<circle cx="338.5" cy="236.6" r="2.6" fill="#08589e"/><circle cx="338.5" cy="236.6" r="0.7" fill="#9a45b0"/>
<circle cx="344.6" cy="236.6" r="2.6" fill="#08589e"/><circle cx="344.6" cy="236.6" r="0.7" fill="#9a45b0"/>
<circle cx="346.4" cy="234.4" r="2.6" fill="#08589e"/><circle cx="346.4" cy="234.4" r="0.7" fill="#9a45b0"/>
<circle cx="351.6" cy="238.6" r="2.6" fill="#08589e"/><circle cx="351.6" cy="238.6" r="0.7" fill="#9a45b0"/>
<circle cx="343.5" cy="240.5" r="2.6" fill="#08589e"/><circle cx="343.5" cy="240.5" r="0.7" fill="#9a45b0"/>
<circle cx="346.4" cy="240.5" r="2.6" fill="#08589e"/><circle cx="346.4" cy="240.5" r="0.7" fill="#9a45b0"/>
<circle cx="341.3" cy="242.4" r="2.6" fill="#08589e"/><circle cx="341.3" cy="242.4" r="0.7" fill="#9a45b0"/>
<circle cx="340.0" cy="238.0" r="2.6" fill="#08589e"/><circle cx="340.0" cy="238.0" r="0.7" fill="#9a45b0"/>
<circle cx="342.5" cy="237.0" r="2.6" fill="#08589e"/><circle cx="342.5" cy="237.0" r="0.7" fill="#9a45b0"/>
<circle cx="348.5" cy="236.5" r="2.6" fill="#08589e"/><circle cx="348.5" cy="236.5" r="0.7" fill="#9a45b0"/>
<circle cx="349.5" cy="239.5" r="2.6" fill="#08589e"/><circle cx="349.5" cy="239.5" r="0.7" fill="#9a45b0"/>
<circle cx="353.4" cy="250.3" r="2.6" fill="#08589e"/><circle cx="353.4" cy="250.3" r="0.7" fill="#9a45b0"/>
<circle cx="347.5" cy="262.7" r="2.6" fill="#08589e"/><circle cx="347.5" cy="262.7" r="0.7" fill="#9a45b0"/>
<circle cx="345.5" cy="265.6" r="2.6" fill="#08589e"/><circle cx="345.5" cy="265.6" r="0.7" fill="#9a45b0"/>
<circle cx="312.4" cy="250.3" r="2.6" fill="#08589e"/><circle cx="312.4" cy="250.3" r="0.7" fill="#9a45b0"/>
<circle cx="296.3" cy="262.4" r="2.6" fill="#08589e"/><circle cx="296.3" cy="262.4" r="0.7" fill="#9a45b0"/>
<circle cx="335.8" cy="291.4" r="2.6" fill="#08589e"/><circle cx="335.8" cy="291.4" r="0.7" fill="#9a45b0"/>
<circle cx="270.0" cy="250.3" r="2.6" fill="#08589e"/><circle cx="270.0" cy="250.3" r="0.7" fill="#9a45b0"/>
<circle cx="269.1" cy="257.4" r="2.6" fill="#08589e"/><circle cx="269.1" cy="257.4" r="0.7" fill="#9a45b0"/>
<circle cx="272.4" cy="268.4" r="2.6" fill="#08589e"/><circle cx="272.4" cy="268.4" r="0.7" fill="#9a45b0"/>
<circle cx="288.5" cy="265.6" r="2.6" fill="#08589e"/><circle cx="288.5" cy="265.6" r="0.7" fill="#9a45b0"/>
<circle cx="377.6" cy="214.0" r="2.6" fill="#08589e"/><circle cx="377.6" cy="214.0" r="0.7" fill="#9a45b0"/>
<circle cx="385.6" cy="210.4" r="2.6" fill="#08589e"/><circle cx="385.6" cy="210.4" r="0.7" fill="#9a45b0"/>
<circle cx="377.2" cy="236.6" r="2.6" fill="#08589e"/><circle cx="377.2" cy="236.6" r="0.7" fill="#9a45b0"/>
<circle cx="385.6" cy="235.3" r="2.6" fill="#08589e"/><circle cx="385.6" cy="235.3" r="0.7" fill="#9a45b0"/>
<circle cx="393.5" cy="200.3" r="2.6" fill="#08589e"/><circle cx="393.5" cy="200.3" r="0.7" fill="#9a45b0"/>
<circle cx="385.4" cy="210.5" r="2.6" fill="#08589e"/><circle cx="385.4" cy="210.5" r="0.7" fill="#9a45b0"/>
<circle cx="393.5" cy="212.2" r="2.6" fill="#08589e"/><circle cx="393.5" cy="212.2" r="0.7" fill="#9a45b0"/>
<circle cx="401.2" cy="214.4" r="2.6" fill="#08589e"/><circle cx="401.2" cy="214.4" r="0.7" fill="#9a45b0"/>
<circle cx="385.4" cy="235.2" r="2.6" fill="#08589e"/><circle cx="385.4" cy="235.2" r="0.7" fill="#9a45b0"/>
<circle cx="401.2" cy="235.2" r="2.6" fill="#08589e"/><circle cx="401.2" cy="235.2" r="0.7" fill="#9a45b0"/>
<circle cx="425.4" cy="228.4" r="2.6" fill="#08589e"/><circle cx="425.4" cy="228.4" r="0.7" fill="#9a45b0"/>
<circle cx="433.3" cy="194.1" r="2.6" fill="#08589e"/><circle cx="433.3" cy="194.1" r="0.7" fill="#9a45b0"/>
<circle cx="441.3" cy="206.4" r="2.6" fill="#08589e"/><circle cx="441.3" cy="206.4" r="0.7" fill="#9a45b0"/>
<circle cx="449.4" cy="216.4" r="2.6" fill="#08589e"/><circle cx="449.4" cy="216.4" r="0.7" fill="#9a45b0"/>
<circle cx="457.4" cy="208.1" r="2.6" fill="#08589e"/><circle cx="457.4" cy="208.1" r="0.7" fill="#9a45b0"/>
<circle cx="465.5" cy="204.2" r="2.6" fill="#08589e"/><circle cx="465.5" cy="204.2" r="0.7" fill="#9a45b0"/>
<circle cx="473.5" cy="192.4" r="2.6" fill="#08589e"/><circle cx="473.5" cy="192.4" r="0.7" fill="#9a45b0"/>
<circle cx="481.3" cy="200.3" r="2.6" fill="#08589e"/><circle cx="481.3" cy="200.3" r="0.7" fill="#9a45b0"/>
<circle cx="489.6" cy="204.2" r="2.6" fill="#08589e"/><circle cx="489.6" cy="204.2" r="0.7" fill="#9a45b0"/>
<circle cx="497.4" cy="197.1" r="2.6" fill="#08589e"/><circle cx="497.4" cy="197.1" r="0.7" fill="#9a45b0"/>
<circle cx="505.3" cy="194.4" r="2.6" fill="#08589e"/><circle cx="505.3" cy="194.4" r="0.7" fill="#9a45b0"/>
<circle cx="513.4" cy="180.5" r="2.6" fill="#08589e"/><circle cx="513.4" cy="180.5" r="0.7" fill="#9a45b0"/>
<circle cx="521.4" cy="197.1" r="2.6" fill="#08589e"/><circle cx="521.4" cy="197.1" r="0.7" fill="#9a45b0"/>
<circle cx="529.4" cy="192.4" r="2.6" fill="#08589e"/><circle cx="529.4" cy="192.4" r="0.7" fill="#9a45b0"/>
<circle cx="537.2" cy="192.4" r="2.6" fill="#08589e"/><circle cx="537.2" cy="192.4" r="0.7" fill="#9a45b0"/>
<circle cx="553.6" cy="191.5" r="2.6" fill="#08589e"/><circle cx="553.6" cy="191.5" r="0.7" fill="#9a45b0"/>
<circle cx="561.2" cy="167.5" r="2.6" fill="#08589e"/><circle cx="561.2" cy="167.5" r="0.7" fill="#9a45b0"/>
<circle cx="569.3" cy="181.4" r="2.6" fill="#08589e"/><circle cx="569.3" cy="181.4" r="0.7" fill="#9a45b0"/>
<circle cx="577.3" cy="198.3" r="2.6" fill="#08589e"/><circle cx="577.3" cy="198.3" r="0.7" fill="#9a45b0"/>
<circle cx="605.4" cy="107.4" r="2.6" fill="#08589e"/><circle cx="605.4" cy="107.4" r="0.7" fill="#9a45b0"/>
<circle cx="613.3" cy="107.4" r="2.6" fill="#08589e"/><circle cx="613.3" cy="107.4" r="0.7" fill="#9a45b0"/>
<circle cx="586.2" cy="165.4" r="2.6" fill="#08589e"/><circle cx="586.2" cy="165.4" r="0.7" fill="#9a45b0"/>
<circle cx="594.3" cy="239.4" r="2.6" fill="#08589e"/><circle cx="594.3" cy="239.4" r="0.7" fill="#9a45b0"/>
<circle cx="637.3" cy="137.3" r="2.6" fill="#08589e"/><circle cx="637.3" cy="137.3" r="0.7" fill="#9a45b0"/>
<circle cx="621.4" cy="147.4" r="2.6" fill="#08589e"/><circle cx="621.4" cy="147.4" r="0.7" fill="#9a45b0"/>
<circle cx="629.4" cy="153.2" r="2.6" fill="#08589e"/><circle cx="629.4" cy="153.2" r="0.7" fill="#9a45b0"/>
<circle cx="661.4" cy="151.0" r="2.6" fill="#08589e"/><circle cx="661.4" cy="151.0" r="0.7" fill="#9a45b0"/>
<circle cx="645.5" cy="199.8" r="2.6" fill="#08589e"/><circle cx="645.5" cy="199.8" r="0.7" fill="#9a45b0"/>
<circle cx="669.5" cy="212.0" r="2.6" fill="#08589e"/><circle cx="669.5" cy="212.0" r="0.7" fill="#9a45b0"/>
<circle cx="677.3" cy="205.5" r="2.6" fill="#08589e"/><circle cx="677.3" cy="205.5" r="0.7" fill="#9a45b0"/>
<circle cx="685.3" cy="208.2" r="2.6" fill="#08589e"/><circle cx="685.3" cy="208.2" r="0.7" fill="#9a45b0"/>
<circle cx="693.2" cy="190.2" r="2.6" fill="#08589e"/><circle cx="693.2" cy="190.2" r="0.7" fill="#9a45b0"/>
<circle cx="701.2" cy="191.3" r="2.6" fill="#08589e"/><circle cx="701.2" cy="191.3" r="0.7" fill="#9a45b0"/>
<circle cx="722.4" cy="210.4" r="2.6" fill="#08589e"/><circle cx="722.4" cy="210.4" r="0.7" fill="#9a45b0"/>
<circle cx="730.5" cy="210.4" r="2.6" fill="#08589e"/><circle cx="730.5" cy="210.4" r="0.7" fill="#9a45b0"/>
<circle cx="738.3" cy="210.4" r="2.6" fill="#08589e"/><circle cx="738.3" cy="210.4" r="0.7" fill="#9a45b0"/>
<circle cx="746.3" cy="247.4" r="2.6" fill="#08589e"/><circle cx="746.3" cy="247.4" r="0.7" fill="#9a45b0"/>
<circle cx="746.5" cy="247.4" r="2.6" fill="#08589e"/><circle cx="746.5" cy="247.4" r="0.7" fill="#9a45b0"/>
<circle cx="810.4" cy="281.3" r="2.6" fill="#08589e"/><circle cx="810.4" cy="281.3" r="0.7" fill="#9a45b0"/>
<circle cx="794.2" cy="299.5" r="2.6" fill="#08589e"/><circle cx="794.2" cy="299.5" r="0.7" fill="#9a45b0"/>
<circle cx="352.5" cy="420.5" r="2.6" fill="#08589e"/><circle cx="352.5" cy="420.5" r="0.7" fill="#9a45b0"/>
<circle cx="279.4" cy="225.5" r="8.5" fill="#3b7dbb" stroke="#a5511f" stroke-width="2.2"/>
<circle cx="279.4" cy="262.7" r="8.1" fill="#3b7dbb" stroke="#08589e" stroke-width="2.2"/>
<circle cx="279.4" cy="259.0" r="8.1" fill="#3b7dbb" stroke="#08589e" stroke-width="2.2"/>
<circle cx="279.4" cy="256.0" r="8.1" fill="#3b7dbb" stroke="#08589e" stroke-width="2.2"/>
<circle cx="279.4" cy="253.0" r="8.1" fill="#3b7dbb" stroke="#08589e" stroke-width="2.2"/>
<circle cx="279.4" cy="250.0" r="8.1" fill="#3b7dbb" stroke="#08589e" stroke-width="2.2"/>
<circle cx="279.4" cy="247.4" r="8.1" fill="#3b7dbb" stroke="#08589e" stroke-width="2.2"/>
<circle cx="279.4" cy="238.0" r="8.1" fill="#3b7dbb" stroke="#08589e" stroke-width="2.2"/>
<circle cx="279.4" cy="236.0" r="8.1" fill="#3b7dbb" stroke="#08589e" stroke-width="2.2"/>
<circle cx="279.4" cy="234.0" r="8.1" fill="#3b7dbb" stroke="#08589e" stroke-width="2.2"/>
<circle cx="279.4" cy="232.0" r="8.1" fill="#3b7dbb" stroke="#08589e" stroke-width="2.2"/>
<circle cx="279.4" cy="230.0" r="8.1" fill="#3b7dbb" stroke="#08589e" stroke-width="2.2"/>
<circle cx="279.4" cy="228.0" r="8.1" fill="#3b7dbb" stroke="#08589e" stroke-width="2.2"/>
<circle cx="279.4" cy="226.5" r="8.1" fill="#3b7dbb" stroke="#08589e" stroke-width="2.2"/>
<circle cx="279.4" cy="225.0" r="8.1" fill="#3b7dbb" stroke="#08589e" stroke-width="2.2"/>
<circle cx="279.4" cy="224.0" r="8.1" fill="#3b7dbb" stroke="#08589e" stroke-width="2.2"/>
<circle cx="279.4" cy="223.0" r="8.1" fill="#3b7dbb" stroke="#08589e" stroke-width="2.2"/>
<circle cx="279.4" cy="222.0" r="8.1" fill="#3b7dbb" stroke="#08589e" stroke-width="2.2"/>
<circle cx="279.4" cy="221.0" r="8.1" fill="#3b7dbb" stroke="#08589e" stroke-width="2.2"/>
<circle cx="279.4" cy="220.0" r="8.1" fill="#3b7dbb" stroke="#08589e" stroke-width="2.2"/>
<circle cx="279.4" cy="218.4" r="8.1" fill="#3b7dbb" stroke="#08589e" stroke-width="2.2"/>
<circle cx="279.4" cy="215.9" r="8.1" fill="#3b7dbb" stroke="#08589e" stroke-width="2.2"/>
<circle cx="279.4" cy="212.9" r="8.1" fill="#3b7dbb" stroke="#08589e" stroke-width="2.2"/>
<circle cx="279.4" cy="209.3" r="8.1" fill="#3b7dbb" stroke="#08589e" stroke-width="2.2"/>
<circle cx="279.4" cy="205.7" r="8.1" fill="#3b7dbb" stroke="#08589e" stroke-width="2.2"/>
<circle cx="279.4" cy="201.7" r="8.1" fill="#3b7dbb" stroke="#08589e" stroke-width="2.2"/>
<circle cx="279.4" cy="197.6" r="8.1" fill="#3b7dbb" stroke="#08589e" stroke-width="2.2"/>
<circle cx="279.4" cy="194.6" r="8.1" fill="#3b7dbb" stroke="#08589e" stroke-width="2.2"/>
<circle cx="279.4" cy="191.0" r="8.1" fill="#3b7dbb" stroke="#08589e" stroke-width="2.2"/>
<circle cx="279.4" cy="187.4" r="8.1" fill="#3b7dbb" stroke="#08589e" stroke-width="2.2"/>
<circle cx="279.4" cy="185.0" r="8.1" fill="#3b7dbb" stroke="#08589e" stroke-width="2.2"/>
<circle cx="279.4" cy="183.0" r="8.1" fill="#3b7dbb" stroke="#08589e" stroke-width="2.2"/>
<circle cx="279.4" cy="181.5" r="8.1" fill="#3b7dbb" stroke="#08589e" stroke-width="2.2"/>
<circle cx="279.4" cy="180.4" r="8.1" fill="#3b7dbb" stroke="#08589e" stroke-width="2.2"/>
<circle cx="279.4" cy="246.4" r="8.1" fill="#3b7dbb" stroke="#08589e" stroke-width="2.2"/>
<circle cx="326.4" cy="299.5" r="5.9" fill="#90ee90" stroke="#08589e" stroke-width="2.4"/>
<circle cx="326.4" cy="296.3" r="5.9" fill="#90ee90" stroke="#08589e" stroke-width="2.4"/>
<circle cx="326.4" cy="293.1" r="5.9" fill="#90ee90" stroke="#08589e" stroke-width="2.4"/>
<circle cx="326.4" cy="289.9" r="5.9" fill="#90ee90" stroke="#08589e" stroke-width="2.4"/>
<circle cx="326.4" cy="286.8" r="5.9" fill="#90ee90" stroke="#08589e" stroke-width="2.4"/>
<circle cx="326.4" cy="283.6" r="5.9" fill="#90ee90" stroke="#08589e" stroke-width="2.4"/>
<circle cx="326.4" cy="280.4" r="5.9" fill="#90ee90" stroke="#08589e" stroke-width="2.4"/>
<circle cx="326.4" cy="277.2" r="5.9" fill="#90ee90" stroke="#08589e" stroke-width="2.4"/>
<circle cx="326.4" cy="274.0" r="5.9" fill="#90ee90" stroke="#08589e" stroke-width="2.4"/>
<circle cx="326.4" cy="297.3" r="5.9" fill="#90ee90" stroke="#08589e" stroke-width="2.4"/>
<circle cx="326.4" cy="289.4" r="5.9" fill="#90ee90" stroke="#08589e" stroke-width="2.4"/>
<circle cx="326.4" cy="284.3" r="5.9" fill="#90ee90" stroke="#08589e" stroke-width="2.4"/>
<circle cx="326.4" cy="277.7" r="5.9" fill="#90ee90" stroke="#08589e" stroke-width="2.4"/>
<rect x="318.4" y="218.0" width="19.5" height="55.0" rx="9.8" fill="#08589e"/>
<circle cx="329.6" cy="216.0" r="5.9" fill="#90ee90" stroke="#08589e" stroke-width="2.4"/>
<circle cx="329.6" cy="211.6" r="5.9" fill="#90ee90" stroke="#08589e" stroke-width="2.4"/>
<circle cx="329.6" cy="207.2" r="5.9" fill="#90ee90" stroke="#08589e" stroke-width="2.4"/>
<circle cx="329.6" cy="202.9" r="5.9" fill="#90ee90" stroke="#08589e" stroke-width="2.4"/>
<circle cx="329.6" cy="198.5" r="5.9" fill="#90ee90" stroke="#08589e" stroke-width="2.4"/>
<circle cx="329.6" cy="194.1" r="5.9" fill="#90ee90" stroke="#08589e" stroke-width="2.4"/>
<circle cx="329.6" cy="189.8" r="5.9" fill="#90ee90" stroke="#08589e" stroke-width="2.4"/>
<circle cx="329.6" cy="185.4" r="5.9" fill="#90ee90" stroke="#08589e" stroke-width="2.4"/>
<circle cx="329.6" cy="181.0" r="5.9" fill="#90ee90" stroke="#08589e" stroke-width="2.4"/>
<circle cx="329.6" cy="176.6" r="5.9" fill="#90ee90" stroke="#08589e" stroke-width="2.4"/>
<circle cx="329.6" cy="172.2" r="5.9" fill="#90ee90" stroke="#08589e" stroke-width="2.4"/>
<circle cx="329.6" cy="167.9" r="5.9" fill="#90ee90" stroke="#08589e" stroke-width="2.4"/>
<circle cx="329.6" cy="163.5" r="5.9" fill="#90ee90" stroke="#08589e" stroke-width="2.4"/>
<circle cx="329.6" cy="159.1" r="5.9" fill="#90ee90" stroke="#08589e" stroke-width="2.4"/>
<circle cx="329.6" cy="154.8" r="5.9" fill="#90ee90" stroke="#08589e" stroke-width="2.4"/>
<circle cx="329.6" cy="150.4" r="5.9" fill="#90ee90" stroke="#08589e" stroke-width="2.4"/>
<circle cx="329.6" cy="146.0" r="5.9" fill="#90ee90" stroke="#08589e" stroke-width="2.4"/>
<circle cx="329.6" cy="141.6" r="5.9" fill="#90ee90" stroke="#08589e" stroke-width="2.4"/>
<circle cx="329.6" cy="137.2" r="5.9" fill="#90ee90" stroke="#08589e" stroke-width="2.4"/>
<circle cx="329.6" cy="132.9" r="5.9" fill="#90ee90" stroke="#08589e" stroke-width="2.4"/>
<circle cx="329.6" cy="128.5" r="5.9" fill="#90ee90" stroke="#08589e" stroke-width="2.4"/>
<circle cx="329.6" cy="207.8" r="5.9" fill="#90ee90" stroke="#08589e" stroke-width="2.4"/>
<circle cx="329.6" cy="195.0" r="5.9" fill="#90ee90" stroke="#08589e" stroke-width="2.4"/>
<circle cx="329.6" cy="184.9" r="5.9" fill="#90ee90" stroke="#08589e" stroke-width="2.4"/>
<circle cx="329.6" cy="170.2" r="5.9" fill="#90ee90" stroke="#08589e" stroke-width="2.4"/>
<circle cx="329.6" cy="156.0" r="5.9" fill="#90ee90" stroke="#08589e" stroke-width="2.4"/>
<circle cx="329.6" cy="146.0" r="5.9" fill="#90ee90" stroke="#08589e" stroke-width="2.4"/>
<circle cx="329.6" cy="128.5" r="5.9" fill="#90ee90" stroke="#08589e" stroke-width="2.4"/>
<circle cx="325.8" cy="230.3" r="5.9" fill="#90ee90" stroke="#08589e" stroke-width="2.4"/>
<circle cx="325.8" cy="238.3" r="6.3" fill="#90ee90" stroke="#08589e" stroke-width="2.4"/>
<path d="M334.8,231v4M334.8,244v7.5M334.8,261.6v6" stroke="#90ee90" stroke-width="1.3" fill="none"/>
<circle cx="364.6" cy="196.6" r="8.1" fill="#3b7dbb" stroke="#a5511f" stroke-width="2.2"/>
<circle cx="364.6" cy="192.0" r="8.1" fill="#3b7dbb" stroke="#08589e" stroke-width="2.2"/>
<circle cx="364.6" cy="190.0" r="8.1" fill="#3b7dbb" stroke="#08589e" stroke-width="2.2"/>
<circle cx="364.6" cy="188.5" r="8.1" fill="#3b7dbb" stroke="#08589e" stroke-width="2.2"/>
<circle cx="364.6" cy="184.4" r="8.1" fill="#3b7dbb" stroke="#08589e" stroke-width="2.2"/>
<circle cx="364.6" cy="181.3" r="8.1" fill="#3b7dbb" stroke="#08589e" stroke-width="2.2"/>
<circle cx="364.6" cy="179.1" r="8.1" fill="#3b7dbb" stroke="#08589e" stroke-width="2.2"/>
<circle cx="364.6" cy="232.7" r="8.1" fill="#3b7dbb" stroke="#a5511f" stroke-width="2.2"/>
<circle cx="364.6" cy="228.1" r="8.1" fill="#3b7dbb" stroke="#08589e" stroke-width="2.2"/>
<circle cx="364.6" cy="215.4" r="8.1" fill="#3b7dbb" stroke="#08589e" stroke-width="2.2"/>
<circle cx="364.6" cy="218.0" r="8.1" fill="#3b7dbb" stroke="#08589e" stroke-width="2.2"/>
<circle cx="364.6" cy="221.0" r="8.1" fill="#3b7dbb" stroke="#08589e" stroke-width="2.2"/>
<circle cx="364.6" cy="226.1" r="8.1" fill="#3b7dbb" stroke="#08589e" stroke-width="2.2"/>
<circle cx="415.6" cy="260" r="8.3" fill="#a5511f"/>
<circle cx="408.0" cy="251.6" r="5.9" fill="#90ee90" stroke="#08589e" stroke-width="2.4"/>
<rect x="405.4" y="212.0" width="17.5" height="46.0" rx="8.8" fill="#08589e"/>
<circle cx="410.5" cy="211.0" r="5.9" fill="#90ee90" stroke="#08589e" stroke-width="2.4"/>
<circle cx="410.5" cy="206.6" r="5.9" fill="#90ee90" stroke="#08589e" stroke-width="2.4"/>
<circle cx="410.5" cy="202.3" r="5.9" fill="#90ee90" stroke="#08589e" stroke-width="2.4"/>
<circle cx="410.5" cy="197.9" r="5.9" fill="#90ee90" stroke="#08589e" stroke-width="2.4"/>
<circle cx="410.5" cy="193.5" r="5.9" fill="#90ee90" stroke="#08589e" stroke-width="2.4"/>
<circle cx="410.5" cy="189.2" r="5.9" fill="#90ee90" stroke="#08589e" stroke-width="2.4"/>
<circle cx="410.5" cy="184.8" r="5.9" fill="#90ee90" stroke="#08589e" stroke-width="2.4"/>
<circle cx="410.5" cy="180.4" r="5.9" fill="#90ee90" stroke="#08589e" stroke-width="2.4"/>
<circle cx="410.5" cy="176.0" r="5.9" fill="#90ee90" stroke="#08589e" stroke-width="2.4"/>
<circle cx="410.5" cy="171.7" r="5.9" fill="#90ee90" stroke="#08589e" stroke-width="2.4"/>
<circle cx="410.5" cy="167.3" r="5.9" fill="#90ee90" stroke="#08589e" stroke-width="2.4"/>
<circle cx="410.5" cy="162.9" r="5.9" fill="#90ee90" stroke="#08589e" stroke-width="2.4"/>
<circle cx="410.5" cy="158.6" r="5.9" fill="#90ee90" stroke="#08589e" stroke-width="2.4"/>
<circle cx="410.5" cy="154.2" r="5.9" fill="#90ee90" stroke="#08589e" stroke-width="2.4"/>
<circle cx="410.5" cy="149.8" r="5.9" fill="#90ee90" stroke="#08589e" stroke-width="2.4"/>
<circle cx="410.5" cy="145.5" r="5.9" fill="#90ee90" stroke="#08589e" stroke-width="2.4"/>
<circle cx="410.5" cy="141.1" r="5.9" fill="#90ee90" stroke="#08589e" stroke-width="2.4"/>
<circle cx="410.5" cy="136.7" r="5.9" fill="#90ee90" stroke="#08589e" stroke-width="2.4"/>
<circle cx="410.5" cy="132.3" r="5.9" fill="#90ee90" stroke="#08589e" stroke-width="2.4"/>
<circle cx="410.5" cy="128.0" r="5.9" fill="#90ee90" stroke="#08589e" stroke-width="2.4"/>
<circle cx="410.5" cy="123.6" r="5.9" fill="#90ee90" stroke="#08589e" stroke-width="2.4"/>
<circle cx="410.5" cy="119.2" r="5.9" fill="#90ee90" stroke="#08589e" stroke-width="2.4"/>
<circle cx="410.5" cy="114.9" r="5.9" fill="#90ee90" stroke="#08589e" stroke-width="2.4"/>
<circle cx="410.5" cy="110.5" r="5.9" fill="#90ee90" stroke="#08589e" stroke-width="2.4"/>
<circle cx="410.5" cy="202.5" r="5.9" fill="#90ee90" stroke="#08589e" stroke-width="2.4"/>
<circle cx="410.5" cy="183.9" r="5.9" fill="#90ee90" stroke="#08589e" stroke-width="2.4"/>
<circle cx="410.5" cy="167.0" r="5.9" fill="#90ee90" stroke="#08589e" stroke-width="2.4"/>
<circle cx="410.5" cy="158.5" r="5.9" fill="#90ee90" stroke="#08589e" stroke-width="2.4"/>
<circle cx="410.5" cy="150.9" r="5.9" fill="#90ee90" stroke="#08589e" stroke-width="2.4"/>
<circle cx="410.5" cy="143.3" r="5.9" fill="#90ee90" stroke="#08589e" stroke-width="2.4"/>
<circle cx="410.5" cy="122.0" r="5.9" fill="#90ee90" stroke="#08589e" stroke-width="2.4"/>
<circle cx="410.5" cy="111.5" r="5.9" fill="#90ee90" stroke="#08589e" stroke-width="2.4"/>
<circle cx="414.7" cy="233.9" r="5.9" fill="#90ee90" stroke="#08589e" stroke-width="2.4"/>
<circle cx="414.7" cy="219.5" r="5.9" fill="#90ee90" stroke="#08589e" stroke-width="2.4"/>
<circle cx="492.3" cy="217.4" r="8.2" fill="#3b7dbb" stroke="#08589e" stroke-width="2.2"/>
<circle cx="542.6" cy="267.7" r="5.9" fill="#90ee90" stroke="#a5511f" stroke-width="2.4"/>
<circle cx="542.6" cy="260.3" r="5.9" fill="#90ee90" stroke="#a5511f" stroke-width="2.4"/>
<circle cx="542.6" cy="253.0" r="5.9" fill="#90ee90" stroke="#08589e" stroke-width="2.4"/>
<circle cx="542.6" cy="248.0" r="5.9" fill="#90ee90" stroke="#08589e" stroke-width="2.4"/>
<circle cx="542.6" cy="243.0" r="5.9" fill="#90ee90" stroke="#08589e" stroke-width="2.4"/>
<circle cx="542.6" cy="238.0" r="5.9" fill="#90ee90" stroke="#08589e" stroke-width="2.4"/>
<rect x="534.0" y="197.0" width="19.5" height="46.0" rx="9.8" fill="#08589e"/>
<circle cx="545.6" cy="193.0" r="5.9" fill="#90ee90" stroke="#08589e" stroke-width="2.4"/>
<circle cx="545.6" cy="188.7" r="5.9" fill="#90ee90" stroke="#08589e" stroke-width="2.4"/>
<circle cx="545.6" cy="184.4" r="5.9" fill="#90ee90" stroke="#08589e" stroke-width="2.4"/>
<circle cx="545.6" cy="180.0" r="5.9" fill="#90ee90" stroke="#08589e" stroke-width="2.4"/>
<circle cx="545.6" cy="175.7" r="5.9" fill="#90ee90" stroke="#08589e" stroke-width="2.4"/>
<circle cx="545.6" cy="171.4" r="5.9" fill="#90ee90" stroke="#08589e" stroke-width="2.4"/>
<circle cx="545.6" cy="167.1" r="5.9" fill="#90ee90" stroke="#08589e" stroke-width="2.4"/>
<circle cx="545.6" cy="162.8" r="5.9" fill="#90ee90" stroke="#08589e" stroke-width="2.4"/>
<circle cx="545.6" cy="158.5" r="5.9" fill="#90ee90" stroke="#08589e" stroke-width="2.4"/>
<circle cx="545.6" cy="154.1" r="5.9" fill="#90ee90" stroke="#08589e" stroke-width="2.4"/>
<circle cx="545.6" cy="149.8" r="5.9" fill="#90ee90" stroke="#08589e" stroke-width="2.4"/>
<circle cx="545.6" cy="145.5" r="5.9" fill="#90ee90" stroke="#08589e" stroke-width="2.4"/>
<circle cx="545.6" cy="191.5" r="5.9" fill="#90ee90" stroke="#08589e" stroke-width="2.4"/>
<circle cx="545.6" cy="183.1" r="5.9" fill="#90ee90" stroke="#08589e" stroke-width="2.4"/>
<circle cx="545.6" cy="174.6" r="5.9" fill="#90ee90" stroke="#08589e" stroke-width="2.4"/>
<circle cx="545.6" cy="165.3" r="5.9" fill="#90ee90" stroke="#08589e" stroke-width="2.4"/>
<circle cx="545.6" cy="153.5" r="5.9" fill="#90ee90" stroke="#08589e" stroke-width="2.4"/>
<circle cx="545.6" cy="145.8" r="5.9" fill="#90ee90" stroke="#08589e" stroke-width="2.4"/>
<circle cx="545.6" cy="130.0" r="5.9" fill="#90ee90" stroke="#08589e" stroke-width="2.4"/>
<circle cx="545.6" cy="126.0" r="5.9" fill="#90ee90" stroke="#08589e" stroke-width="2.4"/>
<circle cx="545.6" cy="122.0" r="5.9" fill="#90ee90" stroke="#08589e" stroke-width="2.4"/>
<rect x="538.5" y="106.4" width="14.2" height="19.6" rx="7.1" fill="#08589e"/>
<circle cx="545.6" cy="120.4" r="5.9" fill="#90ee90" stroke="#08589e" stroke-width="2.4"/>
<circle cx="545.6" cy="128.0" r="5.9" fill="#90ee90" stroke="#08589e" stroke-width="2.4"/>
<circle cx="541.7" cy="205.9" r="6.3" fill="#90ee90" stroke="#08589e" stroke-width="2.4"/>
<path d="M551.6,214v10M550.5,232v6" stroke="#90ee90" stroke-width="1.3" fill="none"/>
<circle cx="659.3" cy="338.0" r="5.9" fill="#90ee90" stroke="#08589e" stroke-width="2.4"/>
<circle cx="659.3" cy="331.6" r="5.9" fill="#90ee90" stroke="#08589e" stroke-width="2.4"/>
<circle cx="659.3" cy="325.2" r="5.9" fill="#90ee90" stroke="#08589e" stroke-width="2.4"/>
<circle cx="659.3" cy="318.9" r="5.9" fill="#90ee90" stroke="#08589e" stroke-width="2.4"/>
<circle cx="659.3" cy="312.5" r="5.9" fill="#90ee90" stroke="#08589e" stroke-width="2.4"/>
<circle cx="659.3" cy="306.1" r="5.9" fill="#90ee90" stroke="#08589e" stroke-width="2.4"/>
<circle cx="659.3" cy="299.8" r="5.9" fill="#90ee90" stroke="#08589e" stroke-width="2.4"/>
<circle cx="659.3" cy="293.4" r="5.9" fill="#90ee90" stroke="#08589e" stroke-width="2.4"/>
<circle cx="659.3" cy="287.0" r="5.9" fill="#90ee90" stroke="#08589e" stroke-width="2.4"/>
<circle cx="659.3" cy="280.6" r="5.9" fill="#90ee90" stroke="#08589e" stroke-width="2.4"/>
<circle cx="659.3" cy="274.2" r="5.9" fill="#90ee90" stroke="#08589e" stroke-width="2.4"/>
<circle cx="659.3" cy="267.9" r="5.9" fill="#90ee90" stroke="#08589e" stroke-width="2.4"/>
<circle cx="659.3" cy="261.5" r="5.9" fill="#90ee90" stroke="#08589e" stroke-width="2.4"/>
<circle cx="659.3" cy="255.1" r="5.9" fill="#90ee90" stroke="#08589e" stroke-width="2.4"/>
<circle cx="659.3" cy="248.8" r="5.9" fill="#90ee90" stroke="#08589e" stroke-width="2.4"/>
<circle cx="659.3" cy="242.4" r="5.9" fill="#90ee90" stroke="#08589e" stroke-width="2.4"/>
<circle cx="659.3" cy="236.0" r="5.9" fill="#90ee90" stroke="#08589e" stroke-width="2.4"/>
<circle cx="654.0" cy="347.0" r="5.9" fill="#90ee90" stroke="#08589e" stroke-width="2.4"/>
<circle cx="654.0" cy="344.0" r="5.9" fill="#90ee90" stroke="#08589e" stroke-width="2.4"/>
<circle cx="654.0" cy="341.0" r="5.9" fill="#90ee90" stroke="#08589e" stroke-width="2.4"/>
<circle cx="654.0" cy="337.9" r="5.9" fill="#90ee90" stroke="#08589e" stroke-width="2.4"/>
<circle cx="654.0" cy="334.9" r="5.9" fill="#90ee90" stroke="#08589e" stroke-width="2.4"/>
<circle cx="654.0" cy="331.9" r="5.9" fill="#90ee90" stroke="#08589e" stroke-width="2.4"/>
<circle cx="654.0" cy="328.9" r="5.9" fill="#90ee90" stroke="#08589e" stroke-width="2.4"/>
<circle cx="654.0" cy="325.9" r="5.9" fill="#90ee90" stroke="#08589e" stroke-width="2.4"/>
<circle cx="654.0" cy="322.8" r="5.9" fill="#90ee90" stroke="#08589e" stroke-width="2.4"/>
<circle cx="654.0" cy="319.8" r="5.9" fill="#90ee90" stroke="#08589e" stroke-width="2.4"/>
<circle cx="654.0" cy="316.8" r="5.9" fill="#90ee90" stroke="#08589e" stroke-width="2.4"/>
<circle cx="654.0" cy="313.8" r="5.9" fill="#90ee90" stroke="#08589e" stroke-width="2.4"/>
<circle cx="654.0" cy="310.8" r="5.9" fill="#90ee90" stroke="#08589e" stroke-width="2.4"/>
<circle cx="654.0" cy="307.7" r="5.9" fill="#90ee90" stroke="#08589e" stroke-width="2.4"/>
<circle cx="654.0" cy="304.7" r="5.9" fill="#90ee90" stroke="#08589e" stroke-width="2.4"/>
<circle cx="654.0" cy="301.7" r="5.9" fill="#90ee90" stroke="#08589e" stroke-width="2.4"/>
<circle cx="654.0" cy="298.7" r="5.9" fill="#90ee90" stroke="#08589e" stroke-width="2.4"/>
<circle cx="654.0" cy="295.7" r="5.9" fill="#90ee90" stroke="#08589e" stroke-width="2.4"/>
<circle cx="654.0" cy="292.6" r="5.9" fill="#90ee90" stroke="#08589e" stroke-width="2.4"/>
<circle cx="654.0" cy="289.6" r="5.9" fill="#90ee90" stroke="#08589e" stroke-width="2.4"/>
<circle cx="654.0" cy="286.6" r="5.9" fill="#90ee90" stroke="#08589e" stroke-width="2.4"/>
<circle cx="654.0" cy="283.6" r="5.9" fill="#90ee90" stroke="#08589e" stroke-width="2.4"/>
<circle cx="654.0" cy="280.6" r="5.9" fill="#90ee90" stroke="#08589e" stroke-width="2.4"/>
<circle cx="654.0" cy="277.5" r="5.9" fill="#90ee90" stroke="#08589e" stroke-width="2.4"/>
<circle cx="654.0" cy="274.5" r="5.9" fill="#90ee90" stroke="#08589e" stroke-width="2.4"/>
<circle cx="654.0" cy="271.5" r="5.9" fill="#90ee90" stroke="#08589e" stroke-width="2.4"/>
<circle cx="654.0" cy="268.5" r="5.9" fill="#90ee90" stroke="#08589e" stroke-width="2.4"/>
<circle cx="654.0" cy="265.5" r="5.9" fill="#90ee90" stroke="#08589e" stroke-width="2.4"/>
<circle cx="654.0" cy="262.4" r="5.9" fill="#90ee90" stroke="#08589e" stroke-width="2.4"/>
<circle cx="654.0" cy="259.4" r="5.9" fill="#90ee90" stroke="#08589e" stroke-width="2.4"/>
<circle cx="654.0" cy="256.4" r="5.9" fill="#90ee90" stroke="#08589e" stroke-width="2.4"/>
<circle cx="654.0" cy="253.4" r="5.9" fill="#90ee90" stroke="#08589e" stroke-width="2.4"/>
<circle cx="654.0" cy="250.4" r="5.9" fill="#90ee90" stroke="#08589e" stroke-width="2.4"/>
<circle cx="654.0" cy="247.3" r="5.9" fill="#90ee90" stroke="#08589e" stroke-width="2.4"/>
<circle cx="654.0" cy="244.3" r="5.9" fill="#90ee90" stroke="#08589e" stroke-width="2.4"/>
<circle cx="654.0" cy="241.3" r="5.9" fill="#90ee90" stroke="#08589e" stroke-width="2.4"/>
<circle cx="654.0" cy="238.3" r="5.9" fill="#90ee90" stroke="#08589e" stroke-width="2.4"/>
<circle cx="654.0" cy="235.3" r="5.9" fill="#90ee90" stroke="#08589e" stroke-width="2.4"/>
<circle cx="654.0" cy="232.2" r="5.9" fill="#90ee90" stroke="#08589e" stroke-width="2.4"/>
<circle cx="654.0" cy="229.2" r="5.9" fill="#90ee90" stroke="#08589e" stroke-width="2.4"/>
<circle cx="654.0" cy="226.2" r="5.9" fill="#90ee90" stroke="#08589e" stroke-width="2.4"/>
<circle cx="654.0" cy="223.2" r="5.9" fill="#90ee90" stroke="#08589e" stroke-width="2.4"/>
<circle cx="654.0" cy="220.2" r="5.9" fill="#90ee90" stroke="#08589e" stroke-width="2.4"/>
<circle cx="654.0" cy="217.1" r="5.9" fill="#90ee90" stroke="#08589e" stroke-width="2.4"/>
<circle cx="654.0" cy="214.1" r="5.9" fill="#90ee90" stroke="#08589e" stroke-width="2.4"/>
<circle cx="654.0" cy="211.1" r="5.9" fill="#90ee90" stroke="#08589e" stroke-width="2.4"/>
<circle cx="654.0" cy="208.1" r="5.9" fill="#90ee90" stroke="#08589e" stroke-width="2.4"/>
<circle cx="654.0" cy="205.1" r="5.9" fill="#90ee90" stroke="#08589e" stroke-width="2.4"/>
<circle cx="654.0" cy="202.0" r="5.9" fill="#90ee90" stroke="#08589e" stroke-width="2.4"/>
<circle cx="654.0" cy="199.0" r="5.9" fill="#90ee90" stroke="#08589e" stroke-width="2.4"/>
<circle cx="654.0" cy="196.0" r="5.9" fill="#90ee90" stroke="#08589e" stroke-width="2.4"/>
<circle cx="653.4" cy="190.5" r="5.9" fill="#90ee90" stroke="#08589e" stroke-width="2.4"/>
<circle cx="653.4" cy="185.4" r="5.9" fill="#90ee90" stroke="#08589e" stroke-width="2.4"/>
<circle cx="653.4" cy="179.3" r="5.9" fill="#90ee90" stroke="#08589e" stroke-width="2.4"/>
<circle cx="659.5" cy="334.0" r="8.1" fill="#3b7dbb" stroke="#08589e" stroke-width="2.2"/>
<circle cx="659.5" cy="331.0" r="8.1" fill="#3b7dbb" stroke="#08589e" stroke-width="2.2"/>
<circle cx="659.5" cy="328.0" r="8.1" fill="#3b7dbb" stroke="#08589e" stroke-width="2.2"/>
<circle cx="650.4" cy="329.5" r="8.1" fill="#3b7dbb" stroke="#08589e" stroke-width="2.2"/>
<circle cx="650.4" cy="326.0" r="8.1" fill="#3b7dbb" stroke="#08589e" stroke-width="2.2"/>
<circle cx="650.4" cy="323.0" r="8.1" fill="#3b7dbb" stroke="#08589e" stroke-width="2.2"/>
<circle cx="650.4" cy="320.5" r="8.1" fill="#3b7dbb" stroke="#08589e" stroke-width="2.2"/>
<circle cx="650.4" cy="316.0" r="8.1" fill="#3b7dbb" stroke="#08589e" stroke-width="2.2"/>
<circle cx="650.4" cy="312.2" r="8.1" fill="#3b7dbb" stroke="#08589e" stroke-width="2.2"/>
<circle cx="650.4" cy="308.3" r="8.1" fill="#3b7dbb" stroke="#08589e" stroke-width="2.2"/>
<circle cx="650.4" cy="304.5" r="8.1" fill="#3b7dbb" stroke="#08589e" stroke-width="2.2"/>
<circle cx="650.4" cy="300.7" r="8.1" fill="#3b7dbb" stroke="#08589e" stroke-width="2.2"/>
<circle cx="650.4" cy="296.8" r="8.1" fill="#3b7dbb" stroke="#08589e" stroke-width="2.2"/>
<circle cx="650.4" cy="293.0" r="8.1" fill="#3b7dbb" stroke="#08589e" stroke-width="2.2"/>
<circle cx="650.4" cy="289.1" r="8.1" fill="#3b7dbb" stroke="#08589e" stroke-width="2.2"/>
<circle cx="650.4" cy="285.3" r="8.1" fill="#3b7dbb" stroke="#08589e" stroke-width="2.2"/>
<circle cx="650.4" cy="281.5" r="8.1" fill="#3b7dbb" stroke="#08589e" stroke-width="2.2"/>
<circle cx="650.4" cy="277.6" r="8.1" fill="#3b7dbb" stroke="#08589e" stroke-width="2.2"/>
<circle cx="650.4" cy="273.8" r="8.1" fill="#3b7dbb" stroke="#08589e" stroke-width="2.2"/>
<circle cx="650.4" cy="270.0" r="8.1" fill="#3b7dbb" stroke="#08589e" stroke-width="2.2"/>
<circle cx="650.4" cy="266.1" r="8.1" fill="#3b7dbb" stroke="#08589e" stroke-width="2.2"/>
<circle cx="650.4" cy="262.3" r="8.1" fill="#3b7dbb" stroke="#08589e" stroke-width="2.2"/>
<circle cx="650.4" cy="258.4" r="8.1" fill="#3b7dbb" stroke="#08589e" stroke-width="2.2"/>
<circle cx="650.4" cy="254.6" r="8.1" fill="#3b7dbb" stroke="#08589e" stroke-width="2.2"/>
<circle cx="650.4" cy="250.8" r="8.1" fill="#3b7dbb" stroke="#08589e" stroke-width="2.2"/>
<circle cx="650.4" cy="246.9" r="8.1" fill="#3b7dbb" stroke="#08589e" stroke-width="2.2"/>
<circle cx="650.4" cy="243.1" r="8.1" fill="#3b7dbb" stroke="#08589e" stroke-width="2.2"/>
<circle cx="650.4" cy="239.3" r="8.1" fill="#3b7dbb" stroke="#08589e" stroke-width="2.2"/>
<circle cx="650.4" cy="235.4" r="8.1" fill="#3b7dbb" stroke="#08589e" stroke-width="2.2"/>
<circle cx="650.4" cy="231.6" r="8.1" fill="#3b7dbb" stroke="#08589e" stroke-width="2.2"/>
<circle cx="650.4" cy="227.7" r="8.1" fill="#3b7dbb" stroke="#08589e" stroke-width="2.2"/>
<circle cx="650.4" cy="223.9" r="8.1" fill="#3b7dbb" stroke="#08589e" stroke-width="2.2"/>
<circle cx="650.4" cy="220.1" r="8.1" fill="#3b7dbb" stroke="#08589e" stroke-width="2.2"/>
<circle cx="650.4" cy="216.2" r="8.1" fill="#3b7dbb" stroke="#08589e" stroke-width="2.2"/>
<circle cx="650.4" cy="212.4" r="8.1" fill="#3b7dbb" stroke="#08589e" stroke-width="2.2"/>
<circle cx="650.4" cy="316.0" r="8.1" fill="#3b7dbb" stroke="#08589e" stroke-width="2.2"/>
<circle cx="650.4" cy="292.0" r="8.1" fill="#3b7dbb" stroke="#08589e" stroke-width="2.2"/>
<circle cx="650.4" cy="269.2" r="8.1" fill="#3b7dbb" stroke="#08589e" stroke-width="2.2"/>
<circle cx="650.4" cy="248.4" r="8.1" fill="#3b7dbb" stroke="#08589e" stroke-width="2.2"/>
<circle cx="650.4" cy="225.0" r="8.1" fill="#3b7dbb" stroke="#08589e" stroke-width="2.2"/>
<circle cx="654.0" cy="346.9" r="5.9" fill="#90ee90" stroke="#08589e" stroke-width="2.4"/>
<circle cx="709.5" cy="377.0" r="5.9" fill="#90ee90" stroke="#a5511f" stroke-width="2.4"/>
<circle cx="709.5" cy="374.2" r="5.9" fill="#90ee90" stroke="#a5511f" stroke-width="2.4"/>
<circle cx="709.5" cy="371.3" r="5.9" fill="#90ee90" stroke="#a5511f" stroke-width="2.4"/>
<circle cx="709.5" cy="368.5" r="5.9" fill="#90ee90" stroke="#a5511f" stroke-width="2.4"/>
<circle cx="709.5" cy="365.7" r="5.9" fill="#90ee90" stroke="#a5511f" stroke-width="2.4"/>
<circle cx="709.5" cy="362.8" r="5.9" fill="#90ee90" stroke="#a5511f" stroke-width="2.4"/>
<circle cx="709.5" cy="360.0" r="5.9" fill="#90ee90" stroke="#a5511f" stroke-width="2.4"/>
<circle cx="704.2" cy="367.1" r="5.9" fill="#90ee90" stroke="#08589e" stroke-width="2.4"/>
<circle cx="708.0" cy="354.0" r="5.9" fill="#90ee90" stroke="#08589e" stroke-width="2.4"/>
<circle cx="708.0" cy="351.2" r="5.9" fill="#90ee90" stroke="#08589e" stroke-width="2.4"/>
<circle cx="708.0" cy="348.4" r="5.9" fill="#90ee90" stroke="#08589e" stroke-width="2.4"/>
<circle cx="708.0" cy="345.6" r="5.9" fill="#90ee90" stroke="#08589e" stroke-width="2.4"/>
<circle cx="708.0" cy="342.8" r="5.9" fill="#90ee90" stroke="#08589e" stroke-width="2.4"/>
<circle cx="708.0" cy="340.0" r="5.9" fill="#90ee90" stroke="#08589e" stroke-width="2.4"/>
<circle cx="703.4" cy="308.0" r="5.9" fill="#90ee90" stroke="#08589e" stroke-width="2.4"/>
<circle cx="703.4" cy="302.6" r="5.9" fill="#90ee90" stroke="#08589e" stroke-width="2.4"/>
<circle cx="703.4" cy="297.2" r="5.9" fill="#90ee90" stroke="#08589e" stroke-width="2.4"/>
<circle cx="703.4" cy="291.7" r="5.9" fill="#90ee90" stroke="#08589e" stroke-width="2.4"/>
<circle cx="703.4" cy="286.3" r="5.9" fill="#90ee90" stroke="#08589e" stroke-width="2.4"/>
<circle cx="703.4" cy="280.9" r="5.9" fill="#90ee90" stroke="#08589e" stroke-width="2.4"/>
<circle cx="703.4" cy="275.5" r="5.9" fill="#90ee90" stroke="#08589e" stroke-width="2.4"/>
<circle cx="703.4" cy="270.1" r="5.9" fill="#90ee90" stroke="#08589e" stroke-width="2.4"/>
<circle cx="703.4" cy="264.6" r="5.9" fill="#90ee90" stroke="#08589e" stroke-width="2.4"/>
<circle cx="703.4" cy="259.2" r="5.9" fill="#90ee90" stroke="#08589e" stroke-width="2.4"/>
<circle cx="703.4" cy="253.8" r="5.9" fill="#90ee90" stroke="#08589e" stroke-width="2.4"/>
<circle cx="703.4" cy="248.4" r="5.9" fill="#90ee90" stroke="#08589e" stroke-width="2.4"/>
<circle cx="703.4" cy="242.9" r="5.9" fill="#90ee90" stroke="#08589e" stroke-width="2.4"/>
<circle cx="703.4" cy="237.5" r="5.9" fill="#90ee90" stroke="#08589e" stroke-width="2.4"/>
<circle cx="703.4" cy="232.1" r="5.9" fill="#90ee90" stroke="#08589e" stroke-width="2.4"/>
<circle cx="703.4" cy="226.7" r="5.9" fill="#90ee90" stroke="#08589e" stroke-width="2.4"/>
<circle cx="703.4" cy="221.3" r="5.9" fill="#90ee90" stroke="#08589e" stroke-width="2.4"/>
<circle cx="703.4" cy="215.8" r="5.9" fill="#90ee90" stroke="#08589e" stroke-width="2.4"/>
<circle cx="703.4" cy="210.4" r="5.9" fill="#90ee90" stroke="#08589e" stroke-width="2.4"/>
<circle cx="703.4" cy="205.0" r="5.9" fill="#90ee90" stroke="#08589e" stroke-width="2.4"/>
<circle cx="709.0" cy="340.0" r="8.1" fill="#3b7dbb" stroke="#08589e" stroke-width="2.2"/>
<circle cx="709.0" cy="337.0" r="8.1" fill="#3b7dbb" stroke="#08589e" stroke-width="2.2"/>
<circle cx="709.0" cy="334.0" r="8.1" fill="#3b7dbb" stroke="#08589e" stroke-width="2.2"/>
<circle cx="709.0" cy="331.0" r="8.1" fill="#3b7dbb" stroke="#08589e" stroke-width="2.2"/>
<circle cx="709.0" cy="328.0" r="8.1" fill="#3b7dbb" stroke="#08589e" stroke-width="2.2"/>
<circle cx="709.0" cy="325.0" r="8.1" fill="#3b7dbb" stroke="#08589e" stroke-width="2.2"/>
<circle cx="709.0" cy="322.0" r="8.1" fill="#3b7dbb" stroke="#08589e" stroke-width="2.2"/>
<circle cx="709.0" cy="319.0" r="8.1" fill="#3b7dbb" stroke="#08589e" stroke-width="2.2"/>
<circle cx="708.5" cy="316.0" r="8.1" fill="#3b7dbb" stroke="#08589e" stroke-width="2.2"/>
<circle cx="712.9" cy="306.0" r="8.1" fill="#3b7dbb" stroke="#08589e" stroke-width="2.2"/>
<circle cx="712.9" cy="302.1" r="8.1" fill="#3b7dbb" stroke="#08589e" stroke-width="2.2"/>
<circle cx="712.9" cy="298.2" r="8.1" fill="#3b7dbb" stroke="#08589e" stroke-width="2.2"/>
<circle cx="712.9" cy="294.2" r="8.1" fill="#3b7dbb" stroke="#08589e" stroke-width="2.2"/>
<circle cx="712.9" cy="290.3" r="8.1" fill="#3b7dbb" stroke="#08589e" stroke-width="2.2"/>
<circle cx="712.9" cy="286.4" r="8.1" fill="#3b7dbb" stroke="#08589e" stroke-width="2.2"/>
<circle cx="712.9" cy="282.5" r="8.1" fill="#3b7dbb" stroke="#08589e" stroke-width="2.2"/>
<circle cx="712.9" cy="278.6" r="8.1" fill="#3b7dbb" stroke="#08589e" stroke-width="2.2"/>
<circle cx="712.9" cy="274.6" r="8.1" fill="#3b7dbb" stroke="#08589e" stroke-width="2.2"/>
<circle cx="712.9" cy="270.7" r="8.1" fill="#3b7dbb" stroke="#08589e" stroke-width="2.2"/>
<circle cx="712.9" cy="266.8" r="8.1" fill="#3b7dbb" stroke="#08589e" stroke-width="2.2"/>
<circle cx="712.9" cy="262.9" r="8.1" fill="#3b7dbb" stroke="#08589e" stroke-width="2.2"/>
<circle cx="712.9" cy="258.9" r="8.1" fill="#3b7dbb" stroke="#08589e" stroke-width="2.2"/>
<circle cx="712.9" cy="255.0" r="8.1" fill="#3b7dbb" stroke="#08589e" stroke-width="2.2"/>
<circle cx="712.9" cy="251.1" r="8.1" fill="#3b7dbb" stroke="#08589e" stroke-width="2.2"/>
<circle cx="712.9" cy="247.2" r="8.1" fill="#3b7dbb" stroke="#08589e" stroke-width="2.2"/>
<circle cx="712.9" cy="243.3" r="8.1" fill="#3b7dbb" stroke="#08589e" stroke-width="2.2"/>
<circle cx="712.9" cy="239.3" r="8.1" fill="#3b7dbb" stroke="#08589e" stroke-width="2.2"/>
<circle cx="712.9" cy="235.4" r="8.1" fill="#3b7dbb" stroke="#08589e" stroke-width="2.2"/>
<circle cx="712.9" cy="231.5" r="8.1" fill="#3b7dbb" stroke="#08589e" stroke-width="2.2"/>
<circle cx="712.9" cy="227.6" r="8.1" fill="#3b7dbb" stroke="#08589e" stroke-width="2.2"/>
<circle cx="712.9" cy="223.7" r="8.1" fill="#3b7dbb" stroke="#08589e" stroke-width="2.2"/>
<circle cx="712.9" cy="219.7" r="8.1" fill="#3b7dbb" stroke="#08589e" stroke-width="2.2"/>
<circle cx="712.9" cy="215.8" r="8.1" fill="#3b7dbb" stroke="#08589e" stroke-width="2.2"/>
<circle cx="712.9" cy="211.9" r="8.1" fill="#3b7dbb" stroke="#08589e" stroke-width="2.2"/>
<circle cx="712.9" cy="300.0" r="8.1" fill="#3b7dbb" stroke="#08589e" stroke-width="2.2"/>
<circle cx="712.9" cy="280.0" r="8.1" fill="#3b7dbb" stroke="#08589e" stroke-width="2.2"/>
<circle cx="712.9" cy="259.6" r="8.1" fill="#3b7dbb" stroke="#08589e" stroke-width="2.2"/>
<circle cx="712.9" cy="245.3" r="8.1" fill="#3b7dbb" stroke="#08589e" stroke-width="2.2"/>
<circle cx="712.9" cy="221.0" r="8.1" fill="#3b7dbb" stroke="#08589e" stroke-width="2.2"/>
<circle cx="704.3" cy="201.7" r="5.9" fill="#90ee90" stroke="#08589e" stroke-width="2.4"/>
<circle cx="862.3" cy="452.5" r="5.9" fill="#90ee90" stroke="#a5511f" stroke-width="2.4"/>
<circle cx="862.3" cy="457.1" r="5.9" fill="#90ee90" stroke="#a5511f" stroke-width="2.4"/>
<circle cx="862.3" cy="482.9" r="7.4" fill="none" stroke="#a5511f" stroke-width="1.2"/>
<circle cx="862.3" cy="482.9" r="5.9" fill="#90ee90" stroke="#08589e" stroke-width="2.4"/>
<circle cx="862.3" cy="361.1" r="5.9" fill="#90ee90" stroke="#08589e" stroke-width="2.4"/>
<circle cx="862.3" cy="357.2" r="5.9" fill="#90ee90" stroke="#08589e" stroke-width="2.4"/>
<circle cx="862.3" cy="353.3" r="5.9" fill="#90ee90" stroke="#08589e" stroke-width="2.4"/>
<circle cx="862.3" cy="349.5" r="5.9" fill="#90ee90" stroke="#08589e" stroke-width="2.4"/>
<circle cx="862.3" cy="345.6" r="5.9" fill="#90ee90" stroke="#08589e" stroke-width="2.4"/>
<circle cx="862.3" cy="341.7" r="5.9" fill="#90ee90" stroke="#08589e" stroke-width="2.4"/>
<circle cx="862.3" cy="337.8" r="5.9" fill="#90ee90" stroke="#08589e" stroke-width="2.4"/>
<circle cx="862.3" cy="333.9" r="5.9" fill="#90ee90" stroke="#08589e" stroke-width="2.4"/>
<circle cx="862.3" cy="330.0" r="5.9" fill="#90ee90" stroke="#08589e" stroke-width="2.4"/>
<circle cx="862.3" cy="326.2" r="5.9" fill="#90ee90" stroke="#08589e" stroke-width="2.4"/>
<circle cx="862.3" cy="322.3" r="5.9" fill="#90ee90" stroke="#08589e" stroke-width="2.4"/>
<circle cx="862.3" cy="318.4" r="5.9" fill="#90ee90" stroke="#08589e" stroke-width="2.4"/>
<circle cx="862.3" cy="342.4" r="5.9" fill="#90ee90" stroke="#08589e" stroke-width="2.4"/>
<circle cx="862.3" cy="318.4" r="5.9" fill="#90ee90" stroke="#08589e" stroke-width="2.4"/>
<circle cx="862.3" cy="361.1" r="5.9" fill="#90ee90" stroke="#08589e" stroke-width="2.4"/>
<circle cx="865.2" cy="438.5" r="8.1" fill="#3b7dbb" stroke="#a5511f" stroke-width="2.2"/>
<circle cx="865.9" cy="437.0" r="8.1" fill="#3b7dbb" stroke="#08589e" stroke-width="2.2"/>
<circle cx="865.9" cy="434.0" r="8.1" fill="#3b7dbb" stroke="#08589e" stroke-width="2.2"/>
<circle cx="865.9" cy="431.0" r="8.1" fill="#3b7dbb" stroke="#08589e" stroke-width="2.2"/>
<circle cx="865.9" cy="428.0" r="8.1" fill="#3b7dbb" stroke="#08589e" stroke-width="2.2"/>
<circle cx="865.9" cy="425.0" r="8.1" fill="#3b7dbb" stroke="#08589e" stroke-width="2.2"/>
<circle cx="865.9" cy="416.0" r="8.1" fill="#3b7dbb" stroke="#08589e" stroke-width="2.2"/>
<circle cx="865.9" cy="412.1" r="8.1" fill="#3b7dbb" stroke="#08589e" stroke-width="2.2"/>
<circle cx="865.9" cy="408.2" r="8.1" fill="#3b7dbb" stroke="#08589e" stroke-width="2.2"/>
<circle cx="865.9" cy="404.3" r="8.1" fill="#3b7dbb" stroke="#08589e" stroke-width="2.2"/>
<circle cx="865.9" cy="400.4" r="8.1" fill="#3b7dbb" stroke="#08589e" stroke-width="2.2"/>
<circle cx="865.9" cy="396.6" r="8.1" fill="#3b7dbb" stroke="#08589e" stroke-width="2.2"/>
<circle cx="865.9" cy="392.7" r="8.1" fill="#3b7dbb" stroke="#08589e" stroke-width="2.2"/>
<circle cx="865.9" cy="388.8" r="8.1" fill="#3b7dbb" stroke="#08589e" stroke-width="2.2"/>
<circle cx="865.9" cy="384.9" r="8.1" fill="#3b7dbb" stroke="#08589e" stroke-width="2.2"/>
<circle cx="865.9" cy="381.0" r="8.1" fill="#3b7dbb" stroke="#08589e" stroke-width="2.2"/>
<circle cx="865.9" cy="435.8" r="8.1" fill="#3b7dbb" stroke="#08589e" stroke-width="2.2"/>
<circle cx="865.9" cy="420.7" r="8.1" fill="#3b7dbb" stroke="#08589e" stroke-width="2.2"/>
<circle cx="865.9" cy="377.6" r="8.1" fill="#3b7dbb" stroke="#08589e" stroke-width="2.2"/>
<circle cx="996.7" cy="451.9" r="8.1" fill="#3b7dbb" stroke="#a5511f" stroke-width="2.2"/>
<circle cx="996.7" cy="449.2" r="8.1" fill="#3b7dbb" stroke="#08589e" stroke-width="2.2"/>
<circle cx="996.7" cy="446.0" r="8.1" fill="#3b7dbb" stroke="#08589e" stroke-width="2.2"/>
<circle cx="996.7" cy="443.0" r="8.1" fill="#3b7dbb" stroke="#08589e" stroke-width="2.2"/>
<circle cx="996.7" cy="438.1" r="8.1" fill="#3b7dbb" stroke="#08589e" stroke-width="2.2"/>
<circle cx="997.3" cy="416.7" r="8.1" fill="#3b7dbb" stroke="#a5511f" stroke-width="2.2"/>
<circle cx="997.3" cy="414.0" r="8.1" fill="#3b7dbb" stroke="#08589e" stroke-width="2.2"/>
<circle cx="997.3" cy="412.0" r="8.1" fill="#3b7dbb" stroke="#08589e" stroke-width="2.2"/>
<circle cx="997.3" cy="410.0" r="8.1" fill="#3b7dbb" stroke="#08589e" stroke-width="2.2"/>
<circle cx="997.3" cy="408.0" r="8.1" fill="#3b7dbb" stroke="#08589e" stroke-width="2.2"/>
<circle cx="997.3" cy="406.0" r="8.1" fill="#3b7dbb" stroke="#08589e" stroke-width="2.2"/>
<circle cx="997.3" cy="404.0" r="8.1" fill="#3b7dbb" stroke="#08589e" stroke-width="2.2"/>
<circle cx="997.3" cy="402.0" r="8.1" fill="#3b7dbb" stroke="#08589e" stroke-width="2.2"/>
<circle cx="997.3" cy="398.4" r="8.1" fill="#3b7dbb" stroke="#08589e" stroke-width="2.2"/>
<circle cx="997.3" cy="394.3" r="8.1" fill="#3b7dbb" stroke="#08589e" stroke-width="2.2"/>
<circle cx="997.3" cy="389.0" r="8.1" fill="#3b7dbb" stroke="#08589e" stroke-width="2.2"/>
<circle cx="997.3" cy="386.0" r="8.1" fill="#3b7dbb" stroke="#08589e" stroke-width="2.2"/>
<circle cx="997.3" cy="383.5" r="8.1" fill="#3b7dbb" stroke="#08589e" stroke-width="2.2"/>
<circle cx="997.3" cy="375.8" r="8.1" fill="#3b7dbb" stroke="#08589e" stroke-width="2.2"/>
<circle cx="997.3" cy="368.0" r="8.1" fill="#3b7dbb" stroke="#08589e" stroke-width="2.2"/>
<circle cx="997.3" cy="361.6" r="8.1" fill="#3b7dbb" stroke="#08589e" stroke-width="2.2"/>
<circle cx="997.3" cy="355.0" r="8.1" fill="#3b7dbb" stroke="#08589e" stroke-width="2.2"/>
<circle cx="997.3" cy="349.0" r="8.1" fill="#3b7dbb" stroke="#08589e" stroke-width="2.2"/>
<circle cx="997.3" cy="346.5" r="8.1" fill="#3b7dbb" stroke="#08589e" stroke-width="2.2"/>
<circle cx="997.3" cy="345.3" r="8.1" fill="#3b7dbb" stroke="#08589e" stroke-width="2.2"/>
<circle cx="1066.4" cy="468.2" r="8.2" fill="#3b7dbb" stroke="#a5511f" stroke-width="2.2"/>
<circle cx="1066.4" cy="466.1" r="8.1" fill="#3b7dbb" stroke="#08589e" stroke-width="2.2"/>
<circle cx="1066.4" cy="464.0" r="8.1" fill="#3b7dbb" stroke="#08589e" stroke-width="2.2"/>
<circle cx="1066.4" cy="462.0" r="8.1" fill="#3b7dbb" stroke="#08589e" stroke-width="2.2"/>
<circle cx="1066.4" cy="460.0" r="8.1" fill="#3b7dbb" stroke="#08589e" stroke-width="2.2"/>
<circle cx="1066.4" cy="458.0" r="8.1" fill="#3b7dbb" stroke="#08589e" stroke-width="2.2"/>
<circle cx="1066.4" cy="440.5" r="8.1" fill="#3b7dbb" stroke="#08589e" stroke-width="2.2"/>
<circle cx="1066.4" cy="453.7" r="8.1" fill="#3b7dbb" stroke="#08589e" stroke-width="2.2"/>
<circle cx="1066.4" cy="411.3" r="8.1" fill="#3b7dbb" stroke="#08589e" stroke-width="2.2"/>
<circle cx="1066.4" cy="409.5" r="8.1" fill="#3b7dbb" stroke="#08589e" stroke-width="2.2"/>
<circle cx="1066.4" cy="408.0" r="8.1" fill="#3b7dbb" stroke="#08589e" stroke-width="2.2"/>
<circle cx="1066.4" cy="406.0" r="8.1" fill="#3b7dbb" stroke="#08589e" stroke-width="2.2"/>
<circle cx="1066.4" cy="404.0" r="8.1" fill="#3b7dbb" stroke="#08589e" stroke-width="2.2"/>
<circle cx="1066.4" cy="402.0" r="8.1" fill="#3b7dbb" stroke="#08589e" stroke-width="2.2"/>
<circle cx="1066.4" cy="400.0" r="8.1" fill="#3b7dbb" stroke="#08589e" stroke-width="2.2"/>
<circle cx="1066.4" cy="398.0" r="8.1" fill="#3b7dbb" stroke="#08589e" stroke-width="2.2"/>
<circle cx="1066.4" cy="396.0" r="8.1" fill="#3b7dbb" stroke="#08589e" stroke-width="2.2"/>
<circle cx="1066.4" cy="393.0" r="8.1" fill="#3b7dbb" stroke="#08589e" stroke-width="2.2"/>
<circle cx="1066.4" cy="390.3" r="8.1" fill="#3b7dbb" stroke="#08589e" stroke-width="2.2"/>
<circle cx="1066.4" cy="387.6" r="8.1" fill="#3b7dbb" stroke="#08589e" stroke-width="2.2"/>
<circle cx="1066.4" cy="384.0" r="8.1" fill="#3b7dbb" stroke="#08589e" stroke-width="2.2"/>
<circle cx="1066.4" cy="373.5" r="8.1" fill="#3b7dbb" stroke="#08589e" stroke-width="2.2"/>
<circle cx="1197.4" cy="425.7" r="8.1" fill="#3b7dbb" stroke="#08589e" stroke-width="2.2"/>
<circle cx="1197.4" cy="401.3" r="8.1" fill="#3b7dbb" stroke="#08589e" stroke-width="2.2"/>
<circle cx="1197.4" cy="399.0" r="8.1" fill="#3b7dbb" stroke="#08589e" stroke-width="2.2"/>
<circle cx="1197.4" cy="397.0" r="8.1" fill="#3b7dbb" stroke="#08589e" stroke-width="2.2"/>
<circle cx="1197.4" cy="395.0" r="8.1" fill="#3b7dbb" stroke="#08589e" stroke-width="2.2"/>
<circle cx="1197.4" cy="393.2" r="8.1" fill="#3b7dbb" stroke="#08589e" stroke-width="2.2"/>
<circle cx="1197.4" cy="390.0" r="8.1" fill="#3b7dbb" stroke="#08589e" stroke-width="2.2"/>
<circle cx="1197.4" cy="388.0" r="8.1" fill="#3b7dbb" stroke="#08589e" stroke-width="2.2"/>
<circle cx="1197.4" cy="386.0" r="8.1" fill="#3b7dbb" stroke="#08589e" stroke-width="2.2"/>
<circle cx="1197.4" cy="384.0" r="8.1" fill="#3b7dbb" stroke="#08589e" stroke-width="2.2"/>
<circle cx="1197.4" cy="342.1" r="8.1" fill="#3b7dbb" stroke="#08589e" stroke-width="2.2"/>
<circle cx="1197.4" cy="343.5" r="8.1" fill="#3b7dbb" stroke="#08589e" stroke-width="2.2"/>
<circle cx="1197.4" cy="345.9" r="8.1" fill="#3b7dbb" stroke="#08589e" stroke-width="2.2"/>
<circle cx="1197.4" cy="347.9" r="8.1" fill="#3b7dbb" stroke="#08589e" stroke-width="2.2"/>
<circle cx="1197.4" cy="350.0" r="8.1" fill="#3b7dbb" stroke="#08589e" stroke-width="2.2"/>
<circle cx="1197.4" cy="352.0" r="8.1" fill="#3b7dbb" stroke="#08589e" stroke-width="2.2"/>
<circle cx="1197.4" cy="374.0" r="8.1" fill="#3b7dbb" stroke="#08589e" stroke-width="2.2"/>
<circle cx="1197.4" cy="372.0" r="8.1" fill="#3b7dbb" stroke="#08589e" stroke-width="2.2"/>
<circle cx="1197.4" cy="370.0" r="8.1" fill="#3b7dbb" stroke="#08589e" stroke-width="2.2"/>
<circle cx="1197.4" cy="368.0" r="8.1" fill="#3b7dbb" stroke="#08589e" stroke-width="2.2"/>
<circle cx="1197.4" cy="366.0" r="8.1" fill="#3b7dbb" stroke="#08589e" stroke-width="2.2"/>
<circle cx="1197.4" cy="380.0" r="8.1" fill="#3b7dbb" stroke="#08589e" stroke-width="2.2"/>
<circle cx="1197.4" cy="359.6" r="8.1" fill="#3b7dbb" stroke="#08589e" stroke-width="2.2"/>
<circle cx="1336.3" cy="411.4" r="8.1" fill="#3b7dbb" stroke="#08589e" stroke-width="2.2"/>
<circle cx="1336.3" cy="410.3" r="8.1" fill="#3b7dbb" stroke="#08589e" stroke-width="2.2"/>
<circle cx="1336.3" cy="409.2" r="8.1" fill="#3b7dbb" stroke="#08589e" stroke-width="2.2"/>
<circle cx="1336.3" cy="408.1" r="8.1" fill="#3b7dbb" stroke="#08589e" stroke-width="2.2"/>
<circle cx="1336.3" cy="407.0" r="8.1" fill="#3b7dbb" stroke="#08589e" stroke-width="2.2"/>
<circle cx="1336.3" cy="405.9" r="8.1" fill="#3b7dbb" stroke="#08589e" stroke-width="2.2"/>
<circle cx="1336.3" cy="404.8" r="8.1" fill="#3b7dbb" stroke="#08589e" stroke-width="2.2"/>
<circle cx="1336.3" cy="403.7" r="8.1" fill="#3b7dbb" stroke="#08589e" stroke-width="2.2"/>
<circle cx="1336.3" cy="402.6" r="8.1" fill="#3b7dbb" stroke="#08589e" stroke-width="2.2"/>
<circle cx="1336.3" cy="401.5" r="8.1" fill="#3b7dbb" stroke="#08589e" stroke-width="2.2"/>
<circle cx="1336.3" cy="400.4" r="8.1" fill="#3b7dbb" stroke="#08589e" stroke-width="2.2"/>
<circle cx="1494.5" cy="300.0" r="8.6" fill="#3b7dbb" stroke="#a5511f" stroke-width="2.2"/>
<circle cx="1494.5" cy="277.1" r="8.1" fill="#3b7dbb" stroke="#08589e" stroke-width="2.2"/>
<circle cx="1494.5" cy="278.1" r="8.1" fill="#3b7dbb" stroke="#08589e" stroke-width="2.2"/>
<circle cx="1494.5" cy="279.1" r="8.1" fill="#3b7dbb" stroke="#08589e" stroke-width="2.2"/>
<circle cx="1494.5" cy="280.1" r="8.1" fill="#3b7dbb" stroke="#08589e" stroke-width="2.2"/>
<circle cx="1494.5" cy="281.1" r="8.1" fill="#3b7dbb" stroke="#08589e" stroke-width="2.2"/>
<circle cx="1494.5" cy="282.0" r="8.1" fill="#3b7dbb" stroke="#08589e" stroke-width="2.2"/>
<circle cx="1494.5" cy="283.0" r="8.1" fill="#3b7dbb" stroke="#08589e" stroke-width="2.2"/>
<circle cx="1494.5" cy="284.0" r="8.1" fill="#3b7dbb" stroke="#08589e" stroke-width="2.2"/>
<circle cx="1494.5" cy="285.0" r="8.1" fill="#3b7dbb" stroke="#08589e" stroke-width="2.2"/>
<circle cx="1494.5" cy="286.0" r="8.1" fill="#3b7dbb" stroke="#08589e" stroke-width="2.2"/>
<circle cx="1494.5" cy="319.0" r="8.1" fill="#3b7dbb" stroke="#08589e" stroke-width="2.2"/>
<circle cx="1494.5" cy="317.8" r="8.1" fill="#3b7dbb" stroke="#08589e" stroke-width="2.2"/>
<circle cx="1494.5" cy="316.6" r="8.1" fill="#3b7dbb" stroke="#08589e" stroke-width="2.2"/>
<circle cx="1494.5" cy="315.4" r="8.1" fill="#3b7dbb" stroke="#08589e" stroke-width="2.2"/>
<circle cx="1494.5" cy="314.2" r="8.1" fill="#3b7dbb" stroke="#08589e" stroke-width="2.2"/>
<circle cx="1494.5" cy="312.9" r="8.1" fill="#3b7dbb" stroke="#08589e" stroke-width="2.2"/>
<circle cx="1494.5" cy="311.7" r="8.1" fill="#3b7dbb" stroke="#08589e" stroke-width="2.2"/>
<circle cx="1494.5" cy="310.5" r="8.1" fill="#3b7dbb" stroke="#08589e" stroke-width="2.2"/>
<circle cx="1494.5" cy="309.3" r="8.1" fill="#3b7dbb" stroke="#08589e" stroke-width="2.2"/>
<circle cx="1494.5" cy="308.1" r="8.1" fill="#3b7dbb" stroke="#08589e" stroke-width="2.2"/>
<circle cx="1494.5" cy="306.9" r="8.1" fill="#3b7dbb" stroke="#08589e" stroke-width="2.2"/>
<circle cx="1494.5" cy="305.7" r="8.1" fill="#3b7dbb" stroke="#08589e" stroke-width="2.2"/>
<circle cx="1494.5" cy="304.5" r="8.1" fill="#3b7dbb" stroke="#08589e" stroke-width="2.2"/>
<circle cx="1494.5" cy="303.3" r="8.1" fill="#3b7dbb" stroke="#08589e" stroke-width="2.2"/>
<circle cx="1494.5" cy="302.1" r="8.1" fill="#3b7dbb" stroke="#08589e" stroke-width="2.2"/>
<circle cx="1494.5" cy="300.8" r="8.1" fill="#3b7dbb" stroke="#08589e" stroke-width="2.2"/>
<circle cx="1494.5" cy="299.6" r="8.1" fill="#3b7dbb" stroke="#08589e" stroke-width="2.2"/>
<circle cx="1494.5" cy="298.4" r="8.1" fill="#3b7dbb" stroke="#08589e" stroke-width="2.2"/>
<circle cx="1494.5" cy="297.2" r="8.1" fill="#3b7dbb" stroke="#08589e" stroke-width="2.2"/>
<circle cx="1494.5" cy="296.0" r="8.1" fill="#3b7dbb" stroke="#08589e" stroke-width="2.2"/>
<circle cx="1494.5" cy="307.1" r="8.1" fill="#3b7dbb" stroke="#08589e" stroke-width="2.2"/>
<circle cx="1494.5" cy="287.2" r="8.1" fill="#3b7dbb" stroke="#08589e" stroke-width="2.2"/>
<circle cx="1494.5" cy="326.0" r="8.1" fill="#3b7dbb" stroke="#08589e" stroke-width="2.2"/>
<circle cx="1494.5" cy="327.0" r="8.1" fill="#3b7dbb" stroke="#08589e" stroke-width="2.2"/>
<circle cx="1494.5" cy="328.0" r="8.1" fill="#3b7dbb" stroke="#08589e" stroke-width="2.2"/>
<circle cx="1494.5" cy="336.0" r="8.1" fill="#3b7dbb" stroke="#08589e" stroke-width="2.2"/>
<circle cx="1564.7" cy="264.2" r="8.1" fill="#3b7dbb" stroke="#a5511f" stroke-width="2.2"/>
<circle cx="1564.7" cy="265.4" r="8.1" fill="#3b7dbb" stroke="#08589e" stroke-width="2.2"/>
<circle cx="1563.8" cy="319.2" r="8.1" fill="#3b7dbb" stroke="#08589e" stroke-width="2.2"/>
<circle cx="1563.8" cy="318.0" r="8.1" fill="#3b7dbb" stroke="#08589e" stroke-width="2.2"/>
<circle cx="1563.8" cy="316.5" r="8.1" fill="#3b7dbb" stroke="#08589e" stroke-width="2.2"/>
<circle cx="1563.8" cy="315.0" r="8.1" fill="#3b7dbb" stroke="#08589e" stroke-width="2.2"/>
<circle cx="1563.8" cy="313.5" r="8.1" fill="#3b7dbb" stroke="#08589e" stroke-width="2.2"/>
<circle cx="1563.8" cy="312.0" r="8.1" fill="#3b7dbb" stroke="#08589e" stroke-width="2.2"/>
<circle cx="1563.8" cy="310.0" r="8.1" fill="#3b7dbb" stroke="#08589e" stroke-width="2.2"/>
<circle cx="1563.8" cy="308.0" r="8.1" fill="#3b7dbb" stroke="#08589e" stroke-width="2.2"/>
<circle cx="1563.8" cy="306.0" r="8.1" fill="#3b7dbb" stroke="#08589e" stroke-width="2.2"/>
<circle cx="1563.8" cy="304.0" r="8.1" fill="#3b7dbb" stroke="#08589e" stroke-width="2.2"/>
<circle cx="1563.8" cy="302.0" r="8.1" fill="#3b7dbb" stroke="#08589e" stroke-width="2.2"/>
<circle cx="1563.8" cy="300.0" r="8.1" fill="#3b7dbb" stroke="#08589e" stroke-width="2.2"/>
<circle cx="1563.8" cy="298.0" r="8.1" fill="#3b7dbb" stroke="#08589e" stroke-width="2.2"/>
<circle cx="1563.8" cy="296.0" r="8.1" fill="#3b7dbb" stroke="#08589e" stroke-width="2.2"/>
<circle cx="1564.7" cy="290.8" r="8.1" fill="#3b7dbb" stroke="#08589e" stroke-width="2.2"/>
<circle cx="1568.2" cy="312.1" r="8.1" fill="#3b7dbb" stroke="#08589e" stroke-width="2.2"/>
<line x1="412.1" y1="89.0" x2="597" y2="89.0" stroke="#0000ff" stroke-width="3.4"/>
<g stroke="#0000ff" stroke-width="3.8" fill="none">
<line x1="421.0" y1="81" x2="421.0" y2="97.8"/>
<line x1="429.0" y1="81" x2="429.0" y2="97.8"/>
<line x1="437.0" y1="81" x2="437.0" y2="97.8"/>
<line x1="445.0" y1="81" x2="445.0" y2="97.8"/>
<line x1="453.0" y1="81" x2="453.0" y2="97.8"/>
<line x1="461.0" y1="81" x2="461.0" y2="97.8"/>
<line x1="469.0" y1="81" x2="469.0" y2="97.8"/>
<line x1="477.0" y1="81" x2="477.0" y2="97.8"/>
<line x1="485.0" y1="81" x2="485.0" y2="97.8"/>
<line x1="493.0" y1="81" x2="493.0" y2="97.8"/>
<line x1="501.0" y1="81" x2="501.0" y2="97.8"/>
<line x1="509.0" y1="81" x2="509.0" y2="97.8"/>
<line x1="517.0" y1="81" x2="517.0" y2="97.8"/>
<line x1="525.0" y1="81" x2="525.0" y2="97.8"/>
<line x1="533.0" y1="81" x2="533.0" y2="97.8"/>
<line x1="541.0" y1="81" x2="541.0" y2="97.8"/>
<line x1="549.0" y1="81" x2="549.0" y2="97.8"/>
<line x1="557.0" y1="81" x2="557.0" y2="97.8"/>
<line x1="565.0" y1="81" x2="565.0" y2="97.8"/>
<line x1="573.0" y1="81" x2="573.0" y2="97.8"/>
<line x1="581.0" y1="81" x2="581.0" y2="97.8"/>
<line x1="589.0" y1="81" x2="589.0" y2="97.8"/>
</g>
<circle cx="598" cy="88.6" r="2.4" fill="#1b6fa8"/>
<g stroke="#262626" stroke-width="3" fill="none" stroke-linecap="butt" shape-rendering="crispEdges">
<rect x="235.6" y="89.5" width="1408.0" height="961.0"/>
<line x1="355.18" y1="1050.5" x2="355.18" y2="1034.6"/>
<line x1="355.18" y1="89.5" x2="355.18" y2="105.4"/>
<line x1="463.19" y1="1050.5" x2="463.19" y2="1034.6"/>
<line x1="463.19" y1="89.5" x2="463.19" y2="105.4"/>
<line x1="582.78" y1="1050.5" x2="582.78" y2="1034.6"/>
<line x1="582.78" y1="89.5" x2="582.78" y2="105.4"/>
<line x1="698.50" y1="1050.5" x2="698.50" y2="1034.6"/>
<line x1="698.50" y1="89.5" x2="698.50" y2="105.4"/>
<line x1="818.09" y1="1050.5" x2="818.09" y2="1034.6"/>
<line x1="818.09" y1="89.5" x2="818.09" y2="105.4"/>
<line x1="933.81" y1="1050.5" x2="933.81" y2="1034.6"/>
<line x1="933.81" y1="89.5" x2="933.81" y2="105.4"/>
<line x1="1053.40" y1="1050.5" x2="1053.40" y2="1034.6"/>
<line x1="1053.40" y1="89.5" x2="1053.40" y2="105.4"/>
<line x1="1172.98" y1="1050.5" x2="1172.98" y2="1034.6"/>
<line x1="1172.98" y1="89.5" x2="1172.98" y2="105.4"/>
<line x1="1288.71" y1="1050.5" x2="1288.71" y2="1034.6"/>
<line x1="1288.71" y1="89.5" x2="1288.71" y2="105.4"/>
<line x1="1408.29" y1="1050.5" x2="1408.29" y2="1034.6"/>
<line x1="1408.29" y1="89.5" x2="1408.29" y2="105.4"/>
<line x1="1524.02" y1="1050.5" x2="1524.02" y2="1034.6"/>
<line x1="1524.02" y1="89.5" x2="1524.02" y2="105.4"/>
<line x1="235.6" y1="930.38" x2="251.5" y2="930.38"/>
<line x1="1643.6" y1="930.38" x2="1627.6999999999998" y2="930.38"/>
<line x1="235.6" y1="810.25" x2="251.5" y2="810.25"/>
<line x1="1643.6" y1="810.25" x2="1627.6999999999998" y2="810.25"/>
<line x1="235.6" y1="690.12" x2="251.5" y2="690.12"/>
<line x1="1643.6" y1="690.12" x2="1627.6999999999998" y2="690.12"/>
<line x1="235.6" y1="570.00" x2="251.5" y2="570.00"/>
<line x1="1643.6" y1="570.00" x2="1627.6999999999998" y2="570.00"/>
<line x1="235.6" y1="449.88" x2="251.5" y2="449.88"/>
<line x1="1643.6" y1="449.88" x2="1627.6999999999998" y2="449.88"/>
<line x1="235.6" y1="329.75" x2="251.5" y2="329.75"/>
<line x1="1643.6" y1="329.75" x2="1627.6999999999998" y2="329.75"/>
<line x1="235.6" y1="209.62" x2="251.5" y2="209.62"/>
<line x1="1643.6" y1="209.62" x2="1627.6999999999998" y2="209.62"/>
</g>
<g font-family="Liberation Serif, serif" font-size="38.6" fill="#262626">
<text x="220.3" y="1064.7" text-anchor="end">30</text>
<text x="220.3" y="944.6" text-anchor="end">31</text>
<text x="220.3" y="824.5" text-anchor="end">32</text>
<text x="220.3" y="704.3" text-anchor="end">33</text>
<text x="220.3" y="584.2" text-anchor="end">34</text>
<text x="220.3" y="464.1" text-anchor="end">35</text>
<text x="220.3" y="343.9" text-anchor="end">36</text>
<text x="220.3" y="223.8" text-anchor="end">37</text>
<text x="220.3" y="103.7" text-anchor="end">38</text>
<text font-size="37.8" transform="translate(253.1,1097.3) rotate(-30)" text-anchor="end">01/01/23</text>
<text font-size="37.8" transform="translate(372.7,1097.3) rotate(-30)" text-anchor="end">01/02/23</text>
<text font-size="37.8" transform="translate(480.7,1097.3) rotate(-30)" text-anchor="end">01/03/23</text>
<text font-size="37.8" transform="translate(600.3,1097.3) rotate(-30)" text-anchor="end">01/04/23</text>
<text font-size="37.8" transform="translate(716.0,1097.3) rotate(-30)" text-anchor="end">01/05/23</text>
<text font-size="37.8" transform="translate(835.6,1097.3) rotate(-30)" text-anchor="end">01/06/23</text>
<text font-size="37.8" transform="translate(951.3,1097.3) rotate(-30)" text-anchor="end">01/07/23</text>
<text font-size="37.8" transform="translate(1070.9,1097.3) rotate(-30)" text-anchor="end">01/08/23</text>
<text font-size="37.8" transform="translate(1190.5,1097.3) rotate(-30)" text-anchor="end">01/09/23</text>
<text font-size="37.8" transform="translate(1306.2,1097.3) rotate(-30)" text-anchor="end">01/10/23</text>
<text font-size="37.8" transform="translate(1425.8,1097.3) rotate(-30)" text-anchor="end">01/11/23</text>
<text font-size="37.8" transform="translate(1541.5,1097.3) rotate(-30)" text-anchor="end">01/12/23</text>
<text font-size="37.8" transform="translate(1661.1,1097.3) rotate(-30)" text-anchor="end">01/01/24</text>
</g>
<text font-family="Liberation Serif, serif" font-size="41.6" fill="#262626" transform="translate(162.2,570) rotate(-90)" text-anchor="middle">Salinity (psu)</text>
<text font-family="Liberation Serif, serif" font-size="41.7" font-weight="bold" fill="#000" x="940.2" y="76.9" text-anchor="middle">CS Region</text>
<rect x="1698.6" y="88" width="490.8" height="461.2" fill="#fff" stroke="#262626" stroke-width="3.2"/>
<rect x="1711" y="102" width="125.40000000000009" height="22.8" fill="#b3d4e9"/>
<rect x="1711" y="143" width="125.40000000000009" height="22" fill="#eef3fa"/>
<rect x="1711" y="183.2" width="125.40000000000009" height="22.6" fill="#fcc5ae"/>
<rect x="1711" y="224.2" width="125.40000000000009" height="22.6" fill="#fef0e2"/>
<line x1="1711" y1="271.4" x2="1836.4" y2="271.4" stroke="#a5511f" stroke-width="3"/>
<circle cx="1773.6" cy="303.5" r="2.7" fill="#a5511f"/>
<circle cx="1773.6" cy="335.5" r="5.9" fill="#90ee90" stroke="#a5511f" stroke-width="2.4"/>
<circle cx="1773.6" cy="367.4" r="8.1" fill="#3b7dbb" stroke="#a5511f" stroke-width="2.2"/>
<line x1="1711" y1="399.1" x2="1836.4" y2="399.1" stroke="#08589e" stroke-width="3"/>
<circle cx="1773.6" cy="431.6" r="2.6" fill="#08589e"/><circle cx="1773.6" cy="431.6" r="0.7" fill="#9a45b0"/>
<path d="M1764.8999999999999,464.4h17.4M1773.6,455.7v17.4" stroke="#0000ff" stroke-width="3.7" fill="none"/>
<circle cx="1773.6" cy="496.4" r="5.9" fill="#90ee90" stroke="#08589e" stroke-width="2.4"/>
<circle cx="1773.6" cy="528.5" r="8.1" fill="#3b7dbb" stroke="#08589e" stroke-width="2.2"/>
<g font-family="Liberation Serif, serif" font-size="25" fill="#000">
<text x="1846.6" y="125.8">csiem1.7.0 (Bot 25<tspan dy="-10.5" font-size="20">th</tspan><tspan dy="10.5">-75</tspan><tspan dy="-10.5" font-size="20">th</tspan><tspan dy="10.5">)</tspan></text>
<text x="1846.6" y="166.5">csiem1.7.0 (Bot 5<tspan dy="-10.5" font-size="20">th</tspan><tspan dy="10.5">-95</tspan><tspan dy="-10.5" font-size="20">th</tspan><tspan dy="10.5">)</tspan></text>
<text x="1846.6" y="207.5">csiem1.7.0 (Surf 25<tspan dy="-10.5" font-size="20">th</tspan><tspan dy="10.5">-75</tspan><tspan dy="-10.5" font-size="20">th</tspan><tspan dy="10.5">)</tspan></text>
<text x="1846.6" y="248">csiem1.7.0 (Surf 5<tspan dy="-10.5" font-size="20">th</tspan><tspan dy="10.5">-95</tspan><tspan dy="-10.5" font-size="20">th</tspan><tspan dy="10.5">)</tspan></text>
<text x="1846.6" y="281">csiem1.7.0 (Surf Median)</text>
<text x="1846.6" y="312.8">DWER-CSMOORING (Surf)</text>
<text x="1846.6" y="344.5">DWER-CSMWQ (Surf)</text>
<text x="1846.6" y="376.3">WAMSI-WWMSP3-CTD (Surf)</text>
<text x="1846.6" y="408.9">csiem1.7.0 (Bot Median)</text>
<text x="1846.6" y="440.6">DWER-CSMOORING (Bot)</text>
<text x="1846.6" y="473">Outside Range (Bot)</text>
<text x="1846.6" y="504.6">DWER-CSMWQ (Bot)</text>
<text x="1846.6" y="536.7">WAMSI-WWMSP3-CTD (Bot)</text>
</g>
<rect x="1688.8" y="767.8" width="265.4" height="262.1" fill="#fff" stroke="#000" stroke-width="2"/>
<g font-family="Liberation Serif, serif" font-size="24.8" fill="#000" xml:space="preserve">
<text x="1710.6" y="802.8" font-weight="bold">Model skill metrics:</text>
<text x="1723.8" y="831.8">R</text><text x="1764" y="831.8">= 0.6024</text>
<text x="1723.8" y="861">BIAS</text><text x="1785.5" y="861">= 0.52%</text>
<text x="1723.8" y="889.7">MAE</text><text x="1790.6" y="889.7">= 0.2235</text>
<text x="1723.8" y="918.4">RMS</text><text x="1788.1" y="918.4">= 0.8692</text>
<text x="1723.8" y="947.6">NMAE</text><text x="1802" y="947.6">= 0.62%</text>
<text x="1723.8" y="976.5">NRMS</text><text x="1799.5" y="976.5">= 2.40%</text>
<text x="1723.8" y="1005.2">MEF</text><text x="1785.5" y="1005.2">= 0.3265</text>
</g>
</svg>
</body></html>
